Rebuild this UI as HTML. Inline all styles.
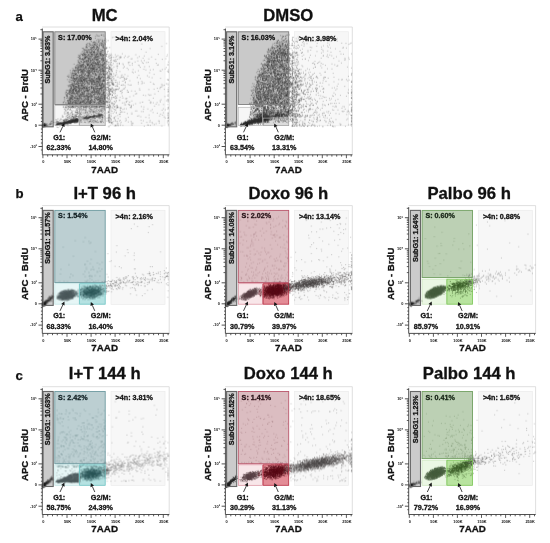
<!DOCTYPE html>
<html lang="en"><head><meta charset="utf-8"><title>Cell cycle analysis</title>
<style>html,body{margin:0;padding:0;background:#fff}svg{display:block;filter:blur(0.5px)}.d{filter:blur(0.45px)}text{font-family:"Liberation Sans",sans-serif;font-weight:700;fill:#111}</style></head>
<body><svg width="550" height="543" viewBox="0 0 550 543">
<rect width="550" height="543" fill="#fff"/>
<g><path d="M42.2 27H169.2V154.8" fill="none" stroke="#d6d6d6" stroke-width="0.8"/><rect x="111" y="31.7" width="54" height="94.1" fill="#f7f7f7" stroke="#ececec" stroke-width="0.7"/><rect x="54.8" y="31.8" width="50.4" height="72.7" fill="#c9c9c9" stroke="none" stroke-width="0"/><rect x="54.8" y="105.5" width="24.3" height="20.1" fill="#f6f6f6" stroke="none" stroke-width="0"/><rect x="79.6" y="105.5" width="25.6" height="20.1" fill="#dcdcdc" stroke="none" stroke-width="0"/><rect x="43.1" y="31.8" width="10.1" height="95" fill="#cbcbcb" stroke="none" stroke-width="0"/><g class="d" fill="none" stroke-linecap="round" stroke-width="5" transform="translate(42.6 31.5) scale(0.2)"><path d="M-1 471h0m0 1h0m1-3h0m0 11h0m1-7h0m1-3h0m0 5h0m2-3h0m0 1h0m0 3h0m1-13h0m1 12h0m1-9h0m0 3h0m0 1h0m0 2h0m0 2h0m1-6h0m0 2h0m0 5h0m1-6h0m0 2h0m1-10h0m2 7h0m1-4h0m0 6h0m1-2h0m1 0h0m1 0h0" stroke="#111" opacity="0.5"/><path d="M0 466h0m0 4h0m0 7h0m1-10h0m1 9h0m1-12h0m0 3h0m0 2h0m0 2h0m1-2h0m0 3h0m0 7h0m2-13h0m1-6h0m0 6h0m0 5h0m1-3h0m0 3h0m0 1h0m0 2h0m1-16h0m0 13h0m2-9h0m0 5h0m0 3h0m0 2h0m0 1h0m1-4h0m0 1h0m5-4h0" stroke="#111" opacity="0.5"/><path d="M3 466h0m3 4h0m0 4h0m1-10h0m0 5h0m0 4h0m2-11h0m0 8h0m0 3h0m0 3h0m1-3h0m0 1h0m1 2h0m2-16h0m0 9h0m2 6h0m2-9h0m2-4h0m0 12h0m1-6h0m0 6h0m2-12h0m1 8h0m4-2h0m7-4h0m1 4h0m1-8h0m2 4h0m3-3h0m1-7h0m0 10h0m2-15h0m1 10h0m2-11h0m8 6h0" stroke="#222" opacity="0.5"/><path d="M76 460h0m2 1h0m1-2h0m2-3h0m3 1h0m1 4h0m2-3h0m2 4h0m1-2h0m2 3h0m2-4h0m2 1h0m1-1h0m2 2h0m4-4h0m2-1h0m0 2h0m1 3h0m0 1h0m1-7h0m1 0h0m0 4h0m1-6h0m2 4h0m3-4h0m1-2h0m0 6h0m2 0h0m1-2h0m0 3h0m1-1h0m6-6h0m1-2h0m0 4h0m1 1h0m1-3h0m1 1h0m0 6h0m1-13h0m0 7h0m3-2h0m4 1h0m0 1h0m1-6h0m4 6h0m1 3h0m3-5h0m2-7h0m1 6h0m2-2h0m1-3h0m1 4h0m1 0h0m1 2h0m3-7h0m1-1h0m3-1h0m0 5h0m1 4h0m0 9h0m1-13h0m0 2h0m1 1h0m0 2h0m0 4h0m2-18h0m0 6h0m1 4h0m1-6h0m0 8h0m2-10h0m0 7h0m1 10h0m1-5h0m4-6h0m1-7h0m1 7h0" stroke="#2e2e2e" opacity="0.5"/><path d="M69 461h0m5 3h0m3 1h0m4-1h0m3-6h0m0 5h0m4-4h0m2-3h0m1 4h0m2-2h0m1 2h0m2 3h0m5-8h0m0 4h0m2 5h0m1 1h0m3-5h0m2-3h0m2 6h0m10-1h0m2-14h0m1 4h0m0 5h0m3-2h0m1-5h0m0 4h0m2-4h0m2 3h0m1-3h0m2 0h0m0 1h0m0 5h0m2 0h0m3-3h0m3-5h0m0 3h0m1-4h0m1 0h0m0 1h0m0 5h0m1-8h0m0 7h0m1 0h0m1 0h0m2 1h0m1-1h0m2-6h0m1-7h0m0 10h0m3-4h0m0 3h0m3-3h0m1-6h0m2 5h0m0 1h0m1 6h0m1-4h0m0 2h0m0 5h0m2-9h0m0 2h0m1-11h0m0 14h0m1 0h0m1-12h0m1-2h0m0 9h0m2-2h0m0 1h0m0 5h0m1-7h0m0 8h0m1-4h0m1-4h0m1-7h0m0 7h0m1 8h0m1-7h0" stroke="#2e2e2e" opacity="0.5"/><path d="M69 464h0m9 1h0m6-3h0m2 1h0m1-4h0m6-1h0m0 4h0m1-1h0m1 0h0m1 1h0m4-1h0m1-2h0m5 3h0m2-8h0m0 2h0m0 3h0m1-4h0m2-7h0m2 2h0m2 4h0m3 0h0m0 1h0m0 1h0m1-11h0m2 12h0m2-6h0m4 9h0m5-10h0m0 2h0m0 6h0m1 0h0m2-9h0m0 2h0m1-5h0m0 2h0m0 2h0m1 4h0m1 1h0m1-6h0m1 3h0m1 1h0m1-3h0m3 4h0m1-6h0m1-1h0m0 8h0m1-6h0m1-6h0m0 9h0m0 2h0m2-14h0m1 10h0m2 0h0m3 6h0m2-1h0m1-7h0m0 1h0m2-2h0m1-4h0m0 2h0m0 7h0m5-14h0m0 4h0m0 1h0m3-7h0m0 5h0m0 3h0m1-3h0m0 4h0m0 1h0m1-5h0m0 3h0m2-4h0m0 6h0m0 5h0m1-7h0m0 3h0m3 5h0m1-11h0" stroke="#2e2e2e" opacity="0.5"/><path d="M67 468h0m1 0h0m3 0h0m1-5h0m2 0h0m0 4h0m2-1h0m2-9h0m0 7h0m3 0h0m2-2h0m7-4h0m1 3h0m1-2h0m6 1h0m1-1h0m1 6h0m1-11h0m1 7h0m2-10h0m3 7h0m2 3h0m3-3h0m1 1h0m2-6h0m0 1h0m0 1h0m1 3h0m0 1h0m1-4h0m1-2h0m0 2h0m1-1h0m1 0h0m1 5h0m8-8h0m1-7h0m2 8h0m3 0h0m1-7h0m0 13h0m1-4h0m6-4h0m2 3h0m4-11h0m0 2h0m0 2h0m0 3h0m1-4h0m0 2h0m0 3h0m2-6h0m0 6h0m0 1h0m3-9h0m3 4h0m1-1h0m0 3h0m0 4h0m1-14h0m0 6h0m0 1h0m0 6h0m1-2h0m0 1h0m0 4h0m1-9h0m4-3h0m0 1h0m2 2h0m3 7h0m1-17h0m0 10h0m1 1h0m3-2h0m1 5h0" stroke="#2e2e2e" opacity="0.5"/><path d="M68 470h0m6-5h0m0 1h0m1-4h0m0 3h0m6-3h0m0 4h0m7-6h0m2-5h0m0 7h0m2-3h0m1 0h0m3 0h0m1-3h0m0 2h0m4 1h0m4 1h0m2-7h0m2 2h0m0 2h0m2-3h0m1 6h0m5 4h0m1-8h0m4 2h0m2-10h0m0 14h0m1-10h0m0 8h0m1 3h0m1-12h0m0 2h0m2 2h0m2-1h0m1-3h0m2-4h0m0 11h0m1-12h0m5-5h0m0 18h0m1-8h0m0 5h0m1-9h0m0 6h0m0 4h0m1-4h0m0 1h0m4-6h0m1-3h0m1-3h0m1-1h0m0 4h0m2-7h0m0 12h0m1-5h0m2-1h0m2 4h0m1-3h0m0 3h0m2 3h0m1-11h0m0 2h0m0 2h0m1 4h0m1-7h0m3 5h0m1-6h0m1 6h0m1 9h0m1-3h0m1-8h0m1 3h0m2-7h0m1 2h0m0 1h0m1 9h0m2-9h0m1 3h0" stroke="#2e2e2e" opacity="0.5"/><path d="M71 462h0m1 0h0m0 4h0m0 2h0m3-7h0m2 6h0m7-7h0m1 0h0m0 5h0m3 1h0m1-5h0m3 2h0m2-2h0m2-1h0m3-1h0m0 2h0m0 3h0m2-8h0m3 7h0m4-15h0m1 4h0m1 5h0m0 2h0m1-4h0m2-3h0m0 10h0m1-4h0m0 2h0m0 1h0m7-6h0m0 1h0m1-4h0m0 2h0m1 1h0m0 3h0m2-2h0m1-4h0m0 2h0m3 1h0m1 0h0m1-3h0m0 2h0m5-4h0m0 2h0m0 5h0m2-6h0m2-8h0m1 3h0m0 15h0m1-18h0m0 2h0m2 8h0m0 5h0m1-9h0m0 3h0m5-2h0m1 0h0m2-1h0m0 4h0m1-5h0m0 5h0m1-4h0m1-4h0m1 3h0m0 2h0m1-8h0m3 3h0m2 3h0m1-2h0m2-5h0m0 2h0m2-5h0m1 1h0m0 5h0m5-4h0m0 6h0m0 4h0m3-3h0m1-6h0" stroke="#2e2e2e" opacity="0.5"/><path d="M66 453h0m0 10h0m5-13h0m1 8h0m1-5h0m6-4h0m7 22h0m21-25h0m10-8h0m9 0h0m1 4h0m6 2h0m5 2h0m1 3h0m24-23h0m3-6h0m4 4h0m9-14h0m7 2h0m1 43h0m12-15h0m13-7h0m0 4h0m3-8h0m1 2h0m4 3h0m3-7h0m6 7h0m2-5h0m2 1h0m2-1h0m4-2h0m10-4h0m1 7h0m1-2h0m1-3h0m4-4h0m0 4h0m0 6h0m3-9h0m5 3h0m5-4h0m1 5h0m1-1h0m1 0h0m5-3h0m1-2h0m2-3h0m1 7h0m4-6h0m3 2h0m1 5h0m2-7h0m1-7h0m3 6h0m2-2h0" stroke="#3a3a3a" opacity="0.5"/><path d="M56 455h0m10-14h0m0 12h0m7 3h0m5-7h0m1 6h0m9 16h0m16-22h0m3-4h0m3 18h0m5-19h0m1-1h0m3-3h0m8 31h0m9-37h0m2 27h0m4-8h0m3-14h0m14-17h0m6 7h0m6-15h0m4 11h0m19 3h0m12 7h0m2 0h0m5-5h0m3-4h0m0 2h0m7 0h0m5-1h0m3 4h0m2 0h0m1-3h0m1 2h0m3-5h0m2 4h0m4-1h0m4-3h0m8 3h0m3 5h0m1-10h0m0 9h0m0 4h0m1-10h0m1-1h0m1-3h0m5-4h0m2 3h0m11-1h0m0 9h0m2-11h0m1 10h0m2-13h0m1 2h0m11 11h0m2-7h0" stroke="#3a3a3a" opacity="0.5"/><path d="M76 437h0m0 22h0m2-2h0m4 4h0m4-16h0m2 15h0m2-1h0m2-5h0m7 11h0m1-7h0m23-2h0m6-9h0m0 15h0m3-46h0m14 22h0m11-8h0m2 20h0m0 2h0m4-19h0m9 10h0m13-39h0m25 26h0m4 1h0m2-3h0m4-3h0m1 7h0m3 3h0m2 1h0m2-8h0m0 6h0m7-7h0m1 0h0m0 3h0m1-5h0m2 1h0m0 2h0m4 10h0m4-7h0m2-3h0m4-3h0m3-3h0m5-2h0m12 8h0m3-1h0m4-8h0m1 5h0m2-5h0m3 8h0m5-9h0m0 4h0m2-7h0m0 10h0m3-10h0m0 3h0m0 2h0m5 12h0" stroke="#3a3a3a" opacity="0.5"/><path d="M70 443h0m3 35h0m2-22h0m1 2h0m2 22h0m12-41h0m18 15h0m7-15h0m1 8h0m2-14h0m3 18h0m1-12h0m22-15h0m7 13h0m1-24h0m0 11h0m3 5h0m2 8h0m8 2h0m3-21h0m9-16h0m2 27h0m1 7h0m3-8h0m16-3h0m5 10h0m3-6h0m1 6h0m3-1h0m7 0h0m1-5h0m2 2h0m3 3h0m3-2h0m3-9h0m0 5h0m1 3h0m4-1h0m5-6h0m0 7h0m1-5h0m2 1h0m6-2h0m1 8h0m7-8h0m2-2h0m0 9h0m2-9h0m12 1h0m4-13h0m2 7h0m2-6h0m0 9h0m3-3h0m0 7h0m9-6h0" stroke="#3a3a3a" opacity="0.5"/><path d="M71 465h0m2-16h0m2 15h0m6 1h0m3-11h0m11 11h0m2-4h0m2-19h0m5 17h0m5-17h0m15 25h0m2-35h0m2 10h0m3-16h0m0 6h0m0 18h0m3-4h0m19-12h0m12-9h0m3 1h0m3-14h0m32 16h0m8 1h0m1 3h0m2 4h0m2-1h0m7-5h0m6 0h0m3 4h0m1-6h0m1 3h0m1-2h0m5-5h0m1 3h0m1-4h0m2 2h0m9 1h0m5-7h0m0 6h0m1 3h0m1-7h0m8 2h0m1 5h0m1-4h0m5 4h0m2-3h0m3-3h0m2-6h0m1 9h0m2-7h0m2 5h0m1-4h0m0 1h0m6-7h0m6 15h0m2-10h0" stroke="#3a3a3a" opacity="0.5"/><path d="M102 363h0m1 12h0m2 68h0m5-4h0m2-61h0m6-74h0m0 20h0m1-22h0m0 17h0m3-1h0m0 91h0m1-99h0m1 10h0m0 26h0m1-18h0m1 45h0m0 34h0m1-73h0m1 24h0m1 15h0m1-29h0m0 35h0m1-162h0m0 126h0m0 22h0m0 89h0m2-158h0m0 6h0m1 61h0m1-33h0m1-36h0m0 47h0m0 52h0m1-5h0m1-193h0m0 246h0m1-52h0m1-161h0m1 54h0m0 81h0m1-89h0m0 46h0m1 22h0m0 97h0m1-159h0m0 54h0m0 17h0m0 87h0m0 4h0m1-214h0m0 105h0m0 4h0m1 23h0m1 21h0m0 34h0m1-153h0m1 29h0m0 74h0m1-91h0m0 34h0m0 30h0m0 14h0m0 11h0m0 13h0m1-151h0m0 218h0m1-196h0m0 29h0m0 15h0m0 36h0m0 46h0m1-152h0m0 66h0m0 22h0m1-21h0m1-29h0m0 121h0m1-3h0m1-6h0m1-28h0m1-111h0m0 1h0m0 6h0m0 26h0m0 168h0m1-181h0m0 30h0m0 45h0m0 3h0m1-45h0m0 8h0m0 58h0m1-156h0m0 26h0m0 206h0m1-247h0m0 148h0m0 110h0m1-205h0m0 119h0m1-59h0m0 4h0m0 63h0m0 7h0m0 37h0m1-169h0m0 108h0m1-49h0m0 4h0m0 47h0m1-130h0m0 17h0m0 42h0m0 2h0m1-107h0m0 155h0m0 35h0m1-81h0m2 70h0m0 20h0m1-72h0m0 96h0m1-78h0m1-132h0m0 156h0m1-32h0m0 52h0m0 48h0m1-30h0m1-106h0m0 31h0m1-44h0m0 27h0m0 56h0m1-105h0m0 114h0m0 60h0m1-190h0m0 80h0m0 25h0m1 99h0m1-68h0m2-112h0m0 50h0m0 10h0m0 22h0m1-157h0m0 92h0m1-41h0m0 19h0m0 204h0m1-223h0m1-30h0m0 45h0m0 22h0m0 152h0m1-272h0m0 93h0m0 20h0m0 29h0m0 86h0m0 12h0m1-130h0m0 12h0m0 97h0m0 20h0m1-236h0m0 22h0m0 44h0m0 65h0m0 47h0m0 71h0m1-215h0m0 14h0m0 147h0m1-121h0m0 17h0m0 74h0m1-90h0m0 51h0m0 30h0m0 30h0m0 127h0m2-299h0m0 10h0m0 26h0m1-54h0m0 148h0m0 90h0m1-124h0m0 102h0m1-116h0m0 32h0m0 35h0m1 89h0m1-218h0m0 3h0m1-34h0m0 11h0m0 127h0m1-134h0m0 31h0m0 20h0m0 183h0m1-216h0m0 93h0m0 73h0m1-184h0m0 91h0m0 41h0m0 5h0m0 94h0m0 66h0m1-205h0m0 24h0m0 79h0m0 9h0m0 6h0m1-244h0m0 12h0m0 117h0m0 23h0m0 19h0m1-129h0m0 96h0m1-139h0m0 20h0m0 16h0m0 19h0m0 32h0m0 44h0m0 64h0m0 15h0m1-203h0m0 290h0m1-48h0m1-177h0m0 30h0m0 164h0m1-208h0m0 157h0m0 31h0m0 48h0m1-250h0m0 24h0m0 56h0m0 144h0m0 54h0m1-285h0m0 6h0m0 200h0m1-87h0m0 49h0m0 65h0m1-277h0m0 146h0m0 87h0m0 32h0m0 56h0m1-248h0m0 107h0m0 39h0m1-248h0m0 49h0m0 38h0m0 70h0m0 3h0m0 14h0m1 171h0m1-258h0m0 215h0m1-285h0m0 35h0m0 75h0m0 9h0m0 46h0m0 29h0m1 7h0m1-162h0m1 27h0m0 172h0m2-187h0m1-50h0m0 95h0m0 56h0m0 22h0m0 62h0m0 108h0m1-253h0m0 17h0m0 57h0m0 25h0m0 12h0m1-197h0m0 54h0m0 17h0m0 182h0m0 1h0m0 24h0m1-250h0m0 10h0m0 221h0m1-264h0m0 104h0m0 84h0m1-146h0m0 157h0m0 1h0m1-217h0m0 82h0m0 40h0m0 7h0m0 32h0m0 1h0m0 7h0m1-46h0m0 13h0m0 17h0m0 15h0m0 138h0m2-271h0m0 43h0m0 92h0m0 66h0m0 20h0m0 27h0m0 11h0m2 19h0m0 10h0m1-284h0m1 17h0m0 187h0m1-135h0m0 169h0m0 36h0m0 7h0m1-291h0m0 144h0m0 104h0m0 1h0m0 61h0m1-300h0m1-17h0m0 95h0m0 47h0m1-101h0m0 52h0m0 155h0m0 57h0m1-322h0m0 64h0m0 18h0m0 11h0m0 2h0m0 48h0m0 32h0m0 19h0m0 94h0m1-230h0m0 52h0m0 44h0m0 10h0m1-124h0m1 129h0m0 15h0m0 93h0m1-195h0m0 88h0m0 2h0m0 170h0m1-261h0m0 92h0m0 14h0m0 160h0m1-132h0m1-208h0m0 82h0m0 71h0m1-101h0m0 16h0m0 34h0m0 1h0m0 265h0m1-353h0m0 6h0m0 2h0m0 86h0m0 39h0m0 87h0m1-266h0m0 10h0m0 93h0m0 143h0m1-219h0m0 13h0m0 135h0m0 21h0m0 13h0m0 53h0m0 47h0m0 50h0m1-249h0m0 78h0m0 59h0m1-127h0m0 24h0m0 57h0m0 93h0m0 51h0m1-275h0m0 83h0m0 168h0m1-313h0m0 94h0m0 290h0m1-293h0m0 55h0m0 7h0m0 20h0m1-213h0m0 118h0m0 144h0m1-169h0m0 47h0m0 88h0m0 5h0m0 16h0m0 30h0m1-184h0m1 31h0m0 141h0m1-219h0m0 11h0m0 104h0m0 1h0m0 13h0m0 17h0m0 210h0m1-231h0m0 41h0m0 28h0m0 17h0m0 86h0m1-62h0m0 99h0m1-291h0m0 12h0m0 226h0m1-228h0m0 28h0m0 34h0m0 80h0m1-192h0m0 50h0m0 38h0m0 24h0m0 78h0m1-153h0m0 74h0m0 47h0m0 109h0m1-175h0m0 25h0m0 15h0m0 164h0m1-211h0m0 1h0m0 4h0m0 145h0m0 57h0m1-280h0m0 140h0m0 39h0m0 98h0m1-193h0m0 101h0m1-158h0m0 63h0m0 134h0m0 11h0m0 16h0m1-259h0m0 117h0m0 88h0m0 133h0m1-196h0m0 10h0m0 23h0m1 52h0m0 47h0m1-173h0m0 49h0m0 15h0m0 70h0m0 44h0m0 19h0m1-256h0m0 64h0m0 1h0m0 24h0m0 225h0m1-306h0m0 65h0m0 67h0m0 106h0m1-278h0m0 182h0m1-153h0m0 58h0m0 46h0m0 24h0m0 101h0m0 25h0m0 46h0m1-316h0m0 87h0m0 47h0m0 8h0m0 40h0m0 107h0m1-292h0m0 70h0m0 62h0m0 73h0m0 63h0m0 60h0m0 23h0m1-275h0m0 105h0m0 53h0m0 2h0m0 19h0m1-40h0m0 39h0m1-251h0m0 37h0m0 217h0m1-338h0m0 102h0m0 225h0m0 1h0m1-224h0m1-9h0m0 30h0m0 11h0m0 26h0m0 51h0m0 62h0m0 82h0m1-285h0m0 35h0m0 46h0m0 88h0m0 4h0m0 96h0m0 14h0m1-280h0m0 4h0m0 29h0m0 59h0m0 74h0m1-198h0m0 91h0m0 173h0m0 61h0m0 8h0m0 54h0m1-353h0m0 32h0m0 7h0m1 63h0m0 83h0m0 26h0m1-160h0m0 45h0m1-43h0m0 23h0m0 10h0m0 21h0m0 61h0m0 83h0m0 2h0m1-272h0m0 110h0m0 85h0m1-132h0m0 181h0m0 4h0m1-301h0m0 50h0m0 78h0m0 121h0m0 1h0m0 94h0m1-208h0m0 81h0m0 6h0m0 41h0m1-194h0m0 7h0m0 149h0m0 52h0m0 34h0m1-292h0m0 115h0m0 201h0m2-301h0m0 83h0m0 58h0m0 181h0m1-191h0m0 27h0m0 21h0m0 99h0m0 16h0m0 4h0m0 35h0m1-290h0m0 179h0m0 41h0m1-287h0m0 102h0m0 185h0m0 3h0m0 22h0m1-227h0m0 93h0m0 159h0m3-172h0m0 149h0m1-226h0m0 27h0m1 182h0m1-87h0m0 189h0m1-165h0m1-39h0m1 5h0m0 97h0m3-286h0m1 302h0m0 100h0m1-192h0m0 31h0m3-63h0m0 131h0m4-175h0m0 74h0m0 16h0m0 103h0m8-41h0m0 91h0m5-103h0m0 38h0m1-105h0m3 10h0m2 32h0m15-99h0m2 77h0m0 16h0m1-27h0m16 133h0m11-37h0m10-72h0m20 79h0" stroke="#383838" opacity="0.5"/><path d="M107 448h0m2-98h0m6 26h0m0 2h0m7-84h0m0 74h0m1-45h0m0 105h0m1-40h0m1-78h0m1 41h0m2 59h0m1-50h0m2-110h0m1 89h0m0 11h0m2-80h0m0 92h0m2-70h0m0 39h0m1-30h0m0 37h0m1-53h0m0 45h0m0 6h0m0 25h0m1-87h0m0 78h0m0 4h0m1-151h0m0 102h0m0 75h0m1-90h0m0 40h0m1-2h0m1 48h0m1-69h0m1-63h0m0 7h0m1 32h0m0 35h0m0 100h0m1-184h0m0 81h0m0 14h0m1-134h0m0 64h0m0 59h0m0 8h0m0 26h0m1-48h0m0 17h0m0 42h0m0 7h0m0 8h0m1-161h0m0 76h0m1-86h0m0 58h0m0 161h0m1-236h0m0 105h0m1-49h0m0 43h0m0 24h0m1-123h0m0 51h0m0 96h0m0 11h0m2-140h0m0 61h0m0 16h0m0 82h0m1-150h0m1-22h0m2 25h0m0 17h0m0 10h0m0 6h0m0 28h0m0 161h0m1-235h0m0 52h0m0 121h0m1-190h0m0 82h0m1 12h0m0 91h0m1-140h0m0 7h0m0 50h0m0 3h0m0 62h0m0 9h0m1-188h0m0 34h0m0 93h0m1-58h0m0 103h0m0 14h0m1-120h0m0 63h0m0 131h0m2-68h0m0 14h0m1-69h0m0 46h0m0 3h0m0 68h0m1-242h0m0 210h0m1-151h0m0 107h0m1-174h0m0 33h0m0 3h0m0 27h0m0 39h0m0 35h0m0 10h0m0 3h0m0 18h0m1-134h0m0 92h0m1-50h0m0 48h0m1-30h0m0 9h0m1 10h0m1-48h0m0 23h0m0 5h0m1 66h0m1-136h0m0 50h0m0 37h0m0 94h0m1-235h0m0 84h0m0 11h0m0 56h0m0 7h0m0 111h0m1-179h0m0 31h0m1 44h0m0 20h0m1-212h0m0 163h0m0 9h0m0 12h0m0 11h0m1-144h0m0 58h0m0 90h0m1-184h0m1-6h0m0 105h0m0 84h0m0 11h0m1-205h0m0 76h0m0 29h0m0 77h0m0 134h0m1-254h0m1-4h0m0 53h0m1 112h0m1-136h0m0 152h0m1-256h0m0 108h0m0 46h0m0 52h0m0 27h0m0 22h0m1-189h0m0 123h0m0 12h0m0 10h0m0 90h0m1-130h0m0 6h0m0 31h0m0 131h0m1-212h0m0 7h0m0 26h0m0 35h0m0 60h0m1-195h0m0 137h0m1-4h0m1-222h0m0 52h0m0 68h0m0 63h0m1-45h0m0 48h0m1-172h0m0 42h0m0 165h0m0 18h0m0 1h0m1-82h0m0 1h0m0 69h0m0 36h0m1-3h0m1-106h0m1-151h0m0 20h0m0 96h0m0 75h0m0 70h0m1-2h0m0 5h0m1-50h0m0 27h0m0 1h0m0 24h0m0 3h0m1-261h0m0 205h0m1-56h0m0 69h0m1-11h0m0 38h0m1-166h0m0 21h0m0 128h0m0 129h0m1-254h0m0 60h0m1-165h0m0 22h0m0 2h0m0 132h0m0 85h0m0 70h0m1-172h0m0 53h0m0 89h0m1-244h0m0 323h0m2-279h0m0 13h0m0 96h0m0 52h0m0 102h0m1-232h0m0 79h0m0 82h0m1-182h0m0 135h0m0 35h0m0 16h0m1-293h0m0 157h0m1 49h0m0 128h0m1-221h0m0 42h0m0 130h0m1-201h0m0 7h0m0 167h0m0 8h0m1-262h0m0 38h0m0 34h0m1 41h0m0 74h0m0 12h0m0 8h0m0 18h0m0 42h0m1-244h0m0 120h0m0 67h0m0 19h0m1-163h0m0 45h0m0 133h0m0 93h0m1-271h0m0 66h0m0 5h0m0 102h0m1-28h0m0 46h0m0 1h0m0 88h0m1-265h0m0 65h0m0 94h0m0 28h0m0 1h0m1-96h0m0 109h0m0 8h0m1-282h0m0 158h0m0 29h0m0 74h0m0 44h0m1-331h0m0 117h0m0 81h0m0 104h0m1-156h0m0 98h0m0 15h0m0 97h0m1-285h0m0 71h0m1-21h0m0 40h0m1 22h0m0 69h0m1-248h0m0 64h0m0 117h0m0 2h0m0 96h0m1-242h0m0 59h0m0 20h0m0 264h0m1-269h0m0 22h0m0 42h0m0 116h0m0 3h0m1-18h0m0 97h0m1-353h0m0 133h0m0 82h0m0 37h0m0 13h0m1-67h0m0 37h0m1-193h0m0 115h0m0 31h0m1-110h0m0 205h0m0 82h0m1-350h0m0 179h0m1-84h0m0 24h0m0 17h0m1 130h0m0 67h0m1-266h0m0 38h0m0 91h0m0 77h0m0 72h0m1-392h0m0 57h0m0 99h0m0 46h0m0 3h0m0 89h0m0 75h0m1-347h0m0 3h0m0 34h0m0 65h0m0 121h0m0 46h0m1-279h0m1 34h0m0 2h0m0 71h0m0 25h0m1-123h0m1 210h0m1-224h0m0 83h0m0 36h0m0 33h0m0 34h0m0 63h0m1-123h0m0 110h0m0 39h0m0 15h0m0 47h0m1-298h0m0 46h0m0 8h0m0 155h0m0 40h0m1-284h0m0 48h0m0 178h0m0 1h0m0 5h0m0 15h0m0 59h0m1-33h0m1-209h0m0 37h0m0 61h0m0 51h0m0 57h0m1-119h0m1-150h0m0 212h0m0 3h0m0 27h0m0 43h0m1-64h0m0 13h0m0 41h0m1-231h0m0 132h0m1-49h0m1-91h0m0 72h0m0 14h0m0 110h0m0 22h0m0 10h0m1-250h0m0 54h0m0 44h0m0 32h0m0 35h0m0 115h0m1-203h0m0 142h0m1-285h0m0 255h0m0 38h0m0 69h0m1-319h0m0 175h0m0 28h0m0 40h0m1-226h0m1 96h0m1-151h0m0 92h0m0 35h0m0 159h0m0 70h0m1-127h0m0 127h0m1-300h0m0 14h0m0 32h0m0 106h0m0 53h0m1-188h0m0 232h0m1-159h0m0 15h0m0 126h0m1-83h0m0 5h0m1-208h0m0 129h0m1-102h0m0 32h0m0 124h0m0 229h0m1-376h0m0 97h0m0 12h0m0 12h0m0 36h0m0 32h0m0 39h0m0 14h0m0 47h0m0 80h0m1-169h0m0 6h0m0 20h0m0 6h0m0 7h0m1-255h0m0 69h0m0 23h0m0 59h0m0 30h0m0 69h0m0 38h0m0 46h0m0 23h0m1-64h0m0 28h0m1-171h0m1-136h0m0 55h0m0 71h0m0 134h0m0 33h0m0 18h0m0 3h0m1-209h0m1-46h0m0 80h0m0 90h0m0 112h0m1-250h0m0 53h0m0 126h0m0 13h0m0 35h0m1-317h0m0 175h0m0 46h0m1-188h0m0 90h0m0 48h0m0 33h0m0 11h0m1-163h0m0 57h0m1-46h0m0 172h0m0 31h0m1-256h0m0 246h0m0 15h0m1-269h0m0 136h0m0 16h0m0 17h0m1-124h0m0 12h0m0 27h0m0 142h0m1-239h0m0 67h0m0 73h0m0 135h0m0 82h0m0 24h0m1-257h0m0 53h0m1 48h0m0 7h0m1-117h0m0 40h0m0 7h0m0 93h0m0 13h0m0 34h0m0 31h0m1-243h0m0 156h0m1-222h0m0 51h0m0 52h0m0 74h0m0 56h0m0 52h0m1-158h0m0 112h0m0 52h0m0 5h0m0 20h0m1-370h0m0 171h0m0 161h0m0 27h0m1-231h0m0 56h0m0 172h0m0 1h0m0 8h0m1-313h0m0 30h0m0 58h0m0 7h0m0 18h0m0 128h0m0 22h0m1-241h0m0 155h0m0 58h0m1-25h0m0 42h0m0 45h0m1-255h0m0 118h0m0 39h0m1-110h0m0 18h0m0 118h0m0 44h0m0 14h0m1-224h0m0 160h0m0 41h0m1-111h0m0 9h0m1-118h0m0 173h0m1-168h0m0 148h0m0 38h0m0 36h0m0 17h0m1-161h0m0 139h0m0 49h0m2-223h0m0 26h0m0 28h0m0 84h0m1-112h0m0 125h0m0 48h0m2-274h0m0 266h0m1-202h0m0 67h0m0 5h0m1 120h0m1-174h0m0 100h0m1 15h0m0 1h0m5-74h0m0 215h0m1-103h0m1-193h0m3-44h0m0 373h0m1-272h0m1 110h0m4 5h0m1-81h0m2 19h0m1 10h0m2 3h0m4 16h0m1-39h0m2 83h0m0 63h0m6 6h0m3-53h0m4-35h0m2-83h0m2 164h0m2 10h0m11 35h0m5-29h0m1-87h0m7-5h0m0 11h0m11-128h0m6 76h0m15 51h0" stroke="#383838" opacity="0.5"/><path d="M104 426h0m8-40h0m8 69h0m1-86h0m1-9h0m0 60h0m1-88h0m1-109h0m0 181h0m2-60h0m2 13h0m3-129h0m2 26h0m1 60h0m1 65h0m1-141h0m0 28h0m1 90h0m0 53h0m1-143h0m0 175h0m1-139h0m0 14h0m0 33h0m1-11h0m0 41h0m1-93h0m0 9h0m1-79h0m0 64h0m0 50h0m0 28h0m1 7h0m0 30h0m1-98h0m0 25h0m1-54h0m0 82h0m0 56h0m1-124h0m1-74h0m0 36h0m1 158h0m1-197h0m1 137h0m1-158h0m0 27h0m0 115h0m0 70h0m1-200h0m0 26h0m1 44h0m0 5h0m0 17h0m0 35h0m1-116h0m1 229h0m1-155h0m1-118h0m0 57h0m0 75h0m0 12h0m1 40h0m1-139h0m0 125h0m0 21h0m1-118h0m0 23h0m1 94h0m0 65h0m1-49h0m1-52h0m0 34h0m1-154h0m0 6h0m0 74h0m0 68h0m1-125h0m0 79h0m0 36h0m0 40h0m0 41h0m1-13h0m1-188h0m0 58h0m0 70h0m0 24h0m0 38h0m0 29h0m1-196h0m0 48h0m0 60h0m1-110h0m0 65h0m0 65h0m1-183h0m0 79h0m0 108h0m1-142h0m0 49h0m0 115h0m1-84h0m1-30h0m0 22h0m0 33h0m0 29h0m1-196h0m0 75h0m1-74h0m1 94h0m0 4h0m0 51h0m1-161h0m0 23h0m0 25h0m0 29h0m0 39h0m0 72h0m0 11h0m0 8h0m0 7h0m1-199h0m0 13h0m0 182h0m1-217h0m0 134h0m1-153h0m0 73h0m0 116h0m1-96h0m0 74h0m1-143h0m0 39h0m0 58h0m1-79h0m0 21h0m0 92h0m0 88h0m1-45h0m0 36h0m1-228h0m0 54h0m0 72h0m0 14h0m0 58h0m0 30h0m1-80h0m0 5h0m0 57h0m1-187h0m0 24h0m0 135h0m0 123h0m2-321h0m1 28h0m0 215h0m1-251h0m0 119h0m0 80h0m0 66h0m1-84h0m0 150h0m1-268h0m0 27h0m0 47h0m0 22h0m1-39h0m0 61h0m0 61h0m0 49h0m1-249h0m0 92h0m0 111h0m1-157h0m1-97h0m0 22h0m0 85h0m0 64h0m0 62h0m1-138h0m1-81h0m0 1h0m0 170h0m0 17h0m1-121h0m0 133h0m1-198h0m0 95h0m0 68h0m0 87h0m1-202h0m1-12h0m0 19h0m0 41h0m0 14h0m0 31h0m0 116h0m0 13h0m1-218h0m0 28h0m1 5h0m0 177h0m1-148h0m0 78h0m1-66h0m0 98h0m1-228h0m0 35h0m0 40h0m1 30h0m0 51h0m0 21h0m0 88h0m1-185h0m1-79h0m0 115h0m0 52h0m0 55h0m0 30h0m1-235h0m0 131h0m0 103h0m1-233h0m1 78h0m0 31h0m0 122h0m1-236h0m0 109h0m1-144h0m0 28h0m0 15h0m0 258h0m0 49h0m1-352h0m0 59h0m0 10h0m0 134h0m1-197h0m0 256h0m0 25h0m1-141h0m1-170h0m0 61h0m0 117h0m0 73h0m0 32h0m1-258h0m0 70h0m0 56h0m0 96h0m1-212h0m0 1h0m0 119h0m0 60h0m0 122h0m1-297h0m1 40h0m0 208h0m0 19h0m1-76h0m0 44h0m0 90h0m0 5h0m1-268h0m0 37h0m0 124h0m0 7h0m1-223h0m0 53h0m0 21h0m0 156h0m1-222h0m0 10h0m0 88h0m0 58h0m0 21h0m0 14h0m0 20h0m1-219h0m0 34h0m0 57h0m0 137h0m1-224h0m0 37h0m0 24h0m0 28h0m0 3h0m0 115h0m0 130h0m1-381h0m0 122h0m0 65h0m1-156h0m0 10h0m0 284h0m1-205h0m0 69h0m0 25h0m0 9h0m0 154h0m1-276h0m0 36h0m0 9h0m0 42h0m0 96h0m1-260h0m0 77h0m0 79h0m0 196h0m1-255h0m1-36h0m1-69h0m0 16h0m0 33h0m0 157h0m0 53h0m1-197h0m0 156h0m0 10h0m1-253h0m0 15h0m0 64h0m0 24h0m0 131h0m0 104h0m1-228h0m0 101h0m0 116h0m0 54h0m1-280h0m0 211h0m1-255h0m0 40h0m0 41h0m0 111h0m1 8h0m0 18h0m1-183h0m0 100h0m0 7h0m0 82h0m1-251h0m0 165h0m0 23h0m1-187h0m0 4h0m0 11h0m0 72h0m0 127h0m0 30h0m1-167h0m0 22h0m0 132h0m1-159h0m0 154h0m1-198h0m0 60h0m0 22h0m0 37h0m1 125h0m1 75h0m0 3h0m1-300h0m0 119h0m0 17h0m0 117h0m0 21h0m1-332h0m0 29h0m0 72h0m0 126h0m0 1h0m0 60h0m0 50h0m1-373h0m0 106h0m0 52h0m0 78h0m0 14h0m0 27h0m1-158h0m1-93h0m0 93h0m0 10h0m0 46h0m0 29h0m1-206h0m0 203h0m0 99h0m1-234h0m0 209h0m0 44h0m1-271h0m0 13h0m0 56h0m0 26h0m1-143h0m0 78h0m0 67h0m0 25h0m0 20h0m0 100h0m0 32h0m0 69h0m1-320h0m0 30h0m0 31h0m0 266h0m1-329h0m0 59h0m0 30h0m0 4h0m0 98h0m1-50h0m0 67h0m0 54h0m1-307h0m1 180h0m0 17h0m1-184h0m0 29h0m0 7h0m0 188h0m0 60h0m1-157h0m0 22h0m0 126h0m1-224h0m0 92h0m0 39h0m0 33h0m0 19h0m0 49h0m0 4h0m1-253h0m0 3h0m0 159h0m0 4h0m1-209h0m0 6h0m0 166h0m0 7h0m0 13h0m0 19h0m1-184h0m0 58h0m0 49h0m0 126h0m0 110h0m1-385h0m0 70h0m0 113h0m0 26h0m1-137h0m0 148h0m0 46h0m0 86h0m1-325h0m0 190h0m0 20h0m0 25h0m0 15h0m0 16h0m0 95h0m1-326h0m0 105h0m0 122h0m0 11h0m1-315h0m0 85h0m0 66h0m0 21h0m0 30h0m0 6h0m0 66h0m0 30h0m1-234h0m0 18h0m0 24h0m0 188h0m0 43h0m1-296h0m0 147h0m0 3h0m0 80h0m1-228h0m0 131h0m0 129h0m1-244h0m0 81h0m0 141h0m1-254h0m0 23h0m0 307h0m1-176h0m0 13h0m0 15h0m0 105h0m0 39h0m1-286h0m0 41h0m0 70h0m0 9h0m1-99h0m0 32h0m0 60h0m0 50h0m1-19h0m0 20h0m0 65h0m1-115h0m1-128h0m0 323h0m1-392h0m0 163h0m0 161h0m1-168h0m0 60h0m0 59h0m1-95h0m0 48h0m0 57h0m1-227h0m0 91h0m0 26h0m0 69h0m0 168h0m1-346h0m0 155h0m0 17h0m0 82h0m1-220h0m0 74h0m0 140h0m1-299h0m0 215h0m0 24h0m0 38h0m0 81h0m0 26h0m1-371h0m0 195h0m0 110h0m1-89h0m0 65h0m0 8h0m0 88h0m1-279h0m0 5h0m0 167h0m1-245h0m0 43h0m0 46h0m0 66h0m0 86h0m1-289h0m0 1h0m0 33h0m0 180h0m1-11h0m0 47h0m0 39h0m0 82h0m1-297h0m0 12h0m0 2h0m0 11h0m0 18h0m0 29h0m0 35h0m0 19h0m0 65h0m0 7h0m1-252h0m0 164h0m0 8h0m1-43h0m0 18h0m0 59h0m1-155h0m0 188h0m0 45h0m0 24h0m1-310h0m0 128h0m1 66h0m1-171h0m0 19h0m0 37h0m0 69h0m0 16h0m0 101h0m0 46h0m1-329h0m0 178h0m0 80h0m0 13h0m0 53h0m0 37h0m1-136h0m0 1h0m0 51h0m0 41h0m0 3h0m1-193h0m1 8h0m0 137h0m0 36h0m0 20h0m1-313h0m0 190h0m0 64h0m1 15h0m1-174h0m1-116h0m0 239h0m1-44h0m0 54h0m1-175h0m0 172h0m2 160h0m1-262h0m0 75h0m0 92h0m1-202h0m0 54h0m0 102h0m0 15h0m0 6h0m1-225h0m0 79h0m0 75h0m0 111h0m3-138h0m0 150h0m1-281h0m2 198h0m1 16h0m1-94h0m2 113h0m1-29h0m1 7h0m0 28h0m0 116h0m2-272h0m1 195h0m2-210h0m1 59h0m2-11h0m4 67h0m1 22h0m1 14h0m2-52h0m1 24h0m6 75h0m3-72h0m8 53h0m8-55h0m18-61h0m6 19h0m7-6h0m27 111h0m65 0h0" stroke="#383838" opacity="0.5"/><path d="M104 355h0m5-26h0m4 27h0m2 55h0m2-97h0m0 42h0m0 68h0m1 20h0m2 6h0m4-126h0m0 93h0m1-40h0m2-81h0m2-69h0m0 159h0m1 30h0m1-106h0m1-7h0m0 53h0m1-57h0m0 67h0m1-75h0m0 86h0m1-131h0m1 114h0m1 13h0m1-48h0m1-9h0m0 114h0m1-135h0m0 71h0m1-31h0m0 31h0m0 4h0m1-137h0m0 77h0m0 18h0m1-45h0m1 5h0m0 33h0m0 56h0m1-150h0m0 6h0m0 79h0m0 21h0m1-90h0m0 77h0m0 20h0m0 22h0m1-59h0m1-34h0m0 22h0m0 48h0m0 36h0m1-66h0m0 102h0m0 12h0m1-127h0m0 20h0m0 24h0m0 28h0m0 2h0m1-25h0m1-115h0m0 9h0m0 30h0m0 34h0m0 52h0m1-59h0m0 72h0m0 69h0m1-159h0m0 21h0m0 65h0m0 13h0m1-134h0m0 64h0m0 143h0m1-184h0m1-70h0m0 37h0m0 43h0m0 81h0m1-46h0m0 65h0m1-96h0m0 32h0m0 141h0m1-203h0m0 19h0m2 45h0m0 21h0m1-122h0m0 52h0m1-81h0m0 99h0m1-107h0m0 88h0m1-54h0m0 24h0m0 120h0m2-113h0m0 20h0m0 36h0m0 37h0m1 18h0m1-173h0m0 61h0m0 85h0m0 9h0m0 39h0m1-35h0m0 20h0m1-165h0m0 11h0m1 47h0m0 91h0m1 106h0m1-193h0m0 94h0m1-204h0m0 43h0m0 18h0m0 59h0m0 36h0m0 34h0m0 103h0m1-257h0m0 9h0m0 9h0m0 134h0m1-64h0m0 42h0m1-111h0m1 29h0m0 33h0m0 35h0m1-142h0m0 92h0m0 46h0m0 66h0m1-80h0m1-44h0m0 182h0m1-258h0m0 63h0m0 2h0m0 79h0m1 58h0m1-228h0m0 91h0m0 109h0m0 46h0m1-211h0m0 194h0m1-185h0m0 79h0m0 98h0m1-4h0m0 4h0m0 2h0m1-184h0m0 15h0m0 12h0m0 97h0m0 1h0m0 35h0m0 83h0m1-234h0m0 8h0m0 30h0m0 142h0m0 4h0m0 6h0m1-203h0m0 33h0m0 32h0m0 108h0m0 26h0m1-29h0m0 24h0m0 13h0m1-128h0m0 11h0m0 27h0m0 98h0m1-191h0m0 238h0m1-167h0m0 6h0m1-97h0m0 19h0m0 31h0m0 131h0m1-186h0m0 12h0m0 38h0m0 17h0m0 16h0m0 103h0m0 17h0m1-202h0m0 91h0m0 87h0m0 6h0m0 82h0m1-294h0m0 93h0m1 90h0m0 22h0m1-234h0m0 148h0m0 43h0m0 70h0m0 58h0m1-265h0m0 78h0m0 51h0m1-52h0m0 29h0m0 25h0m1-189h0m0 79h0m0 5h0m0 62h0m0 118h0m1-237h0m0 3h0m0 90h0m0 150h0m0 50h0m1-242h0m0 54h0m0 8h0m0 31h0m0 32h0m0 45h0m1-253h0m0 149h0m1-116h0m0 83h0m0 12h0m0 7h0m0 17h0m0 44h0m0 1h0m1-21h0m0 32h0m1-222h0m0 279h0m1-229h0m0 161h0m1-114h0m1 54h0m0 108h0m1-219h0m0 48h0m0 105h0m0 10h0m1-167h0m0 172h0m0 30h0m0 70h0m1-316h0m0 177h0m1 109h0m1-57h0m1-208h0m1 16h0m0 102h0m0 54h0m1-147h0m0 9h0m0 46h0m0 21h0m0 166h0m1-203h0m0 108h0m0 24h0m0 39h0m0 70h0m1-305h0m0 66h0m0 96h0m0 30h0m0 58h0m1-292h0m0 113h0m0 49h0m0 8h0m0 15h0m0 57h0m1-131h0m0 28h0m2-79h0m0 15h0m0 30h0m0 33h0m0 9h0m0 14h0m1 2h0m0 23h0m0 17h0m0 33h0m0 61h0m1-192h0m0 6h0m0 34h0m0 131h0m0 27h0m1-260h0m0 92h0m0 25h0m0 5h0m1-78h0m0 176h0m0 47h0m2-192h0m0 58h0m0 93h0m1-132h0m0 91h0m0 27h0m0 43h0m1-182h0m0 1h0m0 273h0m1-247h0m0 86h0m0 58h0m0 8h0m0 7h0m0 27h0m0 13h0m1-275h0m0 92h0m0 142h0m1-211h0m0 197h0m0 6h0m0 8h0m1-133h0m0 212h0m1-337h0m0 53h0m0 68h0m1-144h0m0 46h0m0 97h0m0 11h0m0 23h0m0 4h0m0 51h0m0 60h0m0 8h0m1-293h0m0 59h0m1-59h0m0 28h0m1 86h0m0 39h0m0 66h0m0 39h0m0 21h0m0 3h0m1-222h0m0 31h0m0 101h0m0 18h0m0 8h0m1-172h0m0 122h0m0 87h0m1-262h0m0 63h0m0 11h0m0 57h0m0 156h0m0 60h0m1-200h0m0 22h0m0 50h0m0 7h0m0 87h0m1-220h0m0 104h0m0 77h0m1-199h0m0 95h0m1-67h0m0 52h0m0 3h0m0 216h0m1-348h0m0 30h0m0 22h0m0 23h0m0 168h0m0 21h0m1-227h0m0 104h0m0 110h0m0 19h0m0 35h0m1-121h0m0 31h0m1-268h0m0 40h0m0 59h0m0 32h0m0 64h0m0 49h0m0 18h0m1-30h0m0 76h0m0 65h0m1-349h0m0 187h0m0 24h0m1-184h0m0 96h0m0 64h0m0 31h0m0 47h0m1-236h0m0 128h0m0 76h0m0 43h0m1-245h0m0 149h0m0 55h0m0 138h0m1-360h0m0 70h0m0 18h0m1-120h0m0 32h0m0 272h0m0 45h0m1-373h0m0 177h0m1 92h0m1-249h0m0 147h0m0 173h0m1-122h0m1 5h0m0 116h0m1-259h0m0 4h0m0 292h0m0 12h0m1-305h0m1 27h0m0 93h0m0 14h0m0 79h0m0 10h0m1-198h0m0 51h0m0 146h0m1-241h0m0 79h0m0 108h0m0 10h0m1-231h0m0 14h0m0 165h0m0 32h0m0 42h0m1-42h0m0 38h0m1-72h0m1-153h0m0 48h0m0 242h0m1-253h0m0 74h0m0 99h0m0 8h0m0 34h0m0 114h0m1-411h0m0 104h0m0 9h0m0 95h0m0 5h0m0 51h0m1 24h0m0 62h0m1-168h0m0 61h0m1-263h0m0 139h0m1-94h0m0 180h0m0 67h0m1-135h0m0 33h0m0 59h0m0 89h0m1-228h0m0 17h0m0 87h0m0 29h0m0 3h0m0 27h0m0 12h0m0 3h0m1-72h0m0 21h0m0 106h0m1-151h0m0 200h0m1-248h0m0 44h0m0 1h0m0 24h0m0 17h0m0 93h0m0 23h0m0 82h0m1-341h0m0 137h0m0 22h0m0 183h0m1-252h0m0 75h0m0 94h0m1-95h0m0 72h0m1 54h0m1-264h0m0 78h0m0 34h0m0 22h0m1-173h0m0 199h0m0 26h0m0 71h0m0 62h0m1-388h0m0 99h0m0 103h0m0 49h0m0 70h0m1-370h0m0 122h0m0 29h0m0 21h0m0 135h0m0 43h0m1-326h0m0 115h0m0 32h0m0 79h0m1-217h0m0 230h0m0 93h0m1-178h0m0 158h0m0 5h0m1-286h0m1 3h0m0 38h0m0 96h0m0 73h0m1-206h0m0 28h0m0 16h0m0 43h0m0 6h0m1-88h0m0 38h0m0 24h0m0 37h0m0 62h0m0 24h0m0 187h0m1-208h0m0 118h0m1-282h0m0 13h0m0 31h0m0 18h0m0 53h0m0 120h0m0 46h0m1-280h0m0 34h0m0 100h0m0 131h0m1-84h0m0 62h0m0 67h0m1-277h0m0 220h0m1-182h0m0 65h0m0 117h0m0 29h0m1-166h0m0 14h0m0 35h0m0 84h0m0 25h0m1-158h0m1 142h0m1-295h0m0 19h0m0 151h0m0 20h0m0 54h0m1-104h0m0 76h0m1-124h0m1-53h0m1-33h0m0 125h0m1 174h0m4-168h0m0 24h0m1 126h0m0 19h0m0 28h0m1-169h0m1-98h0m2 16h0m1 118h0m0 185h0m1-236h0m0 95h0m0 88h0m1-118h0m0 141h0m4-269h0m0 152h0m1-97h0m0 40h0m0 39h0m1 48h0m1-44h0m0 19h0m1-77h0m2-47h0m0 22h0m0 124h0m6 143h0m3-197h0m2-16h0m2 88h0m2-118h0m8 43h0m8 17h0m1-111h0m1 212h0m0 78h0m3-223h0m1 208h0m5-173h0m11 6h0m8-40h0m4 59h0m4-53h0" stroke="#383838" opacity="0.5"/><path d="M92 450h0m7-23h0m6-60h0m2 76h0m3-55h0m0 14h0m5-92h0m1 54h0m1 3h0m0 4h0m2-38h0m0 47h0m1-87h0m1 100h0m1-80h0m3 118h0m2-75h0m1-5h0m0 35h0m0 17h0m1-94h0m0 50h0m1-11h0m0 26h0m1-70h0m1 21h0m0 31h0m0 98h0m1-144h0m1 25h0m0 9h0m1-33h0m0 56h0m1-27h0m0 17h0m1-87h0m0 98h0m0 84h0m1-156h0m0 121h0m1-126h0m1 85h0m1-133h0m1-32h0m0 66h0m1-57h0m1 210h0m1-167h0m0 44h0m2-46h0m0 6h0m0 176h0m1-231h0m0 140h0m1-55h0m0 63h0m1-125h0m0 70h0m0 64h0m0 56h0m1-103h0m1-103h0m0 47h0m0 10h0m0 50h0m0 29h0m1-124h0m0 2h0m0 144h0m1-76h0m0 78h0m0 49h0m1-139h0m0 44h0m0 105h0m2-222h0m0 208h0m1-137h0m1-92h0m0 6h0m0 45h0m0 4h0m0 37h0m0 56h0m1-36h0m0 59h0m0 69h0m1-238h0m0 41h0m0 81h0m0 15h0m1-1h0m0 13h0m0 26h0m1-128h0m1-31h0m0 111h0m1-112h0m0 222h0m1-257h0m0 9h0m0 7h0m0 53h0m0 18h0m0 20h0m0 74h0m1-148h0m0 65h0m0 17h0m0 33h0m1-65h0m0 30h0m1 2h0m0 16h0m1-77h0m0 26h0m0 135h0m0 31h0m1-225h0m1-22h0m0 58h0m0 140h0m0 21h0m1-131h0m0 37h0m0 102h0m1-175h0m0 4h0m0 18h0m0 112h0m0 22h0m1-43h0m0 102h0m1-270h0m1-45h0m1 48h0m0 66h0m0 135h0m0 49h0m1-235h0m0 5h0m0 85h0m1-117h0m0 14h0m0 28h0m0 116h0m0 9h0m0 39h0m1-177h0m0 77h0m0 113h0m1-201h0m0 86h0m0 23h0m0 51h0m0 83h0m1-128h0m1-121h0m0 53h0m0 20h0m0 150h0m1-278h0m0 13h0m0 59h0m0 65h0m0 101h0m0 62h0m1-257h0m1-39h0m0 45h0m0 81h0m0 104h0m1-160h0m1 192h0m0 38h0m1-107h0m0 23h0m0 107h0m1-296h0m0 97h0m0 28h0m0 38h0m0 78h0m1-245h0m0 92h0m0 26h0m0 17h0m1-112h0m0 57h0m0 145h0m0 69h0m1-293h0m0 30h0m1-41h0m0 59h0m0 10h0m0 44h0m0 25h0m1-113h0m0 106h0m1-75h0m0 34h0m0 34h0m1-27h0m0 14h0m0 4h0m0 29h0m0 2h0m0 56h0m1-171h0m0 34h0m0 25h0m0 29h0m1-115h0m1-25h0m0 107h0m0 87h0m0 4h0m0 77h0m1-230h0m0 122h0m1-201h0m0 105h0m0 5h0m0 121h0m0 21h0m0 20h0m0 81h0m1-273h0m1 45h0m0 68h0m0 14h0m0 19h0m0 56h0m1-273h0m0 66h0m0 110h0m0 51h0m1 27h0m1 75h0m0 14h0m1-281h0m0 14h0m0 33h0m0 46h0m0 31h0m0 5h0m1-152h0m0 48h0m0 58h0m0 124h0m0 10h0m0 20h0m1-278h0m1-6h0m0 21h0m0 192h0m0 21h0m0 5h0m0 42h0m1-258h0m1 115h0m0 88h0m1-140h0m0 25h0m0 39h0m0 16h0m0 52h0m1-213h0m0 112h0m1-143h0m0 49h0m0 46h0m0 56h0m0 47h0m0 93h0m1-296h0m0 217h0m1-145h0m0 39h0m0 61h0m0 73h0m0 19h0m0 97h0m1-311h0m0 17h0m0 12h0m0 124h0m0 72h0m0 51h0m1-181h0m1 69h0m0 78h0m1-198h0m0 67h0m0 60h0m0 28h0m0 50h0m1-232h0m0 104h0m1-180h0m0 190h0m0 101h0m0 86h0m1-262h0m0 146h0m1-145h0m0 46h0m0 77h0m1-161h0m0 21h0m0 69h0m0 72h0m0 7h0m1-183h0m0 86h0m2-78h0m0 2h0m0 42h0m0 25h0m0 2h0m0 96h0m0 6h0m1-200h0m0 233h0m1-113h0m1 48h0m0 104h0m1-264h0m0 126h0m0 77h0m1-264h0m0 8h0m0 72h0m0 45h0m0 46h0m0 41h0m1-100h0m0 33h0m0 32h0m0 77h0m0 22h0m0 46h0m1-199h0m0 141h0m1-200h0m0 66h0m0 157h0m1-201h0m0 220h0m1-243h0m0 68h0m1-143h0m0 38h0m0 105h0m0 63h0m0 68h0m1-250h0m0 24h0m0 103h0m0 18h0m0 75h0m1-128h0m0 83h0m0 57h0m1-70h0m0 19h0m0 5h0m0 5h0m0 22h0m0 38h0m0 5h0m0 9h0m0 39h0m1-263h0m0 4h0m0 87h0m0 104h0m0 11h0m0 50h0m0 11h0m1-287h0m0 32h0m0 59h0m0 4h0m0 52h0m1-156h0m0 37h0m0 49h0m0 136h0m0 57h0m1-223h0m0 185h0m1-132h0m1 93h0m0 114h0m1-231h0m1-112h0m0 23h0m0 130h0m0 71h0m1-92h0m0 91h0m0 24h0m1-107h0m0 28h0m0 47h0m0 18h0m1-45h0m0 159h0m1-303h0m0 85h0m0 14h0m0 4h0m1 49h0m0 85h0m1-263h0m0 28h0m0 32h0m0 51h0m0 17h0m0 49h0m0 24h0m0 81h0m1-179h0m0 30h0m0 160h0m1-245h0m0 116h0m0 87h0m0 76h0m2-246h0m0 279h0m1-301h0m0 119h0m0 123h0m1-93h0m0 44h0m0 23h0m1-208h0m0 48h0m0 27h0m0 118h0m1-268h0m0 64h0m0 8h0m0 24h0m0 1h0m0 4h0m0 28h0m0 258h0m1-86h0m0 82h0m1-321h0m0 13h0m0 93h0m0 66h0m0 34h0m0 1h0m0 45h0m0 6h0m1-84h0m1-174h0m0 31h0m0 3h0m0 14h0m1-97h0m0 20h0m0 46h0m0 104h0m1-11h0m0 60h0m0 17h0m0 57h0m0 15h0m1-274h0m0 147h0m2-180h0m0 41h0m0 82h0m0 99h0m1-144h0m0 116h0m1-187h0m0 167h0m0 38h0m0 49h0m0 14h0m0 57h0m1-359h0m0 75h0m0 111h0m1-146h0m0 70h0m0 73h0m0 100h0m0 27h0m1-296h0m0 100h0m0 48h0m0 22h0m0 18h0m0 73h0m0 75h0m0 9h0m1-362h0m0 103h0m0 70h0m0 113h0m1-263h0m0 99h0m1-20h0m0 1h0m0 196h0m0 31h0m1-108h0m1-208h0m0 86h0m0 87h0m0 99h0m1-219h0m0 16h0m0 190h0m0 7h0m0 13h0m0 3h0m1-234h0m0 44h0m0 16h0m0 114h0m1-179h0m0 130h0m0 113h0m1-66h0m0 25h0m0 25h0m0 33h0m1-251h0m0 114h0m0 23h0m0 114h0m1-234h0m0 153h0m0 87h0m1-173h0m0 85h0m0 88h0m0 2h0m0 25h0m0 50h0m1-264h0m0 90h0m0 14h0m0 105h0m2-222h0m0 73h0m0 17h0m1 14h0m0 54h0m0 5h0m0 93h0m1-204h0m0 36h0m0 177h0m1-302h0m0 108h0m0 13h0m1-109h0m0 186h0m0 9h0m1-176h0m0 31h0m0 18h0m1 15h0m0 78h0m0 2h0m0 88h0m1-186h0m0 33h0m0 44h0m1 3h0m0 48h0m1-129h0m0 145h0m1-226h0m0 83h0m0 33h0m0 2h0m0 27h0m1-196h0m0 190h0m0 58h0m0 7h0m1-279h0m0 326h0m0 5h0m1-212h0m0 184h0m0 64h0m1-256h0m0 13h0m0 20h0m0 29h0m0 93h0m0 25h0m1-129h0m0 28h0m1-86h0m0 202h0m0 30h0m0 48h0m1-356h0m0 202h0m1-4h0m1-134h0m0 23h0m0 59h0m0 12h0m2-156h0m0 64h0m0 62h0m2-131h0m0 43h0m0 38h0m0 218h0m1-298h0m0 32h0m0 149h0m2-41h0m0 21h0m2-39h0m0 50h0m0 60h0m2-132h0m0 174h0m4 20h0m1-177h0m2 2h0m3 153h0m1 16h0m2-136h0m3-107h0m1 127h0m1-122h0m2 36h0m0 91h0m2 38h0m2 1h0m2-33h0m4-29h0m3 113h0m5 96h0m4-154h0m4 29h0m15-88h0m5 151h0m9-51h0m18-94h0m0 113h0m7-49h0m44 8h0" stroke="#383838" opacity="0.5"/><path d="M91 436h0m8-15h0m4-42h0m1-26h0m5-17h0m0 75h0m1-82h0m1 13h0m2 51h0m3-91h0m0 97h0m4-79h0m0 60h0m2-12h0m2-23h0m1-105h0m1 53h0m1-24h0m1 6h0m3-51h0m0 91h0m1-40h0m0 101h0m0 54h0m1-68h0m0 61h0m2-123h0m2-10h0m0 15h0m0 29h0m0 9h0m0 4h0m0 18h0m1-113h0m0 93h0m1 6h0m2-48h0m0 48h0m1-78h0m1-46h0m0 138h0m1-83h0m0 17h0m0 106h0m0 27h0m1-169h0m1 112h0m2-1h0m1-42h0m0 42h0m1-16h0m1-103h0m0 39h0m0 11h0m0 63h0m0 45h0m1-179h0m0 198h0m1-139h0m0 5h0m0 66h0m1-135h0m0 122h0m1-133h0m0 54h0m0 3h0m0 177h0m1-165h0m0 22h0m0 56h0m1-107h0m0 13h0m0 33h0m1-66h0m0 12h0m1 80h0m0 117h0m1-87h0m1 53h0m1-199h0m0 183h0m1-121h0m1-63h0m0 62h0m0 23h0m0 64h0m1-75h0m0 92h0m1-92h0m0 25h0m0 92h0m1-142h0m0 92h0m1-158h0m0 13h0m0 69h0m0 144h0m1-202h0m0 74h0m0 11h0m1-80h0m0 82h0m0 63h0m1-135h0m0 94h0m0 124h0m1-199h0m0 50h0m1-114h0m0 213h0m1 8h0m1-38h0m0 64h0m1-195h0m0 30h0m0 9h0m0 34h0m0 8h0m0 54h0m1-177h0m0 134h0m1-124h0m0 45h0m0 4h0m1 42h0m1-183h0m0 74h0m0 47h0m0 3h0m0 31h0m0 75h0m0 15h0m0 5h0m0 11h0m1-238h0m0 211h0m0 14h0m1-142h0m0 61h0m1 3h0m0 37h0m1-203h0m0 94h0m0 64h0m0 56h0m1 10h0m1-187h0m0 109h0m0 157h0m1-221h0m0 67h0m0 25h0m0 31h0m1-98h0m0 54h0m0 4h0m0 25h0m0 17h0m0 22h0m0 4h0m1-179h0m0 70h0m0 74h0m0 47h0m1-195h0m0 195h0m0 44h0m1-168h0m0 71h0m0 120h0m1-191h0m1-74h0m0 68h0m0 5h0m1-45h0m0 23h0m0 26h0m0 89h0m1-85h0m0 46h0m0 32h0m0 21h0m1-153h0m0 1h0m1 4h0m0 20h0m0 68h0m1-175h0m0 22h0m0 64h0m1 11h0m0 100h0m0 2h0m1-64h0m1-54h0m0 51h0m0 29h0m0 42h0m0 41h0m0 7h0m1-186h0m0 29h0m0 32h0m0 82h0m0 26h0m0 58h0m1-267h0m0 22h0m1-43h0m0 8h0m0 101h0m1-112h0m0 73h0m0 17h0m0 83h0m1-64h0m0 52h0m1-45h0m0 56h0m0 36h0m1-206h0m0 32h0m0 45h0m0 130h0m1-233h0m0 47h0m0 46h0m0 23h0m1 8h0m0 50h0m0 187h0m1-350h0m0 115h0m0 8h0m0 74h0m0 22h0m0 50h0m1-245h0m0 215h0m1-213h0m0 19h0m0 27h0m0 4h0m0 181h0m1-146h0m0 61h0m0 121h0m1-198h0m0 48h0m0 47h0m0 73h0m0 12h0m1-194h0m1-108h0m0 69h0m0 93h0m0 46h0m0 14h0m0 4h0m0 61h0m0 12h0m0 49h0m0 10h0m1-320h0m0 86h0m0 132h0m0 39h0m0 16h0m0 38h0m1-359h0m0 82h0m0 97h0m0 115h0m0 8h0m0 1h0m1-91h0m0 13h0m1-225h0m0 84h0m0 57h0m0 28h0m0 18h0m0 88h0m1-171h0m0 27h0m0 6h0m0 53h0m0 27h0m0 18h0m0 10h0m0 129h0m1-188h0m0 74h0m0 94h0m1-313h0m0 148h0m0 64h0m0 1h0m0 32h0m0 12h0m0 71h0m1-356h0m0 21h0m0 69h0m0 155h0m1-168h0m0 68h0m0 33h0m0 29h0m0 50h0m0 115h0m1-290h0m1-71h0m0 48h0m0 10h0m0 181h0m0 49h0m0 35h0m1-114h0m0 42h0m1-203h0m0 202h0m1-136h0m0 30h0m0 105h0m0 23h0m1-303h0m0 158h0m0 40h0m0 100h0m0 81h0m1-315h0m0 40h0m0 117h0m0 95h0m1-269h0m0 24h0m0 114h0m0 132h0m1-220h0m0 14h0m0 41h0m0 4h0m0 236h0m1-208h0m0 89h0m0 37h0m0 41h0m1-84h0m0 26h0m1-261h0m0 54h0m0 25h0m0 37h0m0 125h0m1 117h0m1-315h0m0 82h0m0 21h0m0 120h0m1-276h0m0 28h0m0 34h0m0 52h0m0 78h0m1-169h0m0 46h0m0 206h0m1-305h0m0 215h0m0 11h0m0 5h0m1-176h0m0 12h0m0 47h0m0 1h0m0 85h0m0 28h0m0 52h0m0 1h0m0 10h0m1-178h0m0 20h0m0 1h0m0 53h0m0 35h0m0 8h0m0 3h0m1-171h0m0 69h0m1-115h0m0 95h0m0 26h0m0 7h0m0 125h0m0 10h0m0 41h0m1-302h0m0 134h0m1 63h0m0 41h0m0 64h0m1-258h0m0 46h0m0 219h0m1-289h0m1 64h0m1-80h0m0 115h0m0 58h0m0 38h0m1-209h0m0 26h0m0 88h0m0 55h0m0 61h0m0 100h0m1-221h0m0 32h0m0 78h0m0 103h0m1-268h0m0 2h0m0 152h0m0 106h0m1-252h0m0 242h0m0 42h0m0 22h0m1-379h0m0 18h0m0 58h0m0 8h0m0 207h0m0 31h0m1-195h0m1-126h0m0 113h0m0 19h0m0 31h0m0 77h0m0 22h0m1-186h0m0 27h0m1-38h0m0 43h0m0 94h0m0 8h0m0 23h0m1-169h0m0 136h0m0 69h0m1-173h0m1-65h0m0 42h0m1-77h0m0 28h0m0 100h0m0 79h0m0 28h0m0 100h0m1-326h0m0 43h0m0 176h0m1-66h0m1-177h0m0 221h0m0 91h0m0 39h0m1-231h0m0 1h0m0 32h0m0 48h0m0 34h0m0 81h0m1-119h0m0 6h0m1-175h0m0 32h0m0 80h0m0 20h0m0 126h0m0 9h0m0 59h0m1-257h0m0 12h0m0 1h0m0 139h0m0 149h0m1-351h0m0 108h0m0 50h0m0 35h0m1 29h0m1-274h0m0 65h0m0 4h0m0 28h0m0 19h0m0 61h0m0 43h0m0 39h0m1-157h0m1 144h0m0 9h0m0 8h0m0 36h0m1-162h0m0 2h0m0 54h0m0 89h0m1-220h0m0 103h0m1-59h0m0 82h0m0 133h0m1-126h0m0 6h0m0 76h0m1-247h0m0 240h0m0 27h0m0 42h0m1-203h0m0 51h0m0 37h0m0 83h0m1-242h0m0 115h0m0 71h0m0 5h0m0 5h0m0 41h0m0 48h0m1-293h0m0 247h0m0 31h0m2-253h0m0 41h0m0 173h0m0 17h0m0 7h0m0 6h0m0 10h0m1-190h0m0 64h0m1-135h0m0 169h0m0 25h0m0 21h0m1-264h0m0 46h0m0 92h0m0 79h0m1 0h0m0 19h0m1-285h0m0 53h0m0 160h0m0 2h0m0 108h0m1-280h0m0 240h0m1-72h0m0 12h0m1 130h0m0 13h0m1-188h0m0 121h0m1-199h0m0 64h0m0 19h0m0 225h0m1-170h0m0 90h0m0 86h0m1-369h0m0 252h0m1-262h0m0 79h0m0 39h0m0 111h0m1 19h0m0 30h0m2-195h0m0 4h0m0 66h0m0 11h0m0 11h0m0 51h0m0 79h0m1-301h0m0 108h0m0 71h0m0 66h0m1-184h0m0 197h0m0 14h0m1 11h0m1-146h0m0 116h0m0 30h0m0 2h0m0 12h0m1-109h0m0 45h0m0 15h0m1-172h0m0 31h0m0 43h0m0 36h0m0 145h0m1-297h0m0 65h0m0 24h0m0 1h0m0 7h0m0 133h0m0 45h0m0 66h0m1-311h0m0 78h0m1 69h0m0 51h0m1-177h0m2 92h0m0 133h0m1-89h0m0 40h0m1-170h0m1 21h0m2-28h0m1 141h0m1 74h0m0 14h0m1-76h0m0 57h0m1-199h0m4 128h0m1-50h0m0 78h0m0 34h0m0 91h0m2-61h0m1-182h0m0 189h0m1-11h0m1-115h0m0 47h0m6-1h0m1-58h0m0 47h0m1-134h0m2 135h0m0 72h0m0 93h0m4-136h0m1-34h0m3-15h0m5 108h0m13-123h0m12 29h0m7 122h0m52-137h0m2 108h0m29-145h0" stroke="#383838" opacity="0.5"/><path d="M330 196h0m0 29h0m0 17h0m0 22h0m0 183h0m1-293h0m0 270h0m0 15h0m0 16h0m1-222h0m0 85h0m0 93h0m1-230h0m0 203h0m1-81h0m1 101h0m2-192h0m1 224h0m2-46h0m1 20h0m1-235h0m0 17h0m0 204h0m1-284h0m1 28h0m0 56h0m1-77h0m2 262h0m3-117h0m0 198h0m2-77h0m2-225h0m2-132h0m1 301h0m1 100h0m1-281h0m0 118h0m3 26h0m1-19h0m2-134h0m0 6h0m0 143h0m2-45h0m0 107h0m1 56h0m4-235h0m8 209h0m5-38h0m1-142h0m3-71h0m1-4h0m0 8h0m11 136h0m0 120h0m8-3h0m6-20h0m6-32h0m1-297h0m6 415h0m2-292h0m1-37h0m2 243h0m3-98h0m12-101h0m31 94h0m13 183h0m1-298h0m0 229h0m9-242h0m3 255h0m4-266h0m6 198h0m2-217h0m11 51h0m4 263h0m0 14h0m6 38h0m9-15h0m3 6h0m2-55h0m1-49h0m1-23h0m3-45h0m24 158h0m1 3h0m4-164h0m3 67h0m10-162h0m20-10h0m1 166h0m6 111h0m1-133h0m0 18h0m0 66h0m1-110h0m0 172h0" stroke="#444" opacity="0.42"/><path d="M330 175h0m0 10h0m0 5h0m0 41h0m0 55h0m0 32h0m0 61h0m0 24h0m0 72h0m1-244h0m0 8h0m0 31h0m0 52h0m0 13h0m0 65h0m2-222h0m0 161h0m1-106h0m0 120h0m1-241h0m0 187h0m0 48h0m1-56h0m1-173h0m0 228h0m0 27h0m1-240h0m1 249h0m2-191h0m3-2h0m1 167h0m2-92h0m3 192h0m5-7h0m1-17h0m1-72h0m2 41h0m2 38h0m3 29h0m5-62h0m7 62h0m3 2h0m6-125h0m4 99h0m15-278h0m0 16h0m4-52h0m2-104h0m0 330h0m1-88h0m3 9h0m12-148h0m3 300h0m7-103h0m3 53h0m3 2h0m1-5h0m2-79h0m1 110h0m3-248h0m0 43h0m0 265h0m2-7h0m1-431h0m13 368h0m24-218h0m7-117h0m10 126h0m10 4h0m0 237h0m4-274h0m10 160h0m5 4h0m2 126h0m3-192h0m0 106h0m1-42h0m4-190h0m12 137h0m18-96h0m9 289h0m6-223h0m5 44h0m2 115h0m7-7h0m1-21h0m4-97h0m0 21h0m15-173h0m2 123h0m0 22h0m1-95h0m0 124h0m0 116h0m0 13h0m1 12h0" stroke="#444" opacity="0.42"/><path d="M323 231h0m7-66h0m0 120h0m0 119h0m0 1h0m0 25h0m1-293h0m0 186h0m0 41h0m0 8h0m1-152h0m0 11h0m0 28h0m0 33h0m1-18h0m0 153h0m1-217h0m0 101h0m0 106h0m1-215h0m1 110h0m0 123h0m1-55h0m2-144h0m3-23h0m2 245h0m1-2h0m2-255h0m4 164h0m9-54h0m3-161h0m0 148h0m2 96h0m1-19h0m1 95h0m4-295h0m0 157h0m0 138h0m4-9h0m5-174h0m5-160h0m5 252h0m0 82h0m1-163h0m7-187h0m1 211h0m12 44h0m2-244h0m6 264h0m4-92h0m4-29h0m9-96h0m6 280h0m5-313h0m18 225h0m1-245h0m13 80h0m0 57h0m4-128h0m1 46h0m1 115h0m1 7h0m9 107h0m1-139h0m2-106h0m5 291h0m1-46h0m3-143h0m1-112h0m13 309h0m3-233h0m1 246h0m16-71h0m13-206h0m6 183h0m7-10h0m0 98h0m6-53h0m5-294h0m0 185h0m12 114h0m6-339h0m2 65h0m2 279h0m25 33h0m1-111h0m0 49h0m1-85h0m0 108h0m1-260h0m0 39h0m0 13h0m0 76h0m0 98h0m0 52h0m0 34h0" stroke="#444" opacity="0.42"/><path d="M324 244h0m6-123h0m0 48h0m0 27h0m0 28h0m0 1h0m0 2h0m0 11h0m0 39h0m0 58h0m0 19h0m0 24h0m0 65h0m2-270h0m0 42h0m0 171h0m0 30h0m0 59h0m1-297h0m0 115h0m1-106h0m0 117h0m0 86h0m1 65h0m1-255h0m1 269h0m1-183h0m1-141h0m1 13h0m0 274h0m1-223h0m1-66h0m0 42h0m3-57h0m0 91h0m3-21h0m0 30h0m1-198h0m4 227h0m2-128h0m0 103h0m1-55h0m5 125h0m3-84h0m0 117h0m0 20h0m2 94h0m6-71h0m1-196h0m2 92h0m1 103h0m8-217h0m3 265h0m1-12h0m0 56h0m4-341h0m0 325h0m13-227h0m6-11h0m5 120h0m2 107h0m4-259h0m13-30h0m7-16h0m4 210h0m9-26h0m7-169h0m0 146h0m19-79h0m10 207h0m4 32h0m9-299h0m2 218h0m25-87h0m7-98h0m3 162h0m6-123h0m3-190h0m3 220h0m6 204h0m2-153h0m24 110h0m6-224h0m5 65h0m0 8h0m0 201h0m8-66h0m8-219h0m7 74h0m7 59h0m1 28h0m0 77h0m0 7h0m1-189h0m0 202h0m0 2h0" stroke="#444" opacity="0.42"/><path d="M321 407h0m9-254h0m0 90h0m0 11h0m0 13h0m0 31h0m0 24h0m1 79h0m0 30h0m0 13h0m1-60h0m0 31h0m0 15h0m0 17h0m1-118h0m0 33h0m0 63h0m1-119h0m0 86h0m1-227h0m0 200h0m0 31h0m0 38h0m3-213h0m1 93h0m0 1h0m2-124h0m0 18h0m2 88h0m0 143h0m3-248h0m0 5h0m1 133h0m1-26h0m4 105h0m4-263h0m3 243h0m2-58h0m1-109h0m1 248h0m5-321h0m2 234h0m3-3h0m1-241h0m1 33h0m0 248h0m1 40h0m7-298h0m0 90h0m1-94h0m0 289h0m3-118h0m8-19h0m2-93h0m5 48h0m12-9h0m2 179h0m1-98h0m1 14h0m3-117h0m2 176h0m3-188h0m3-32h0m6 178h0m1-122h0m7 123h0m0 97h0m7-9h0m15-145h0m6 85h0m5-250h0m5 274h0m6-65h0m2-121h0m15 83h0m6-142h0m16 211h0m2 81h0m7-262h0m1 246h0m4-101h0m17-137h0m30-18h0m0 150h0m2-67h0m3 62h0m15 86h0m4-102h0m2 107h0m8-308h0m5 241h0m0 16h0m0 53h0m0 11h0m1-104h0m1 43h0" stroke="#444" opacity="0.42"/><path d="M330 158h0m0 15h0m0 11h0m0 34h0m0 38h0m0 16h0m0 28h0m0 21h0m0 118h0m0 3h0m1-26h0m1-206h0m0 25h0m0 215h0m2-264h0m0 47h0m1 195h0m1 15h0m1-323h0m0 32h0m0 268h0m1-74h0m0 104h0m1-158h0m4-47h0m0 197h0m2-103h0m2 38h0m0 22h0m3-213h0m0 72h0m2 102h0m4-217h0m2 290h0m3 39h0m1-228h0m1-128h0m0 193h0m2 81h0m0 35h0m1-297h0m2 199h0m0 6h0m2-209h0m0 91h0m6-95h0m6 16h0m11 265h0m1-180h0m6 181h0m1-241h0m0 308h0m9-66h0m2-165h0m3 209h0m10-100h0m4-193h0m15 302h0m2-43h0m6-223h0m1 177h0m1-161h0m9-4h0m12-71h0m0 292h0m5-255h0m13-79h0m3 160h0m3 7h0m10 217h0m22-336h0m1 90h0m0 116h0m2-168h0m3-90h0m11 305h0m17-251h0m3 20h0m4 196h0m1-71h0m5-118h0m3 200h0m20-96h0m13 121h0m2-255h0m4-76h0m6 106h0m0 32h0m0 44h0m0 175h0m1-217h0m0 66h0m0 24h0m0 9h0m0 16h0m0 37h0" stroke="#444" opacity="0.42"/></g><rect x="54.8" y="31.8" width="50.4" height="72.7" fill="none" stroke="#7e7e7e" stroke-width="0.9"/><rect x="54.8" y="105.5" width="24.3" height="20.1" fill="none" stroke="#b4b4b4" stroke-width="0.7"/><rect x="79.6" y="105.5" width="25.6" height="20.1" fill="none" stroke="#a4a4a4" stroke-width="0.8"/><rect x="43.1" y="31.8" width="10.1" height="95" fill="none" stroke="#666" stroke-width="1.1"/><path d="M42.3 28.5V154.8M42.3 154.8H169.3M42.3 39.1h-3.8M42.3 70.2h-3.8M42.3 104.2h-3.8M42.3 125.2h-3.8M42.3 146.5h-3.8" fill="none" stroke="#333" stroke-width="0.85"/><path d="M42.3 60.8h-1.9M42.3 55.4h-1.9M42.3 51.5h-1.9M42.3 48.5h-1.9M42.3 46h-1.9M42.3 43.9h-1.9M42.3 42.1h-1.9M42.3 40.5h-1.9M42.3 94h-1.9M42.3 88h-1.9M42.3 83.7h-1.9M42.3 80.4h-1.9M42.3 77.7h-1.9M42.3 75.5h-1.9M42.3 73.5h-1.9M42.3 71.8h-1.9M42.3 29.7h-1.9M42.3 107.5h-1.4M42.3 111h-1.4M42.3 114.5h-1.4M42.3 118h-1.4M42.3 121.5h-1.4M42.3 129h-1.4M42.3 132.5h-1.4M42.3 136h-1.4M42.3 139.5h-1.4M42.3 143h-1.4M42.3 150h-1.4M42.9 154.8v3.4M47.7 154.8v1.8M52.5 154.8v1.8M57.3 154.8v1.8M62.2 154.8v1.8M67 154.8v3.4M71.8 154.8v1.8M76.6 154.8v1.8M81.4 154.8v1.8M86.2 154.8v1.8M91.1 154.8v3.4M95.9 154.8v1.8M100.7 154.8v1.8M105.5 154.8v1.8M110.3 154.8v1.8M115.1 154.8v3.4M119.9 154.8v1.8M124.8 154.8v1.8M129.6 154.8v1.8M134.4 154.8v1.8M139.2 154.8v3.4M144 154.8v1.8M148.8 154.8v1.8M153.6 154.8v1.8M158.5 154.8v1.8M163.3 154.8v3.4M168.1 154.8v1.8" fill="none" stroke="#333" stroke-width="0.8"/><g font-size="3.9" fill="#a2a2a2" font-weight="400"><text x="36.9" y="40.4" text-anchor="end">10⁵</text><text x="36.9" y="71.5" text-anchor="end">10⁴</text><text x="36.9" y="105.5" text-anchor="end">10³</text><text x="36.9" y="126.5" text-anchor="end">0</text><text x="36.9" y="147.8" text-anchor="end">-10³</text><text x="43.4" y="163.4" text-anchor="middle">0</text><text x="67.5" y="163.4" text-anchor="middle">50K</text><text x="91.5" y="163.4" text-anchor="middle">100K</text><text x="115.6" y="163.4" text-anchor="middle">150K</text><text x="139.7" y="163.4" text-anchor="middle">200K</text><text x="163.8" y="163.4" text-anchor="middle">250K</text></g><path d="M60 132.3L62.9 126.2" stroke="#151515" stroke-width="0.8" fill="none"/><path d="M64.4 122.9L64.6 127L61.2 125.4Z" fill="#151515"/><path d="M94.8 132.3L92.3 126.7" stroke="#151515" stroke-width="0.8" fill="none"/><path d="M90.8 123.4L94 125.9L90.5 127.5Z" fill="#151515"/><g font-size="7.2" fill="#161616" stroke="#161616" stroke-width="0.3"><text x="58.1" y="39.8" fill="#161616" stroke="#161616">S: 17.00%</text><text x="115.6" y="40.5">&gt;4n: 2.04%</text><text x="59.2" y="139.8" text-anchor="middle">G1:</text><text x="58.6" y="150.3" text-anchor="middle">62.33%</text><text x="100.8" y="139.8" text-anchor="middle">G2/M:</text><text x="100.6" y="150.3" text-anchor="middle">14.80%</text><text transform="translate(50.2 59.5) rotate(-90)" text-anchor="middle">SubG1: 3.83%</text></g><text x="104.7" y="172.7" text-anchor="middle" font-size="9.8" stroke="#111" stroke-width="0.3">7AAD</text><text transform="translate(27.7 95.2) rotate(-90)" text-anchor="middle" font-size="9.6" stroke="#111" stroke-width="0.3">APC - BrdU</text><text x="104.7" y="20.7" text-anchor="middle" font-size="16.7" stroke="#111" stroke-width="0.3">MC</text></g>
<g><path d="M225.3 27H352.3V154.8" fill="none" stroke="#d6d6d6" stroke-width="0.8"/><rect x="294.5" y="31.7" width="54" height="94.1" fill="#f7f7f7" stroke="#ececec" stroke-width="0.7"/><rect x="238.3" y="31.8" width="50.4" height="72.7" fill="#c9c9c9" stroke="none" stroke-width="0"/><rect x="238.3" y="107.3" width="24.3" height="18.3" fill="#f6f6f6" stroke="none" stroke-width="0"/><rect x="263.1" y="118.1" width="25.6" height="7.5" fill="#dcdcdc" stroke="none" stroke-width="0"/><rect x="226.6" y="31.8" width="10.1" height="95" fill="#cbcbcb" stroke="none" stroke-width="0"/><g class="d" fill="none" stroke-linecap="round" stroke-width="5" transform="translate(226.1 31.5) scale(0.2)"><path d="M-1 461h0m0 18h0m0 1h0m1-6h0m0 2h0m1-11h0m0 3h0m0 7h0m0 3h0m1-7h0m0 1h0m1-7h0m0 3h0m0 3h0m0 3h0m1-13h0m0 2h0m0 7h0m0 6h0m1-14h0m0 12h0m0 2h0m2-4h0m0 1h0m1-9h0m0 8h0m1-11h0m0 10h0m0 5h0m1-12h0m1 2h0m0 7h0m1-4h0m2-3h0m1-3h0m0 6h0m3-3h0" stroke="#111" opacity="0.5"/><path d="M-1 464h0m0 6h0m1-3h0m0 8h0m1-3h0m0 4h0m0 1h0m1-3h0m0 3h0m1-11h0m0 5h0m1-6h0m0 1h0m0 3h0m0 5h0m1-9h0m0 1h0m0 4h0m1-3h0m0 3h0m0 1h0m2-1h0m0 3h0m0 2h0m0 4h0m1-11h0m0 1h0m0 1h0m1-3h0m2 4h0m1-9h0m0 8h0m0 2h0m1-6h0m4-1h0m2 5h0" stroke="#111" opacity="0.5"/><path d="M-1 469h0m1 4h0m2-4h0m0 4h0m4-2h0m0 3h0m0 1h0m0 5h0m1-11h0m2 5h0m1-5h0m1 2h0m2-4h0m0 1h0m0 6h0m2-6h0m1 7h0m2-7h0m2-5h0m0 3h0m0 3h0m2-9h0m0 5h0m0 4h0m2-2h0m0 3h0m2-10h0m0 1h0m1-4h0m0 7h0m0 3h0m3-10h0m1 4h0m1 1h0m1-7h0m0 8h0m0 6h0m1-8h0m1 3h0m2-3h0m1 2h0m5-3h0m1-6h0m1 2h0m0 12h0m1-17h0m0 11h0m1-5h0" stroke="#222" opacity="0.5"/><path d="M72 469h0m1 1h0m9-5h0m4-3h0m1 3h0m5-1h0m1-8h0m0 3h0m0 4h0m0 1h0m1-8h0m0 3h0m3-9h0m0 5h0m0 9h0m4-11h0m1 1h0m0 2h0m2 3h0m0 9h0m2-14h0m0 3h0m0 9h0m1-12h0m1 1h0m0 2h0m1-9h0m0 10h0m0 5h0m1-12h0m3 8h0m1-4h0m0 2h0m1-6h0m0 11h0m1-5h0m2-6h0m0 2h0m0 7h0m1-11h0m0 3h0m0 4h0m1-2h0m0 8h0m1-9h0m0 7h0m1-9h0m0 4h0m1-5h0m0 2h0m0 10h0m1-10h0m2 5h0m1 4h0m1-17h0m1 0h0m0 12h0m1-7h0m2 9h0m3-13h0m0 1h0m0 5h0m1-1h0m0 1h0m3-6h0m1 9h0m0 2h0m2-7h0m1-9h0m0 7h0m0 7h0m1-6h0m1 7h0m1 3h0m1-9h0m0 8h0m1-6h0m0 1h0m3-5h0m0 3h0m1-6h0m2 2h0m0 2h0m1-4h0m1-3h0m2 4h0m1-14h0m0 18h0m0 6h0m0 3h0m1-23h0m0 1h0m0 7h0m0 14h0m1-20h0m0 2h0m0 12h0m1-6h0m1-5h0m0 3h0m0 4h0m0 1h0m4-16h0m0 15h0m1-9h0m0 7h0m0 7h0m1-30h0m0 31h0m2-23h0m1 10h0m1-8h0m0 1h0m0 7h0m1-4h0m0 6h0m0 2h0m0 8h0m1-5h0m1-10h0m0 11h0m0 1h0m1-18h0m2 1h0m0 19h0m1-12h0m2-8h0m0 8h0m1-15h0m1 19h0m1-6h0m0 6h0m0 1h0m1-11h0m0 13h0m1-20h0m0 36h0m4-32h0m1 5h0m1-9h0m0 1h0m0 19h0m1-2h0m1-9h0m0 1h0m0 3h0m0 1h0m0 8h0m2-6h0m3-17h0m3 0h0m1 9h0m0 3h0m2-16h0m0 17h0m4-6h0m0 13h0m3-19h0" stroke="#262626" opacity="0.5"/><path d="M70 469h0m6-13h0m1 7h0m2 8h0m2-4h0m6-9h0m0 1h0m0 1h0m1 5h0m3-8h0m3 6h0m0 5h0m0 6h0m4-20h0m1 4h0m1-1h0m2-3h0m2 0h0m0 1h0m0 6h0m2-4h0m0 7h0m1-3h0m1-1h0m2-6h0m1 4h0m1-14h0m0 12h0m1-4h0m2 6h0m4-8h0m0 7h0m1-1h0m0 4h0m1-4h0m1 0h0m2-2h0m1 4h0m1 0h0m1-8h0m1 2h0m1-6h0m0 23h0m2-25h0m3 4h0m0 5h0m3-8h0m0 8h0m1-20h0m0 15h0m0 6h0m0 3h0m1-8h0m3 0h0m0 1h0m1-7h0m1-2h0m0 5h0m0 4h0m0 1h0m3-6h0m0 2h0m2-5h0m0 5h0m1 12h0m1-16h0m2 2h0m0 16h0m1-13h0m0 5h0m0 1h0m1-11h0m2-16h0m0 27h0m2-10h0m0 1h0m1-5h0m0 4h0m6-8h0m2 7h0m0 2h0m0 1h0m1-1h0m1-19h0m0 13h0m1-8h0m0 9h0m0 2h0m0 4h0m0 5h0m0 3h0m2-19h0m0 20h0m1-28h0m0 18h0m3-1h0m1-10h0m0 2h0m0 5h0m0 12h0m0 2h0m1-16h0m0 3h0m1-15h0m0 13h0m1 12h0m2-16h0m1 6h0m1-5h0m1-15h0m0 15h0m0 10h0m0 4h0m1-11h0m1-17h0m1 2h0m0 17h0m0 12h0m1-24h0m0 6h0m1-1h0m1-10h0m0 18h0m1-6h0m0 5h0m2-13h0m0 9h0m0 5h0m1-21h0m1 19h0m1-2h0m1-11h0m0 8h0m1-14h0m0 2h0m0 5h0m1-9h0m0 17h0m0 1h0m1-16h0m0 17h0m0 1h0m1 0h0m1-7h0m2 1h0m0 15h0m0 3h0m1-23h0m1-7h0m0 32h0m1 0h0m1-16h0m0 10h0m1-26h0m5 6h0m1 8h0m0 8h0" stroke="#262626" opacity="0.5"/><path d="M72 464h0m2 6h0m3-5h0m1-1h0m8 1h0m3-4h0m1-5h0m3 1h0m0 5h0m0 4h0m1-6h0m2 1h0m0 1h0m1-9h0m1 5h0m1 4h0m3 1h0m1-1h0m1-6h0m0 7h0m1-3h0m0 7h0m1-12h0m1 5h0m1-8h0m2 9h0m0 2h0m0 1h0m1-11h0m1 6h0m2 0h0m1-4h0m3-8h0m1 9h0m1 1h0m2-5h0m0 2h0m0 1h0m4 0h0m0 1h0m1 4h0m1-13h0m0 1h0m1-1h0m2 5h0m0 2h0m1-3h0m0 4h0m4-12h0m0 10h0m3-14h0m0 1h0m0 4h0m2 4h0m1 10h0m1-22h0m1 2h0m2 13h0m0 4h0m2-14h0m0 1h0m4 8h0m1-13h0m0 7h0m1-1h0m0 2h0m0 3h0m0 1h0m1-1h0m2-11h0m1 5h0m0 9h0m1-2h0m2-17h0m0 20h0m1-19h0m0 8h0m2 6h0m0 5h0m1-15h0m0 17h0m1-1h0m0 3h0m1-20h0m0 11h0m1-19h0m0 16h0m1-9h0m1 9h0m3 3h0m2-19h0m0 8h0m0 3h0m0 2h0m1 5h0m2-5h0m1-6h0m0 14h0m0 1h0m1-16h0m1 1h0m0 4h0m1-7h0m1 2h0m0 8h0m2-25h0m0 23h0m0 8h0m0 1h0m1-14h0m1 7h0m2-13h0m1 13h0m1 4h0m0 4h0m1-18h0m1 8h0m0 2h0m2-15h0m1 2h0m0 1h0m0 5h0m1-10h0m0 20h0m0 1h0m1-13h0m0 5h0m1-3h0m0 3h0m1-2h0m1-5h0m1-4h0m0 5h0m0 13h0m0 10h0m1-25h0m0 18h0m1-18h0m0 9h0m0 3h0m1-22h0m1 15h0m0 5h0m1-2h0m1 14h0m1-26h0m2-4h0m0 4h0m0 6h0m0 8h0m2-2h0m10 5h0" stroke="#262626" opacity="0.5"/><path d="M78 461h0m0 12h0m1-7h0m1-1h0m3 5h0m2-3h0m2-6h0m0 4h0m2-5h0m0 2h0m0 4h0m2-9h0m5-1h0m1-4h0m0 9h0m1 2h0m2-12h0m0 14h0m1-5h0m1-6h0m0 1h0m0 5h0m5-9h0m0 4h0m1-7h0m2 10h0m1-1h0m1-3h0m0 2h0m1 8h0m1-12h0m2-9h0m0 22h0m2-13h0m0 3h0m0 4h0m0 7h0m1-11h0m4-4h0m0 11h0m5-14h0m0 1h0m1-3h0m0 2h0m1 7h0m1 9h0m1-20h0m1 4h0m0 7h0m0 4h0m1-8h0m1-10h0m1 1h0m0 6h0m1 1h0m1 2h0m0 2h0m2-5h0m0 4h0m1-22h0m0 18h0m1-14h0m0 3h0m1-2h0m0 14h0m1-4h0m2 1h0m1-2h0m0 15h0m1-21h0m0 4h0m0 4h0m1-7h0m1 7h0m0 2h0m1-8h0m2 3h0m0 1h0m1-6h0m1 5h0m0 6h0m2-12h0m0 6h0m0 6h0m3-8h0m1 5h0m0 15h0m1-24h0m0 5h0m0 23h0m1-15h0m1-17h0m1-2h0m0 9h0m0 8h0m2 8h0m1-16h0m1-6h0m1 8h0m1-2h0m1-8h0m0 17h0m0 12h0m0 4h0m1-31h0m1 0h0m0 25h0m2-23h0m1 5h0m2 1h0m0 3h0m0 2h0m1-11h0m2-11h0m0 11h0m0 5h0m0 4h0m1 2h0m1-11h0m0 9h0m0 8h0m0 3h0m2-28h0m0 20h0m1-26h0m1 15h0m0 1h0m4 1h0m1 7h0m1-9h0m1-7h0m0 22h0m1-25h0m0 10h0m1 16h0m1-18h0m0 11h0m0 4h0m1-19h0m1 9h0m0 1h0m1-10h0m1 9h0m1-19h0m0 9h0m2 11h0m1-13h0m1-2h0m0 17h0m1-14h0m0 4h0m1 21h0m3-20h0m2-6h0m1 8h0" stroke="#262626" opacity="0.5"/><path d="M72 463h0m1 3h0m0 8h0m4-9h0m1 7h0m2-6h0m1-1h0m0 2h0m2-5h0m3 4h0m3-13h0m2 4h0m3-8h0m1 10h0m1 3h0m1-4h0m0 1h0m0 3h0m1-7h0m0 6h0m1 0h0m1-1h0m3-2h0m0 1h0m1-2h0m2-2h0m2-3h0m1 4h0m2-4h0m0 1h0m0 7h0m0 2h0m1-2h0m1-4h0m1-3h0m0 4h0m2 0h0m1-2h0m0 1h0m0 6h0m1-10h0m1 8h0m2-9h0m1 3h0m1-1h0m4-2h0m0 7h0m0 3h0m1 5h0m4-5h0m1-2h0m1-18h0m4 0h0m0 10h0m2 10h0m3-12h0m1-22h0m1 12h0m0 1h0m1 11h0m1-6h0m2 4h0m1-11h0m0 15h0m1-12h0m1 9h0m1-2h0m1-2h0m0 3h0m1-10h0m1 10h0m1 5h0m1-7h0m0 10h0m1-16h0m0 18h0m1-23h0m0 7h0m0 10h0m1-4h0m1-6h0m0 6h0m1-11h0m0 6h0m1-3h0m0 6h0m1-12h0m0 6h0m0 9h0m0 2h0m1-27h0m0 11h0m1 11h0m0 1h0m2-11h0m0 10h0m2-5h0m0 11h0m1-20h0m0 5h0m0 3h0m0 7h0m1-8h0m1-1h0m0 2h0m1-3h0m1-4h0m1 7h0m0 6h0m1-12h0m0 2h0m1 3h0m2 7h0m1-4h0m2-13h0m0 2h0m0 4h0m1-8h0m0 9h0m0 9h0m1-9h0m0 7h0m1-11h0m1-8h0m2 5h0m3 13h0m1-11h0m0 22h0m1-18h0m0 6h0m0 3h0m1-25h0m0 14h0m0 3h0m0 5h0m0 3h0m1-13h0m1 4h0m0 3h0m1-3h0m1-7h0m0 8h0m0 2h0m4-5h0m0 3h0m1-5h0m1 1h0m0 9h0m1-31h0m2 11h0m2 8h0m1 13h0m3-26h0" stroke="#262626" opacity="0.5"/><path d="M73 469h0m1-5h0m3-3h0m1 0h0m0 1h0m1 5h0m1-2h0m3 1h0m1-9h0m2 5h0m1-2h0m1 7h0m0 6h0m1-14h0m0 7h0m3 6h0m1-11h0m1-4h0m2-5h0m0 7h0m3-2h0m4-1h0m0 2h0m1-5h0m0 12h0m2-6h0m3-12h0m3 13h0m1-9h0m0 11h0m1-13h0m2 1h0m0 1h0m2-4h0m0 7h0m0 4h0m0 1h0m0 4h0m1-14h0m0 2h0m2 3h0m0 5h0m3-9h0m0 2h0m2-10h0m0 8h0m1 5h0m0 2h0m1-6h0m0 12h0m1-24h0m0 15h0m1-13h0m0 6h0m0 10h0m0 2h0m1-9h0m0 1h0m1 13h0m1-15h0m0 4h0m0 4h0m2-22h0m0 19h0m0 1h0m2-9h0m1 14h0m1-14h0m0 5h0m2-11h0m0 8h0m0 7h0m1-12h0m1-2h0m1 8h0m2-3h0m0 3h0m0 1h0m0 5h0m2-16h0m3 10h0m0 1h0m0 4h0m3-15h0m1-13h0m0 15h0m1 7h0m0 3h0m1-11h0m1 10h0m2-12h0m0 20h0m1-18h0m1-1h0m0 3h0m1 9h0m1-6h0m0 2h0m1-1h0m0 4h0m3-2h0m3-9h0m0 7h0m0 3h0m1-3h0m1-3h0m0 3h0m3-15h0m0 8h0m0 5h0m0 5h0m2-8h0m0 12h0m1-6h0m1-11h0m1 18h0m1-27h0m0 10h0m0 6h0m1-13h0m0 6h0m0 11h0m1 0h0m2-13h0m0 2h0m2-3h0m1 3h0m1 0h0m0 7h0m0 3h0m0 1h0m2-12h0m0 4h0m1-24h0m1 17h0m1 2h0m0 1h0m0 6h0m0 2h0m2-13h0m0 2h0m1-2h0m1 12h0m1-9h0m1-17h0m1 19h0m1-2h0m1 5h0m1-9h0m1 11h0m4-1h0m0 7h0m1-12h0m6-6h0" stroke="#262626" opacity="0.5"/><path d="M110 460h0m3-1h0m3-33h0m0 19h0m3 0h0m4-1h0m5-12h0m1 4h0m0 15h0m7-2h0m1-12h0m2 31h0m5-24h0m4 8h0m2-4h0m1-17h0m0 15h0m1-3h0m2-39h0m1 6h0m2 9h0m2 12h0m1-1h0m2-25h0m5 33h0m3-17h0m2 27h0m7-22h0m1-2h0m1 9h0m1-26h0m0 10h0m1 13h0m2 11h0m0 9h0m1-35h0m2-10h0m1-5h0m0 24h0m3 0h0m5-8h0m1-17h0m3 10h0m2-12h0m2-2h0m3 33h0m3-22h0m3 29h0m1-5h0m0 6h0m0 1h0m7-15h0m1 9h0m2-23h0m12 11h0m1 6h0m8 4h0m1-13h0m1 8h0m2 10h0m2-6h0m1-18h0m4 10h0m3 0h0m1 15h0m1-5h0m2-10h0m3 4h0m1-3h0m7-8h0m1 5h0m1-5h0m0 7h0m2-24h0m5 20h0m7 4h0m3-25h0m0 39h0m2-36h0m0 23h0m2-18h0m0 22h0m5 0h0m3 1h0m3-10h0m1-2h0m4-13h0" stroke="#333" opacity="0.5"/><path d="M103 453h0m2-5h0m4-8h0m5 4h0m0 26h0m7-1h0m1-38h0m0 3h0m3 8h0m3 1h0m13-1h0m2 5h0m4-6h0m2 6h0m1 4h0m2-20h0m4-16h0m2-2h0m0 14h0m1 33h0m3-16h0m5-35h0m0 14h0m5 7h0m3-33h0m1 28h0m0 3h0m0 4h0m3-24h0m0 2h0m1 17h0m0 8h0m1-29h0m1 14h0m4-5h0m0 7h0m1-17h0m0 15h0m2 21h0m1-16h0m4-7h0m1-27h0m5 33h0m4-13h0m0 19h0m1-7h0m1 11h0m2 13h0m2-47h0m6-16h0m0 41h0m0 1h0m0 9h0m1-21h0m4 17h0m9 2h0m1-11h0m2-4h0m5 6h0m4 2h0m2-14h0m0 25h0m1-21h0m3 5h0m0 1h0m1 3h0m3-11h0m4 3h0m5 10h0m1-3h0m0 2h0m5-8h0m1 11h0m2-4h0m8-4h0m0 1h0m5-10h0m0 19h0m1-23h0m2 6h0m2-2h0m14 5h0m2 10h0m2-22h0m1 21h0m2-8h0m1-4h0" stroke="#333" opacity="0.5"/><path d="M107 457h0m10-18h0m1 15h0m1-10h0m0 5h0m10-26h0m4 22h0m3-2h0m3 14h0m7-8h0m1-2h0m3-17h0m0 14h0m2-30h0m17 5h0m2-2h0m3 17h0m1-20h0m2-38h0m0 57h0m1-6h0m4-9h0m2 0h0m0 9h0m2-2h0m0 1h0m1-7h0m0 5h0m1-1h0m0 16h0m2-22h0m3-11h0m5 44h0m7-54h0m1 33h0m2-21h0m0 28h0m3-11h0m0 14h0m1-13h0m1 8h0m1-37h0m1-18h0m2 29h0m3 25h0m0 7h0m3-7h0m3 2h0m1-10h0m4 3h0m1 3h0m8-9h0m0 9h0m3-7h0m1-12h0m6 6h0m0 1h0m1-5h0m1 5h0m3 3h0m3 2h0m8 8h0m5-21h0m2-15h0m0 19h0m1 8h0m2-13h0m0 7h0m0 12h0m3-9h0m8-8h0m3 1h0m0 3h0m3-6h0m1 2h0m0 6h0m2 6h0m3-17h0m1 12h0m4-2h0m1 5h0m1-15h0m0 3h0m0 13h0m2-22h0m3 0h0m0 11h0" stroke="#333" opacity="0.5"/><path d="M117 465h0m9-27h0m8-7h0m0 24h0m13-31h0m1 9h0m2-18h0m3 15h0m0 6h0m4-12h0m1 0h0m4-45h0m1 36h0m0 1h0m1 6h0m2-3h0m4-7h0m0 15h0m2 0h0m7-7h0m1-12h0m8 8h0m0 27h0m5 10h0m2-37h0m2-31h0m3 11h0m0 16h0m3 2h0m5 20h0m1-30h0m0 19h0m0 1h0m3-10h0m1 16h0m1-26h0m0 37h0m1-45h0m0 37h0m5 2h0m4-9h0m3-2h0m2-1h0m1-3h0m0 13h0m1-13h0m0 20h0m3-18h0m1 4h0m3-13h0m0 12h0m1-1h0m2 8h0m2-7h0m1-4h0m2 2h0m2 2h0m4-2h0m2-7h0m1 1h0m2-3h0m3 8h0m1-3h0m1-2h0m1 0h0m1 2h0m1-2h0m6 10h0m1-23h0m3 11h0m1-11h0m3 20h0m1-7h0m1 2h0m0 8h0m5 2h0m1-27h0m2 21h0m1 9h0m3-20h0m2 14h0m6-16h0m2 26h0m1-36h0m0 14h0m6 10h0" stroke="#333" opacity="0.5"/><path d="M107 451h0m4-3h0m2-3h0m3 7h0m3-8h0m3 10h0m5-12h0m1-3h0m1 2h0m3 6h0m4-5h0m2 8h0m3 3h0m1-40h0m2 19h0m2-1h0m6-8h0m3 15h0m1 6h0m3-16h0m0 13h0m1-18h0m1 6h0m3 15h0m2-30h0m1 23h0m1-12h0m2-33h0m0 45h0m8-43h0m0 36h0m10-23h0m1 36h0m7-10h0m4 7h0m1-41h0m5 27h0m3-4h0m1-15h0m3 38h0m1-22h0m4 0h0m2-16h0m1 2h0m1 17h0m1 1h0m3-5h0m0 15h0m1-6h0m6 3h0m2-10h0m7-2h0m1 3h0m1-4h0m3 9h0m1-4h0m3 4h0m2-22h0m1 11h0m4-2h0m2 13h0m1-14h0m2 9h0m1-14h0m1 3h0m0 18h0m1-8h0m2 2h0m5-3h0m4-1h0m1-8h0m1-2h0m0 11h0m1-25h0m0 21h0m2-6h0m0 5h0m4 16h0m5-22h0m0 13h0m6-5h0m4 8h0m1-9h0m10 7h0m7-16h0" stroke="#333" opacity="0.5"/><path d="M113 451h0m5 17h0m2-19h0m2 10h0m1-16h0m1-27h0m1-2h0m0 26h0m11 15h0m1-9h0m1-17h0m4 29h0m3-27h0m1 14h0m2-7h0m1 4h0m2-18h0m6 16h0m7-17h0m2 29h0m3-26h0m3 6h0m1 2h0m1 7h0m3-27h0m6-14h0m1-5h0m1 10h0m3 55h0m1-43h0m1-33h0m0 48h0m0 2h0m1-32h0m3-10h0m0 28h0m0 9h0m0 5h0m1-19h0m0 14h0m1-16h0m0 13h0m1-4h0m1 21h0m3-25h0m3-2h0m1 10h0m2 3h0m4 7h0m3-12h0m0 10h0m6-13h0m1 6h0m1 7h0m8 2h0m2-10h0m1-4h0m1 4h0m4-3h0m9-7h0m0 6h0m0 4h0m8-1h0m1 1h0m1-9h0m1 14h0m6-17h0m0 12h0m2-13h0m0 7h0m0 3h0m7-7h0m2 19h0m3-8h0m2 2h0m1-16h0m1 8h0m6 6h0m2-12h0m5 5h0m2 5h0m10-7h0m1-2h0m3-20h0m3 13h0" stroke="#333" opacity="0.5"/><path d="M120 416h0m4-38h0m1-17h0m1 48h0m0 45h0m1-156h0m0 81h0m0 2h0m1-27h0m4-27h0m3 44h0m1-99h0m0 75h0m3 11h0m1-46h0m1 73h0m1-58h0m1-6h0m0 29h0m0 51h0m0 49h0m1-175h0m0 122h0m0 41h0m1-31h0m1-64h0m0 45h0m1-88h0m0 96h0m1-25h0m1-67h0m0 46h0m0 42h0m0 6h0m0 23h0m1-140h0m0 65h0m1-95h0m0 78h0m1-84h0m0 30h0m0 4h0m0 67h0m0 7h0m0 9h0m0 20h0m0 64h0m1-101h0m0 8h0m0 58h0m1-37h0m0 14h0m1-33h0m1-125h0m0 75h0m0 56h0m0 8h0m1 14h0m0 2h0m0 41h0m1-169h0m0 42h0m0 49h0m1-135h0m1 179h0m1-144h0m0 78h0m1 13h0m1-120h0m0 28h0m0 95h0m1-69h0m0 25h0m1-99h0m0 103h0m1-84h0m0 79h0m0 83h0m1-132h0m0 42h0m0 154h0m0 3h0m0 7h0m1-208h0m0 111h0m0 51h0m1-110h0m0 28h0m0 12h0m1-64h0m1 142h0m0 8h0m1-109h0m0 109h0m1-136h0m0 32h0m0 124h0m1-118h0m0 4h0m0 95h0m1-262h0m0 260h0m1-139h0m0 61h0m0 24h0m0 46h0m1-162h0m0 60h0m0 68h0m0 3h0m0 35h0m1-164h0m0 34h0m0 61h0m0 83h0m1-56h0m1-31h0m0 65h0m0 1h0m1-197h0m0 108h0m0 23h0m0 56h0m1-162h0m0 21h0m0 2h0m0 55h0m0 34h0m0 12h0m0 63h0m1-256h0m0 18h0m0 117h0m0 5h0m0 19h0m0 64h0m0 13h0m1-171h0m0 25h0m0 10h0m0 154h0m1-209h0m0 16h0m0 59h0m0 107h0m1-124h0m0 82h0m0 53h0m1-200h0m0 15h0m0 41h0m0 22h0m0 103h0m0 22h0m0 35h0m1-282h0m0 110h0m0 16h0m0 128h0m1-253h0m0 56h0m0 59h0m0 105h0m1-165h0m0 127h0m0 55h0m0 14h0m1-170h0m0 78h0m1-127h0m0 88h0m0 22h0m0 36h0m0 44h0m0 31h0m1-196h0m0 1h0m0 130h0m0 6h0m1-195h0m0 100h0m0 58h0m0 84h0m0 4h0m1-149h0m0 4h0m0 110h0m1-143h0m0 13h0m0 13h0m0 192h0m1-116h0m0 81h0m1-73h0m0 46h0m1-215h0m0 68h0m1-15h0m0 9h0m0 114h0m1-228h0m0 33h0m0 110h0m0 83h0m0 48h0m0 13h0m1-192h0m0 16h0m0 6h0m0 16h0m0 29h0m0 29h0m0 81h0m0 8h0m0 37h0m1-306h0m0 6h0m0 30h0m0 51h0m0 185h0m1-276h0m0 63h0m0 117h0m1-209h0m0 185h0m0 106h0m1-254h0m0 190h0m0 28h0m0 38h0m1-203h0m0 58h0m0 134h0m1-228h0m0 207h0m0 49h0m1-201h0m0 170h0m0 9h0m1-285h0m0 97h0m0 63h0m0 49h0m0 26h0m0 7h0m0 26h0m0 20h0m0 27h0m1-123h0m1-102h0m0 31h0m0 55h0m0 18h0m0 69h0m1-219h0m0 187h0m1-160h0m0 46h0m0 86h0m0 6h0m0 60h0m0 35h0m1-47h0m0 55h0m1-249h0m0 18h0m0 110h0m0 1h0m0 3h0m0 96h0m1-41h0m0 57h0m0 8h0m1-282h0m0 232h0m1-138h0m0 1h0m0 158h0m2-296h0m0 116h0m0 59h0m0 90h0m0 42h0m1-109h0m0 1h0m0 123h0m0 10h0m1-239h0m0 11h0m0 61h0m0 103h0m0 64h0m1-154h0m0 52h0m0 35h0m0 1h0m1-238h0m0 5h0m0 19h0m0 17h0m0 178h0m0 20h0m0 10h0m0 35h0m1-293h0m0 3h0m0 35h0m0 6h0m0 12h0m0 44h0m0 85h0m1-220h0m0 88h0m0 151h0m0 8h0m0 60h0m0 37h0m1-91h0m0 16h0m0 37h0m0 18h0m1-215h0m0 219h0m0 2h0m0 6h0m0 10h0m1-315h0m0 61h0m0 239h0m1-324h0m0 128h0m0 35h0m1-170h0m0 151h0m0 58h0m0 14h0m0 16h0m1-136h0m0 78h0m0 57h0m0 4h0m1-133h0m0 169h0m0 2h0m1-37h0m0 21h0m0 39h0m0 2h0m0 30h0m2-234h0m0 150h0m0 36h0m0 18h0m0 19h0m0 14h0m1-316h0m0 30h0m0 13h0m0 6h0m0 54h0m0 75h0m0 12h0m0 72h0m0 39h0m1-133h0m0 58h0m0 21h0m0 52h0m0 3h0m1-241h0m0 16h0m0 34h0m0 47h0m0 140h0m1-207h0m0 14h0m0 8h0m0 56h0m0 59h0m0 18h0m0 37h0m0 20h0m0 31h0m1-289h0m0 10h0m0 34h0m0 112h0m0 42h0m1-15h0m1-130h0m0 1h0m0 28h0m0 74h0m0 38h0m1-176h0m0 56h0m0 231h0m1-301h0m0 110h0m0 134h0m0 20h0m0 35h0m1-334h0m0 20h0m0 60h0m0 14h0m0 152h0m0 18h0m1-51h0m1-269h0m0 86h0m0 109h0m0 62h0m0 90h0m1-273h0m0 95h0m0 58h0m0 108h0m0 20h0m0 11h0m1-224h0m0 171h0m1-255h0m0 19h0m0 28h0m0 96h0m0 108h0m1-53h0m0 68h0m1-314h0m0 27h0m0 66h0m0 122h0m0 132h0m0 14h0m1-369h0m0 158h0m1-84h0m0 37h0m0 42h0m0 204h0m1-306h0m0 136h0m0 113h0m0 48h0m1-189h0m0 25h0m0 47h0m1-111h0m0 61h0m0 8h0m0 157h0m1-188h0m1-173h0m0 17h0m0 42h0m0 2h0m0 113h0m0 91h0m1-266h0m0 189h0m0 23h0m0 92h0m1-249h0m0 15h0m0 43h0m0 92h0m0 57h0m0 128h0m1-168h0m0 38h0m0 3h0m0 3h0m0 61h0m1-228h0m0 12h0m0 125h0m0 14h0m0 160h0m1-139h0m0 49h0m0 3h0m0 57h0m1-357h0m0 18h0m0 44h0m0 115h0m0 30h0m0 55h0m0 7h0m0 75h0m1-314h0m0 156h0m0 122h0m0 4h0m0 39h0m1-304h0m0 92h0m0 23h0m0 71h0m0 88h0m0 11h0m1-226h0m0 167h0m0 19h0m1-231h0m0 239h0m1-30h0m0 23h0m0 17h0m0 4h0m0 7h0m1-298h0m0 6h0m0 22h0m0 31h0m0 3h0m0 22h0m0 24h0m0 4h0m0 177h0m1-296h0m0 95h0m0 92h0m0 1h0m0 89h0m1-311h0m0 134h0m0 125h0m0 86h0m1-224h0m0 144h0m0 12h0m0 28h0m1-209h0m0 104h0m0 61h0m0 1h0m0 31h0m0 55h0m1-359h0m0 127h0m0 49h0m0 72h0m0 75h0m1-325h0m0 64h0m0 144h0m0 37h0m0 99h0m1-275h0m1 41h0m0 82h0m0 40h0m0 19h0m0 10h0m0 79h0m0 68h0m1-378h0m0 167h0m0 104h0m2-269h0m0 24h0m0 6h0m0 154h0m1-121h0m0 10h0m0 71h0m0 44h0m0 31h0m0 10h0m1-252h0m0 66h0m0 108h0m0 99h0m1-196h0m0 257h0m0 13h0m1-302h0m0 11h0m0 68h0m0 51h0m0 35h0m0 115h0m0 13h0m0 63h0m1-64h0m1-288h0m0 104h0m0 98h0m0 7h0m0 8h0m0 87h0m1-344h0m0 19h0m0 112h0m0 220h0m1-280h0m0 64h0m0 63h0m0 18h0m0 74h0m0 31h0m0 26h0m0 17h0m1-271h0m0 37h0m0 23h0m0 54h0m0 62h0m0 43h0m0 9h0m1-267h0m0 3h0m0 3h0m0 11h0m0 216h0m0 40h0m0 12h0m0 21h0m1-304h0m0 80h0m0 19h0m0 29h0m0 22h0m0 10h0m0 95h0m0 33h0m1-263h0m0 60h0m1 61h0m0 73h0m1-306h0m0 87h0m0 78h0m0 233h0m1-337h0m0 29h0m0 12h0m0 211h0m1-131h0m0 147h0m1-179h0m1 15h0m0 7h0m0 192h0m1-245h0m0 25h0m0 92h0m0 76h0m0 34h0m1-312h0m0 79h0m0 74h0m0 76h0m0 67h0m0 37h0m0 14h0m1-283h0m0 17h0m0 9h0m0 7h0m0 83h0m0 45h0m0 35h0m1-179h0m0 40h0m0 21h0m1 52h0m0 136h0m1-307h0m0 10h0m0 12h0m0 37h0m0 150h0m1-197h0m0 124h0m0 28h0m0 57h0m0 77h0m1-130h0m0 66h0m0 52h0m0 34h0m0 15h0m1-291h0m0 2h0m0 15h0m0 67h0m0 132h0m0 30h0m0 81h0m1-409h0m0 194h0m0 110h0m0 44h0m1-212h0m0 101h0m1 40h0m0 90h0m1-271h0m0 193h0m0 21h0m1-294h0m0 239h0m1-181h0m0 193h0m0 50h0m1-221h0m0 51h0m0 44h0m0 38h0m0 17h0m0 123h0m1-267h0m0 3h0m0 16h0m0 68h0m0 66h0m0 128h0m2-161h0m0 16h0m0 89h0m0 24h0m1-116h0m1 102h0m0 25h0m0 8h0m0 10h0m1-31h0m0 55h0m1-328h0m0 79h0m0 222h0m1-155h0m1 42h0m1 21h0m1 24h0m1-84h0m0 94h0m0 11h0m2-164h0m1 78h0m1-53h0m0 189h0m1-289h0m1 55h0m0 93h0m1-52h0m1 2h0m1 148h0m1-55h0m3 65h0m1-184h0m0 134h0m1-20h0m0 21h0m0 115h0m3-346h0m1 138h0m0 8h0m0 85h0m0 73h0m1-133h0m1-44h0m1-15h0m0 91h0m3 111h0m1-8h0m2-148h0m0 7h0m1-7h0m1-15h0m0 106h0m0 36h0m2-194h0m1 67h0m2 86h0m3-108h0m8 51h0m2 37h0m8-20h0m5 27h0m2-26h0m2-20h0m5-27h0m1 95h0m7-47h0m3 87h0m9-65h0m3 53h0m6-147h0m16 162h0m2-61h0m13-36h0" stroke="#363636" opacity="0.5"/><path d="M118 429h0m6-10h0m2-30h0m5-22h0m2-58h0m1 101h0m1-37h0m2-70h0m1 78h0m0 2h0m1-11h0m1 43h0m1 5h0m0 5h0m1-72h0m2 13h0m0 1h0m0 71h0m1-39h0m0 40h0m1-88h0m0 12h0m0 6h0m0 78h0m2-168h0m0 12h0m2 40h0m1-21h0m0 50h0m1-36h0m1 98h0m0 3h0m0 21h0m2-136h0m0 77h0m1-139h0m0 7h0m0 132h0m1-86h0m0 119h0m2-123h0m0 10h0m0 109h0m1-227h0m0 129h0m0 16h0m1 52h0m0 1h0m1-81h0m0 15h0m1-96h0m0 146h0m1-157h0m0 8h0m0 58h0m0 83h0m0 52h0m0 8h0m1-138h0m0 44h0m0 79h0m1-125h0m0 112h0m0 3h0m1-178h0m0 59h0m0 72h0m0 51h0m0 22h0m1-167h0m0 81h0m0 9h0m0 93h0m1-235h0m0 9h0m0 7h0m0 135h0m0 57h0m1-91h0m0 26h0m1 59h0m0 10h0m1-180h0m0 15h0m0 50h0m0 74h0m0 65h0m1-110h0m0 31h0m1-47h0m1-95h0m0 112h0m0 60h0m1-121h0m0 133h0m0 11h0m0 16h0m1-245h0m0 2h0m0 37h0m1 55h0m0 46h0m0 32h0m0 91h0m1-182h0m0 146h0m0 4h0m1-208h0m0 90h0m0 96h0m0 18h0m1-171h0m0 36h0m0 103h0m0 25h0m0 12h0m1-208h0m0 233h0m1-178h0m0 66h0m1 31h0m0 3h0m0 3h0m0 51h0m1-273h0m0 282h0m0 5h0m1-213h0m0 131h0m0 25h0m1-111h0m0 34h0m0 11h0m0 83h0m1-187h0m0 39h0m0 1h0m0 67h0m1-122h0m0 15h0m0 174h0m0 1h0m0 25h0m1-263h0m0 59h0m0 27h0m0 103h0m0 40h0m1-138h0m1-2h0m0 29h0m0 61h0m0 72h0m0 16h0m1-291h0m0 46h0m0 155h0m0 2h0m0 21h0m0 1h0m1-160h0m0 22h0m0 190h0m0 19h0m1-269h0m0 39h0m0 13h0m0 6h0m0 74h0m0 21h0m1-133h0m0 248h0m1-78h0m0 6h0m1-182h0m0 114h0m0 72h0m0 10h0m1-113h0m0 123h0m0 43h0m0 5h0m1-101h0m0 12h0m1-45h0m0 56h0m1-56h0m0 51h0m0 94h0m1-218h0m0 75h0m0 48h0m0 8h0m0 2h0m0 64h0m1-181h0m0 55h0m0 81h0m0 43h0m2-270h0m0 14h0m0 107h0m0 78h0m0 24h0m0 88h0m1-287h0m0 21h0m0 117h0m0 141h0m1-331h0m0 9h0m0 190h0m0 32h0m0 85h0m0 27h0m1-301h0m0 17h0m0 59h0m0 164h0m1-221h0m0 123h0m0 80h0m0 11h0m0 7h0m0 8h0m0 27h0m0 12h0m1-148h0m0 18h0m0 86h0m1-267h0m0 65h0m0 5h0m0 64h0m0 53h0m0 15h0m1-163h0m0 22h0m0 82h0m0 70h0m0 63h0m1-193h0m0 2h0m0 97h0m0 81h0m0 19h0m1-271h0m0 42h0m0 12h0m0 90h0m0 9h0m0 124h0m1-150h0m0 64h0m0 91h0m1-134h0m1-132h0m0 121h0m1-154h0m0 157h0m1-149h0m0 122h0m0 111h0m0 13h0m1-69h0m1 36h0m1-64h0m0 53h0m1-100h0m0 92h0m0 113h0m1-328h0m0 190h0m0 22h0m0 82h0m1-221h0m0 67h0m0 56h0m0 4h0m0 11h0m0 123h0m0 5h0m1-359h0m0 32h0m0 94h0m0 23h0m0 101h0m0 105h0m1-264h0m0 33h0m0 17h0m0 38h0m0 44h0m0 41h0m0 39h0m0 54h0m1-279h0m0 235h0m0 4h0m0 5h0m1-83h0m1-210h0m0 138h0m0 16h0m1-112h0m0 70h0m0 156h0m1-236h0m0 23h0m0 85h0m0 13h0m0 63h0m1-230h0m0 83h0m1-67h0m1-9h0m0 2h0m0 47h0m0 45h0m0 5h0m0 44h0m0 6h0m0 46h0m0 34h0m0 88h0m1-253h0m0 174h0m1-180h0m0 40h0m0 191h0m1-314h0m0 28h0m0 34h0m0 9h0m0 43h0m0 52h0m0 88h0m1-164h0m1-112h0m0 159h0m0 92h0m0 113h0m1-340h0m0 89h0m0 48h0m0 103h0m0 42h0m0 55h0m1-351h0m0 41h0m0 58h0m0 56h0m1 14h0m0 39h0m0 55h0m0 99h0m1-332h0m0 6h0m0 76h0m0 83h0m1-153h0m0 31h0m0 97h0m0 1h0m0 113h0m0 47h0m1-203h0m0 50h0m0 19h0m0 59h0m1-154h0m0 17h0m0 2h0m0 59h0m0 156h0m1-322h0m0 16h0m0 139h0m0 10h0m0 33h0m0 2h0m0 105h0m1-241h0m0 46h0m0 112h0m0 91h0m1-290h0m0 225h0m1-260h0m0 9h0m0 75h0m0 14h0m0 163h0m0 27h0m0 62h0m1-322h0m0 37h0m1-6h0m0 193h0m1-202h0m0 26h0m0 19h0m0 233h0m1-326h0m0 55h0m0 4h0m0 4h0m0 7h0m0 3h0m0 121h0m0 28h0m0 121h0m1-341h0m0 108h0m0 39h0m0 19h0m0 76h0m1-242h0m0 43h0m0 77h0m0 20h0m0 25h0m0 29h0m0 95h0m1-190h0m1 93h0m0 82h0m0 75h0m1-212h0m0 51h0m0 56h0m1-112h0m0 47h0m0 82h0m0 65h0m1-293h0m0 7h0m0 96h0m0 51h0m0 135h0m0 13h0m0 40h0m1-364h0m0 18h0m0 49h0m0 173h0m1-240h0m0 43h0m0 201h0m1-269h0m0 68h0m0 13h0m0 14h0m0 23h0m0 121h0m0 84h0m0 20h0m0 9h0m0 1h0m1-362h0m0 184h0m0 172h0m1-338h0m0 97h0m0 15h0m0 42h0m0 17h0m0 1h0m0 18h0m0 1h0m0 107h0m1-194h0m0 49h0m0 15h0m0 41h0m0 18h0m0 32h0m1-274h0m0 131h0m0 105h0m0 46h0m0 34h0m0 70h0m1-335h0m0 152h0m1-157h0m0 190h0m0 33h0m0 73h0m0 9h0m1-133h0m0 124h0m1-146h0m0 64h0m0 2h0m0 17h0m1-271h0m0 168h0m0 93h0m0 32h0m0 21h0m0 8h0m0 40h0m0 20h0m1-315h0m0 77h0m0 10h0m0 53h0m0 153h0m1-297h0m0 9h0m0 45h0m0 107h0m0 4h0m0 31h0m0 7h0m1-275h0m0 89h0m0 110h0m0 165h0m1-327h0m0 102h0m0 163h0m0 18h0m1-42h0m1-274h0m0 33h0m0 60h0m0 6h0m0 195h0m1-242h0m0 54h0m0 43h0m0 5h0m0 67h0m0 71h0m0 52h0m1-329h0m0 44h0m0 32h0m0 26h0m0 2h0m0 3h0m0 209h0m1-315h0m0 380h0m1-265h0m0 224h0m1-307h0m0 3h0m0 5h0m0 107h0m0 8h0m0 98h0m0 57h0m0 32h0m1-391h0m0 320h0m1-297h0m0 161h0m0 152h0m1-121h0m0 21h0m0 53h0m0 30h0m0 36h0m1-263h0m0 1h0m0 79h0m0 125h0m0 4h0m0 55h0m0 4h0m0 64h0m1-191h0m0 24h0m0 24h0m0 23h0m0 21h0m1-263h0m0 60h0m0 67h0m0 165h0m1-284h0m0 92h0m0 68h0m0 2h0m0 120h0m0 6h0m0 57h0m1-334h0m0 218h0m1-50h0m1-145h0m0 41h0m0 50h0m0 29h0m0 154h0m0 14h0m1-325h0m0 35h0m0 35h0m0 17h0m0 104h0m1-228h0m0 145h0m0 33h0m0 135h0m1-294h0m0 135h0m0 104h0m0 30h0m1-292h0m0 21h0m0 47h0m0 56h0m0 105h0m0 37h0m0 2h0m1-201h0m0 23h0m0 85h0m0 2h0m0 92h0m0 103h0m1-237h0m0 133h0m0 95h0m0 6h0m1-209h0m0 101h0m0 42h0m0 69h0m1-265h0m0 75h0m0 48h0m0 30h0m0 14h0m0 17h0m1-244h0m0 24h0m0 66h0m0 94h0m0 74h0m0 82h0m1-366h0m0 24h0m0 11h0m0 6h0m0 32h0m0 43h0m0 92h0m0 44h0m0 74h0m1-289h0m0 196h0m0 55h0m0 46h0m0 16h0m1-182h0m0 17h0m0 60h0m0 19h0m0 71h0m0 49h0m1-338h0m0 8h0m0 157h0m0 56h0m0 27h0m1-30h0m1-252h0m0 170h0m1-153h0m0 64h0m0 93h0m0 150h0m1-229h0m0 73h0m0 77h0m0 4h0m0 39h0m0 23h0m0 3h0m0 9h0m1-273h0m0 59h0m0 39h0m0 74h0m0 68h0m1-241h0m0 62h0m0 17h0m0 17h0m0 178h0m1-105h0m1-285h0m0 228h0m0 15h0m1-58h0m0 70h0m0 72h0m1-149h0m0 171h0m1-184h0m0 148h0m0 3h0m0 97h0m1-267h0m0 65h0m0 39h0m2-79h0m0 25h0m0 212h0m1-307h0m0 93h0m0 204h0m1-19h0m1-73h0m0 82h0m1-143h0m0 4h0m0 182h0m2-184h0m0 86h0m0 58h0m1-154h0m0 82h0m0 72h0m2-196h0m0 99h0m0 135h0m1-165h0m0 71h0m1 66h0m1-175h0m1-116h0m0 108h0m2-28h0m1 140h0m1-24h0m1 40h0m3-107h0m0 72h0m0 45h0m0 52h0m1-148h0m2-66h0m0 20h0m0 51h0m1 56h0m0 90h0m1-177h0m1-10h0m0 186h0m1-248h0m1 33h0m1 142h0m0 40h0m1-133h0m2-37h0m0 93h0m1-36h0m3-49h0m0 46h0m3-55h0m0 92h0m3 100h0m1-68h0m2-60h0m0 34h0m0 103h0m2-156h0m1-17h0m10-146h0m1 202h0m0 145h0m2-144h0m0 60h0m1 9h0m2-67h0m6-74h0m2-21h0m1 133h0m1-152h0m4 80h0m3 149h0m3-134h0m9 96h0m6-161h0m6 114h0m7-105h0m17 217h0m15-25h0m13-16h0m18-161h0" stroke="#363636" opacity="0.5"/><path d="M119 360h0m1 55h0m2-11h0m1-68h0m1 105h0m1-67h0m0 32h0m6-28h0m1-86h0m0 108h0m1-92h0m0 98h0m2 47h0m1-71h0m0 4h0m0 50h0m1-118h0m0 21h0m0 79h0m1-86h0m0 91h0m1-97h0m0 28h0m1 3h0m1 45h0m1-3h0m1 3h0m0 37h0m1-84h0m2 15h0m0 23h0m0 43h0m0 4h0m2-153h0m1 14h0m0 52h0m0 35h0m1-106h0m0 98h0m0 1h0m1-63h0m0 3h0m0 71h0m0 6h0m1-29h0m1-97h0m0 15h0m0 20h0m0 12h0m0 29h0m1 24h0m0 70h0m1-148h0m1 37h0m1-47h0m1-85h0m0 225h0m0 10h0m1-42h0m0 32h0m1-163h0m0 74h0m0 8h0m0 75h0m1-113h0m0 16h0m1-73h0m1-5h0m0 33h0m0 22h0m0 156h0m1-186h0m0 71h0m0 58h0m1-114h0m0 33h0m0 8h0m0 88h0m1-161h0m0 48h0m1-99h0m0 66h0m0 111h0m1-6h0m1-55h0m0 4h0m0 5h0m0 61h0m0 32h0m0 6h0m1-212h0m0 15h0m0 38h0m0 84h0m0 98h0m1-143h0m0 2h0m0 48h0m1-117h0m0 4h0m0 19h0m0 95h0m1-171h0m0 71h0m0 70h0m1 110h0m1-149h0m0 59h0m0 1h0m1-187h0m0 217h0m1-108h0m0 14h0m0 71h0m0 86h0m1-247h0m0 4h0m0 23h0m0 69h0m1 71h0m0 23h0m1-86h0m1-64h0m0 11h0m0 10h0m0 114h0m0 49h0m0 21h0m1-267h0m0 42h0m0 100h0m1-85h0m0 56h0m0 88h0m0 3h0m0 39h0m1-182h0m0 1h0m0 23h0m0 69h0m0 86h0m1-178h0m0 70h0m1-97h0m0 161h0m0 68h0m1-139h0m0 14h0m0 83h0m1-171h0m0 95h0m0 24h0m0 7h0m0 42h0m0 31h0m1-249h0m0 24h0m0 107h0m0 78h0m0 27h0m1-198h0m0 120h0m0 80h0m1-233h0m0 238h0m1-111h0m0 27h0m0 32h0m1-104h0m0 19h0m0 89h0m0 12h0m0 5h0m0 1h0m1-80h0m0 101h0m0 41h0m2-319h0m0 71h0m0 64h0m0 52h0m0 9h0m1 55h0m0 31h0m0 5h0m1-103h0m0 15h0m1-49h0m0 51h0m0 49h0m1-249h0m0 110h0m1-3h0m1-116h0m0 37h0m0 13h0m1 93h0m0 28h0m1-48h0m0 24h0m0 159h0m1-148h0m0 46h0m0 2h0m0 36h0m1-197h0m0 9h0m0 128h0m0 13h0m0 21h0m0 44h0m1-200h0m0 144h0m0 120h0m1-86h0m1-210h0m0 10h0m0 209h0m0 13h0m1-290h0m0 22h0m0 24h0m0 13h0m0 89h0m0 69h0m0 42h0m0 7h0m1-194h0m0 133h0m0 18h0m0 73h0m1-291h0m0 88h0m0 48h0m0 91h0m0 9h0m1-189h0m0 136h0m0 55h0m0 2h0m1-164h0m0 152h0m0 33h0m0 84h0m1-311h0m0 24h0m0 2h0m0 101h0m0 37h0m0 143h0m0 18h0m1-248h0m0 19h0m1-75h0m0 5h0m0 1h0m0 197h0m0 16h0m0 7h0m0 23h0m1-305h0m0 31h0m0 81h0m0 53h0m0 43h0m0 95h0m1-167h0m0 85h0m0 101h0m1-95h0m0 8h0m0 40h0m0 2h0m1-244h0m0 60h0m0 26h0m0 129h0m0 46h0m0 10h0m1-290h0m0 140h0m0 31h0m0 19h0m0 118h0m1-124h0m0 16h0m0 18h0m0 21h0m1-253h0m0 201h0m0 35h0m0 83h0m1-302h0m0 37h0m0 54h0m0 39h0m0 153h0m0 15h0m1-283h0m0 122h0m0 166h0m1-286h0m0 27h0m0 185h0m0 31h0m0 38h0m1-216h0m0 15h0m0 26h0m0 59h0m0 32h0m0 54h0m0 1h0m1-291h0m0 8h0m0 186h0m1-172h0m0 20h0m0 41h0m0 11h0m0 82h0m0 76h0m0 65h0m1-300h0m0 42h0m0 130h0m0 85h0m1-91h0m0 128h0m1-162h0m0 40h0m1-215h0m0 109h0m0 134h0m0 17h0m1-243h0m0 99h0m0 175h0m1-109h0m0 8h0m0 7h0m0 10h0m0 7h0m0 127h0m1-273h0m0 123h0m0 42h0m0 89h0m1-134h0m0 32h0m0 101h0m0 27h0m0 15h0m1-334h0m0 70h0m1-42h0m0 22h0m0 91h0m0 97h0m0 80h0m1-299h0m0 7h0m0 29h0m0 192h0m0 57h0m1-279h0m0 16h0m0 128h0m0 57h0m0 23h0m0 46h0m1-240h0m0 58h0m0 46h0m0 107h0m0 2h0m1-118h0m0 22h0m0 53h0m0 72h0m1-15h0m1-279h0m0 169h0m0 25h0m0 62h0m0 34h0m0 34h0m0 4h0m1-259h0m0 6h0m0 41h0m0 24h0m0 82h0m0 99h0m0 8h0m1-352h0m0 193h0m0 103h0m0 54h0m0 3h0m1-341h0m0 104h0m0 179h0m1-203h0m0 22h0m0 191h0m1-248h0m0 59h0m0 135h0m1-84h0m0 18h0m0 71h0m0 44h0m0 12h0m1-209h0m0 46h0m0 54h0m0 75h0m1-303h0m0 81h0m0 2h0m0 144h0m1-149h0m0 15h0m0 10h0m0 122h0m0 42h0m0 36h0m0 53h0m0 13h0m1-305h0m0 103h0m0 116h0m0 62h0m0 17h0m0 40h0m1-371h0m0 119h0m0 33h0m0 3h0m0 109h0m0 4h0m1-166h0m0 19h0m0 94h0m0 50h0m0 10h0m0 54h0m0 1h0m1-123h0m0 155h0m0 5h0m1-372h0m0 67h0m0 75h0m0 61h0m0 175h0m1-355h0m0 145h0m0 5h0m0 41h0m0 59h0m0 6h0m0 4h0m0 97h0m1-75h0m0 2h0m0 12h0m0 12h0m0 3h0m0 1h0m0 11h0m1-220h0m0 39h0m0 105h0m0 66h0m0 9h0m1-226h0m0 23h0m0 27h0m1-20h0m0 14h0m0 62h0m1-214h0m1 2h0m0 39h0m0 4h0m0 22h0m0 25h0m0 23h0m0 64h0m0 17h0m1-212h0m0 165h0m0 73h0m1-184h0m0 13h0m0 26h0m0 171h0m1-250h0m0 84h0m0 34h0m0 234h0m1-360h0m0 162h0m0 82h0m0 6h0m0 50h0m0 31h0m0 5h0m0 33h0m1-422h0m0 134h0m0 9h0m0 90h0m0 87h0m1-229h0m0 118h0m0 15h0m0 2h0m0 48h0m0 38h0m0 1h0m0 33h0m0 40h0m0 6h0m1-145h0m0 87h0m1-218h0m0 7h0m0 28h0m0 110h0m0 26h0m0 81h0m1-280h0m1 29h0m0 240h0m0 41h0m1-245h0m0 109h0m0 3h0m0 50h0m0 54h0m1-285h0m0 80h0m0 56h0m0 69h0m0 90h0m1-271h0m0 15h0m0 12h0m0 25h0m0 74h0m0 2h0m0 40h0m0 61h0m0 30h0m1-214h0m0 55h0m0 38h0m0 138h0m0 8h0m1-353h0m0 5h0m0 186h0m0 64h0m1-232h0m0 26h0m0 8h0m0 182h0m0 57h0m1-296h0m0 102h0m0 102h0m0 100h0m0 74h0m0 12h0m1-368h0m0 53h0m0 85h0m0 97h0m0 105h0m1-277h0m0 45h0m0 40h0m0 77h0m0 110h0m1-254h0m0 12h0m0 26h0m0 106h0m0 69h0m1-152h0m0 149h0m0 10h0m1-164h0m0 120h0m0 25h0m1-169h0m0 40h0m1-126h0m0 88h0m0 11h0m0 43h0m0 49h0m0 73h0m0 53h0m1-138h0m1-108h0m0 33h0m0 158h0m0 5h0m0 13h0m1-348h0m0 106h0m0 105h0m0 122h0m1-301h0m0 70h0m0 77h0m0 54h0m1-249h0m0 39h0m0 25h0m0 24h0m0 29h0m0 137h0m0 77h0m0 5h0m0 17h0m1-266h0m0 4h0m0 99h0m0 30h0m0 65h0m0 77h0m0 61h0m1-244h0m0 34h0m2-154h0m0 176h0m0 5h0m0 3h0m0 53h0m1-203h0m0 55h0m0 230h0m0 51h0m1-299h0m0 164h0m1-59h0m0 145h0m1-220h0m0 105h0m0 28h0m0 8h0m0 22h0m0 24h0m1-281h0m0 55h0m0 10h0m0 72h0m0 14h0m0 44h0m0 89h0m1-148h0m0 200h0m1-309h0m0 21h0m0 16h0m0 109h0m0 75h0m1-271h0m0 36h0m0 26h0m0 60h0m0 12h0m0 9h0m0 111h0m0 18h0m0 16h0m1-286h0m0 198h0m0 14h0m0 29h0m1-115h0m0 4h0m0 61h0m0 5h0m0 81h0m1-299h0m0 64h0m0 77h0m0 63h0m0 26h0m0 84h0m0 21h0m0 19h0m1-325h0m0 68h0m0 52h0m0 46h0m0 38h0m1-150h0m0 53h0m0 133h0m0 6h0m1-274h0m0 14h0m0 167h0m0 124h0m0 44h0m0 39h0m1-308h0m0 17h0m0 6h0m0 58h0m0 59h0m0 109h0m1-199h0m1 104h0m0 78h0m1-251h0m0 48h0m0 103h0m0 14h0m0 71h0m1-236h0m0 87h0m2 62h0m0 43h0m0 45h0m0 94h0m1-307h0m0 166h0m1-107h0m0 1h0m0 137h0m0 79h0m2-339h0m0 320h0m3-132h0m0 38h0m1-11h0m0 26h0m1-31h0m0 107h0m1-177h0m0 181h0m1-281h0m0 81h0m0 27h0m0 169h0m1-87h0m0 87h0m2-16h0m0 3h0m2-1h0m1-83h0m0 17h0m1-150h0m0 74h0m3 9h0m0 64h0m4-58h0m0 10h0m3 33h0m3-71h0m8-24h0m0 27h0m0 192h0m2-41h0m1-83h0m1-38h0m3-45h0m4 58h0m3-3h0m3 37h0m2-31h0m14-22h0m6 175h0m3-45h0m5-120h0m6 26h0m2-53h0m2 33h0m1 130h0m12-141h0m5 200h0m16-197h0m4 175h0m2-50h0m29-93h0" stroke="#363636" opacity="0.5"/><path d="M109 447h0m13-77h0m2 35h0m1-112h0m0 26h0m3 79h0m1-12h0m2-45h0m0 70h0m1 40h0m2-58h0m1 29h0m1-80h0m1-12h0m1 1h0m0 75h0m1-48h0m1 97h0m2-179h0m2 103h0m0 18h0m0 7h0m0 40h0m1-107h0m0 104h0m1-156h0m0 62h0m1 67h0m1-43h0m0 42h0m1-143h0m0 24h0m0 12h0m0 7h0m0 102h0m2-86h0m1-10h0m0 68h0m1-67h0m0 107h0m1-93h0m0 23h0m0 64h0m1-40h0m0 10h0m1-131h0m1 25h0m0 44h0m0 35h0m0 24h0m0 22h0m1-106h0m0 4h0m0 107h0m1-143h0m0 45h0m0 16h0m0 107h0m1-131h0m2-56h0m0 54h0m0 64h0m1-143h0m0 213h0m1-117h0m0 45h0m0 67h0m1-213h0m0 48h0m0 45h0m0 80h0m1-90h0m0 29h0m0 3h0m0 17h0m2 1h0m1-102h0m0 11h0m0 43h0m0 33h0m0 73h0m0 39h0m1-99h0m1-24h0m1-41h0m0 45h0m0 42h0m0 38h0m0 4h0m0 4h0m1-203h0m0 71h0m0 1h0m0 54h0m0 60h0m0 5h0m1-197h0m0 220h0m0 15h0m1-170h0m1-4h0m0 38h0m0 40h0m1-14h0m1-71h0m0 157h0m1-243h0m0 32h0m2 136h0m0 54h0m1-230h0m0 50h0m0 143h0m0 45h0m1-215h0m0 27h0m0 146h0m0 1h0m1-111h0m0 93h0m0 23h0m0 27h0m1-191h0m0 197h0m1-229h0m0 100h0m0 112h0m0 7h0m1-222h0m0 5h0m0 97h0m0 17h0m0 66h0m1-175h0m0 85h0m0 139h0m0 3h0m1-105h0m0 8h0m0 66h0m0 49h0m1-243h0m0 44h0m0 46h0m0 58h0m1-93h0m0 13h0m0 45h0m0 5h0m0 58h0m1-153h0m0 167h0m0 8h0m1-185h0m0 141h0m0 71h0m1-98h0m1-181h0m0 193h0m0 45h0m1-152h0m0 117h0m0 47h0m0 1h0m0 40h0m1-215h0m0 120h0m0 42h0m1-249h0m0 46h0m0 180h0m0 40h0m0 26h0m1-187h0m0 18h0m0 55h0m0 59h0m1-136h0m0 94h0m0 100h0m1-250h0m0 70h0m0 205h0m1-207h0m1-69h0m0 27h0m0 89h0m0 80h0m1-164h0m0 135h0m0 2h0m0 85h0m1-117h0m0 19h0m0 13h0m0 56h0m0 25h0m0 7h0m1-292h0m0 43h0m0 20h0m0 14h0m0 32h0m0 73h0m0 43h0m0 47h0m0 28h0m1-259h0m0 93h0m0 15h0m0 30h0m0 44h0m0 43h0m1-219h0m0 53h0m0 15h0m1-106h0m0 14h0m0 98h0m0 10h0m0 76h0m0 7h0m0 17h0m0 37h0m1-304h0m0 107h0m0 176h0m0 43h0m0 22h0m1-250h0m0 122h0m0 81h0m1-281h0m0 159h0m0 6h0m0 15h0m0 21h0m0 26h0m1-216h0m0 122h0m0 35h0m1-169h0m0 37h0m0 109h0m0 48h0m0 76h0m1-235h0m0 120h0m0 18h0m1-118h0m0 11h0m0 107h0m0 18h0m0 13h0m1-217h0m0 36h0m0 138h0m0 128h0m0 2h0m0 10h0m0 9h0m1-156h0m2-131h0m0 33h0m0 105h0m0 36h0m0 14h0m0 18h0m0 64h0m1-151h0m0 14h0m0 8h0m0 37h0m0 103h0m0 22h0m1-344h0m0 36h0m0 13h0m0 159h0m0 74h0m1-243h0m0 240h0m1-160h0m0 109h0m0 43h0m0 8h0m0 29h0m1-260h0m0 43h0m0 112h0m0 56h0m0 34h0m0 15h0m0 1h0m1-194h0m0 121h0m1-223h0m0 3h0m0 21h0m0 67h0m0 160h0m1-248h0m0 112h0m0 70h0m0 10h0m1-175h0m0 11h0m0 200h0m1-199h0m0 131h0m0 103h0m0 57h0m1-296h0m0 36h0m0 12h0m0 138h0m0 68h0m2-231h0m0 15h0m0 22h0m0 38h0m1-84h0m0 31h0m0 3h0m0 50h0m0 39h0m0 13h0m0 8h0m0 45h0m0 15h0m0 11h0m0 37h0m1-301h0m0 8h0m0 157h0m0 75h0m0 44h0m1-200h0m0 223h0m1-315h0m0 64h0m0 40h0m0 90h0m0 51h0m0 17h0m1-235h0m0 153h0m0 57h0m0 52h0m1-238h0m0 66h0m0 28h0m0 17h0m0 150h0m1-295h0m0 55h0m0 2h0m0 30h0m0 76h0m0 109h0m0 2h0m1-190h0m0 55h0m0 190h0m1-310h0m0 22h0m0 23h0m0 173h0m1-225h0m0 19h0m0 200h0m0 28h0m1-207h0m0 42h0m1-26h0m0 45h0m0 84h0m0 33h0m0 29h0m1-258h0m0 9h0m0 104h0m0 48h0m0 74h0m0 5h0m0 18h0m1-36h0m0 12h0m1-200h0m0 88h0m0 21h0m0 152h0m0 7h0m1-191h0m1-53h0m0 40h0m0 150h0m0 9h0m1-235h0m0 87h0m0 37h0m0 18h0m0 85h0m0 51h0m1-293h0m0 56h0m1 57h0m0 12h0m0 114h0m1-264h0m0 2h0m0 28h0m0 87h0m0 26h0m0 90h0m0 57h0m1-259h0m0 24h0m0 50h0m0 137h0m0 24h0m0 43h0m1-356h0m0 49h0m0 51h0m0 17h0m0 32h0m0 39h0m0 16h0m0 34h0m0 122h0m1-278h0m0 82h0m0 152h0m0 5h0m1-318h0m0 39h0m0 2h0m1 31h0m0 171h0m0 106h0m1-229h0m0 27h0m0 34h0m0 20h0m0 94h0m0 8h0m1-225h0m0 18h0m0 20h0m0 45h0m0 88h0m0 38h0m0 72h0m1-335h0m0 77h0m0 111h0m0 47h0m1-205h0m0 176h0m0 89h0m0 14h0m1-272h0m0 7h0m0 95h0m0 39h0m1-180h0m0 68h0m0 141h0m0 44h0m0 23h0m0 46h0m1-299h0m0 128h0m0 62h0m0 33h0m0 48h0m1-176h0m0 140h0m0 15h0m1-258h0m1 11h0m0 13h0m0 121h0m0 3h0m0 57h0m0 70h0m1-272h0m0 29h0m0 114h0m0 105h0m0 14h0m0 10h0m0 27h0m1-297h0m0 158h0m1-89h0m0 146h0m0 133h0m1-331h0m0 52h0m0 49h0m0 205h0m1-312h0m0 44h0m1-67h0m0 22h0m0 10h0m0 32h0m0 72h0m1-144h0m0 35h0m0 39h0m0 260h0m1-241h0m0 50h0m0 54h0m0 9h0m0 30h0m0 46h0m0 92h0m1-356h0m0 43h0m0 13h0m0 88h0m0 38h0m0 48h0m1-214h0m0 128h0m0 61h0m0 44h0m0 23h0m1-340h0m0 103h0m0 12h0m0 74h0m0 26h0m0 179h0m0 7h0m0 13h0m1-390h0m0 97h0m0 19h0m0 100h0m0 19h0m0 82h0m1-249h0m0 60h0m0 14h0m0 69h0m0 67h0m0 46h0m1-128h0m0 47h0m1-222h0m0 17h0m0 39h0m0 133h0m0 45h0m1-162h0m1 49h0m0 20h0m0 6h0m0 67h0m0 15h0m0 37h0m0 35h0m0 39h0m0 22h0m1-233h0m0 213h0m1-319h0m0 31h0m0 57h0m0 83h0m0 35h0m0 37h0m0 63h0m0 49h0m1-343h0m0 120h0m0 64h0m0 46h0m0 91h0m1-345h0m0 15h0m0 26h0m0 61h0m0 5h0m0 46h0m0 52h0m0 64h0m0 12h0m0 1h0m0 21h0m1-287h0m0 24h0m0 88h0m0 55h0m0 7h0m1-135h0m0 44h0m0 132h0m1-221h0m0 130h0m0 14h0m0 133h0m0 8h0m0 31h0m0 38h0m1-329h0m0 43h0m0 57h0m0 155h0m0 79h0m1-344h0m0 119h0m0 40h0m1-162h0m0 289h0m0 60h0m1-340h0m0 108h0m0 26h0m0 47h0m0 46h0m1-188h0m0 198h0m1-314h0m0 211h0m1-35h0m0 17h0m0 88h0m0 84h0m1-132h0m0 6h0m1-220h0m0 99h0m0 98h0m0 1h0m0 108h0m1-313h0m0 53h0m0 184h0m0 51h0m0 81h0m1-230h0m0 207h0m0 54h0m1-334h0m1 41h0m0 137h0m0 10h0m0 60h0m1-228h0m0 140h0m0 19h0m0 84h0m1-327h0m0 87h0m0 182h0m0 10h0m1-268h0m0 132h0m0 79h0m0 88h0m1-267h0m0 101h0m0 54h0m0 118h0m0 9h0m0 21h0m0 8h0m0 33h0m1-258h0m0 10h0m0 51h0m0 176h0m0 20h0m1-235h0m0 12h0m0 68h0m0 46h0m0 17h0m0 60h0m0 3h0m0 2h0m0 11h0m1-231h0m0 40h0m0 19h0m0 64h0m0 39h0m0 44h0m0 4h0m1-152h0m0 58h0m0 2h0m0 91h0m0 24h0m1-239h0m0 192h0m0 48h0m1-248h0m0 108h0m0 102h0m1-132h0m0 25h0m0 36h0m0 28h0m0 46h0m1-195h0m0 2h0m0 257h0m1-74h0m1-7h0m0 72h0m1-323h0m0 68h0m0 189h0m1 23h0m1-36h0m1-91h0m0 132h0m2-254h0m0 110h0m1-141h0m0 49h0m0 9h0m0 161h0m0 13h0m1 19h0m1 23h0m1-266h0m2 79h0m0 215h0m1-262h0m0 24h0m0 256h0m5-249h0m0 161h0m0 11h0m1-67h0m0 145h0m1-66h0m0 42h0m2-84h0m1 40h0m1-90h0m0 39h0m1-151h0m0 188h0m0 62h0m0 8h0m3-145h0m1-85h0m0 171h0m1-79h0m0 43h0m0 69h0m2-128h0m0 27h0m0 29h0m0 72h0m2-83h0m1-146h0m1 50h0m0 47h0m3-116h0m1 268h0m1-208h0m2 131h0m3-108h0m4 108h0m2 22h0m2 60h0m1-91h0m4 70h0m1-138h0m3 110h0m10 52h0m2-113h0m1-57h0m14 46h0m6-29h0m3 4h0m0 149h0m2-157h0m0 96h0m15-68h0m10-14h0m3 74h0m1-129h0m7 213h0m13-185h0" stroke="#363636" opacity="0.5"/><path d="M116 359h0m5 28h0m0 11h0m5-79h0m0 130h0m4-133h0m0 60h0m1-75h0m1 92h0m1 22h0m2-52h0m1-77h0m0 8h0m0 39h0m0 50h0m1 19h0m2-18h0m1-122h0m0 31h0m0 120h0m1-69h0m1 35h0m2-92h0m0 63h0m1-52h0m0 22h0m1 72h0m1-44h0m0 21h0m0 25h0m1-169h0m0 7h0m0 71h0m0 55h0m0 59h0m1-121h0m0 1h0m0 78h0m0 74h0m1-4h0m1-51h0m2-189h0m0 85h0m0 78h0m1-112h0m0 23h0m0 89h0m0 8h0m0 27h0m1-150h0m0 68h0m0 15h0m1-89h0m1 202h0m1-200h0m0 37h0m0 87h0m1-109h0m0 4h0m0 120h0m1-146h0m0 94h0m0 48h0m0 70h0m1-191h0m0 36h0m0 48h0m0 16h0m0 36h0m1-126h0m2-36h0m0 131h0m0 48h0m0 25h0m1-78h0m2 9h0m0 2h0m0 24h0m0 26h0m1-212h0m0 155h0m1-82h0m0 19h0m0 68h0m1-179h0m0 35h0m0 35h0m0 38h0m0 10h0m0 1h0m0 64h0m0 28h0m1-118h0m0 132h0m1-51h0m0 65h0m1-214h0m0 114h0m0 3h0m2-93h0m0 48h0m0 16h0m0 123h0m1-163h0m0 54h0m1-31h0m0 46h0m0 59h0m0 24h0m1-187h0m0 23h0m0 97h0m2 58h0m0 17h0m2-262h0m0 78h0m0 44h0m0 78h0m1-132h0m0 4h0m0 75h0m0 130h0m1-230h0m0 44h0m0 29h0m0 33h0m0 36h0m1-116h0m0 40h0m0 2h0m0 41h0m0 11h0m0 51h0m0 10h0m0 10h0m1-160h0m0 2h0m0 52h0m0 48h0m1-57h0m0 115h0m0 32h0m1-241h0m0 52h0m0 23h0m2-100h0m0 18h0m0 74h0m0 57h0m0 59h0m0 5h0m0 41h0m1-279h0m0 17h0m0 146h0m0 92h0m0 5h0m0 15h0m1-294h0m0 265h0m1-200h0m1 203h0m0 15h0m0 34h0m0 4h0m1-236h0m0 61h0m1-28h0m0 85h0m0 97h0m1-120h0m0 11h0m0 17h0m1-125h0m0 15h0m0 61h0m0 13h0m1-128h0m0 113h0m0 139h0m1-236h0m0 57h0m0 150h0m0 4h0m1-190h0m0 85h0m0 103h0m0 10h0m0 1h0m0 38h0m0 1h0m1-316h0m0 161h0m0 46h0m0 65h0m1-250h0m0 145h0m0 115h0m1-61h0m0 26h0m0 40h0m1-148h0m0 33h0m0 117h0m1-252h0m0 16h0m0 90h0m0 106h0m0 12h0m0 29h0m1-269h0m0 47h0m0 28h0m0 7h0m0 38h0m0 57h0m0 56h0m0 62h0m1-270h0m0 49h0m1-54h0m1 1h0m0 12h0m0 80h0m0 58h0m0 21h0m0 35h0m0 5h0m1-233h0m0 45h0m0 26h0m0 62h0m0 27h0m0 81h0m1-147h0m0 1h0m1-81h0m0 187h0m1-212h0m0 59h0m0 24h0m0 11h0m0 13h0m0 5h0m0 104h0m0 68h0m0 10h0m1-330h0m0 41h0m0 9h0m0 89h0m1 186h0m1-272h0m0 180h0m1-110h0m0 112h0m1-100h0m0 27h0m0 138h0m1-163h0m0 16h0m0 83h0m0 34h0m1-177h0m0 70h0m1-87h0m0 13h0m0 24h0m0 39h0m1-131h0m0 32h0m0 215h0m1-213h0m0 16h0m0 5h0m0 30h0m0 29h0m0 9h0m0 74h0m0 85h0m1-259h0m0 23h0m0 10h0m0 103h0m1-114h0m0 186h0m0 67h0m1-253h0m0 52h0m0 41h0m0 96h0m0 10h0m0 9h0m0 54h0m1-102h0m0 92h0m1-322h0m0 49h0m0 83h0m0 119h0m1-197h0m0 160h0m1-239h0m0 29h0m0 24h0m0 196h0m0 83h0m1-152h0m0 20h0m0 71h0m0 18h0m1-280h0m0 54h0m0 54h0m0 38h0m0 149h0m1-256h0m0 62h0m0 92h0m0 15h0m0 85h0m0 18h0m0 29h0m1-334h0m0 198h0m1 74h0m0 50h0m0 32h0m0 15h0m1-325h0m0 19h0m0 7h0m0 30h0m0 17h0m0 25h0m0 72h0m0 55h0m0 34h0m1-126h0m0 86h0m0 3h0m0 19h0m1-178h0m0 39h0m0 106h0m0 14h0m0 27h0m0 2h0m1-266h0m0 32h0m0 29h0m0 12h0m0 62h0m0 27h0m0 73h0m0 67h0m1-331h0m0 55h0m0 172h0m1-228h0m0 45h0m0 1h0m0 69h0m0 34h0m0 44h0m0 53h0m1-220h0m0 98h0m0 34h0m0 193h0m1-145h0m0 62h0m0 14h0m1-158h0m0 136h0m0 63h0m1-253h0m0 37h0m0 85h0m0 82h0m1-259h0m0 104h0m0 149h0m0 26h0m1-154h0m0 18h0m0 85h0m1-180h0m0 127h0m0 9h0m0 58h0m0 15h0m0 84h0m1-290h0m0 131h0m0 42h0m0 24h0m1-228h0m0 106h0m0 70h0m0 60h0m0 69h0m1-200h0m0 45h0m0 172h0m1-223h0m0 38h0m0 44h0m0 60h0m0 30h0m1-336h0m0 2h0m0 1h0m0 47h0m0 309h0m1-74h0m0 55h0m0 5h0m0 15h0m1-304h0m0 177h0m0 82h0m0 38h0m1-357h0m0 91h0m0 92h0m0 22h0m0 39h0m0 1h0m0 126h0m1-183h0m0 18h0m0 41h0m0 21h0m0 1h0m1-171h0m0 43h0m0 21h0m0 169h0m1-102h0m0 79h0m1-142h0m0 35h0m0 152h0m0 1h0m0 29h0m0 8h0m1-292h0m0 3h0m0 48h0m0 153h0m0 12h0m0 26h0m0 3h0m1-161h0m0 26h0m0 12h0m0 54h0m1-271h0m0 178h0m0 6h0m0 16h0m0 2h0m1-145h0m0 31h0m1 231h0m0 47h0m1-339h0m0 20h0m0 43h0m0 28h0m0 127h0m0 27h0m0 2h0m0 4h0m1-190h0m0 33h0m0 145h0m0 101h0m0 29h0m1-286h0m0 19h0m0 21h0m0 7h0m0 36h0m1-175h0m0 106h0m0 73h0m0 14h0m0 20h0m1-193h0m0 208h0m0 66h0m0 13h0m1-163h0m0 54h0m0 64h0m0 59h0m1-24h0m0 48h0m0 4h0m1-362h0m0 94h0m0 13h0m0 53h0m0 188h0m1-239h0m0 55h0m0 80h0m0 57h0m0 47h0m1-291h0m0 33h0m0 108h0m0 11h0m0 11h0m0 10h0m0 29h0m1-213h0m0 108h0m0 112h0m0 31h0m0 39h0m1-197h0m0 45h0m0 30h0m1-202h0m0 291h0m1-277h0m0 70h0m0 13h0m0 192h0m0 36h0m0 25h0m1-304h0m0 68h0m0 45h0m0 21h0m0 86h0m1-49h0m1-182h0m0 10h0m0 234h0m0 19h0m0 9h0m1-246h0m0 73h0m0 42h0m0 83h0m0 84h0m0 10h0m1-380h0m0 137h0m0 90h0m0 76h0m0 43h0m2-264h0m0 163h0m1-266h0m0 261h0m0 81h0m0 32h0m1-306h0m0 2h0m0 63h0m0 196h0m0 34h0m0 26h0m1-143h0m0 11h0m0 119h0m1-109h0m0 20h0m1-199h0m0 78h0m0 161h0m1-203h0m0 13h0m0 26h0m0 229h0m1-337h0m0 145h0m0 119h0m0 32h0m1-308h0m0 43h0m0 5h0m0 11h0m0 88h0m0 177h0m1-325h0m0 101h0m0 55h0m0 15h0m0 15h0m0 1h0m0 23h0m0 26h0m0 64h0m0 10h0m0 7h0m0 17h0m1-327h0m0 245h0m1-163h0m0 99h0m0 33h0m0 17h0m0 14h0m0 5h0m1-92h0m0 77h0m0 82h0m0 24h0m1-345h0m0 8h0m0 88h0m0 126h0m0 30h0m0 36h0m1-281h0m0 37h0m0 138h0m0 36h0m0 90h0m1-178h0m0 52h0m0 30h0m0 37h0m0 4h0m0 75h0m1-296h0m0 8h0m0 1h0m0 33h0m0 180h0m1-304h0m0 57h0m0 4h0m0 36h0m0 62h0m0 117h0m0 104h0m1-383h0m0 49h0m0 78h0m0 83h0m0 21h0m0 13h0m0 51h0m0 92h0m1-214h0m0 77h0m0 11h0m0 89h0m0 71h0m1-374h0m0 197h0m0 3h0m0 54h0m1-163h0m0 146h0m0 54h0m1-275h0m0 10h0m0 211h0m0 55h0m0 30h0m1-202h0m0 123h0m0 8h0m1-225h0m0 26h0m0 2h0m1-41h0m0 29h0m0 22h0m0 24h0m0 126h0m0 110h0m1-221h0m0 56h0m0 81h0m1 53h0m0 25h0m1-246h0m0 73h0m0 21h0m0 12h0m0 164h0m0 15h0m1-351h0m0 45h0m0 119h0m0 14h0m0 18h0m0 50h0m0 24h0m0 52h0m0 23h0m1-313h0m0 164h0m0 116h0m1-270h0m0 145h0m2-29h0m0 149h0m1-152h0m2-9h0m0 10h0m0 142h0m1-282h0m0 180h0m0 9h0m0 119h0m1-169h0m1 46h0m0 95h0m1-137h0m0 133h0m1-29h0m1-174h0m0 262h0m1-274h0m1 41h0m1 111h0m1-68h0m1 109h0m2 70h0m1-127h0m0 63h0m0 4h0m2-152h0m0 95h0m1-40h0m0 103h0m0 26h0m2 29h0m1-128h0m1 136h0m2-197h0m0 31h0m1-50h0m0 239h0m1-164h0m0 24h0m1-108h0m0 37h0m0 165h0m0 30h0m2-193h0m0 81h0m0 9h0m1-4h0m0 25h0m1-105h0m1-134h0m2 150h0m0 59h0m1 108h0m3-103h0m0 34h0m0 26h0m2-35h0m1 10h0m2-163h0m0 127h0m0 23h0m0 88h0m1-11h0m1-146h0m0 143h0m3-134h0m0 54h0m1-122h0m0 206h0m1-175h0m2-15h0m2 153h0m1-35h0m0 24h0m2-124h0m4 174h0m4-81h0m0 53h0m3-99h0m0 95h0m9 37h0m7-4h0m3-118h0m11 116h0m1-104h0m1-83h0m29-8h0m3 161h0m0 18h0m26-20h0m10-54h0" stroke="#363636" opacity="0.5"/><path d="M117 426h0m3 23h0m1-37h0m1-6h0m1 37h0m1-85h0m2 28h0m2 48h0m1-157h0m4-17h0m2 121h0m0 22h0m1-23h0m1-45h0m0 20h0m0 50h0m0 13h0m2-74h0m3-8h0m0 21h0m0 23h0m1 16h0m1-57h0m1-111h0m0 11h0m2 116h0m1-113h0m0 178h0m1-108h0m0 34h0m0 14h0m0 33h0m2-32h0m1-97h0m0 2h0m1 127h0m2-56h0m0 19h0m0 17h0m0 7h0m1-146h0m0 20h0m0 101h0m0 62h0m0 10h0m1-154h0m0 15h0m0 39h0m0 33h0m0 26h0m0 2h0m1-159h0m0 7h0m0 15h0m0 62h0m0 16h0m0 63h0m0 24h0m0 6h0m1-198h0m0 65h0m1-58h0m0 90h0m0 16h0m0 22h0m0 15h0m0 1h0m1-116h0m0 159h0m1-148h0m0 15h0m0 28h0m0 29h0m0 25h0m0 24h0m0 39h0m1-168h0m0 68h0m0 8h0m0 40h0m0 24h0m1 2h0m1-67h0m0 44h0m1-158h0m0 205h0m1-72h0m0 37h0m1-94h0m0 17h0m1-26h0m0 50h0m0 17h0m1-30h0m1-32h0m0 31h0m0 13h0m1-107h0m0 132h0m0 53h0m1-189h0m0 110h0m1 29h0m0 73h0m1-226h0m0 6h0m0 117h0m0 31h0m0 68h0m1-232h0m0 76h0m0 79h0m0 56h0m1-204h0m0 14h0m0 139h0m0 10h0m1-117h0m0 41h0m0 76h0m0 7h0m0 48h0m1-90h0m1-154h0m0 145h0m1-88h0m0 180h0m0 15h0m1-232h0m0 4h0m0 27h0m0 64h0m0 76h0m0 32h0m0 16h0m0 1h0m1-211h0m0 162h0m1-50h0m1-20h0m1 12h0m0 65h0m1-185h0m0 60h0m0 32h0m0 29h0m0 21h0m1-5h0m0 44h0m1-196h0m0 136h0m0 40h0m1-141h0m1 47h0m0 48h0m0 16h0m0 16h0m1-224h0m0 305h0m1-191h0m0 41h0m0 55h0m0 63h0m1-144h0m0 28h0m0 39h0m0 29h0m0 28h0m0 29h0m0 15h0m1-174h0m0 28h0m0 22h0m0 35h0m0 86h0m1-219h0m0 210h0m1-224h0m0 55h0m0 60h0m0 45h0m0 13h0m0 23h0m1-58h0m0 21h0m0 75h0m1-251h0m0 17h0m0 49h0m0 7h0m0 104h0m0 42h0m0 10h0m1-190h0m0 16h0m0 39h0m0 145h0m1-12h0m1-103h0m0 31h0m0 1h0m1-94h0m0 71h0m0 90h0m1-183h0m0 97h0m1-128h0m0 36h0m0 111h0m1-58h0m0 50h0m0 3h0m0 38h0m0 18h0m1-131h0m1-69h0m0 1h0m0 56h0m0 53h0m0 92h0m0 7h0m1-246h0m0 18h0m0 64h0m0 82h0m1-69h0m0 32h0m0 128h0m1-257h0m0 6h0m0 29h0m0 168h0m0 26h0m1-274h0m0 107h0m1-109h0m0 98h0m0 111h0m0 43h0m0 85h0m1-298h0m0 149h0m1-88h0m0 82h0m0 89h0m1-238h0m0 25h0m0 77h0m0 51h0m1-54h0m0 201h0m1-273h0m0 101h0m1-51h0m0 66h0m0 179h0m1-240h0m0 101h0m0 35h0m0 76h0m1-327h0m0 57h0m0 38h0m0 28h0m0 181h0m0 9h0m0 10h0m1-102h0m0 93h0m1-219h0m0 252h0m1-224h0m0 192h0m1-209h0m0 202h0m1-267h0m0 7h0m0 108h0m1-78h0m0 204h0m0 21h0m1-284h0m0 59h0m0 176h0m0 2h0m0 74h0m1-246h0m0 102h0m0 1h0m0 47h0m0 60h0m0 15h0m0 15h0m1-251h0m0 23h0m0 22h0m0 34h0m0 98h0m0 20h0m0 37h0m0 3h0m1-314h0m1 60h0m0 210h0m0 15h0m0 44h0m1-189h0m0 18h0m0 34h0m0 17h0m0 87h0m1-257h0m0 173h0m0 12h0m0 86h0m0 18h0m1-173h0m0 37h0m0 9h0m0 30h0m0 90h0m1-300h0m0 31h0m0 13h0m0 3h0m0 143h0m0 7h0m0 16h0m0 46h0m1-209h0m0 20h0m0 122h0m0 86h0m0 10h0m1-273h0m0 91h0m0 75h0m1-180h0m0 4h0m0 25h0m1 132h0m0 128h0m0 12h0m1-138h0m0 79h0m1-211h0m0 22h0m0 51h0m0 198h0m0 28h0m1-215h0m0 14h0m0 56h0m0 39h0m0 27h0m0 38h0m0 42h0m1-340h0m0 85h0m0 103h0m0 38h0m0 14h0m1-192h0m0 14h0m0 30h0m0 25h0m0 44h0m1-86h0m0 8h0m0 49h0m0 40h0m0 72h0m0 14h0m0 66h0m0 33h0m1-355h0m0 36h0m0 79h0m0 8h0m0 94h0m0 7h0m0 46h0m1-263h0m0 300h0m0 12h0m1-315h0m0 26h0m0 68h0m0 134h0m1-123h0m0 209h0m1-299h0m0 123h0m0 69h0m0 4h0m0 71h0m0 20h0m0 15h0m1-101h0m0 100h0m1-293h0m0 39h0m0 155h0m0 103h0m1-303h0m0 41h0m0 188h0m1-135h0m0 69h0m0 44h0m0 13h0m0 78h0m1-128h0m0 45h0m0 60h0m0 13h0m0 4h0m1-314h0m0 16h0m0 92h0m0 26h0m0 21h0m0 20h0m0 144h0m1-328h0m0 51h0m0 10h0m1-69h0m0 1h0m0 103h0m0 88h0m1-177h0m0 62h0m0 243h0m0 30h0m1-317h0m0 127h0m0 43h0m0 137h0m1-135h0m0 83h0m0 42h0m1-303h0m0 74h0m0 66h0m0 1h0m0 14h0m0 20h0m0 6h0m0 52h0m1-157h0m0 81h0m0 29h0m0 24h0m0 23h0m0 8h0m0 68h0m0 4h0m0 11h0m1-189h0m0 63h0m0 147h0m1-294h0m0 81h0m0 63h0m0 72h0m1-287h0m0 35h0m0 77h0m0 158h0m1-253h0m0 96h0m0 15h0m0 69h0m0 30h0m0 85h0m0 20h0m1-227h0m0 25h0m0 101h0m0 20h0m0 69h0m1-333h0m0 24h0m0 12h0m0 40h0m0 203h0m1-177h0m0 43h0m0 17h0m0 3h0m1-162h0m0 1h0m0 6h0m0 204h0m0 28h0m0 53h0m1-300h0m0 62h0m0 46h0m0 143h0m1-209h0m0 70h0m0 38h0m0 15h0m0 28h0m0 40h0m1-179h0m0 149h0m0 130h0m1-309h0m0 80h0m0 53h0m0 109h0m0 41h0m0 16h0m1-272h0m0 93h0m0 77h0m0 115h0m1-297h0m0 8h0m0 9h0m0 6h0m0 31h0m0 7h0m0 41h0m0 12h0m0 79h0m0 63h0m0 48h0m1-116h0m0 16h0m0 113h0m1-169h0m0 92h0m0 47h0m1-365h0m0 82h0m0 130h0m0 34h0m0 32h0m1-136h0m0 99h0m1-169h0m0 3h0m0 91h0m0 111h0m1-279h0m0 36h0m0 56h0m0 49h0m0 143h0m1-215h0m0 296h0m1-216h0m0 11h0m0 223h0m1-353h0m0 45h0m0 5h0m0 154h0m0 31h0m0 20h0m1 76h0m1-221h0m0 5h0m0 19h0m0 103h0m0 79h0m1-273h0m0 186h0m1-143h0m0 177h0m0 44h0m1-320h0m0 75h0m0 23h0m0 18h0m0 38h0m0 152h0m0 35h0m1-267h0m0 7h0m0 162h0m0 65h0m0 66h0m0 2h0m1-320h0m0 30h0m0 41h0m0 90h0m0 57h0m0 42h0m1-294h0m0 184h0m0 147h0m0 10h0m1-95h0m1-275h0m0 63h0m0 31h0m0 86h0m0 14h0m0 94h0m0 69h0m1-251h0m0 35h0m0 122h0m0 89h0m1-355h0m0 15h0m1 139h0m0 99h0m0 59h0m0 22h0m0 41h0m1-263h0m0 24h0m0 26h0m0 108h0m0 78h0m0 21h0m0 34h0m1-357h0m0 105h0m0 20h0m0 27h0m0 40h0m0 16h0m0 71h0m0 20h0m1-245h0m0 98h0m0 86h0m0 24h0m0 8h0m0 3h0m0 68h0m1-333h0m0 240h0m0 46h0m0 14h0m1-264h0m1-25h0m0 57h0m0 50h0m0 90h0m0 12h0m1-68h0m0 46h0m0 19h0m1-163h0m0 23h0m0 39h0m0 203h0m1-275h0m0 81h0m0 47h0m0 38h0m0 9h0m0 90h0m0 9h0m1-279h0m0 214h0m0 60h0m0 33h0m1-345h0m0 18h0m0 12h0m0 213h0m0 69h0m1-347h0m0 30h0m0 8h0m0 34h0m0 177h0m0 10h0m0 29h0m1-197h0m0 110h0m0 143h0m1-246h0m0 96h0m0 147h0m1-308h0m0 113h0m1-118h0m0 64h0m0 104h0m0 78h0m0 58h0m0 11h0m1-137h0m1-2h0m1 112h0m1-116h0m0 103h0m1-237h0m0 132h0m0 3h0m0 153h0m0 29h0m1-223h0m0 23h0m0 141h0m1-131h0m0 147h0m0 5h0m3-165h0m1 162h0m0 8h0m1 17h0m0 12h0m1-236h0m0 78h0m0 27h0m0 20h0m1-66h0m0 5h0m0 72h0m0 64h0m1-361h0m0 225h0m0 32h0m0 52h0m1-18h0m2-26h0m0 92h0m2 18h0m2-277h0m0 214h0m0 6h0m1-51h0m0 11h0m2-104h0m0 244h0m2-94h0m1 37h0m0 33h0m1-228h0m0 17h0m0 85h0m1-43h0m1 151h0m2-160h0m1 178h0m3-175h0m2 19h0m0 30h0m1-119h0m0 83h0m1 154h0m2-197h0m0 21h0m3 153h0m3-110h0m2-77h0m0 75h0m0 77h0m0 17h0m2-70h0m5-121h0m1 17h0m1 39h0m0 25h0m0 21h0m2 46h0m1-103h0m1 186h0m6-159h0m2-34h0m12 106h0m1 40h0m4-86h0m9 51h0m0 50h0m3-19h0m1 73h0m4-58h0m7-27h0m4-95h0m0 105h0m17-52h0m1-18h0m0 140h0m3-152h0m3 64h0m32-114h0m7-7h0m0 191h0" stroke="#363636" opacity="0.5"/><path d="M330 68h0m0 61h0m0 29h0m0 10h0m1 171h0m0 31h0m0 32h0m1-373h0m0 350h0m0 32h0m0 37h0m1-65h0m0 2h0m0 66h0m1-87h0m0 98h0m1-332h0m0 119h0m0 146h0m1-251h0m1 170h0m0 129h0m1-179h0m0 51h0m1 48h0m2-67h0m0 177h0m2-331h0m0 175h0m2 105h0m2-199h0m0 160h0m1-226h0m1-107h0m0 60h0m0 177h0m0 179h0m1-361h0m0 150h0m0 216h0m0 1h0m1-387h0m0 65h0m0 290h0m2-228h0m2-74h0m0 5h0m1-90h0m0 63h0m2 12h0m0 236h0m1 91h0m6-89h0m1 85h0m3-105h0m0 128h0m1-202h0m0 195h0m5-126h0m0 83h0m1 50h0m2-406h0m1 162h0m3-176h0m5-7h0m3 18h0m4 172h0m1-100h0m1 178h0m1-43h0m9 200h0m1-433h0m2 324h0m3-327h0m7 391h0m3-94h0m2-31h0m2-77h0m2 221h0m2-203h0m2-84h0m9 178h0m1 66h0m1 71h0m2-425h0m0 129h0m1-1h0m3 220h0m3-97h0m2-8h0m1-233h0m3 175h0m5 85h0m5-168h0m1 57h0m10 66h0m4-17h0m1-164h0m10 110h0m1 217h0m1-251h0m12-72h0m2-69h0m3 371h0m8 66h0m3-362h0m1 330h0m5-151h0m2 109h0m2-17h0m1 81h0m2-3h0m1-318h0m8 181h0m2 57h0m10-202h0m1 169h0m23-99h0m34 126h0m9-309h0m1 221h0m0 102h0m0 87h0m1-178h0m0 72h0m0 66h0m0 27h0m1-152h0m0 33h0m0 58h0m0 40h0" stroke="#444" opacity="0.42"/><path d="M330 155h0m0 22h0m0 14h0m0 278h0m1-365h0m0 27h0m0 30h0m0 1h0m0 52h0m0 101h0m0 108h0m1-167h0m1-86h0m0 47h0m0 101h0m0 44h0m0 13h0m1-305h0m0 267h0m1-49h0m0 184h0m1-243h0m1-200h0m2 100h0m0 208h0m1-258h0m0 314h0m2-52h0m1 15h0m4-5h0m0 113h0m2-117h0m2-209h0m1 316h0m1-270h0m0 140h0m1 129h0m1 21h0m1-357h0m1-36h0m1 84h0m1 32h0m1 1h0m2-130h0m0 83h0m3 213h0m0 104h0m1-124h0m0 119h0m3-121h0m7-1h0m2-91h0m1 88h0m2-199h0m3 130h0m0 188h0m2-154h0m1-254h0m1 250h0m1 174h0m3-15h0m12-398h0m3 201h0m2-26h0m2 159h0m1-249h0m4 71h0m1-26h0m1 268h0m2-380h0m2 272h0m4-116h0m0 186h0m2-340h0m1 389h0m3-252h0m0 127h0m3 106h0m1-267h0m0 186h0m1 39h0m4 59h0m1-259h0m0 43h0m2-102h0m10 301h0m1-183h0m2-108h0m0 125h0m3 134h0m11 25h0m15-323h0m0 181h0m1-70h0m0 176h0m7 24h0m1-229h0m6 142h0m3-220h0m3 62h0m3-57h0m6 319h0m1-382h0m1-32h0m10 87h0m1 41h0m0 25h0m2 134h0m5 2h0m5-42h0m3 194h0m10-189h0m1-238h0m0 225h0m4 119h0m24-310h0m4-2h0m6 194h0m2-134h0m10 262h0m6-178h0m1 84h0m8-248h0m0 407h0m4-105h0m2-55h0m0 59h0m0 37h0m1-150h0m0 97h0m0 69h0" stroke="#444" opacity="0.42"/><path d="M330 60h0m0 161h0m0 140h0m0 8h0m0 22h0m0 43h0m1 7h0m1-399h0m0 86h0m0 264h0m1-322h0m0 89h0m0 265h0m0 16h0m0 15h0m1-296h0m0 172h0m0 107h0m0 27h0m1-193h0m0 51h0m0 7h0m0 68h0m1-73h0m0 96h0m1 25h0m1-291h0m2 138h0m2-3h0m3-207h0m0 37h0m0 335h0m1-200h0m1 181h0m1-139h0m1 32h0m1-280h0m3 413h0m1-166h0m1-140h0m1 297h0m1-92h0m1-133h0m1 154h0m1-356h0m0 15h0m0 273h0m4-2h0m1 73h0m0 39h0m10-160h0m4 63h0m1-204h0m7 216h0m1 131h0m4-171h0m0 26h0m2 138h0m2-89h0m4-24h0m8-55h0m1-194h0m1 231h0m3-42h0m2 43h0m1-203h0m1 194h0m15 139h0m1-74h0m2-176h0m1-56h0m0 210h0m11-323h0m0 348h0m3-103h0m7 143h0m4-49h0m7-48h0m5-164h0m0 150h0m1-104h0m3-110h0m6 181h0m0 187h0m2-374h0m0 21h0m2 182h0m2-18h0m14 115h0m2 31h0m3 37h0m2-391h0m0 328h0m3 51h0m1-191h0m2 152h0m3-369h0m3 420h0m7-110h0m2 90h0m6 26h0m2-247h0m0 79h0m13-181h0m8 136h0m5 150h0m4-313h0m2 368h0m1-148h0m4-162h0m4 241h0m4 3h0m15-342h0m2 264h0m2 92h0m7-18h0m2-106h0m0 175h0m3-55h0m10-13h0m1-216h0m0 114h0m0 35h0m0 58h0m0 57h0m0 1h0m1-141h0m0 13h0m0 13h0m0 51h0m1-5h0" stroke="#444" opacity="0.42"/><path d="M330 58h0m0 9h0m0 26h0m0 28h0m0 318h0m1-244h0m0 16h0m0 25h0m0 22h0m0 149h0m0 6h0m1-269h0m0 104h0m0 207h0m1-334h0m1 120h0m0 57h0m0 43h0m0 19h0m0 95h0m1-257h0m0 114h0m0 87h0m1-276h0m1-18h0m0 64h0m1-58h0m0 351h0m1-225h0m0 141h0m0 35h0m2-113h0m0 74h0m0 96h0m1-413h0m0 13h0m2 85h0m4 104h0m2-224h0m0 39h0m0 382h0m1-124h0m0 126h0m2-340h0m1-11h0m0 331h0m1 5h0m3-246h0m0 74h0m0 127h0m1-330h0m2 203h0m1 7h0m1-117h0m3 225h0m1-139h0m0 104h0m6 78h0m0 16h0m5-140h0m4 160h0m3-433h0m4 25h0m3 347h0m0 70h0m1-36h0m3-301h0m1-106h0m0 342h0m3-330h0m1 261h0m6 114h0m1-87h0m1-5h0m2 128h0m9-83h0m1-106h0m4 65h0m0 143h0m3-5h0m10-51h0m4-255h0m7-116h0m3 222h0m4-40h0m5-73h0m4 291h0m2 25h0m5-174h0m3-138h0m2-82h0m6 341h0m1-255h0m0 312h0m7-108h0m2 77h0m3-74h0m3 80h0m0 1h0m19-334h0m1 225h0m3 66h0m2 47h0m9 19h0m9-115h0m1-193h0m5 126h0m17 66h0m4 103h0m8-220h0m1-183h0m16 75h0m7-51h0m2 359h0m4-264h0m2 128h0m1 92h0m5-155h0m0 160h0m6 15h0m4 46h0m1-250h0m0 59h0m1 148h0m0 12h0m0 7h0m0 33h0m1-225h0m0 216h0" stroke="#444" opacity="0.42"/><path d="M330 111h0m0 71h0m0 85h0m0 79h0m0 45h0m0 11h0m0 13h0m0 58h0m1-358h0m0 61h0m0 99h0m0 7h0m0 28h0m0 58h0m0 102h0m1-320h0m0 32h0m0 113h0m0 17h0m0 108h0m1-285h0m0 219h0m0 84h0m1-389h0m0 51h0m0 169h0m0 167h0m2-57h0m1-297h0m0 279h0m1-99h0m4-160h0m2 3h0m0 86h0m1-67h0m3 337h0m1-198h0m1 103h0m0 1h0m0 80h0m2-38h0m1-111h0m0 10h0m1 109h0m1-7h0m0 58h0m1-191h0m1 38h0m0 10h0m0 120h0m4-412h0m1 388h0m1-138h0m2-33h0m1 217h0m3-118h0m2-255h0m0 133h0m4 179h0m2-299h0m1 1h0m1 296h0m2-317h0m0 325h0m2-379h0m0 428h0m3-252h0m2-92h0m0 248h0m6 80h0m1-405h0m0 397h0m0 31h0m4-257h0m7-25h0m3-91h0m5 373h0m2-26h0m4-239h0m3-110h0m1-44h0m1 249h0m0 63h0m1-94h0m5 150h0m1-161h0m6 174h0m4-13h0m1-252h0m2 306h0m5-191h0m4 71h0m3 123h0m10-59h0m5-24h0m6-303h0m0 93h0m6 143h0m1-79h0m0 104h0m7 58h0m14-336h0m2-14h0m2 176h0m2 131h0m9 85h0m1-367h0m9 390h0m8-221h0m8-165h0m0 259h0m2 65h0m1-51h0m2 17h0m11-136h0m11-128h0m5 271h0m10 15h0m4-256h0m9 98h0m6 6h0m6-182h0m1 75h0m11 192h0m0 22h0m0 41h0m1-283h0m0 194h0m0 94h0m0 20h0" stroke="#444" opacity="0.42"/><path d="M330 43h0m0 191h0m0 33h0m0 34h0m0 9h0m0 161h0m0 3h0m1-326h0m0 75h0m0 85h0m0 21h0m0 4h0m0 48h0m0 39h0m0 51h0m1-209h0m0 21h0m1-83h0m0 149h0m0 94h0m1-198h0m1 12h0m1-13h0m1-194h0m0 368h0m1 11h0m0 17h0m0 27h0m1-213h0m1 13h0m0 26h0m0 124h0m4-30h0m2-81h0m0 72h0m2-27h0m0 53h0m1-70h0m1-169h0m2-65h0m0 331h0m3-388h0m3 256h0m0 42h0m1-138h0m1-125h0m3 33h0m0 90h0m0 186h0m2-204h0m0 21h0m0 132h0m1-266h0m0 275h0m7-123h0m0 152h0m2-3h0m4-207h0m2 298h0m2-293h0m2 297h0m1-270h0m3-129h0m3 148h0m2 239h0m1-32h0m2-8h0m1-200h0m3 176h0m5 78h0m3-2h0m2-266h0m7 37h0m4-125h0m10 168h0m4 181h0m4-30h0m6-316h0m4 170h0m1 71h0m2-289h0m0 337h0m1-310h0m3 336h0m1-401h0m9 240h0m5 170h0m3-410h0m0 98h0m4 201h0m4 29h0m0 7h0m3-299h0m0 356h0m5-199h0m8 101h0m7-213h0m5 249h0m5-31h0m0 106h0m6-80h0m4-24h0m9-127h0m3 184h0m6-16h0m5 63h0m5-267h0m1-137h0m9 111h0m10 318h0m10-90h0m2-262h0m6 263h0m3 12h0m1 86h0m12-38h0m5-305h0m13 88h0m0 92h0m0 53h0m0 67h0m1-180h0m0 81h0m0 58h0m0 56h0m0 4h0m1-241h0m0 44h0m0 166h0" stroke="#444" opacity="0.42"/></g><rect x="238.3" y="31.8" width="50.4" height="72.7" fill="none" stroke="#7e7e7e" stroke-width="0.9"/><rect x="238.3" y="107.3" width="24.3" height="18.3" fill="none" stroke="#b4b4b4" stroke-width="0.7"/><rect x="263.1" y="118.1" width="25.6" height="7.5" fill="none" stroke="#a4a4a4" stroke-width="0.8"/><rect x="226.6" y="31.8" width="10.1" height="95" fill="none" stroke="#666" stroke-width="1.1"/><path d="M225.4 28.5V154.8M225.4 154.8H352.4M225.4 39.1h-3.8M225.4 70.2h-3.8M225.4 104.2h-3.8M225.4 125.2h-3.8M225.4 146.5h-3.8" fill="none" stroke="#333" stroke-width="0.85"/><path d="M225.4 60.8h-1.9M225.4 55.4h-1.9M225.4 51.5h-1.9M225.4 48.5h-1.9M225.4 46h-1.9M225.4 43.9h-1.9M225.4 42.1h-1.9M225.4 40.5h-1.9M225.4 94h-1.9M225.4 88h-1.9M225.4 83.7h-1.9M225.4 80.4h-1.9M225.4 77.7h-1.9M225.4 75.5h-1.9M225.4 73.5h-1.9M225.4 71.8h-1.9M225.4 29.7h-1.9M225.4 107.5h-1.4M225.4 111h-1.4M225.4 114.5h-1.4M225.4 118h-1.4M225.4 121.5h-1.4M225.4 129h-1.4M225.4 132.5h-1.4M225.4 136h-1.4M225.4 139.5h-1.4M225.4 143h-1.4M225.4 150h-1.4M226 154.8v3.4M230.8 154.8v1.8M235.6 154.8v1.8M240.4 154.8v1.8M245.3 154.8v1.8M250.1 154.8v3.4M254.9 154.8v1.8M259.7 154.8v1.8M264.5 154.8v1.8M269.3 154.8v1.8M274.2 154.8v3.4M279 154.8v1.8M283.8 154.8v1.8M288.6 154.8v1.8M293.4 154.8v1.8M298.2 154.8v3.4M303 154.8v1.8M307.9 154.8v1.8M312.7 154.8v1.8M317.5 154.8v1.8M322.3 154.8v3.4M327.1 154.8v1.8M331.9 154.8v1.8M336.7 154.8v1.8M341.6 154.8v1.8M346.4 154.8v3.4M351.2 154.8v1.8" fill="none" stroke="#333" stroke-width="0.8"/><g font-size="3.9" fill="#a2a2a2" font-weight="400"><text x="220" y="40.4" text-anchor="end">10⁵</text><text x="220" y="71.5" text-anchor="end">10⁴</text><text x="220" y="105.5" text-anchor="end">10³</text><text x="220" y="126.5" text-anchor="end">0</text><text x="220" y="147.8" text-anchor="end">-10³</text><text x="226.5" y="163.4" text-anchor="middle">0</text><text x="250.6" y="163.4" text-anchor="middle">50K</text><text x="274.6" y="163.4" text-anchor="middle">100K</text><text x="298.7" y="163.4" text-anchor="middle">150K</text><text x="322.8" y="163.4" text-anchor="middle">200K</text><text x="346.9" y="163.4" text-anchor="middle">250K</text></g><path d="M243.5 132.3L246.4 126.2" stroke="#151515" stroke-width="0.8" fill="none"/><path d="M247.9 122.9L248.1 127L244.7 125.4Z" fill="#151515"/><path d="M278.3 132.3L275.8 126.7" stroke="#151515" stroke-width="0.8" fill="none"/><path d="M274.3 123.4L277.5 125.9L274 127.5Z" fill="#151515"/><g font-size="7.2" fill="#161616" stroke="#161616" stroke-width="0.3"><text x="241.6" y="39.8" fill="#161616" stroke="#161616">S: 16.03%</text><text x="299.1" y="40.5">&gt;4n: 3.98%</text><text x="242.7" y="139.8" text-anchor="middle">G1:</text><text x="242.1" y="150.3" text-anchor="middle">63.54%</text><text x="284.3" y="139.8" text-anchor="middle">G2/M:</text><text x="284.1" y="150.3" text-anchor="middle">13.31%</text><text transform="translate(233.7 59.5) rotate(-90)" text-anchor="middle">SubG1: 3.14%</text></g><text x="288.4" y="172.7" text-anchor="middle" font-size="9.8" stroke="#111" stroke-width="0.3">7AAD</text><text transform="translate(210.8 95.2) rotate(-90)" text-anchor="middle" font-size="9.6" stroke="#111" stroke-width="0.3">APC - BrdU</text><text x="288.3" y="20.7" text-anchor="middle" font-size="16.7" stroke="#111" stroke-width="0.3">DMSO</text></g>
<g><path d="M42.2 205.6H169.2V333.4" fill="none" stroke="#d6d6d6" stroke-width="0.8"/><rect x="111" y="210.3" width="54" height="94.1" fill="#f7f7f7" stroke="#ececec" stroke-width="0.7"/><rect x="54.8" y="210.4" width="50.4" height="72.2" fill="#bccfd2" stroke="none" stroke-width="0"/><rect x="54.8" y="283.7" width="24.3" height="20.5" fill="#e6f6f6" stroke="none" stroke-width="0"/><rect x="79.6" y="283.7" width="25.6" height="20.5" fill="#b5e2e2" stroke="none" stroke-width="0"/><rect x="43.1" y="210.4" width="10.1" height="95" fill="#cbcbcb" stroke="none" stroke-width="0"/><g class="d" fill="none" stroke-linecap="round" stroke-width="5" transform="translate(42.6 210.1) scale(0.2)"><path d="M0 472h0m0 1h0m1-7h0m0 4h0m1-4h0m0 2h0m1-8h0m1 6h0m0 6h0m0 6h0m1-17h0m0 5h0m0 1h0m0 7h0m1-4h0m0 7h0m0 1h0m1-7h0m0 4h0m1-12h0m0 4h0m0 3h0m0 2h0m0 1h0m1-3h0m0 2h0m1-10h0m0 1h0m0 5h0m0 5h0m1-8h0m1 1h0m0 3h0m0 4h0m0 2h0m0 1h0m1-12h0m3 8h0m1-5h0m3-1h0" stroke="#111" opacity="0.5"/><path d="M-1 467h0m1-6h0m0 9h0m0 5h0m1-7h0m0 12h0m1-6h0m1-7h0m0 3h0m0 1h0m0 8h0m1-8h0m1-2h0m0 1h0m0 1h0m0 5h0m1-13h0m0 1h0m0 3h0m1-4h0m0 2h0m0 2h0m0 5h0m0 6h0m1-14h0m0 3h0m1 2h0m0 9h0m1-13h0m1-4h0m0 4h0m0 2h0m0 4h0m1-2h0m0 2h0m0 2h0m0 5h0m1-10h0m0 1h0m0 5h0m5-2h0" stroke="#111" opacity="0.5"/><path d="M-1 463h0m0 6h0m1 3h0m0 2h0m0 3h0m0 2h0m1-17h0m0 2h0m0 4h0m0 6h0m0 3h0m1 5h0m1-17h0m0 3h0m0 6h0m0 1h0m1-9h0m0 4h0m1-1h0m0 3h0m0 3h0m1 0h0m1-11h0m0 2h0m0 4h0m0 8h0m1-12h0m1-2h0m0 4h0m0 2h0m1-5h0m0 3h0m0 4h0m0 5h0m1-12h0m2 5h0m1-5h0m1 5h0m1 4h0m1-9h0m0 4h0" stroke="#111" opacity="0.5"/><path d="M1 474h0m1-10h0m0 9h0m0 2h0m1-5h0m0 4h0m1-7h0m0 2h0m0 6h0m0 2h0m1-12h0m1 1h0m0 5h0m0 4h0m1-9h0m1 6h0m2 0h0m1-6h0m3-6h0m1-8h0m0 5h0m1 7h0m1-3h0m1-11h0m0 10h0m2-8h0m0 13h0m2-8h0m2-5h0m0 5h0m1-10h0m0 5h0m0 6h0m3-10h0m0 7h0m1-16h0m1 4h0m1-4h0m0 13h0m4-9h0m0 1h0m1-8h0m1 16h0m1-3h0m1-9h0m2-2h0m0 10h0m2 2h0m4-12h0m6-21h0m1 12h0" stroke="#222" opacity="0.5"/><path d="M-1 475h0m0 3h0m1-8h0m0 3h0m1 1h0m1-2h0m1-3h0m1 0h0m0 5h0m1-7h0m0 3h0m0 5h0m2-9h0m0 2h0m1 0h0m1-3h0m1 1h0m2-1h0m2 2h0m0 1h0m1-3h0m1 3h0m2-9h0m2-1h0m1-4h0m2-1h0m0 9h0m1-6h0m4-16h0m0 17h0m4-7h0m0 6h0m2-6h0m1-19h0m0 19h0m2-16h0m0 5h0m2 6h0m3-9h0m0 9h0m1-14h0m2 9h0m3-5h0m1-6h0m1 7h0m1 4h0m3-4h0" stroke="#222" opacity="0.5"/><path d="M-1 477h0m2-1h0m2-9h0m0 7h0m1-1h0m1 0h0m1-10h0m0 3h0m1 6h0m1-2h0m1-6h0m1-3h0m0 3h0m1-5h0m0 4h0m1-9h0m0 1h0m2 9h0m2-5h0m0 3h0m1 1h0m2-8h0m3-6h0m2 18h0m1-8h0m1-6h0m1 0h0m1-1h0m1-4h0m1 7h0m3-20h0m4 9h0m0 12h0m2-16h0m1-1h0m0 8h0m1-4h0m1 2h0m1-8h0m2-11h0m1 29h0m2-27h0m0 12h0m2-12h0m2 3h0m1 3h0m0 2h0m1-5h0" stroke="#222" opacity="0.5"/><path d="M0 469h0m1 3h0m0 2h0m2 0h0m1-9h0m0 8h0m2-5h0m0 1h0m0 1h0m0 3h0m0 1h0m1-12h0m0 8h0m1-3h0m3-2h0m0 3h0m3-13h0m0 7h0m1 4h0m1-10h0m0 3h0m1 1h0m0 1h0m1-2h0m0 2h0m1-1h0m1-8h0m0 3h0m5 9h0m1-16h0m3 4h0m1-4h0m2-5h0m0 8h0m1 3h0m1-23h0m1 17h0m5 8h0m1-15h0m2-3h0m3-3h0m0 1h0m2 6h0m0 2h0m1-14h0m2 0h0m0 13h0m1-6h0" stroke="#222" opacity="0.5"/><path d="M75 440h0m0 3h0m5-10h0m0 3h0m2-6h0m1 11h0m0 8h0m2-24h0m0 12h0m1-23h0m0 35h0m1-32h0m0 22h0m1 4h0m1-34h0m3 4h0m0 19h0m0 7h0m2-18h0m0 5h0m0 2h0m0 15h0m1-30h0m0 4h0m0 11h0m0 16h0m1-27h0m0 27h0m0 5h0m1-44h0m0 25h0m0 8h0m0 2h0m1-14h0m0 12h0m1-33h0m0 9h0m0 20h0m0 4h0m0 2h0m1-24h0m0 20h0m1-22h0m0 7h0m0 19h0m1-26h0m0 17h0m0 8h0m0 5h0m1-39h0m0 16h0m0 6h0m1-24h0m0 27h0m0 3h0m0 1h0m1-29h0m1 19h0m0 3h0m0 4h0m1-28h0m0 6h0m0 13h0m0 7h0m0 9h0m0 9h0m1-9h0m1-29h0m0 9h0m0 8h0m0 2h0m1-22h0m0 15h0m0 20h0m1-19h0m0 11h0m0 5h0m0 3h0m1-40h0m0 19h0m0 2h0m0 4h0m0 1h0m1-19h0m0 7h0m0 4h0m0 9h0m0 1h0m1-2h0m1 7h0m0 5h0m1-35h0m0 17h0m0 2h0m0 24h0m2-44h0m0 13h0m0 14h0m0 15h0m0 1h0m1-36h0m0 15h0m0 1h0m1-19h0m0 21h0m0 1h0m1-16h0m0 3h0m0 3h0m0 1h0m0 15h0m0 9h0m1-35h0m0 1h0m0 3h0m0 2h0m0 2h0m0 5h0m0 5h0m0 2h0m1-14h0m0 1h0m0 21h0m0 1h0m1-15h0m0 12h0m0 7h0m1-24h0m0 9h0m0 5h0m1-28h0m0 12h0m0 5h0m0 2h0m0 13h0m1-7h0m0 1h0m1-16h0m0 3h0m0 3h0m1-9h0m0 8h0m0 3h0m0 11h0m0 1h0m1-32h0m0 14h0m0 3h0m0 8h0m0 1h0m0 4h0m0 1h0m0 9h0m1-29h0m0 13h0m0 5h0m1-29h0m0 4h0m0 4h0m0 4h0m0 9h0m0 8h0m0 1h0m1-13h0m0 4h0m0 12h0m2-11h0m0 1h0m0 1h0m0 5h0m0 9h0m1-33h0m0 6h0m0 1h0m0 1h0m1-6h0m0 15h0m1-21h0m0 3h0m0 16h0m0 4h0m0 1h0m0 14h0m1-34h0m0 1h0m0 4h0m0 11h0m0 7h0m1-24h0m0 9h0m0 10h0m0 20h0m1-46h0m0 7h0m0 18h0m0 11h0m1-23h0m0 12h0m1-16h0m0 10h0m0 7h0m0 3h0m0 6h0m2-19h0m0 1h0m0 6h0m1 8h0m1-28h0m0 11h0m0 7h0m0 4h0m0 9h0m1-4h0m2-21h0m0 23h0m1-27h0m0 30h0m0 1h0m1-23h0m0 12h0m0 3h0m0 7h0m1-30h0m0 13h0m0 11h0m1-16h0m0 22h0m1-25h0m0 5h0m0 11h0m1-3h0m0 5h0m3 2h0m0 1h0m1-12h0m0 11h0m1-7h0m5-8h0m6 6h0" stroke="#4d5c5e" opacity="0.5"/><path d="M77 434h0m0 1h0m0 2h0m3-13h0m0 14h0m3-21h0m0 7h0m0 1h0m1 4h0m1-2h0m1-10h0m0 6h0m0 11h0m2-15h0m0 11h0m0 17h0m1-21h0m0 4h0m1-6h0m0 3h0m0 9h0m1-21h0m1 4h0m0 12h0m0 7h0m1-11h0m0 9h0m1 1h0m1-16h0m0 12h0m0 8h0m1-18h0m0 2h0m0 11h0m0 7h0m1-25h0m0 28h0m2-35h0m0 3h0m0 15h0m0 10h0m1 7h0m1-13h0m0 1h0m1-9h0m0 23h0m1-36h0m0 15h0m0 7h0m0 16h0m1-33h0m0 3h0m0 4h0m1-10h0m0 22h0m1-15h0m0 5h0m0 4h0m0 4h0m0 13h0m1-31h0m0 9h0m0 13h0m1-28h0m0 5h0m0 4h0m0 13h0m1-27h0m0 6h0m0 20h0m0 9h0m1-25h0m0 9h0m0 5h0m1-9h0m0 17h0m1-27h0m0 14h0m0 5h0m0 8h0m1-13h0m0 7h0m0 20h0m1-35h0m0 1h0m0 1h0m0 3h0m0 4h0m0 6h0m0 1h0m0 8h0m0 1h0m1-13h0m0 2h0m0 2h0m0 3h0m1-17h0m0 1h0m0 13h0m2-12h0m0 11h0m0 1h0m0 1h0m0 12h0m1-32h0m0 7h0m0 7h0m0 5h0m0 19h0m1-40h0m0 21h0m0 2h0m0 1h0m0 1h0m1-23h0m0 5h0m0 2h0m0 17h0m1-35h0m0 13h0m0 1h0m0 4h0m0 9h0m0 8h0m0 3h0m1-27h0m0 3h0m0 2h0m0 4h0m0 4h0m1-8h0m0 3h0m0 1h0m0 1h0m0 29h0m1-41h0m0 24h0m1-27h0m0 4h0m0 5h0m0 12h0m0 4h0m0 1h0m1-24h0m0 11h0m0 9h0m0 13h0m1-23h0m0 10h0m1-4h0m0 4h0m0 2h0m1-28h0m0 11h0m0 7h0m1-17h0m0 3h0m0 6h0m0 17h0m0 8h0m1-42h0m0 11h0m0 13h0m0 9h0m0 10h0m0 2h0m0 4h0m1-34h0m0 14h0m0 8h0m1-23h0m0 14h0m0 3h0m0 11h0m1-31h0m0 25h0m0 11h0m2-33h0m0 13h0m0 10h0m0 6h0m1-25h0m0 9h0m0 7h0m1 9h0m1-28h0m0 6h0m1-12h0m0 4h0m0 8h0m0 8h0m1-14h0m0 21h0m1-33h0m0 15h0m0 16h0m1-15h0m0 16h0m0 8h0m1-34h0m0 9h0m0 4h0m1-15h0m0 8h0m0 5h0m0 12h0m1-27h0m0 9h0m0 13h0m0 4h0m0 1h0m0 5h0m2-23h0m0 7h0m0 3h0m0 6h0m0 3h0m1-30h0m0 1h0m0 24h0m0 1h0m1 3h0m1 13h0m1-21h0m0 1h0m0 1h0m0 18h0m1-13h0m1-3h0m0 1h0m1-10h0m0 5h0m0 4h0m0 1h0m1 2h0m1-21h0m5 7h0m3-4h0m0 7h0m1-1h0m1-10h0m0 3h0m0 14h0m5-3h0" stroke="#4d5c5e" opacity="0.5"/><path d="M77 419h0m2 27h0m2-14h0m0 6h0m0 4h0m2-9h0m2-3h0m2-2h0m1-13h0m0 2h0m0 23h0m1-31h0m0 6h0m1 15h0m0 2h0m0 6h0m1-11h0m0 1h0m0 11h0m1-17h0m1-6h0m0 4h0m0 15h0m1-3h0m0 10h0m1-32h0m1 31h0m1-26h0m0 2h0m0 5h0m2-7h0m0 8h0m0 9h0m1-9h0m0 10h0m0 12h0m0 1h0m1-41h0m0 9h0m0 20h0m0 2h0m0 9h0m1-1h0m1-35h0m0 3h0m0 16h0m0 10h0m0 4h0m1-33h0m0 33h0m0 3h0m1-29h0m0 1h0m0 3h0m0 1h0m0 15h0m0 5h0m0 1h0m1-9h0m0 1h0m1-28h0m0 11h0m0 6h0m0 13h0m0 12h0m1-24h0m0 20h0m1-25h0m0 11h0m0 1h0m1-30h0m0 43h0m0 2h0m1-29h0m1-3h0m0 1h0m0 12h0m0 18h0m1-37h0m0 8h0m0 11h0m1-9h0m0 8h0m0 10h0m0 2h0m0 7h0m1-37h0m0 11h0m0 1h0m0 6h0m0 1h0m0 8h0m0 2h0m1-18h0m0 7h0m0 10h0m0 5h0m1-20h0m1-13h0m0 4h0m0 7h0m0 5h0m0 2h0m0 5h0m0 1h0m0 4h0m1-24h0m0 2h0m0 9h0m0 2h0m0 7h0m1-20h0m0 4h0m0 11h0m0 5h0m0 10h0m1-36h0m0 4h0m0 14h0m0 1h0m1-7h0m0 2h0m0 8h0m0 5h0m0 6h0m0 3h0m0 10h0m1-29h0m0 2h0m0 11h0m1-32h0m0 2h0m0 4h0m0 3h0m0 8h0m0 12h0m1 4h0m1-30h0m0 6h0m0 6h0m0 4h0m0 1h0m0 25h0m0 1h0m1-23h0m1-10h0m0 20h0m1-23h0m0 4h0m0 7h0m0 8h0m0 6h0m0 3h0m1-17h0m0 24h0m1-37h0m0 6h0m0 3h0m0 15h0m1-35h0m0 6h0m0 17h0m0 10h0m0 5h0m1-20h0m0 30h0m1-31h0m0 6h0m1 6h0m0 7h0m1-28h0m0 25h0m1-28h0m0 5h0m0 22h0m0 10h0m1-38h0m0 1h0m0 6h0m0 2h0m0 3h0m0 6h0m1-23h0m1 10h0m0 8h0m0 12h0m0 10h0m1-43h0m0 24h0m0 3h0m0 12h0m1-33h0m0 11h0m0 7h0m0 22h0m1-17h0m1-11h0m0 3h0m0 4h0m0 11h0m0 1h0m0 1h0m0 7h0m1-30h0m0 22h0m0 6h0m0 2h0m1-30h0m1 8h0m0 2h0m0 16h0m1-33h0m0 10h0m0 16h0m1-11h0m1-8h0m0 4h0m0 12h0m2-28h0m0 15h0m0 17h0m0 4h0m1-29h0m1 15h0m0 10h0m1-32h0m0 2h0m0 1h0m0 13h0m0 11h0m1-15h0m3-9h0m3 18h0m1-11h0m1 5h0m6 2h0" stroke="#4d5c5e" opacity="0.5"/><path d="M72 440h0m2 1h0m1-9h0m1-3h0m1 9h0m0 2h0m1 4h0m1-8h0m1-21h0m0 20h0m3 0h0m1 1h0m0 8h0m2-7h0m2-11h0m0 7h0m0 7h0m1-25h0m1-3h0m0 23h0m0 1h0m1-11h0m0 8h0m1-9h0m0 12h0m1-29h0m0 26h0m0 4h0m1-11h0m0 13h0m0 2h0m0 10h0m1-18h0m1-18h0m0 3h0m0 10h0m0 16h0m2-32h0m0 20h0m0 8h0m2-20h0m0 8h0m0 6h0m0 1h0m1-16h0m1 2h0m0 2h0m0 9h0m1-10h0m0 2h0m1 7h0m0 2h0m0 7h0m0 2h0m1-19h0m0 9h0m0 4h0m0 6h0m1-39h0m0 24h0m1 3h0m0 18h0m1-35h0m0 2h0m0 7h0m0 4h0m0 5h0m1-12h0m0 22h0m1-38h0m0 9h0m0 2h0m0 4h0m0 13h0m1-19h0m0 4h0m0 4h0m0 15h0m1-17h0m0 5h0m0 7h0m0 7h0m0 10h0m1-38h0m0 6h0m1-4h0m1-8h0m0 10h0m0 1h0m0 15h0m1-24h0m0 10h0m0 9h0m0 3h0m0 10h0m0 1h0m0 1h0m1-31h0m0 12h0m0 15h0m0 5h0m1-28h0m0 7h0m0 1h0m0 9h0m0 1h0m0 1h0m0 3h0m0 1h0m0 3h0m0 1h0m0 6h0m1-19h0m0 1h0m0 9h0m0 10h0m1-37h0m0 4h0m0 7h0m0 1h0m0 9h0m0 13h0m1-40h0m0 9h0m2 12h0m0 5h0m0 13h0m1-36h0m0 9h0m0 1h0m0 8h0m0 3h0m0 3h0m0 14h0m1-44h0m0 4h0m0 7h0m0 11h0m0 2h0m0 8h0m1-4h0m0 4h0m0 10h0m0 1h0m1-35h0m1-7h0m0 9h0m0 9h0m1 22h0m1-22h0m0 12h0m1-6h0m0 11h0m1-28h0m0 7h0m0 13h0m1-24h0m0 9h0m0 4h0m0 11h0m1-22h0m0 2h0m0 6h0m0 2h0m0 4h0m0 1h0m0 9h0m1-18h0m0 1h0m0 4h0m0 6h0m0 8h0m0 8h0m1-27h0m0 2h0m0 2h0m0 1h0m0 3h0m0 14h0m1-28h0m0 4h0m0 8h0m0 6h0m0 5h0m0 6h0m1 5h0m1-35h0m0 25h0m0 1h0m1-1h0m0 3h0m0 2h0m0 10h0m1-43h0m0 5h0m0 18h0m0 6h0m0 1h0m2-31h0m0 1h0m0 7h0m0 10h0m0 15h0m1-12h0m0 11h0m1-16h0m0 15h0m0 4h0m1-23h0m0 11h0m1-27h0m0 42h0m1-33h0m0 10h0m0 9h0m1 3h0m0 7h0m1-21h0m0 13h0m1 8h0m1-34h0m0 7h0m0 16h0m0 3h0m0 4h0m1 5h0m1-13h0m2-9h0m1 15h0m1-14h0m0 9h0m0 5h0m1-24h0m1-4h0m1 6h0m0 10h0m0 4h0m0 5h0m2-11h0m0 5h0m0 3h0m0 8h0m2-24h0m1 24h0m2-22h0m0 9h0m1 5h0" stroke="#4d5c5e" opacity="0.5"/><path d="M71 434h0m2 8h0m1-14h0m1 14h0m3-7h0m1-10h0m1 7h0m1-14h0m0 15h0m2-2h0m1-15h0m1 17h0m0 3h0m1 3h0m1-22h0m0 14h0m2 3h0m0 6h0m1-24h0m0 22h0m1-20h0m0 11h0m0 10h0m1-30h0m0 24h0m2-20h0m0 31h0m0 1h0m0 4h0m0 1h0m1-29h0m0 8h0m0 2h0m0 4h0m2-8h0m0 1h0m0 3h0m0 1h0m0 1h0m0 11h0m1-24h0m2-1h0m0 14h0m0 1h0m1-22h0m0 15h0m0 3h0m0 1h0m0 1h0m0 10h0m2-28h0m0 20h0m0 4h0m0 3h0m0 5h0m1-25h0m0 3h0m1 7h0m0 11h0m1-32h0m0 21h0m1-14h0m0 3h0m0 14h0m1-11h0m0 11h0m1-12h0m0 13h0m0 6h0m0 4h0m1-21h0m0 7h0m0 1h0m0 1h0m0 1h0m1-8h0m0 2h0m0 4h0m0 7h0m0 6h0m0 8h0m1-43h0m0 9h0m0 7h0m0 13h0m1-28h0m0 10h0m0 1h0m0 7h0m1-14h0m0 8h0m0 7h0m0 1h0m0 6h0m1-33h0m0 6h0m0 1h0m0 19h0m0 5h0m0 7h0m0 5h0m1-25h0m0 1h0m0 12h0m0 6h0m0 6h0m1-43h0m0 10h0m0 3h0m0 15h0m0 1h0m0 7h0m1-37h0m0 16h0m0 11h0m0 6h0m0 5h0m1-30h0m0 9h0m0 1h0m0 2h0m0 2h0m0 1h0m1 1h0m0 4h0m0 3h0m0 3h0m1-19h0m0 9h0m0 15h0m0 10h0m1-28h0m0 3h0m0 2h0m0 4h0m0 5h0m0 5h0m1-29h0m0 8h0m0 3h0m0 12h0m1-18h0m0 7h0m0 7h0m1-21h0m0 14h0m0 5h0m1-20h0m0 1h0m0 29h0m0 8h0m1-23h0m0 2h0m0 6h0m0 1h0m0 1h0m0 3h0m1-21h0m0 11h0m1-18h0m0 11h0m0 9h0m0 5h0m1-11h0m0 4h0m1-15h0m0 5h0m0 11h0m0 5h0m1-22h0m0 3h0m0 4h0m0 2h0m0 20h0m1-31h0m0 23h0m1-26h0m0 2h0m0 17h0m0 6h0m1-17h0m0 11h0m0 13h0m1-33h0m1 14h0m0 4h0m0 8h0m1-18h0m0 4h0m0 4h0m0 3h0m0 6h0m1-21h0m0 8h0m1-12h0m0 6h0m0 8h0m0 7h0m1-21h0m0 12h0m0 2h0m0 1h0m0 8h0m1-22h0m0 6h0m0 16h0m1-4h0m1-21h0m0 31h0m0 1h0m1-25h0m0 24h0m0 5h0m1-31h0m0 4h0m0 9h0m1 8h0m1-33h0m0 11h0m0 2h0m0 5h0m0 2h0m1-15h0m0 24h0m1 12h0m0 2h0m1-22h0m0 7h0m1 8h0m1-32h0m0 10h0m0 14h0m2-15h0m0 8h0m0 10h0m0 2h0m2-20h0m1 5h0m0 15h0m1 5h0m1-32h0" stroke="#4d5c5e" opacity="0.5"/><path d="M73 427h0m0 8h0m2-5h0m1 4h0m0 4h0m4-2h0m2-6h0m1 12h0m1-5h0m0 3h0m1-24h0m0 19h0m1-16h0m1 11h0m0 13h0m1-20h0m0 8h0m2-20h0m0 30h0m1-27h0m0 5h0m0 12h0m1 3h0m2-20h0m1 15h0m0 1h0m0 5h0m1-27h0m0 3h0m0 1h0m0 5h0m0 21h0m1-23h0m2-11h0m0 11h0m0 3h0m0 1h0m0 8h0m0 2h0m1-3h0m0 6h0m0 16h0m0 3h0m1-28h0m0 3h0m0 6h0m1-19h0m1-3h0m0 13h0m0 13h0m1-28h0m0 28h0m0 2h0m1-31h0m0 15h0m1-2h0m0 7h0m0 16h0m1-33h0m0 15h0m0 2h0m0 7h0m0 2h0m0 7h0m1-30h0m0 25h0m1-36h0m0 5h0m0 18h0m2-8h0m0 2h0m0 1h0m0 2h0m0 15h0m1-23h0m0 9h0m0 5h0m0 14h0m1-30h0m0 7h0m0 10h0m0 1h0m0 3h0m1-26h0m0 7h0m0 6h0m0 5h0m0 18h0m1-33h0m0 2h0m0 10h0m0 2h0m1-3h0m0 4h0m0 5h0m0 11h0m1-42h0m0 23h0m0 2h0m0 5h0m0 2h0m0 13h0m1-32h0m0 5h0m0 1h0m0 6h0m0 13h0m0 2h0m0 1h0m0 5h0m1-23h0m0 4h0m0 5h0m0 5h0m1-20h0m0 8h0m0 6h0m0 2h0m1-17h0m0 7h0m0 6h0m1-21h0m0 9h0m0 10h0m0 8h0m0 3h0m0 5h0m1-29h0m0 19h0m1-29h0m0 13h0m0 7h0m0 2h0m0 3h0m1-31h0m0 11h0m0 4h0m0 5h0m0 15h0m1-35h0m0 22h0m1-6h0m0 11h0m0 1h0m0 13h0m0 1h0m1-4h0m0 1h0m1-25h0m0 3h0m0 2h0m0 9h0m0 6h0m0 9h0m0 4h0m1-22h0m0 6h0m0 6h0m0 1h0m0 5h0m1-43h0m0 7h0m0 8h0m0 11h0m1-10h0m0 13h0m0 5h0m0 4h0m1-16h0m0 1h0m0 1h0m0 7h0m0 3h0m0 1h0m0 1h0m0 3h0m0 13h0m1-32h0m0 2h0m0 7h0m0 12h0m1-20h0m0 4h0m0 5h0m0 2h0m1-12h0m0 7h0m0 13h0m1-11h0m0 12h0m1-36h0m0 14h0m0 7h0m0 5h0m1-25h0m0 14h0m1-11h0m0 23h0m1-15h0m1 7h0m1 3h0m1 6h0m1-23h0m0 24h0m1-18h0m0 4h0m0 7h0m1-10h0m0 3h0m0 21h0m1-14h0m0 11h0m1-11h0m0 8h0m0 3h0m0 8h0m2-11h0m0 3h0m1-36h0m1 8h0m1 16h0m0 1h0m0 8h0m1-16h0m1 4h0m0 9h0m1-17h0m1-5h0m1 4h0m0 15h0m0 4h0m1-5h0m2-4h0m0 4h0m4-3h0m1-12h0m4 2h0m2 6h0" stroke="#4d5c5e" opacity="0.5"/><path d="M172 415h0m2-10h0m3 9h0m0 21h0m5-6h0m4-13h0m0 6h0m3-27h0m1 5h0m5-2h0m1 40h0m2-48h0m0 3h0m6 32h0m1-1h0m1-17h0m1 13h0m2 0h0m3-20h0m0 12h0m0 23h0m0 12h0m2-30h0m0 2h0m0 5h0m1-11h0m1 10h0m0 6h0m2-10h0m1-21h0m1 5h0m0 5h0m0 18h0m1-11h0m0 2h0m0 6h0m0 16h0m1-11h0m1-3h0m1-1h0m1-11h0m2-29h0m1 50h0m1-19h0m0 16h0m0 5h0m1-29h0m0 17h0m1-11h0m0 2h0m1-16h0m0 13h0m1 3h0m1 3h0m1-31h0m0 16h0m0 8h0m1-7h0m0 10h0m1-30h0m1 13h0m0 3h0m0 8h0m0 22h0m0 11h0m1-11h0m1-46h0m0 13h0m0 19h0m1 3h0m0 4h0m1-15h0m0 2h0m0 4h0m1 8h0m1-11h0m0 2h0m0 5h0m1-18h0m0 6h0m0 1h0m0 16h0m1-20h0m0 1h0m0 4h0m0 14h0m0 11h0m1-33h0m0 6h0m0 7h0m1-20h0m0 8h0m0 3h0m2-12h0m1 6h0m0 37h0m0 2h0m1-57h0m0 27h0m1 31h0m1-42h0m0 1h0m0 8h0m0 19h0m1-18h0m0 11h0m0 16h0m1-35h0m0 4h0m0 4h0m0 26h0m3-14h0m0 5h0m0 6h0m0 4h0m1-3h0m2-55h0m0 59h0m1-27h0m1-19h0m0 11h0m0 12h0m0 3h0m1-15h0m1 13h0m1-22h0m0 21h0m0 4h0m0 10h0m0 7h0m2-19h0m0 2h0m2-35h0m0 48h0m1-17h0m1-16h0m0 24h0m0 8h0m2-11h0m2-18h0m2-4h0m0 5h0m0 9h0m0 2h0m2-29h0m0 14h0m0 15h0m1-5h0m5-31h0m0 44h0m3 9h0m1-32h0m0 17h0m0 6h0m2 0h0m4-22h0m0 17h0m7-9h0m0 17h0m5-12h0m1-20h0m3 4h0m3-5h0m0 19h0" stroke="#2c5558" opacity="0.5"/><path d="M170 408h0m2 16h0m2-8h0m2-18h0m1 32h0m3-22h0m4 7h0m7 22h0m2-29h0m1-25h0m4 8h0m2 28h0m1-15h0m1 18h0m1-23h0m0 8h0m0 9h0m1-37h0m2 29h0m1 1h0m0 17h0m1-15h0m1-4h0m2-28h0m1 24h0m1-7h0m0 23h0m1-17h0m0 7h0m1-6h0m0 5h0m2-23h0m0 27h0m1 5h0m0 1h0m0 10h0m1-41h0m0 15h0m0 3h0m1 3h0m0 15h0m1-32h0m0 15h0m0 17h0m2-9h0m0 2h0m0 5h0m1-26h0m2 18h0m4-18h0m0 18h0m1-13h0m0 8h0m2-18h0m0 2h0m0 25h0m1-19h0m0 42h0m1-29h0m0 14h0m1-13h0m1-32h0m0 29h0m1-10h0m1 7h0m0 17h0m1-14h0m1 21h0m2-51h0m0 21h0m0 16h0m0 16h0m1-32h0m0 10h0m0 4h0m0 8h0m1-27h0m0 6h0m0 12h0m1-22h0m0 4h0m0 2h0m0 38h0m1-37h0m0 33h0m1-34h0m1 13h0m1-16h0m0 28h0m0 8h0m1-25h0m0 2h0m0 8h0m0 28h0m1-37h0m0 16h0m2-22h0m0 42h0m1-37h0m0 1h0m1-10h0m0 9h0m0 18h0m1 14h0m1-41h0m0 8h0m1 7h0m0 5h0m1-6h0m1 21h0m1-16h0m1-12h0m0 18h0m1-4h0m1-24h0m0 7h0m1-7h0m0 25h0m0 13h0m0 4h0m1-8h0m1-25h0m0 12h0m0 3h0m1-10h0m1-3h0m3 9h0m0 5h0m0 3h0m1-35h0m0 15h0m0 8h0m1-10h0m0 10h0m0 4h0m1-6h0m1-12h0m0 17h0m1 1h0m2-6h0m0 2h0m1 18h0m0 9h0m1-51h0m0 3h0m0 33h0m1-15h0m1-4h0m1 3h0m1-13h0m0 7h0m2-19h0m1 10h0m0 16h0m0 5h0m1-17h0m0 22h0m3-34h0m0 34h0m4 3h0m2-3h0m2-19h0m2 5h0m10 8h0" stroke="#2c5558" opacity="0.5"/><path d="M173 426h0m10-5h0m2-3h0m3-19h0m0 19h0m2-8h0m0 11h0m1-15h0m1 17h0m1-27h0m0 6h0m3 30h0m1-25h0m5 20h0m2-22h0m2 20h0m1-15h0m1-4h0m0 28h0m1 0h0m1-47h0m0 34h0m1-4h0m1 4h0m1-8h0m0 8h0m2-27h0m1 19h0m0 5h0m0 18h0m0 7h0m1-41h0m0 14h0m2-22h0m0 7h0m1 17h0m2-17h0m0 4h0m1-11h0m0 26h0m1-15h0m0 6h0m1-17h0m0 30h0m2-38h0m0 29h0m0 1h0m0 17h0m1-32h0m0 9h0m0 4h0m2-28h0m0 19h0m1-19h0m0 47h0m0 2h0m1-38h0m0 27h0m1-25h0m1 4h0m0 14h0m0 10h0m0 6h0m3-50h0m0 48h0m1-27h0m0 10h0m1-8h0m0 5h0m1 2h0m0 6h0m0 5h0m0 8h0m0 10h0m3-17h0m1-41h0m0 24h0m0 2h0m0 3h0m1 2h0m0 1h0m0 5h0m1-33h0m0 37h0m1-28h0m0 24h0m0 16h0m0 5h0m1-37h0m0 22h0m1-15h0m2-24h0m0 20h0m1 18h0m1-8h0m0 3h0m2-28h0m0 16h0m0 1h0m0 9h0m2-23h0m0 23h0m1-22h0m0 22h0m0 7h0m1-24h0m0 24h0m1-34h0m0 24h0m0 4h0m1 14h0m1-48h0m0 6h0m0 7h0m0 2h0m1-14h0m0 25h0m1-31h0m0 18h0m2-6h0m0 5h0m1 3h0m1-21h0m0 28h0m0 5h0m1-9h0m1-18h0m0 15h0m0 28h0m1-20h0m0 19h0m0 3h0m1-33h0m1-18h0m0 18h0m1-9h0m0 13h0m1 5h0m0 19h0m1-21h0m2-18h0m0 10h0m0 26h0m1-29h0m1-1h0m0 17h0m1-14h0m0 11h0m1-16h0m0 23h0m3-12h0m2 21h0m1-46h0m1 23h0m0 28h0m2-6h0m1-25h0m3-12h0m6 8h0m3 27h0m11-23h0m2 10h0m3-16h0" stroke="#2c5558" opacity="0.5"/><path d="M168 418h0m0 3h0m0 9h0m12 0h0m8-12h0m4-6h0m0 10h0m5-7h0m2-9h0m0 15h0m1-28h0m0 34h0m2-2h0m0 16h0m2-47h0m1-13h0m0 16h0m1 9h0m0 4h0m1-9h0m0 24h0m1-10h0m0 7h0m1-15h0m0 12h0m3-9h0m0 1h0m0 5h0m1-17h0m2-16h0m0 51h0m1-40h0m1 7h0m1 22h0m0 9h0m1-28h0m0 12h0m1-2h0m1-3h0m1 1h0m0 5h0m0 1h0m0 21h0m1-57h0m0 9h0m0 7h0m0 22h0m0 15h0m1-44h0m1 3h0m0 31h0m0 5h0m1-18h0m1 3h0m2-13h0m0 3h0m0 9h0m0 9h0m1 1h0m2-20h0m1-5h0m0 11h0m0 1h0m0 16h0m2-31h0m0 7h0m1-3h0m0 39h0m1-54h0m0 5h0m0 8h0m1 8h0m1-6h0m1-15h0m0 22h0m0 22h0m0 3h0m1-29h0m0 3h0m0 4h0m0 7h0m3-11h0m0 10h0m1 7h0m3-34h0m0 31h0m0 3h0m1-42h0m0 15h0m0 5h0m0 4h0m0 8h0m1-6h0m1 15h0m1-46h0m0 15h0m0 13h0m0 10h0m0 14h0m0 15h0m2-55h0m0 22h0m0 6h0m2-1h0m1 14h0m1-45h0m0 11h0m0 18h0m1 28h0m1-44h0m0 9h0m0 1h0m0 10h0m0 5h0m0 13h0m1-53h0m1 18h0m0 24h0m1-21h0m0 20h0m1-8h0m0 1h0m1-10h0m0 10h0m1-16h0m0 19h0m1-13h0m1-3h0m1 11h0m1-36h0m2 21h0m0 17h0m2-13h0m1-20h0m0 1h0m1 28h0m2-23h0m0 33h0m2-27h0m0 7h0m0 15h0m1-27h0m0 33h0m1-32h0m0 10h0m0 8h0m0 7h0m3-34h0m1 28h0m0 27h0m2-16h0m2-30h0m0 34h0m1-42h0m3 15h0m1 5h0m0 6h0m1 14h0m6 6h0m7-23h0m5-9h0m2 10h0m1 4h0" stroke="#2c5558" opacity="0.5"/><path d="M175 429h0m4-12h0m3-19h0m0 35h0m5-18h0m0 12h0m5-15h0m0 14h0m2-16h0m0 9h0m0 12h0m1-22h0m5 14h0m1-17h0m0 4h0m1 36h0m1-33h0m0 9h0m1 6h0m2-1h0m0 1h0m0 9h0m1-49h0m0 23h0m1 21h0m1-4h0m1-25h0m1 12h0m3-8h0m0 29h0m2-9h0m1-5h0m0 17h0m1-19h0m1-3h0m1 2h0m1-9h0m0 11h0m1 13h0m1-44h0m0 24h0m0 2h0m0 9h0m1-35h0m0 9h0m0 15h0m0 1h0m1-28h0m0 5h0m0 13h0m1-16h0m0 14h0m0 44h0m1-40h0m0 3h0m1-2h0m0 4h0m0 7h0m0 12h0m1-17h0m0 1h0m1-7h0m3-8h0m1 21h0m0 26h0m1-46h0m1 37h0m1-57h0m0 29h0m0 11h0m0 13h0m1-43h0m0 20h0m0 12h0m0 2h0m0 7h0m1-31h0m2 18h0m1-35h0m0 9h0m0 9h0m0 14h0m0 14h0m1-37h0m0 15h0m0 4h0m1 0h0m1-14h0m0 6h0m0 7h0m1-19h0m0 36h0m0 4h0m1-19h0m0 4h0m0 8h0m3-43h0m0 39h0m1-22h0m0 15h0m1 4h0m2-8h0m0 7h0m0 6h0m0 3h0m1-38h0m0 17h0m1-5h0m0 23h0m1-20h0m1-9h0m0 22h0m0 2h0m0 4h0m0 12h0m1-21h0m0 13h0m1-4h0m2-14h0m0 3h0m0 28h0m0 4h0m1-42h0m1 8h0m1-6h0m1-26h0m0 42h0m3 14h0m2-27h0m0 12h0m0 2h0m1-21h0m1 32h0m1-28h0m0 4h0m1-13h0m0 9h0m0 12h0m2 9h0m2-2h0m1-12h0m1-5h0m1 7h0m0 7h0m2-32h0m0 12h0m1 15h0m3-26h0m0 3h0m1 28h0m1-26h0m0 14h0m1-10h0m0 2h0m0 21h0m1-10h0m3 8h0m6-8h0m2-2h0m1-14h0m2 9h0" stroke="#2c5558" opacity="0.5"/><path d="M178 422h0m3-16h0m5-7h0m0 10h0m2 1h0m1 12h0m1-23h0m0 25h0m3-28h0m0 31h0m1-8h0m4-23h0m0 36h0m6-18h0m1-13h0m0 29h0m1-30h0m0 11h0m0 20h0m1 10h0m1-47h0m0 9h0m0 13h0m1 0h0m1-29h0m0 26h0m0 14h0m1-40h0m0 7h0m1 4h0m1 12h0m1-2h0m0 10h0m1-2h0m1-3h0m0 14h0m1-18h0m0 9h0m1-29h0m1 0h0m0 27h0m3-26h0m0 1h0m1-3h0m1 7h0m0 12h0m1-21h0m0 26h0m1-35h0m0 58h0m0 1h0m1-33h0m0 19h0m1-28h0m0 23h0m0 7h0m0 4h0m1-32h0m1 3h0m1 19h0m1-23h0m1 29h0m1-12h0m0 2h0m0 10h0m1-23h0m0 14h0m0 3h0m0 10h0m1-49h0m0 9h0m0 33h0m0 12h0m1-52h0m0 19h0m1 39h0m1-56h0m0 23h0m0 4h0m0 4h0m0 15h0m1-5h0m1-31h0m0 1h0m0 26h0m0 9h0m1-36h0m1 18h0m0 32h0m1-17h0m1-1h0m1-35h0m1 19h0m1-25h0m0 11h0m0 39h0m1-43h0m0 49h0m1-38h0m0 8h0m1-26h0m0 29h0m0 8h0m1-6h0m1-17h0m0 3h0m0 31h0m1-45h0m0 23h0m0 22h0m1-31h0m0 18h0m1-38h0m1 15h0m1-3h0m0 19h0m1-16h0m0 5h0m0 2h0m0 3h0m1-34h0m0 44h0m2-26h0m0 22h0m1-14h0m0 15h0m0 5h0m2-24h0m0 21h0m1-16h0m1-15h0m2 1h0m0 20h0m1 15h0m3-12h0m0 19h0m1-17h0m0 14h0m1-40h0m0 55h0m1-37h0m0 29h0m1-29h0m1-1h0m3 3h0m0 3h0m0 16h0m1-2h0m1 2h0m3-22h0m0 3h0m0 19h0m1-15h0m0 8h0m1-6h0m4-25h0m2 32h0m0 1h0m1-15h0m2-7h0m4-5h0m4 7h0m5 4h0m6-15h0m0 32h0" stroke="#2c5558" opacity="0.5"/><path d="M84 356h0m5-37h0m19 37h0m16 2h0m30-128h0m9-77h0m41 167h0m7-48h0m1 35h0m1-170h0m0 134h0m0 61h0m6-45h0m0 9h0m0 64h0m5-105h0m1 96h0m6-195h0m0 156h0m4 19h0m1 11h0m6-180h0m4 186h0m3-53h0m17 60h0m8-91h0m0 42h0m14-1h0m8 54h0m1-64h0" stroke="#4f6f73" opacity="0.42"/><path d="M92 296h0m11-111h0m28 88h0m6 63h0m4-16h0m10 7h0m53-169h0m10 197h0m7 2h0m13-28h0m1-163h0m0 191h0m3-90h0m0 60h0m3-29h0m2-52h0m2 83h0m2 3h0m5-48h0m3 76h0m2-63h0m0 61h0m6-31h0m1-120h0m10 104h0m4 42h0m3-62h0m4-20h0m2 59h0m11-69h0" stroke="#4f6f73" opacity="0.42"/><path d="M298 376h0m12-12h0m8 11h0m2 27h0m4-18h0m4-7h0m1-24h0m2 27h0m5-2h0m0 11h0m2-21h0m7 12h0m1 2h0m6-14h0m10 14h0m1-19h0m2-4h0m3 34h0m1-30h0m2 3h0m7 6h0m2-26h0m1 24h0m4-29h0m0 9h0m3 3h0m3 13h0m12-27h0m7 1h0m0 24h0m11-29h0m9 26h0m18-26h0m8 3h0m8-22h0m11 53h0m3 9h0m1-6h0m9-30h0m3 7h0m4 11h0m15-13h0m0 1h0m1 32h0m2-28h0m1-11h0m11 21h0m1-44h0m7-8h0m9 36h0m7-63h0m5 41h0m14-7h0m13 47h0m30-25h0m7 30h0m3-38h0m1-3h0" stroke="#3c3c3c" opacity="0.42"/><path d="M296 375h0m13-10h0m1 15h0m7 3h0m10-48h0m14 37h0m2 6h0m2 31h0m1-55h0m1 26h0m2-12h0m3 29h0m4-26h0m8 4h0m2-1h0m7 3h0m4-27h0m2 36h0m7-22h0m1 4h0m3-20h0m14-3h0m1 16h0m3-12h0m5-8h0m2 35h0m6-18h0m8-30h0m4 25h0m7 66h0m6-57h0m3-1h0m3-29h0m0 27h0m1-18h0m0 4h0m0 27h0m9-24h0m2 47h0m4-22h0m11-13h0m13 1h0m4-17h0m1 15h0m3-38h0m10 45h0m2 14h0m13-8h0m12-56h0m10 38h0m1 42h0m12-44h0m18-41h0m11 35h0m20 3h0m7-17h0m7-14h0m2 12h0" stroke="#3c3c3c" opacity="0.42"/><path d="M309 356h0m0 48h0m1-33h0m2 19h0m5-32h0m1 20h0m0 14h0m7-24h0m2 1h0m0 38h0m8-27h0m4-2h0m1-6h0m4 22h0m4-4h0m11-37h0m2 24h0m0 2h0m8-26h0m1 5h0m1 21h0m9 11h0m2-5h0m1-8h0m2 16h0m16-6h0m3-24h0m20-12h0m7 5h0m5-5h0m5 12h0m7 25h0m7-32h0m10 5h0m0 41h0m4-71h0m5 28h0m1-22h0m17 40h0m2-39h0m0 22h0m11-35h0m25 21h0m3-28h0m1 1h0m3 8h0m17-15h0m3 41h0m4-12h0m3 2h0m8 18h0m5-43h0m12 15h0m4 29h0m19-24h0m4-23h0m2-25h0m4 42h0" stroke="#3c3c3c" opacity="0.42"/><path d="M300 359h0m1 20h0m2 36h0m1-24h0m2-11h0m6-2h0m2-21h0m6 22h0m0 31h0m4-51h0m5 21h0m6-24h0m3 2h0m5 0h0m1 0h0m6-8h0m5 18h0m4-8h0m8 1h0m4-24h0m1 59h0m13-44h0m4 8h0m0 24h0m4-21h0m3-8h0m4 40h0m3-37h0m10 7h0m3-32h0m3 7h0m1 23h0m0 16h0m38 11h0m3-15h0m12-35h0m13 22h0m17-22h0m11-3h0m8 8h0m10 15h0m0 4h0m1-5h0m3-9h0m4-24h0m8 15h0m0 7h0m2-8h0m6-18h0m22 29h0m11-42h0m11 25h0m9-31h0m0 15h0m7-7h0m3 21h0m7 31h0m1-51h0" stroke="#3c3c3c" opacity="0.42"/><path d="M321 321h0m5-103h0m0 188h0m6-1h0m4-148h0m8-3h0m18 27h0m7-71h0m2-32h0m13 105h0m9 6h0m19-60h0m13-31h0m2 15h0m13 177h0m4-297h0m6 269h0m7-135h0m1 22h0m1-179h0m0 145h0m2 78h0m0 2h0m9 73h0m0 57h0m5-343h0m23 346h0m13-10h0m14-17h0m4-289h0m3-29h0m6 200h0m12-210h0m38 248h0m2-112h0m36 115h0m0 49h0m0 63h0m1-124h0m0 3h0m0 26h0m0 36h0m0 27h0m1-71h0m0 16h0" stroke="#555" opacity="0.42"/></g><rect x="54.8" y="210.4" width="50.4" height="72.2" fill="none" stroke="#6e9aa0" stroke-width="0.9"/><rect x="54.8" y="283.7" width="24.3" height="20.5" fill="none" stroke="#bfe4e4" stroke-width="0.7"/><rect x="79.6" y="283.7" width="25.6" height="20.5" fill="none" stroke="#6cc2c2" stroke-width="0.8"/><rect x="43.1" y="210.4" width="10.1" height="95" fill="none" stroke="#666" stroke-width="1.1"/><path d="M42.3 207.1V333.4M42.3 333.4H169.3M42.3 217.7h-3.8M42.3 248.8h-3.8M42.3 282.8h-3.8M42.3 303.8h-3.8M42.3 325.1h-3.8" fill="none" stroke="#333" stroke-width="0.85"/><path d="M42.3 239.4h-1.9M42.3 234h-1.9M42.3 230.1h-1.9M42.3 227.1h-1.9M42.3 224.6h-1.9M42.3 222.5h-1.9M42.3 220.7h-1.9M42.3 219.1h-1.9M42.3 272.6h-1.9M42.3 266.6h-1.9M42.3 262.3h-1.9M42.3 259h-1.9M42.3 256.3h-1.9M42.3 254.1h-1.9M42.3 252.1h-1.9M42.3 250.4h-1.9M42.3 208.3h-1.9M42.3 286.1h-1.4M42.3 289.6h-1.4M42.3 293.1h-1.4M42.3 296.6h-1.4M42.3 300.1h-1.4M42.3 307.6h-1.4M42.3 311.1h-1.4M42.3 314.6h-1.4M42.3 318.1h-1.4M42.3 321.6h-1.4M42.3 328.6h-1.4M42.9 333.4v3.4M47.7 333.4v1.8M52.5 333.4v1.8M57.3 333.4v1.8M62.2 333.4v1.8M67 333.4v3.4M71.8 333.4v1.8M76.6 333.4v1.8M81.4 333.4v1.8M86.2 333.4v1.8M91.1 333.4v3.4M95.9 333.4v1.8M100.7 333.4v1.8M105.5 333.4v1.8M110.3 333.4v1.8M115.1 333.4v3.4M119.9 333.4v1.8M124.8 333.4v1.8M129.6 333.4v1.8M134.4 333.4v1.8M139.2 333.4v3.4M144 333.4v1.8M148.8 333.4v1.8M153.6 333.4v1.8M158.5 333.4v1.8M163.3 333.4v3.4M168.1 333.4v1.8" fill="none" stroke="#333" stroke-width="0.8"/><g font-size="3.9" fill="#a2a2a2" font-weight="400"><text x="36.9" y="219" text-anchor="end">10⁵</text><text x="36.9" y="250.1" text-anchor="end">10⁴</text><text x="36.9" y="284.1" text-anchor="end">10³</text><text x="36.9" y="305.1" text-anchor="end">0</text><text x="36.9" y="326.4" text-anchor="end">-10³</text><text x="43.4" y="342" text-anchor="middle">0</text><text x="67.5" y="342" text-anchor="middle">50K</text><text x="91.5" y="342" text-anchor="middle">100K</text><text x="115.6" y="342" text-anchor="middle">150K</text><text x="139.7" y="342" text-anchor="middle">200K</text><text x="163.8" y="342" text-anchor="middle">250K</text></g><path d="M60 310.9L62.9 304.8" stroke="#151515" stroke-width="0.8" fill="none"/><path d="M64.4 301.5L64.6 305.6L61.2 304Z" fill="#151515"/><path d="M94.8 310.9L92.3 305.3" stroke="#151515" stroke-width="0.8" fill="none"/><path d="M90.8 302L94 304.5L90.5 306.1Z" fill="#151515"/><g font-size="7.2" fill="#161616" stroke="#161616" stroke-width="0.3"><text x="58.1" y="218.4" fill="#183238" stroke="#183238">S: 1.54%</text><text x="115.6" y="219.1">&gt;4n: 2.16%</text><text x="59.2" y="318.4" text-anchor="middle">G1:</text><text x="58.6" y="328.9" text-anchor="middle">68.33%</text><text x="100.8" y="318.4" text-anchor="middle">G2/M:</text><text x="100.6" y="328.9" text-anchor="middle">16.40%</text><text transform="translate(50.2 238.1) rotate(-90)" text-anchor="middle">SubG1: 11.57%</text></g><text x="104.7" y="351.3" text-anchor="middle" font-size="9.8" stroke="#111" stroke-width="0.3">7AAD</text><text transform="translate(27.7 273.8) rotate(-90)" text-anchor="middle" font-size="9.6" stroke="#111" stroke-width="0.3">APC - BrdU</text><text x="104.7" y="198.7" text-anchor="middle" font-size="16.7" stroke="#111" stroke-width="0.3">I+T 96 h</text></g>
<g><path d="M225.3 205.6H352.3V333.4" fill="none" stroke="#d6d6d6" stroke-width="0.8"/><rect x="294.5" y="210.3" width="54" height="94.1" fill="#f7f7f7" stroke="#ececec" stroke-width="0.7"/><rect x="238.3" y="210.4" width="50.4" height="72.2" fill="#dbbdc1" stroke="none" stroke-width="0"/><rect x="238.3" y="283.7" width="24.3" height="20.5" fill="#f8e6e9" stroke="none" stroke-width="0"/><rect x="263.1" y="283.7" width="25.6" height="20.5" fill="#e38c96" stroke="none" stroke-width="0"/><rect x="226.6" y="210.4" width="10.1" height="95" fill="#cbcbcb" stroke="none" stroke-width="0"/><g class="d" fill="none" stroke-linecap="round" stroke-width="5" transform="translate(226.1 210.1) scale(0.2)"><path d="M-1 473h0m1-6h0m0 6h0m0 3h0m1-5h0m0 10h0m1-12h0m0 6h0m1-13h0m0 13h0m1 0h0m0 2h0m0 4h0m1-16h0m0 2h0m0 1h0m0 2h0m0 2h0m0 4h0m1-13h0m0 6h0m0 1h0m0 2h0m0 1h0m1-6h0m0 1h0m0 6h0m0 3h0m1-10h0m0 3h0m0 2h0m1-5h0m0 6h0m1-6h0m0 3h0m0 1h0m0 2h0m1-9h0m0 2h0m0 11h0m0 1h0m1-16h0m1 3h0m1-3h0m0 8h0m3 4h0" stroke="#111" opacity="0.5"/><path d="M-1 466h0m0 2h0m0 1h0m0 3h0m0 3h0m0 3h0m0 1h0m1-5h0m0 4h0m1-12h0m0 7h0m0 2h0m1-11h0m0 5h0m0 3h0m0 1h0m0 3h0m0 3h0m1-8h0m0 3h0m1-2h0m1-9h0m0 4h0m0 3h0m0 2h0m1-3h0m0 6h0m0 2h0m0 3h0m1-17h0m0 5h0m0 3h0m0 2h0m0 9h0m1-8h0m0 1h0m1-6h0m0 1h0m0 4h0m1-9h0m0 9h0m1 0h0m1-6h0m0 8h0m1-17h0m0 13h0m2-8h0m0 4h0m2 0h0m3-3h0" stroke="#111" opacity="0.5"/><path d="M-1 469h0m0 2h0m0 1h0m0 3h0m1-14h0m0 6h0m0 1h0m0 5h0m0 2h0m1-8h0m1-1h0m0 10h0m1-14h0m0 8h0m0 3h0m0 1h0m1-15h0m0 8h0m0 1h0m0 8h0m1-11h0m0 5h0m1 0h0m0 1h0m0 2h0m0 2h0m1-7h0m0 1h0m0 2h0m0 1h0m1-9h0m0 2h0m0 2h0m0 1h0m0 3h0m2-4h0m0 8h0m1-9h0m0 7h0m1-2h0m0 7h0m1-13h0m0 3h0m2 0h0m0 1h0m3-2h0m1-6h0" stroke="#111" opacity="0.5"/><path d="M1 469h0m1-5h0m0 2h0m0 5h0m2-3h0m0 8h0m1-8h0m1-1h0m0 1h0m0 4h0m1 1h0m0 3h0m1-7h0m0 3h0m4-5h0m1 2h0m1-11h0m0 10h0m1-7h0m0 4h0m2-2h0m2-10h0m1 5h0m2-3h0m0 1h0m0 5h0m1-5h0m1-5h0m0 11h0m1-7h0m0 5h0m1-7h0m1-7h0m0 3h0m0 8h0m1-7h0m2-4h0m0 5h0m3-12h0m0 11h0m1-9h0m1 11h0m1-9h0m1 3h0m0 1h0m1-1h0m0 1h0m1 2h0m3-8h0m0 1h0m0 3h0m2-4h0m1-12h0m3 3h0m3 6h0" stroke="#222" opacity="0.5"/><path d="M-1 475h0m2-5h0m0 3h0m0 2h0m1-3h0m0 1h0m0 1h0m1-1h0m0 1h0m1-8h0m0 2h0m1 2h0m0 1h0m0 1h0m0 1h0m0 7h0m1-13h0m0 4h0m0 1h0m1-7h0m0 11h0m1-14h0m4 2h0m1 6h0m2-6h0m0 1h0m1-3h0m0 2h0m1-5h0m1 1h0m2 8h0m2-9h0m5-2h0m1-2h0m1-3h0m1 11h0m3-25h0m0 5h0m1 15h0m2-18h0m0 14h0m1-17h0m0 8h0m1-7h0m0 5h0m2-5h0m1 2h0m1 2h0m2-12h0m0 1h0m0 17h0m2-13h0m3 3h0m1-5h0m0 1h0m3 5h0" stroke="#222" opacity="0.5"/><path d="M0 472h0m0 4h0m1-7h0m0 2h0m1-1h0m0 2h0m0 3h0m1-8h0m0 4h0m0 5h0m0 2h0m1-6h0m1-3h0m1-2h0m0 6h0m0 2h0m1-8h0m0 1h0m0 7h0m1-8h0m0 3h0m2-1h0m1 3h0m1-6h0m1-8h0m2 2h0m0 1h0m1 4h0m1-6h0m0 9h0m1 1h0m1-14h0m1 5h0m0 5h0m1-11h0m1-2h0m2 12h0m0 1h0m1 0h0m1-20h0m1 4h0m0 3h0m2 2h0m4-3h0m1-7h0m1-1h0m0 14h0m4-10h0m2-4h0m2-6h0m1 21h0m2-17h0m1 0h0m7 3h0" stroke="#222" opacity="0.5"/><path d="M0 473h0m1-7h0m0 3h0m1 8h0m1-4h0m0 1h0m0 2h0m1 2h0m1-5h0m1-4h0m0 4h0m1-6h0m0 3h0m1-4h0m1 7h0m0 1h0m1-11h0m0 4h0m1 0h0m2-9h0m1-1h0m0 11h0m1-12h0m0 7h0m0 1h0m1-5h0m0 3h0m1 0h0m0 1h0m1 9h0m1-5h0m2-6h0m0 2h0m1 1h0m1-11h0m1 8h0m0 1h0m1 3h0m1-10h0m1-13h0m0 12h0m2-1h0m1-8h0m4-1h0m0 3h0m0 4h0m1-1h0m1-7h0m5 4h0m2 1h0m0 4h0m3 2h0m2-15h0m0 1h0m1 4h0m1-16h0m0 18h0" stroke="#222" opacity="0.5"/><path d="M65 446h0m2-8h0m9 0h0m1-4h0m2-7h0m1 19h0m1-17h0m2 2h0m0 5h0m2 13h0m1-3h0m1-24h0m1 19h0m0 3h0m1-27h0m0 14h0m1-11h0m1 8h0m0 16h0m1-16h0m0 1h0m1-14h0m0 23h0m1-7h0m1-1h0m0 10h0m0 9h0m2-13h0m0 6h0m1-24h0m1 0h0m0 3h0m1-2h0m1 2h0m0 9h0m2-12h0m0 3h0m0 9h0m0 2h0m0 12h0m2-20h0m1 13h0m1-26h0m0 4h0m0 5h0m0 4h0m0 13h0m1-13h0m0 5h0m0 18h0m1-39h0m1 8h0m0 10h0m1-23h0m0 6h0m0 5h0m0 13h0m1-3h0m0 2h0m0 5h0m0 7h0m1-18h0m0 19h0m1-33h0m0 24h0m1-18h0m0 13h0m0 4h0m1-9h0m0 13h0m1 7h0m1-28h0m0 6h0m0 15h0m1-36h0m0 19h0m0 6h0m0 7h0m1-20h0m0 1h0m0 3h0m0 2h0m0 4h0m0 12h0m1-29h0m0 3h0m0 4h0m0 21h0m1-22h0m0 6h0m0 17h0m0 2h0m0 4h0m1-31h0m0 6h0m0 5h0m0 22h0m1-29h0m0 1h0m0 1h0m0 2h0m0 1h0m0 8h0m0 1h0m1-8h0m1-8h0m1-7h0m0 2h0m0 4h0m1-3h0m0 18h0m0 13h0m1-29h0m0 7h0m0 2h0m0 6h0m1-9h0m0 16h0m1-19h0m0 7h0m0 14h0m2-33h0m0 16h0m0 9h0m1-4h0m1-10h0m1 12h0m1-17h0m0 6h0m0 4h0m0 4h0m0 3h0m1-13h0m0 5h0m1-8h0m0 7h0m0 12h0m4-2h0m1-20h0m0 6h0m1 6h0m1-13h0m0 5h0m0 12h0m1-17h0m1 8h0m0 11h0m1-5h0m5-13h0m2 1h0m1 14h0m2 0h0m6-13h0" stroke="#5a4146" opacity="0.5"/><path d="M68 440h0m7-4h0m4 1h0m1-1h0m2 2h0m1-14h0m0 11h0m2 3h0m1-12h0m0 3h0m0 2h0m0 6h0m1 6h0m1-27h0m0 30h0m2-26h0m0 11h0m1-6h0m0 4h0m0 7h0m0 5h0m1-10h0m1-3h0m1-7h0m0 17h0m3-14h0m1-3h0m0 28h0m1-26h0m1-6h0m0 6h0m0 8h0m1-5h0m0 3h0m0 1h0m1-16h0m0 7h0m0 13h0m1-25h0m0 35h0m1-23h0m1-5h0m0 5h0m1-13h0m1 15h0m0 13h0m0 5h0m2-23h0m1-6h0m0 12h0m1-12h0m0 6h0m0 7h0m1-12h0m0 13h0m1-14h0m0 10h0m1-14h0m0 23h0m1-24h0m0 3h0m0 13h0m0 3h0m0 9h0m1-15h0m0 2h0m0 8h0m0 4h0m0 1h0m1-36h0m0 22h0m1-3h0m1-8h0m0 10h0m1 6h0m0 1h0m1-6h0m0 1h0m0 5h0m1-32h0m0 27h0m0 7h0m1-30h0m1 5h0m0 12h0m0 4h0m0 6h0m1-10h0m0 14h0m1-25h0m0 6h0m0 4h0m0 6h0m0 10h0m1-21h0m0 3h0m0 5h0m0 17h0m1-28h0m0 5h0m0 5h0m1-1h0m0 10h0m0 2h0m1-33h0m0 16h0m1 11h0m1-12h0m0 9h0m1 5h0m1-10h0m0 1h0m0 3h0m1-15h0m0 15h0m1-7h0m0 13h0m0 4h0m1-21h0m0 6h0m1-2h0m0 3h0m1-10h0m0 19h0m1-22h0m0 11h0m0 5h0m1-12h0m1-13h0m0 8h0m0 9h0m0 11h0m2-15h0m0 6h0m1-7h0m0 6h0m0 6h0m0 1h0m0 7h0m1-18h0m1 9h0m1-8h0m2-2h0m0 1h0m0 5h0m6 8h0m2-26h0m1 8h0m1 11h0m1-18h0m0 2h0m6 1h0m1 8h0" stroke="#5a4146" opacity="0.5"/><path d="M77 428h0m0 4h0m1 15h0m1-21h0m4-3h0m3 9h0m3 3h0m1-9h0m1-2h0m0 14h0m1 13h0m2-37h0m0 2h0m0 11h0m0 3h0m1-3h0m0 20h0m1-18h0m0 6h0m1 10h0m1-7h0m1-21h0m0 16h0m0 7h0m3-19h0m1-3h0m1-6h0m0 6h0m0 11h0m1-4h0m0 4h0m1-11h0m0 5h0m0 6h0m0 1h0m0 2h0m0 5h0m1-19h0m0 18h0m1-31h0m0 2h0m0 29h0m1-26h0m0 9h0m0 3h0m1-2h0m1 6h0m0 2h0m0 1h0m0 5h0m1-20h0m0 9h0m1-17h0m0 11h0m0 8h0m1-12h0m0 10h0m0 2h0m1-12h0m0 1h0m0 8h0m0 1h0m0 3h0m0 1h0m0 8h0m1-28h0m0 1h0m0 5h0m0 3h0m0 6h0m0 2h0m0 3h0m1 3h0m0 6h0m1-12h0m0 4h0m1-19h0m0 4h0m0 4h0m0 2h0m0 5h0m1-4h0m0 2h0m0 8h0m0 4h0m1-22h0m0 20h0m1-18h0m0 4h0m0 2h0m0 1h0m0 4h0m0 1h0m0 9h0m1-23h0m0 1h0m0 5h0m1-19h0m0 22h0m0 2h0m1-6h0m1-2h0m0 2h0m1-6h0m0 5h0m1-8h0m0 3h0m0 20h0m0 4h0m1-19h0m0 2h0m0 2h0m0 1h0m0 7h0m1-16h0m1-13h0m0 4h0m0 21h0m0 1h0m1-16h0m1 0h0m0 6h0m0 5h0m1-14h0m0 9h0m1-20h0m0 8h0m0 12h0m1-1h0m1-3h0m1-17h0m0 21h0m0 4h0m0 7h0m1-4h0m1-7h0m1-4h0m0 4h0m0 15h0m1-25h0m0 10h0m1-11h0m1-6h0m1 17h0m0 1h0m1-23h0m3 3h0m0 16h0m1-16h0m0 10h0m4 5h0m1-19h0m0 18h0m13-4h0m3-10h0" stroke="#5a4146" opacity="0.5"/><path d="M70 441h0m1-12h0m4 15h0m5-8h0m1-11h0m0 16h0m1-11h0m8 3h0m3-12h0m0 5h0m0 6h0m1-8h0m0 9h0m0 1h0m1-6h0m0 8h0m0 9h0m0 1h0m1-20h0m0 24h0m1-22h0m0 8h0m1-17h0m0 2h0m2 12h0m0 5h0m1-22h0m0 1h0m2 26h0m1-6h0m1-14h0m0 1h0m0 10h0m1-5h0m1-17h0m0 9h0m1 8h0m1-9h0m0 1h0m0 2h0m0 9h0m1-24h0m0 12h0m0 2h0m0 6h0m0 9h0m1-25h0m0 17h0m0 16h0m1-39h0m0 5h0m0 18h0m1-11h0m0 13h0m1-16h0m0 11h0m0 2h0m0 2h0m1 0h0m1-3h0m0 2h0m0 2h0m1-22h0m0 4h0m0 6h0m0 11h0m1-22h0m0 14h0m0 15h0m1-24h0m0 22h0m1-25h0m0 4h0m1 0h0m0 6h0m1-2h0m0 4h0m1-20h0m0 11h0m0 1h0m0 6h0m0 4h0m1 3h0m1-12h0m0 1h0m0 9h0m1-20h0m0 6h0m0 3h0m0 4h0m1-4h0m1-12h0m0 9h0m0 8h0m0 1h0m1-9h0m0 3h0m0 1h0m0 2h0m0 3h0m0 3h0m2-10h0m0 4h0m2-5h0m1-13h0m0 13h0m0 15h0m0 8h0m1-31h0m1-2h0m0 18h0m0 2h0m1-14h0m0 23h0m1-21h0m0 7h0m0 2h0m1-19h0m0 1h0m0 13h0m1 1h0m1-8h0m0 8h0m0 13h0m1-33h0m0 5h0m0 14h0m1-23h0m0 16h0m0 3h0m2 3h0m1-7h0m0 7h0m1-16h0m0 3h0m0 19h0m0 3h0m1-31h0m0 23h0m2-25h0m0 12h0m0 1h0m0 3h0m0 2h0m0 5h0m0 9h0m0 1h0m1-22h0m1 6h0m0 8h0m1-26h0m0 8h0m0 14h0m5 8h0m2-10h0" stroke="#5a4146" opacity="0.5"/><path d="M77 436h0m0 1h0m1-1h0m2 6h0m0 6h0m3-19h0m1-9h0m0 14h0m2-11h0m1 6h0m1-2h0m0 20h0m2-25h0m0 8h0m1 3h0m1-8h0m0 5h0m0 14h0m2-20h0m0 8h0m0 12h0m1-18h0m0 1h0m2-7h0m0 6h0m0 7h0m0 6h0m1-10h0m0 20h0m1-32h0m0 6h0m0 2h0m1-4h0m0 7h0m1-12h0m0 13h0m0 12h0m0 8h0m2-33h0m0 1h0m0 4h0m0 7h0m1-16h0m0 12h0m0 2h0m0 13h0m1-17h0m0 12h0m1-12h0m0 19h0m2-27h0m0 13h0m0 5h0m2-16h0m1-13h0m0 7h0m0 18h0m0 7h0m1-31h0m0 22h0m1-6h0m0 12h0m1-9h0m0 1h0m0 3h0m0 18h0m1-40h0m0 4h0m0 4h0m0 15h0m0 1h0m1-7h0m1-22h0m0 6h0m0 10h0m0 8h0m0 1h0m1-10h0m0 12h0m1-9h0m0 13h0m1-5h0m1-14h0m0 4h0m0 1h0m0 9h0m1-18h0m0 12h0m0 9h0m1-22h0m0 1h0m0 3h0m0 5h0m0 13h0m1 0h0m2-26h0m0 6h0m0 7h0m0 2h0m0 2h0m0 3h0m0 9h0m1-17h0m0 15h0m1-14h0m1-6h0m0 6h0m0 7h0m0 1h0m1-3h0m1-6h0m1 4h0m0 6h0m1-18h0m0 10h0m0 2h0m0 4h0m2-26h0m0 12h0m1-12h0m0 21h0m0 3h0m0 2h0m1-15h0m1-2h0m0 2h0m0 2h0m0 5h0m0 12h0m0 1h0m1-19h0m0 3h0m0 5h0m0 6h0m1-18h0m0 14h0m1 8h0m4-14h0m1-16h0m1-6h0m0 5h0m1 14h0m0 9h0m1-18h0m2 14h0m0 5h0m1-15h0m0 4h0m1-13h0m0 11h0m1 15h0m1-28h0m2 8h0m0 10h0m7-18h0m7 6h0" stroke="#5a4146" opacity="0.5"/><path d="M65 444h0m4-14h0m5 14h0m3-1h0m2-11h0m6-10h0m0 19h0m4-12h0m0 3h0m0 1h0m1-2h0m0 4h0m2-9h0m0 11h0m2-16h0m0 15h0m1-14h0m0 4h0m2 2h0m2-11h0m0 6h0m0 3h0m0 6h0m1-11h0m1-4h0m0 6h0m0 8h0m0 4h0m0 1h0m0 11h0m1-23h0m0 3h0m0 2h0m1 7h0m1-19h0m0 2h0m0 2h0m0 4h0m0 1h0m1-2h0m0 5h0m0 1h0m1-8h0m2-3h0m0 7h0m1-19h0m0 7h0m0 8h0m0 5h0m0 5h0m1-24h0m0 2h0m0 12h0m0 6h0m1-7h0m0 2h0m0 5h0m1-21h0m0 7h0m0 6h0m0 12h0m0 4h0m1-16h0m0 7h0m1-8h0m0 6h0m0 14h0m1-27h0m0 13h0m0 3h0m1-16h0m0 7h0m0 2h0m0 6h0m0 3h0m1-15h0m0 2h0m1-9h0m0 10h0m1-9h0m0 9h0m0 4h0m0 10h0m1-13h0m1-12h0m0 3h0m0 4h0m0 18h0m0 4h0m2-26h0m0 17h0m0 7h0m1-6h0m1-3h0m1-7h0m0 8h0m0 4h0m1-21h0m0 2h0m0 7h0m0 3h0m1-5h0m0 1h0m2-11h0m0 9h0m0 3h0m0 7h0m1-17h0m0 16h0m0 2h0m1-26h0m1 7h0m0 5h0m0 8h0m0 11h0m1-22h0m0 14h0m0 9h0m1-31h0m0 22h0m1-22h0m0 10h0m0 1h0m0 1h0m0 9h0m3-22h0m1 3h0m1 12h0m0 1h0m0 10h0m1-36h0m0 8h0m1-4h0m1 12h0m0 3h0m1-12h0m0 15h0m0 8h0m1-21h0m0 10h0m2 10h0m1-18h0m1-9h0m0 24h0m1 5h0m1-17h0m6 3h0m4 1h0m4 2h0m1-20h0m0 12h0" stroke="#5a4146" opacity="0.5"/><path d="M168 422h0m1-19h0m1 0h0m1 13h0m7-20h0m1 11h0m1 10h0m1-13h0m4 8h0m5-22h0m0 14h0m1-18h0m0 25h0m0 2h0m0 17h0m1-9h0m0 2h0m1-47h0m0 44h0m1 3h0m2-20h0m1-12h0m0 30h0m1-35h0m0 10h0m0 12h0m0 12h0m1-25h0m1-10h0m0 24h0m0 20h0m1-45h0m0 25h0m1-2h0m0 4h0m0 25h0m0 4h0m1-49h0m0 15h0m0 9h0m1-22h0m0 5h0m0 23h0m1-17h0m0 18h0m1-17h0m0 6h0m1-14h0m0 3h0m1 10h0m1-22h0m1-20h0m0 47h0m0 26h0m2-49h0m0 3h0m0 3h0m0 12h0m0 14h0m1-31h0m0 6h0m1-21h0m0 4h0m1 19h0m0 2h0m0 17h0m0 1h0m0 5h0m1-32h0m0 11h0m1-12h0m0 10h0m2-21h0m0 21h0m0 23h0m1-49h0m0 19h0m0 21h0m0 19h0m1-29h0m1-25h0m0 14h0m0 13h0m1-23h0m0 2h0m0 10h0m0 1h0m1-16h0m0 28h0m1-33h0m0 39h0m1-15h0m0 8h0m0 1h0m0 6h0m1-28h0m0 3h0m0 10h0m0 10h0m0 1h0m0 24h0m1-51h0m0 3h0m0 4h0m0 5h0m1 4h0m0 8h0m0 1h0m1-28h0m0 5h0m0 4h0m0 4h0m0 3h0m0 2h0m0 10h0m1-25h0m0 10h0m1 11h0m1-25h0m0 9h0m0 13h0m0 8h0m0 7h0m0 7h0m1-42h0m0 4h0m0 2h0m0 14h0m0 8h0m1-38h0m0 17h0m0 13h0m0 12h0m0 7h0m1-48h0m0 15h0m0 5h0m0 7h0m0 9h0m0 11h0m0 1h0m0 2h0m0 16h0m1-51h0m0 7h0m0 6h0m0 3h0m1-17h0m0 11h0m0 3h0m0 26h0m1-22h0m0 9h0m1-35h0m0 20h0m0 42h0m1-27h0m0 21h0m1-77h0m0 40h0m0 22h0m1-31h0m0 2h0m0 10h0m0 14h0m1-19h0m0 9h0m1-39h0m0 29h0m0 3h0m0 23h0m1-45h0m0 22h0m0 10h0m1-2h0m0 2h0m0 3h0m0 10h0m1-47h0m0 12h0m0 24h0m1-10h0m0 2h0m0 2h0m0 2h0m0 3h0m0 2h0m1-35h0m0 4h0m0 9h0m0 2h0m0 2h0m0 1h0m0 4h0m0 11h0m0 1h0m0 13h0m2-33h0m0 9h0m0 12h0m1-35h0m0 35h0m1-50h0m0 16h0m0 20h0m1-22h0m0 8h0m0 7h0m0 13h0m0 12h0m1-40h0m0 5h0m1-6h0m0 7h0m0 23h0m0 7h0m0 1h0m1-34h0m0 9h0m0 2h0m1-4h0m0 10h0m1-24h0m0 12h0m0 14h0m0 2h0m0 9h0m0 4h0m1-33h0m0 2h0m0 8h0m0 12h0m0 13h0m1-45h0m0 6h0m0 19h0m0 8h0m0 3h0m1-13h0m0 2h0m0 6h0m0 6h0m0 11h0m1-30h0m0 5h0m0 4h0m0 10h0m0 2h0m0 14h0m1-29h0m0 3h0m0 2h0m1-7h0m0 17h0m1-12h0m0 17h0m0 4h0m1-42h0m0 17h0m0 22h0m0 17h0m1-52h0m0 7h0m0 16h0m0 30h0m1-74h0m0 20h0m0 10h0m0 18h0m1-27h0m0 9h0m1-9h0m0 31h0m1-20h0m0 6h0m0 19h0m0 1h0m1-42h0m0 39h0m1-34h0m0 23h0m0 2h0m0 19h0m1-38h0m0 13h0m0 19h0m1-36h0m1 20h0m0 11h0m1-21h0m0 6h0m0 8h0m1-5h0m0 1h0m0 4h0m1-24h0m0 10h0m0 8h0m0 12h0m1-19h0m0 9h0m0 24h0m2-29h0m0 3h0m1-10h0m1-13h0m0 2h0m0 28h0m1-28h0m0 11h0m0 7h0m1-36h0m0 8h0m1 30h0m1-7h0m0 15h0m1-30h0m0 37h0m1-25h0m1 5h0m0 3h0m1-19h0m2-7h0m1 14h0m0 9h0m2 4h0m0 26h0m2-27h0m0 19h0m1-36h0m0 9h0m0 16h0m1-21h0m0 11h0m1-7h0m0 3h0m3 12h0m1-18h0m4 13h0m1 4h0m2-26h0m2 4h0m3-4h0m8 7h0m3 0h0m1 0h0" stroke="#5a0d17" opacity="0.5"/><path d="M166 419h0m2-15h0m0 1h0m1 20h0m3-30h0m1 29h0m1-22h0m0 11h0m3 9h0m3-8h0m3 7h0m1-22h0m2-6h0m0 20h0m3-31h0m0 25h0m0 7h0m1-13h0m0 20h0m2-10h0m1-30h0m0 22h0m2-1h0m0 11h0m2-13h0m0 2h0m0 12h0m0 5h0m1 12h0m1-25h0m1-18h0m0 39h0m0 3h0m1-7h0m1-31h0m1 21h0m1-30h0m0 8h0m1 8h0m1-7h0m0 17h0m1-21h0m0 30h0m0 16h0m1-19h0m0 12h0m1-30h0m0 3h0m0 8h0m0 6h0m1-6h0m0 1h0m0 1h0m0 4h0m1-27h0m0 17h0m0 6h0m1-19h0m0 9h0m0 7h0m0 10h0m0 4h0m1-35h0m0 6h0m0 39h0m1-48h0m0 7h0m0 16h0m0 8h0m1 7h0m0 24h0m1-55h0m0 3h0m0 1h0m0 30h0m1-25h0m0 12h0m1-17h0m0 9h0m0 6h0m0 4h0m1-17h0m0 9h0m0 31h0m1-51h0m0 8h0m0 2h0m0 1h0m1-8h0m0 17h0m0 9h0m1-40h0m0 34h0m1 0h0m1-10h0m0 19h0m1-6h0m0 1h0m0 2h0m0 1h0m1-1h0m0 2h0m1-31h0m0 22h0m0 8h0m0 12h0m1-35h0m0 4h0m0 5h0m0 5h0m0 6h0m1-34h0m0 12h0m0 6h0m0 6h0m0 9h0m1-17h0m0 21h0m1 1h0m0 7h0m1-22h0m1 0h0m0 2h0m0 3h0m0 1h0m0 12h0m0 3h0m1-32h0m1-12h0m0 18h0m0 9h0m0 2h0m0 1h0m1-42h0m0 35h0m0 4h0m0 1h0m0 3h0m1-27h0m0 10h0m0 8h0m0 5h0m0 8h0m1-39h0m0 30h0m0 3h0m1-5h0m0 3h0m0 6h0m2-9h0m0 2h0m0 9h0m0 3h0m0 5h0m1-25h0m0 7h0m0 13h0m1-32h0m0 1h0m0 6h0m0 6h0m0 11h0m0 5h0m0 17h0m0 5h0m1-52h0m0 1h0m0 7h0m0 2h0m0 5h0m0 1h0m0 2h0m0 3h0m0 10h0m0 6h0m1-14h0m0 5h0m0 3h0m1-41h0m0 8h0m0 8h0m0 29h0m1-29h0m0 9h0m0 9h0m0 9h0m0 1h0m1-34h0m0 27h0m0 4h0m1-19h0m0 10h0m0 11h0m1-22h0m0 7h0m0 7h0m0 2h0m0 8h0m1-29h0m0 2h0m0 8h0m0 3h0m0 10h0m1-19h0m0 26h0m1-20h0m0 20h0m0 2h0m1-33h0m0 19h0m0 8h0m0 2h0m0 1h0m0 8h0m1-32h0m0 10h0m1-30h0m0 20h0m0 6h0m0 27h0m1-56h0m0 7h0m0 24h0m0 13h0m0 1h0m0 10h0m1-23h0m0 2h0m1-34h0m0 2h0m0 3h0m0 9h0m0 23h0m0 2h0m1-42h0m0 16h0m0 21h0m1-15h0m0 7h0m0 18h0m1-40h0m0 22h0m0 7h0m0 1h0m0 3h0m0 10h0m0 3h0m1-27h0m0 10h0m0 18h0m1-23h0m0 1h0m0 12h0m1-52h0m0 10h0m0 16h0m0 15h0m0 20h0m1-31h0m0 15h0m0 9h0m1-16h0m0 3h0m1-23h0m0 5h0m1-6h0m0 3h0m0 8h0m0 3h0m0 5h0m0 36h0m1-59h0m0 18h0m0 6h0m0 1h0m0 14h0m1-20h0m0 16h0m0 6h0m1-55h0m0 30h0m0 5h0m0 6h0m1-21h0m0 33h0m1 6h0m1-24h0m1-5h0m1 39h0m1-35h0m0 19h0m0 15h0m1-39h0m0 2h0m0 3h0m0 1h0m0 19h0m1-35h0m2-7h0m0 39h0m1-23h0m0 6h0m0 1h0m1 15h0m1-10h0m1-22h0m0 12h0m1-11h0m0 2h0m0 7h0m1 3h0m0 23h0m1-21h0m1 26h0m1-27h0m0 4h0m0 11h0m0 4h0m1-17h0m3 12h0m0 5h0m2-21h0m1 23h0m1-47h0m0 52h0m1-29h0m0 2h0m0 3h0m0 3h0m0 5h0m1-9h0m1-14h0m3 34h0m5-22h0m1-15h0m1-6h0m0 7h0m1 15h0m4 23h0m2-13h0m4-15h0" stroke="#5a0d17" opacity="0.5"/><path d="M169 404h0m1 28h0m8-38h0m4 29h0m4-6h0m2-13h0m0 17h0m1-23h0m0 3h0m0 21h0m1-13h0m0 14h0m0 9h0m2-32h0m2 9h0m0 15h0m2-18h0m1-10h0m0 43h0m3-49h0m1 14h0m0 1h0m0 20h0m1-15h0m1-22h0m0 51h0m2-56h0m0 4h0m0 4h0m0 11h0m0 9h0m1-28h0m0 20h0m0 15h0m2 4h0m1-40h0m0 3h0m0 12h0m0 14h0m0 3h0m0 12h0m1-27h0m1 14h0m1-24h0m0 27h0m0 23h0m1-47h0m0 2h0m0 10h0m0 1h0m0 9h0m0 3h0m1-35h0m0 10h0m0 14h0m0 8h0m1-9h0m0 4h0m0 3h0m0 18h0m1-25h0m0 4h0m0 3h0m0 9h0m1-43h0m0 2h0m0 1h0m0 20h0m0 5h0m0 4h0m0 14h0m0 4h0m1-43h0m0 13h0m0 2h0m0 21h0m1-28h0m0 11h0m0 1h0m0 8h0m0 20h0m1-63h0m0 30h0m0 12h0m0 5h0m1-22h0m1-3h0m0 14h0m0 2h0m0 9h0m1-38h0m0 47h0m0 5h0m2-51h0m0 20h0m0 10h0m0 6h0m0 10h0m1-36h0m0 19h0m1 11h0m1-22h0m0 11h0m1-24h0m0 21h0m0 18h0m1-10h0m1-35h0m0 5h0m0 7h0m0 7h0m0 13h0m0 9h0m0 1h0m1-38h0m0 27h0m0 13h0m0 15h0m1-62h0m0 15h0m1 2h0m0 20h0m1-14h0m0 2h0m0 14h0m0 4h0m1-30h0m0 8h0m0 8h0m1-22h0m0 12h0m0 1h0m0 40h0m1-62h0m0 3h0m0 39h0m0 5h0m1-30h0m0 11h0m0 2h0m0 3h0m0 7h0m1-41h0m0 11h0m0 32h0m0 5h0m1-43h0m0 15h0m0 19h0m1-15h0m0 1h0m0 2h0m1 11h0m0 3h0m1-18h0m1-17h0m0 22h0m0 16h0m0 3h0m1-37h0m0 6h0m1 3h0m0 24h0m1-26h0m0 3h0m0 12h0m1-26h0m0 10h0m0 32h0m1-38h0m0 7h0m0 15h0m0 17h0m1-15h0m0 6h0m1-44h0m0 5h0m0 23h0m0 5h0m1 0h0m0 21h0m1-45h0m0 6h0m0 33h0m0 5h0m0 2h0m0 9h0m1-58h0m0 5h0m0 5h0m0 4h0m0 7h0m0 5h0m0 10h0m0 17h0m1-65h0m0 28h0m0 30h0m0 3h0m1 1h0m0 15h0m1-49h0m0 1h0m0 17h0m1-36h0m0 2h0m0 16h0m0 14h0m0 5h0m0 2h0m0 2h0m0 1h0m1-26h0m0 21h0m1-34h0m0 13h0m1-14h0m0 4h0m0 1h0m0 6h0m1-17h0m0 15h0m0 6h0m0 27h0m1 0h0m1-33h0m0 6h0m1-13h0m0 6h0m0 26h0m0 2h0m1-25h0m0 7h0m0 7h0m0 7h0m0 13h0m1-24h0m1-19h0m0 19h0m0 2h0m0 8h0m0 2h0m1-6h0m0 3h0m0 2h0m1-31h0m0 9h0m0 17h0m0 5h0m0 3h0m1-32h0m1-4h0m0 16h0m0 28h0m1-45h0m0 13h0m0 7h0m0 4h0m0 21h0m1-40h0m0 7h0m0 2h0m0 4h0m0 9h0m0 14h0m0 10h0m0 10h0m1-58h0m0 6h0m0 7h0m0 30h0m0 5h0m1-46h0m0 17h0m1-22h0m0 24h0m1 10h0m0 4h0m2-15h0m1 7h0m0 4h0m0 3h0m0 7h0m0 2h0m0 1h0m1-46h0m0 8h0m0 18h0m0 13h0m2-29h0m0 22h0m0 8h0m1-45h0m0 20h0m1 6h0m1-17h0m0 8h0m0 6h0m0 7h0m1-25h0m0 44h0m1-31h0m0 27h0m1-38h0m0 4h0m0 9h0m0 10h0m0 6h0m1-5h0m0 7h0m1-28h0m0 1h0m0 8h0m2 22h0m0 5h0m1-23h0m0 11h0m3-15h0m0 35h0m1-41h0m0 9h0m0 3h0m0 18h0m1-18h0m2-6h0m0 32h0m1-29h0m3-1h0m0 2h0m0 4h0m0 2h0m3-2h0m0 14h0m3-30h0m0 7h0m0 2h0m2 19h0m3-7h0m1-6h0m2-22h0m1 13h0" stroke="#5a0d17" opacity="0.5"/><path d="M163 419h0m1-2h0m1-6h0m0 2h0m7-2h0m0 3h0m0 12h0m2 2h0m2-22h0m5 1h0m0 12h0m0 15h0m1-13h0m1-34h0m0 15h0m1 19h0m1-23h0m1-3h0m0 21h0m3-36h0m0 28h0m1-7h0m1 34h0m1-48h0m1 2h0m1 35h0m2 0h0m0 9h0m1-16h0m1-26h0m0 26h0m1-24h0m1 0h0m1 6h0m0 19h0m1-17h0m0 16h0m1-39h0m2 21h0m0 23h0m1-18h0m1-20h0m0 11h0m0 4h0m0 5h0m0 6h0m1 2h0m1-8h0m1-20h0m0 1h0m0 17h0m0 3h0m1-17h0m0 9h0m0 6h0m0 5h0m0 5h0m0 12h0m1-53h0m0 27h0m0 38h0m1-70h0m0 25h0m0 19h0m0 2h0m1-36h0m0 30h0m0 7h0m0 6h0m0 13h0m1-40h0m0 4h0m0 10h0m0 6h0m0 9h0m0 3h0m1-38h0m0 15h0m0 3h0m0 4h0m0 1h0m1-21h0m1-1h0m1-2h0m0 13h0m0 2h0m0 4h0m1-33h0m0 5h0m0 7h0m0 5h0m0 21h0m1-28h0m0 18h0m0 8h0m0 4h0m0 2h0m1-42h0m0 40h0m0 2h0m1-18h0m0 27h0m1-19h0m0 19h0m0 3h0m1-43h0m0 7h0m0 10h0m0 6h0m0 3h0m0 16h0m1-40h0m0 7h0m0 7h0m0 24h0m1-36h0m0 11h0m0 21h0m0 18h0m1-73h0m0 10h0m0 33h0m0 4h0m0 1h0m0 5h0m1-31h0m0 38h0m0 14h0m1-44h0m0 2h0m0 17h0m0 21h0m1-36h0m0 24h0m1-31h0m0 5h0m0 13h0m0 3h0m0 2h0m1-29h0m0 32h0m0 3h0m0 6h0m0 4h0m1-39h0m0 14h0m1-29h0m0 10h0m0 25h0m0 21h0m1-56h0m0 2h0m0 18h0m0 4h0m0 17h0m0 5h0m0 1h0m1-26h0m0 19h0m1-29h0m0 12h0m0 3h0m0 10h0m0 18h0m0 4h0m1-48h0m0 3h0m0 6h0m0 2h0m0 3h0m1-1h0m0 4h0m0 1h0m0 18h0m0 1h0m1-28h0m0 17h0m0 6h0m1-35h0m0 9h0m0 14h0m0 3h0m1-10h0m0 4h0m0 2h0m0 14h0m1-46h0m0 25h0m0 5h0m0 1h0m1-23h0m0 36h0m0 1h0m0 2h0m1-37h0m0 4h0m0 13h0m0 8h0m0 9h0m1-38h0m0 10h0m0 9h0m0 5h0m0 3h0m0 13h0m1-27h0m0 6h0m1-13h0m0 31h0m0 1h0m0 7h0m1-42h0m0 21h0m1-12h0m0 23h0m0 3h0m1-29h0m0 12h0m0 3h0m0 8h0m0 17h0m1-48h0m1 24h0m0 7h0m0 11h0m0 3h0m1 11h0m1-43h0m0 13h0m0 2h0m0 7h0m1-45h0m0 34h0m0 7h0m1-11h0m0 9h0m0 2h0m0 2h0m0 7h0m1-56h0m0 23h0m0 11h0m1-5h0m0 1h0m0 11h0m0 11h0m1-20h0m1-16h0m0 9h0m0 20h0m0 1h0m0 5h0m0 9h0m0 2h0m1-43h0m0 13h0m0 1h0m0 41h0m1-59h0m0 7h0m0 9h0m0 3h0m0 8h0m0 6h0m1-23h0m0 1h0m1-19h0m0 37h0m1-24h0m1 17h0m0 3h0m1-38h0m0 20h0m0 6h0m1-27h0m0 16h0m0 6h0m0 7h0m0 6h0m1-10h0m0 16h0m0 23h0m1-59h0m0 34h0m1-25h0m0 10h0m0 10h0m0 1h0m0 13h0m1-14h0m0 23h0m1-30h0m1-6h0m0 14h0m0 9h0m1-28h0m0 10h0m0 5h0m0 9h0m1-29h0m0 40h0m1-47h0m0 10h0m0 15h0m0 4h0m2 23h0m0 4h0m2-60h0m0 37h0m1 2h0m0 28h0m1-46h0m1-1h0m0 26h0m1 11h0m1-48h0m1 2h0m1 24h0m2-33h0m1 9h0m0 14h0m1-8h0m1-7h0m0 6h0m1-20h0m2 1h0m0 24h0m0 1h0m1-11h0m2 35h0m1-18h0m0 1h0m0 16h0m1-30h0m2 39h0m2-35h0m2 16h0m2-22h0m0 14h0m2 9h0m2-17h0m0 15h0" stroke="#5a0d17" opacity="0.5"/><path d="M163 419h0m7 1h0m1 5h0m1 3h0m7-41h0m0 35h0m1-9h0m1-14h0m2 11h0m0 18h0m4-34h0m1 35h0m1-28h0m0 31h0m1-17h0m0 18h0m0 3h0m1-25h0m2-31h0m0 14h0m0 30h0m1-26h0m0 19h0m1-3h0m0 15h0m1-25h0m1 20h0m1-24h0m0 4h0m0 13h0m0 6h0m1-19h0m0 3h0m0 17h0m1-20h0m0 8h0m2-4h0m1 8h0m2-11h0m0 6h0m1 12h0m0 6h0m0 1h0m1-26h0m0 6h0m1-3h0m0 13h0m0 4h0m1-25h0m0 17h0m1-25h0m0 7h0m0 2h0m1 2h0m0 10h0m0 3h0m2-20h0m1 12h0m0 1h0m2 9h0m1-52h0m0 29h0m0 8h0m0 1h0m0 1h0m0 4h0m1 22h0m2-36h0m0 3h0m0 9h0m1-29h0m0 18h0m0 29h0m1-46h0m0 28h0m0 22h0m1-38h0m0 1h0m0 3h0m0 31h0m1-32h0m0 17h0m1-9h0m0 9h0m0 7h0m1-26h0m0 17h0m0 4h0m0 7h0m0 1h0m1-41h0m0 9h0m0 3h0m0 3h0m0 13h0m1-24h0m0 11h0m0 3h0m0 15h0m1-22h0m0 12h0m0 13h0m1-20h0m0 10h0m1-21h0m0 3h0m0 16h0m0 4h0m0 1h0m0 2h0m0 15h0m0 2h0m0 14h0m1-61h0m0 11h0m0 4h0m0 1h0m0 16h0m1-22h0m0 12h0m1-14h0m0 1h0m0 7h0m0 3h0m0 18h0m0 4h0m0 4h0m0 11h0m1-46h0m1 5h0m0 6h0m0 3h0m0 21h0m1-48h0m0 20h0m0 1h0m0 10h0m0 7h0m1-47h0m0 8h0m0 17h0m0 24h0m1-31h0m0 12h0m0 6h0m1-16h0m0 4h0m0 17h0m0 4h0m1-44h0m0 22h0m0 7h0m0 17h0m0 4h0m0 1h0m1-8h0m0 4h0m1-43h0m0 25h0m0 5h0m1-4h0m0 9h0m0 3h0m1-31h0m0 23h0m0 11h0m0 2h0m1-26h0m0 1h0m0 9h0m0 2h0m1 4h0m0 2h0m0 3h0m1-37h0m1 7h0m0 14h0m0 4h0m0 1h0m0 5h0m0 1h0m0 6h0m0 7h0m1-48h0m0 25h0m0 2h0m0 2h0m0 6h0m0 9h0m1-15h0m0 13h0m1-51h0m1 18h0m0 12h0m0 12h0m0 14h0m0 8h0m1-59h0m0 13h0m0 8h0m0 18h0m0 11h0m1-24h0m0 24h0m1-48h0m0 7h0m0 8h0m0 8h0m0 2h0m0 14h0m0 7h0m0 12h0m1-36h0m0 17h0m0 3h0m0 6h0m0 8h0m1-39h0m0 7h0m0 7h0m0 16h0m0 13h0m1-27h0m0 4h0m0 11h0m1-43h0m0 20h0m0 3h0m0 4h0m1-29h0m0 6h0m0 4h0m0 1h0m0 24h0m0 1h0m0 8h0m1-52h0m0 27h0m0 4h0m0 28h0m1-47h0m0 4h0m0 19h0m0 4h0m0 5h0m1-13h0m0 4h0m0 2h0m0 7h0m1-17h0m0 6h0m0 11h0m0 6h0m0 9h0m1-32h0m0 19h0m0 13h0m1-50h0m0 29h0m1-44h0m0 20h0m0 19h0m0 3h0m1-31h0m0 6h0m0 15h0m0 3h0m0 27h0m1-14h0m1 5h0m0 7h0m0 10h0m1-27h0m1 2h0m0 3h0m0 1h0m0 6h0m0 9h0m1-34h0m0 5h0m0 13h0m1-12h0m0 1h0m1-9h0m0 14h0m0 1h0m0 3h0m0 22h0m1-31h0m0 5h0m0 6h0m2-3h0m0 3h0m0 1h0m0 11h0m1-16h0m0 4h0m0 12h0m1-35h0m0 3h0m0 10h0m2-2h0m0 14h0m1-21h0m1-5h0m2-12h0m0 21h0m1 5h0m0 15h0m0 14h0m1-41h0m0 30h0m0 9h0m1-54h0m0 33h0m1-37h0m0 1h0m0 26h0m0 3h0m2 3h0m0 11h0m0 10h0m4-43h0m0 30h0m1-14h0m1-1h0m2 10h0m1 16h0m3-42h0m0 11h0m2 10h0m1-11h0m0 7h0m1-27h0m0 40h0m4-16h0m2 1h0m4-21h0m0 10h0m0 6h0m1 7h0m0 11h0m7 2h0m4-5h0" stroke="#5a0d17" opacity="0.5"/><path d="M163 402h0m14 9h0m0 2h0m2-12h0m4 11h0m1 10h0m3-15h0m0 4h0m0 27h0m2-8h0m1-37h0m4-8h0m0 26h0m1-17h0m0 2h0m0 11h0m0 12h0m0 6h0m0 3h0m4-12h0m0 5h0m1-21h0m0 7h0m0 6h0m1 14h0m0 7h0m1-44h0m1-5h0m0 20h0m0 13h0m1-6h0m1-26h0m0 6h0m0 6h0m0 9h0m0 2h0m1-8h0m1-6h0m0 2h0m0 18h0m1 2h0m0 22h0m1-31h0m1-19h0m1 16h0m0 13h0m1-8h0m1-20h0m1-16h0m1 26h0m0 6h0m1-6h0m0 6h0m0 2h0m0 7h0m0 3h0m1-33h0m0 10h0m0 4h0m1-8h0m0 5h0m0 2h0m0 1h0m0 7h0m0 34h0m0 1h0m1-64h0m0 21h0m0 8h0m0 24h0m0 3h0m1-19h0m0 6h0m0 5h0m1-34h0m0 16h0m0 7h0m0 2h0m0 3h0m0 14h0m0 7h0m1-52h0m0 9h0m0 27h0m1-38h0m0 11h0m0 2h0m0 13h0m0 1h0m1-30h0m0 24h0m0 15h0m0 8h0m0 2h0m2-41h0m0 11h0m0 21h0m1-33h0m0 1h0m0 1h0m0 1h0m0 6h0m0 17h0m1-28h0m0 14h0m0 7h0m0 1h0m0 6h0m0 9h0m1-28h0m0 3h0m0 3h0m0 3h0m0 7h0m1 8h0m1-27h0m0 6h0m0 22h0m0 4h0m1-14h0m1-16h0m0 5h0m0 15h0m0 7h0m0 9h0m1-52h0m0 11h0m0 12h0m1-15h0m0 16h0m0 7h0m0 6h0m0 19h0m1-51h0m0 23h0m0 24h0m1-70h0m0 9h0m0 11h0m0 4h0m0 5h0m0 13h0m0 2h0m0 5h0m0 9h0m0 13h0m1-33h0m0 5h0m0 6h0m1-29h0m0 2h0m0 7h0m0 4h0m0 4h0m0 4h0m0 17h0m1-17h0m1-16h0m0 10h0m0 8h0m0 1h0m1-8h0m0 6h0m0 13h0m1-19h0m0 6h0m0 13h0m1-28h0m0 12h0m0 6h0m0 1h0m0 1h0m0 1h0m0 9h0m1-27h0m0 10h0m0 25h0m0 3h0m1-67h0m0 21h0m0 32h0m1-37h0m0 8h0m0 5h0m0 11h0m0 8h0m0 6h0m0 6h0m1-40h0m0 15h0m0 2h0m0 3h0m0 1h0m0 10h0m1-38h0m0 5h0m0 40h0m1-9h0m0 10h0m1-41h0m0 9h0m0 5h0m0 19h0m0 4h0m1-21h0m0 2h0m0 12h0m0 5h0m1-21h0m0 12h0m0 9h0m1-45h0m0 5h0m0 19h0m0 4h0m0 10h0m0 18h0m1-49h0m0 17h0m1-18h0m0 5h0m0 11h0m0 7h0m0 26h0m1-48h0m0 28h0m0 8h0m1-31h0m0 18h0m1-17h0m0 9h0m0 12h0m1-18h0m0 12h0m0 21h0m1-56h0m0 28h0m0 3h0m0 15h0m1-28h0m0 1h0m0 7h0m0 7h0m0 20h0m0 2h0m0 2h0m0 1h0m0 3h0m1-37h0m1-5h0m0 6h0m0 14h0m0 5h0m0 3h0m0 17h0m1-35h0m0 6h0m0 11h0m0 3h0m1-53h0m0 6h0m1 9h0m0 2h0m0 4h0m0 4h0m0 2h0m0 2h0m0 23h0m0 5h0m0 6h0m1-32h0m0 24h0m1-11h0m0 8h0m0 1h0m1-35h0m0 35h0m1-33h0m0 10h0m0 6h0m0 9h0m0 8h0m0 4h0m0 3h0m1-37h0m0 27h0m1-6h0m0 20h0m1-50h0m0 1h0m0 45h0m1-24h0m1-20h0m0 34h0m0 2h0m1-21h0m0 13h0m1-42h0m0 48h0m1-34h0m0 22h0m3-9h0m0 2h0m0 19h0m2-12h0m0 13h0m1-36h0m1 8h0m1-7h0m0 33h0m0 15h0m1-35h0m1 1h0m0 4h0m1-12h0m0 23h0m0 24h0m1-24h0m1-6h0m0 17h0m1-47h0m0 13h0m1 16h0m0 6h0m1-36h0m0 36h0m1-33h0m1 15h0m0 4h0m0 3h0m2 9h0m8-20h0m0 3h0m2 5h0m4-12h0m0 6h0m0 23h0m4-6h0m2-15h0m0 11h0m0 2h0m2 9h0m3-31h0" stroke="#5a0d17" opacity="0.5"/><path d="M71 108h0m6 25h0m7 40h0m2-23h0m3 210h0m10-36h0m1-198h0m2 103h0m11 103h0m1-244h0m4 190h0m1-42h0m1-31h0m6-37h0m0 98h0m5 23h0m2 67h0m4-235h0m2 13h0m1-89h0m4 294h0m2-192h0m3 176h0m4-194h0m15 136h0m0 45h0m3-206h0m13 148h0m9 46h0m2-51h0m0 113h0m1-2h0m1-43h0m4-253h0m1 158h0m0 122h0m14-26h0m7-245h0m3-31h0m3 154h0m2 83h0m7-233h0m1 40h0m0 251h0m15-294h0m17 180h0m3 117h0m11-151h0m4-62h0m3 141h0m5 92h0m1-276h0m7 139h0m1 16h0" stroke="#8a5d63" opacity="0.42"/><path d="M70 165h0m5 184h0m5-40h0m10-198h0m8 173h0m6-58h0m1-38h0m0 159h0m2-117h0m2-177h0m19 101h0m2 188h0m5-175h0m1 94h0m0 97h0m4-162h0m3-76h0m6-10h0m1 186h0m3-10h0m2 41h0m20-117h0m2 133h0m1-215h0m0 207h0m4-17h0m16-108h0m4 133h0m1 12h0m6-26h0m2 31h0m3-148h0m5-167h0m3 43h0m2-44h0m2 64h0m1 210h0m8-265h0m6 293h0m3-225h0m0 235h0m1-101h0m3-101h0m0 191h0m15-312h0m4 199h0m5-47h0m3 70h0m8-169h0m8 214h0m5-222h0m10 15h0" stroke="#8a5d63" opacity="0.42"/><path d="M70 49h0m4 159h0m4 132h0m6-131h0m8-87h0m15 180h0m2-246h0m1 187h0m1-208h0m5 307h0m5-160h0m1 66h0m1-72h0m2-49h0m21-11h0m1 104h0m2 81h0m0 56h0m11-42h0m1-69h0m9-1h0m8 100h0m20-12h0m3-228h0m3-38h0m1 197h0m1 57h0m1-40h0m15-207h0m0 228h0m13-177h0m3 0h0m6 152h0m11 39h0m3 28h0m1-93h0m1 93h0m2-47h0m1 30h0m4-191h0m17-84h0m3 227h0m2-131h0m2 134h0m5-204h0m0 200h0m4-222h0m0 157h0m1 109h0m2-165h0m4 84h0m0 108h0m2-22h0" stroke="#8a5d63" opacity="0.42"/><path d="M75 336h0m2 5h0m22-18h0m9 29h0m11-264h0m2 131h0m7 90h0m6 21h0m2-245h0m1 226h0m1 12h0m1-200h0m2 99h0m12-168h0m2 152h0m1 152h0m7-209h0m8 75h0m10 33h0m1 79h0m3 5h0m7-194h0m2 55h0m1 86h0m18 58h0m2-287h0m6 115h0m13 104h0m6 15h0m1-48h0m0 70h0m4-181h0m4-55h0m4 27h0m0 134h0m0 49h0m4-116h0m7-101h0m2 227h0m6-163h0m0 117h0m3 5h0m1 38h0m0 36h0m3-7h0m12-153h0m3 178h0m1-160h0m5 75h0m5-133h0m1 29h0m2 150h0m2-56h0" stroke="#8a5d63" opacity="0.42"/><path d="M71 134h0m20 94h0m10-150h0m1 77h0m0 111h0m1 52h0m8-130h0m0 107h0m7 44h0m7-51h0m2 67h0m2-208h0m1 12h0m5 18h0m9-106h0m6 2h0m3-41h0m4 237h0m7-53h0m16-28h0m3-96h0m4 212h0m2-190h0m3 77h0m1 104h0m5 63h0m9-48h0m2-98h0m4 125h0m0 11h0m4-112h0m6-145h0m1 139h0m1-109h0m6 19h0m3 219h0m9-233h0m0 204h0m1 29h0m5-106h0m0 67h0m6-194h0m11 12h0m0 156h0m2-227h0m8 278h0m8-6h0m12-135h0m2 134h0m1-104h0m4-173h0m5 180h0m1-46h0" stroke="#8a5d63" opacity="0.42"/><path d="M295 393h0m2-6h0m4-11h0m9 6h0m2-11h0m0 14h0m1-13h0m2 38h0m1-41h0m2 12h0m0 18h0m1-27h0m1-1h0m1 4h0m1 18h0m0 5h0m4-16h0m2 0h0m0 5h0m6-29h0m0 25h0m0 23h0m2-31h0m4-6h0m0 26h0m1-18h0m1 5h0m2-29h0m1 35h0m2-11h0m0 6h0m1-12h0m1 21h0m4-2h0m1-14h0m3 5h0m0 13h0m1-29h0m0 9h0m1 27h0m1-28h0m2-1h0m0 11h0m1-3h0m0 1h0m1-18h0m2 15h0m3-10h0m2 24h0m2-20h0m0 7h0m0 5h0m2-14h0m0 13h0m1-4h0m0 8h0m2-4h0m1-38h0m0 16h0m1 16h0m1-15h0m0 11h0m1-4h0m0 29h0m1-26h0m0 24h0m1-43h0m1 4h0m0 2h0m0 2h0m1-12h0m1 25h0m0 15h0m1-26h0m0 30h0m3-36h0m0 2h0m0 25h0m2-9h0m1-9h0m3-19h0m0 29h0m1-12h0m0 10h0m2-39h0m0 12h0m0 16h0m0 11h0m0 12h0m1-24h0m0 11h0m0 1h0m1-10h0m0 2h0m1-14h0m0 12h0m0 11h0m0 3h0m2-17h0m0 21h0m2 3h0m1-25h0m1 14h0m1-11h0m0 23h0m1-38h0m1 40h0m1-51h0m1 14h0m1 19h0m0 13h0m1-10h0m2-30h0m2 14h0m0 13h0m1-4h0m1 20h0m2-20h0m0 4h0m1-7h0m0 10h0m1-7h0m1 0h0m1-13h0m0 8h0m2-8h0m0 8h0m1 11h0m2-10h0m1-2h0m1-14h0m0 11h0m1-10h0m0 2h0m0 5h0m2 6h0m0 9h0m0 3h0m1-4h0m0 9h0m1-14h0m0 8h0m1-8h0m1-10h0m0 19h0m1-6h0m3-17h0m1 11h0m0 3h0m1-3h0m0 17h0m1-19h0m0 2h0m1-6h0m0 1h0m0 34h0m1-35h0m0 1h0m0 18h0m1 1h0m1 0h0m2-26h0m1 2h0m2 10h0m1 18h0m1-19h0m1 0h0m1-26h0m3 33h0m1 6h0m1-27h0m1 12h0m1 12h0m4-32h0m0 24h0m3 5h0m2-3h0m0 6h0m1-19h0m0 7h0m0 2h0m0 3h0m2-20h0m1 1h0m1 17h0m1 3h0m1-11h0m2-3h0m1 4h0m1 22h0m1-18h0m1-13h0m2-13h0m1 27h0m1-23h0m0 30h0m0 1h0m2-22h0m2 19h0m6 7h0m1-31h0m2 25h0m0 1h0m3 1h0m1-24h0m2 5h0m0 2h0m2-10h0m2 21h0m1-14h0m6-15h0m2 20h0m0 36h0m5-30h0m1-12h0m0 40h0m2-42h0m1 14h0m0 1h0m16-38h0m2 37h0m1-4h0m1-16h0m17 8h0m3 24h0m3-18h0m1-15h0m9 22h0m1-9h0m1-34h0m0 40h0m2-23h0m1 14h0m1-54h0m0 41h0m3-14h0m5 20h0m0 10h0m7-5h0m3-17h0m8 29h0m1 0h0m0 5h0m3-7h0" stroke="#4a4545" opacity="0.5"/><path d="M285 396h0m3-12h0m5 4h0m7-19h0m0 6h0m4-5h0m0 30h0m4-29h0m1 15h0m0 11h0m0 14h0m1-30h0m7 6h0m1-8h0m0 21h0m2-18h0m1-9h0m0 12h0m3 5h0m0 3h0m2 2h0m1-27h0m1 6h0m0 16h0m1-2h0m1-5h0m0 10h0m2-12h0m1 15h0m2-25h0m5 14h0m4-18h0m1 1h0m0 15h0m1-6h0m4-4h0m0 9h0m0 8h0m0 2h0m1-19h0m1-9h0m0 3h0m0 11h0m1-4h0m1-3h0m0 9h0m1-15h0m3 21h0m2-23h0m1 35h0m1-41h0m0 10h0m0 9h0m1-5h0m0 10h0m1-15h0m0 6h0m0 6h0m0 24h0m1-48h0m0 8h0m0 8h0m1-6h0m0 1h0m1-8h0m2 31h0m7 7h0m2-45h0m1 1h0m1 10h0m1 12h0m1 1h0m1-4h0m0 16h0m1-4h0m0 19h0m1-38h0m1-3h0m0 10h0m0 1h0m0 4h0m1 2h0m0 1h0m2-31h0m0 15h0m0 7h0m1-1h0m1 13h0m0 4h0m1-31h0m0 5h0m1-11h0m0 12h0m0 25h0m1-37h0m0 11h0m0 34h0m1-23h0m0 15h0m1-19h0m1-14h0m1 22h0m1-9h0m0 9h0m0 5h0m2-18h0m1 7h0m0 6h0m1 10h0m3-2h0m1-7h0m1-24h0m2 11h0m0 8h0m1-11h0m1-21h0m0 16h0m1 13h0m0 6h0m1-14h0m1 3h0m0 5h0m0 3h0m1-15h0m1 11h0m0 12h0m0 4h0m1-29h0m0 15h0m1 4h0m1-17h0m0 13h0m0 1h0m1 7h0m1-27h0m0 26h0m0 3h0m1-32h0m0 16h0m0 19h0m1-17h0m0 2h0m3-23h0m0 22h0m1 0h0m3 13h0m1-18h0m1 2h0m0 20h0m1-34h0m1 3h0m0 19h0m3-6h0m1 1h0m0 17h0m4-34h0m1 14h0m1-8h0m0 12h0m1 1h0m0 19h0m1-17h0m2 13h0m1-43h0m0 4h0m0 14h0m1 2h0m1-4h0m0 9h0m1 11h0m1-23h0m1 1h0m3 3h0m0 9h0m0 5h0m1-25h0m2 4h0m0 23h0m1-14h0m0 10h0m1-19h0m2 11h0m1-27h0m0 36h0m2-34h0m0 21h0m0 12h0m1-28h0m0 13h0m1-16h0m5 21h0m1-5h0m0 4h0m1-8h0m0 10h0m1 6h0m2-18h0m1 12h0m1-5h0m1-7h0m0 12h0m0 5h0m0 1h0m3 1h0m3-24h0m2 34h0m1-14h0m2-15h0m3 2h0m3 9h0m1 12h0m1 40h0m7-46h0m3-23h0m1-4h0m1 26h0m0 5h0m5-26h0m1-37h0m3 26h0m2 16h0m1 3h0m2 2h0m8-38h0m2 48h0m3-25h0m15 17h0m7-13h0m2 3h0m0 11h0m1-27h0m2 1h0m2 9h0m4 23h0m5-33h0m12 22h0m4 13h0m1-20h0m1 33h0m3-41h0m12-8h0m11 1h0m4 26h0" stroke="#4a4545" opacity="0.5"/><path d="M292 402h0m7-6h0m4-18h0m5 6h0m1 0h0m2-12h0m1 24h0m2-29h0m0 19h0m1-17h0m1-16h0m2 31h0m1-12h0m1-3h0m3 24h0m0 5h0m1-4h0m2-6h0m1-31h0m2 1h0m1 1h0m1 8h0m1 14h0m3 0h0m1 2h0m0 2h0m3-11h0m0 3h0m1-2h0m6-8h0m0 30h0m2-15h0m0 11h0m1-26h0m0 4h0m1 1h0m1 15h0m2-27h0m0 15h0m0 15h0m1 1h0m1-18h0m1 10h0m1-3h0m1-11h0m1-3h0m0 26h0m1-17h0m0 13h0m0 4h0m1-12h0m1-4h0m0 13h0m0 1h0m0 5h0m2-27h0m1-1h0m0 19h0m2-21h0m1 1h0m1 13h0m2-10h0m0 9h0m3 18h0m1-19h0m0 28h0m4-42h0m0 12h0m0 4h0m1-4h0m0 17h0m2-34h0m0 2h0m1 23h0m2 2h0m1-31h0m1 5h0m0 24h0m1-35h0m1 53h0m1-53h0m0 29h0m1-22h0m0 12h0m0 2h0m1-20h0m0 17h0m0 1h0m1-21h0m0 9h0m0 45h0m2-34h0m0 23h0m2-28h0m1-5h0m1 3h0m1-2h0m1 7h0m0 9h0m1 7h0m1-3h0m1 1h0m1 1h0m1-6h0m1 0h0m0 1h0m1-14h0m1-13h0m0 23h0m0 8h0m1 4h0m1-16h0m1-7h0m0 10h0m1-1h0m1 19h0m1-33h0m0 27h0m2-17h0m0 8h0m2-3h0m0 5h0m1-8h0m1 5h0m0 4h0m1-19h0m0 4h0m0 2h0m1-1h0m0 8h0m1-12h0m0 15h0m3-13h0m1-9h0m0 27h0m1-33h0m0 9h0m1 12h0m1 4h0m0 12h0m1-11h0m0 2h0m1-12h0m0 1h0m0 2h0m1-3h0m1 1h0m1 18h0m0 1h0m0 1h0m1-18h0m1-27h0m0 15h0m1-6h0m0 15h0m0 17h0m1-11h0m1-22h0m0 30h0m1-29h0m1 19h0m2-3h0m0 1h0m1-18h0m0 8h0m1 0h0m0 16h0m1-20h0m4 0h0m0 15h0m1 3h0m1-19h0m2 13h0m1 10h0m1-4h0m2-14h0m2 6h0m1-18h0m0 15h0m3-10h0m0 1h0m0 29h0m1-26h0m0 16h0m2-11h0m1-5h0m3 14h0m4-16h0m0 3h0m0 11h0m1-21h0m1 29h0m0 3h0m0 15h0m1-20h0m2 5h0m1 0h0m1-16h0m6-11h0m0 14h0m2-21h0m0 41h0m1-19h0m4 4h0m1-9h0m2-24h0m0 11h0m1 9h0m0 12h0m1-22h0m2 21h0m4-13h0m0 7h0m0 1h0m3 3h0m0 5h0m3-8h0m1-5h0m2 31h0m4-72h0m1 46h0m2-7h0m9 23h0m3-49h0m2 44h0m3-32h0m8-7h0m4 5h0m6 4h0m6 13h0m7 7h0m1-19h0m3 24h0m5-13h0m8 3h0m2-55h0m0 45h0m2 36h0m3-51h0m7-5h0m4 23h0m5-24h0m4 31h0m6-12h0m5-22h0" stroke="#4a4545" opacity="0.5"/><path d="M292 389h0m1 2h0m5-10h0m1-14h0m2 30h0m6-15h0m1 24h0m1-21h0m1-11h0m0 17h0m1-15h0m3-9h0m2 9h0m2-7h0m0 19h0m3-19h0m11 11h0m0 5h0m1-6h0m5 11h0m2-33h0m0 14h0m1-6h0m0 17h0m2 23h0m3-29h0m1 6h0m1-12h0m1 14h0m1-5h0m3-1h0m0 3h0m1-18h0m1 6h0m3-2h0m0 7h0m2 20h0m2-21h0m1 7h0m1 4h0m2-22h0m0 17h0m1-21h0m0 2h0m1 16h0m1-11h0m1 14h0m0 11h0m2-21h0m0 7h0m1-23h0m0 21h0m0 21h0m2-17h0m0 5h0m0 16h0m1-12h0m2-26h0m0 9h0m0 5h0m0 4h0m0 6h0m3-36h0m0 21h0m2 3h0m1-14h0m1 20h0m0 17h0m1-19h0m0 1h0m0 3h0m1-17h0m0 10h0m0 9h0m1-17h0m0 12h0m1-6h0m0 1h0m2-2h0m1-11h0m2 7h0m1 17h0m1-28h0m1 7h0m1 5h0m1 11h0m1-24h0m0 2h0m0 16h0m2-4h0m0 12h0m0 1h0m1-10h0m0 6h0m1-21h0m1 14h0m0 14h0m1-14h0m1 9h0m2-21h0m0 8h0m1 10h0m1-7h0m0 3h0m2-15h0m0 17h0m1-8h0m2-10h0m1 3h0m0 8h0m0 4h0m1-21h0m0 20h0m0 1h0m4-33h0m0 29h0m0 3h0m0 3h0m2-7h0m0 7h0m1-9h0m0 3h0m1-15h0m0 19h0m1-23h0m1 21h0m0 6h0m1 4h0m1-12h0m1 3h0m1-25h0m0 7h0m0 7h0m0 4h0m1-13h0m0 12h0m0 14h0m1-19h0m1 3h0m0 6h0m1-4h0m1-11h0m1 3h0m0 29h0m1-10h0m1-8h0m1-17h0m0 7h0m1 1h0m3 10h0m1-13h0m0 11h0m1-2h0m0 5h0m2-34h0m0 23h0m2 4h0m2-4h0m0 25h0m1-52h0m0 9h0m3 31h0m0 2h0m1-14h0m2-18h0m1 4h0m0 23h0m1-5h0m0 24h0m1-29h0m1 6h0m1-21h0m0 6h0m1 25h0m1-3h0m2-21h0m0 11h0m1 15h0m1-27h0m1 20h0m2-28h0m4-11h0m0 24h0m0 12h0m1-9h0m0 1h0m0 18h0m1-19h0m1-5h0m2 0h0m1 29h0m1-2h0m1-35h0m0 3h0m0 42h0m1-41h0m0 11h0m0 3h0m1-2h0m1-37h0m0 38h0m1-6h0m4-5h0m1 3h0m0 6h0m2-11h0m2 0h0m6 2h0m1 14h0m7-34h0m3 15h0m3 0h0m3 13h0m2-17h0m2 3h0m1 27h0m1-52h0m6 64h0m2-47h0m1 22h0m3 1h0m2-21h0m4 15h0m2-12h0m1 25h0m5-4h0m10-1h0m1-12h0m1 15h0m2-13h0m3-37h0m3 29h0m1 28h0m3-45h0m2 18h0m4-9h0m4-47h0m2 46h0m1 22h0m5 1h0m2-24h0m15 26h0m3-38h0m2 34h0" stroke="#4a4545" opacity="0.5"/><path d="M287 373h0m9 10h0m1 21h0m7-12h0m1-7h0m2 12h0m1-31h0m0 31h0m5-9h0m0 12h0m6-15h0m2 9h0m3-22h0m2 7h0m6 4h0m3 23h0m1-7h0m3-21h0m4-24h0m1 43h0m1-23h0m3 22h0m3-18h0m0 10h0m2-20h0m0 15h0m0 2h0m1-15h0m4-3h0m1 17h0m2 1h0m2-3h0m0 33h0m3-53h0m1 12h0m0 4h0m0 14h0m1-29h0m0 10h0m0 14h0m2-13h0m1 7h0m1-28h0m1 26h0m2-6h0m0 3h0m0 7h0m0 21h0m2-49h0m0 10h0m1 11h0m2-5h0m0 7h0m0 3h0m1-7h0m1-5h0m3 0h0m1-14h0m0 2h0m0 2h0m0 17h0m1-9h0m1 2h0m0 8h0m1-10h0m0 4h0m0 3h0m0 6h0m5-15h0m1 0h0m1-2h0m0 3h0m0 4h0m0 3h0m1 9h0m2-8h0m1-5h0m3 6h0m0 19h0m2-41h0m1 2h0m0 7h0m1-33h0m1 10h0m0 16h0m0 6h0m0 20h0m1-6h0m1-9h0m0 8h0m0 32h0m1-36h0m1-10h0m0 7h0m1-12h0m0 7h0m0 15h0m2-15h0m1 20h0m2-27h0m0 6h0m1-9h0m0 4h0m1 12h0m1 10h0m0 15h0m1-30h0m1-6h0m0 25h0m1-25h0m1-6h0m0 6h0m1-3h0m1-14h0m0 16h0m0 3h0m0 7h0m0 1h0m0 10h0m2-24h0m0 17h0m1-38h0m0 31h0m1-4h0m0 28h0m1-24h0m0 12h0m1-15h0m0 3h0m0 15h0m2-21h0m1-11h0m0 10h0m1 21h0m0 6h0m0 3h0m2-21h0m0 10h0m1-39h0m0 33h0m1 3h0m2-9h0m1-12h0m0 4h0m0 17h0m1-21h0m0 1h0m0 28h0m2-25h0m2 8h0m0 2h0m0 4h0m0 2h0m0 3h0m2-23h0m0 3h0m1-8h0m1 23h0m0 14h0m1 6h0m1-50h0m2 19h0m1 6h0m0 9h0m1-43h0m0 17h0m0 18h0m3-5h0m0 21h0m1-22h0m1 14h0m3-20h0m1-16h0m3 10h0m1-3h0m0 4h0m2 5h0m1 2h0m2-14h0m1 18h0m0 14h0m1-32h0m2 18h0m3 5h0m3-15h0m0 19h0m1 14h0m2-4h0m1-43h0m2 20h0m2-4h0m2 5h0m1 6h0m2 1h0m3 7h0m2 5h0m1-32h0m0 18h0m1 7h0m1-16h0m3 10h0m0 7h0m1-32h0m2 4h0m2 23h0m1-10h0m2-21h0m1 30h0m6-33h0m0 10h0m1 8h0m2-7h0m0 12h0m5 7h0m1 11h0m3-12h0m3-15h0m2 6h0m6-30h0m1 28h0m1 3h0m5-11h0m4-29h0m0 10h0m1-1h0m5 38h0m1-10h0m3-37h0m8 44h0m2-63h0m1 30h0m0 18h0m1-11h0m3-4h0m4-11h0m2 49h0m1-48h0m8 33h0m1-33h0m4-5h0m6 33h0m3-22h0m5 8h0m2 8h0m2-7h0" stroke="#4a4545" opacity="0.5"/><path d="M304 362h0m4 20h0m3-10h0m4 23h0m1-23h0m1 7h0m2-4h0m1 14h0m6-28h0m1 25h0m1 2h0m1-16h0m0 19h0m1-4h0m1-20h0m0 11h0m3 4h0m2 11h0m1-6h0m1-14h0m0 4h0m0 7h0m2-9h0m0 7h0m3 10h0m1-34h0m3 18h0m1-12h0m0 10h0m1 7h0m1-8h0m0 11h0m1-11h0m0 3h0m0 3h0m0 6h0m0 4h0m1-16h0m0 10h0m6-19h0m0 9h0m2-12h0m0 35h0m1-31h0m1 29h0m0 3h0m2-12h0m0 9h0m0 6h0m1-48h0m2 20h0m0 8h0m2-9h0m0 11h0m2-13h0m1 13h0m1 0h0m0 5h0m1-28h0m0 22h0m2-30h0m1 13h0m2-11h0m0 14h0m3-30h0m1 24h0m0 22h0m2-7h0m0 2h0m1-9h0m0 9h0m0 12h0m3-53h0m0 19h0m0 12h0m0 5h0m1 0h0m0 14h0m2-19h0m0 18h0m1-28h0m0 25h0m2-31h0m2-8h0m0 31h0m2-25h0m0 2h0m0 13h0m1-13h0m0 18h0m0 3h0m0 3h0m2-14h0m1 8h0m2-14h0m0 7h0m1-7h0m3-2h0m0 17h0m1-29h0m0 31h0m0 6h0m1-40h0m1 6h0m3 14h0m0 14h0m1-20h0m0 1h0m0 21h0m2-25h0m0 3h0m1 18h0m1-30h0m0 19h0m1 4h0m1-18h0m0 26h0m2-25h0m0 14h0m0 9h0m0 4h0m1 3h0m0 4h0m1-32h0m1 14h0m0 17h0m1-10h0m2 8h0m2 0h0m1-23h0m0 30h0m1-32h0m0 12h0m1-24h0m0 13h0m0 8h0m1-3h0m0 6h0m1-8h0m0 28h0m1-21h0m0 4h0m0 8h0m1 0h0m1-8h0m2-17h0m1 0h0m0 6h0m0 11h0m0 16h0m1-39h0m1 21h0m0 2h0m0 6h0m2-40h0m0 34h0m2-3h0m1-10h0m0 42h0m1-25h0m0 4h0m1 5h0m2-25h0m0 8h0m0 3h0m3-3h0m1 1h0m0 4h0m2 2h0m1 1h0m1-23h0m1 11h0m1-16h0m0 5h0m1 4h0m1-9h0m0 2h0m2 10h0m0 21h0m1-18h0m1 5h0m1-25h0m2 10h0m1 6h0m0 1h0m0 3h0m2-12h0m1-14h0m0 21h0m1-2h0m0 17h0m1-22h0m0 4h0m2 11h0m0 22h0m2-23h0m6-4h0m1 2h0m1-22h0m3-24h0m0 22h0m0 20h0m2 3h0m2 2h0m1-2h0m2-2h0m1-30h0m2 27h0m2-22h0m3 8h0m1 11h0m6 0h0m0 6h0m1 15h0m4-34h0m1 25h0m0 20h0m4 1h0m1-40h0m2 12h0m3 34h0m1-50h0m1-12h0m3 46h0m1-36h0m1 32h0m7-20h0m12 15h0m6-22h0m0 41h0m1-68h0m2 45h0m5-33h0m2 5h0m4 28h0m3-4h0m1-21h0m7-2h0m2 31h0m5-42h0m1 53h0m9-39h0m3-14h0m6-8h0m4 60h0m4-36h0m3-24h0m1 9h0" stroke="#4a4545" opacity="0.5"/><path d="M333 312h0m3 109h0m6 29h0m7-13h0m2-137h0m2-46h0m15 185h0m5 7h0m5-143h0m5 54h0m10-28h0m14 106h0m1-34h0m4-275h0m1 324h0m13-135h0m1-142h0m1 82h0m13 52h0m9 120h0m2-235h0m4 169h0m5 70h0m5-294h0m0 258h0m0 46h0m1-191h0m16-95h0m1-60h0m6 241h0m6 103h0m6-349h0m11 360h0m1-279h0m5 123h0m3 36h0m6-107h0m5 214h0m11 4h0m3 0h0m4-30h0m5-338h0m8 161h0m6-167h0m2 196h0m6-57h0m6-12h0m0 136h0m14-235h0m3-55h0m14 376h0m8-280h0" stroke="#555" opacity="0.42"/><path d="M322 416h0m1-67h0m8-17h0m1 94h0m43-40h0m4 58h0m5-113h0m9 95h0m2-166h0m12 99h0m3 28h0m9 14h0m1-43h0m1-174h0m5-104h0m0 137h0m1-108h0m26 0h0m12 222h0m2-10h0m4 103h0m5-228h0m15 209h0m13-78h0m2-91h0m1 110h0m13-47h0m8 21h0m11-214h0m3 45h0m18 25h0m1-53h0m0 313h0m5-346h0m7-19h0m1 41h0m12 261h0m1-275h0m5 314h0m1 27h0m1 11h0m1-9h0m2-371h0m0 203h0m10-83h0m0 258h0m7-165h0m1 117h0m3 18h0m3-206h0m0 101h0" stroke="#555" opacity="0.42"/><path d="M325 236h0m9 84h0m10-31h0m3-78h0m1 199h0m17 27h0m4-70h0m1 64h0m5-69h0m1 40h0m1-154h0m2 81h0m11 82h0m1 15h0m2-55h0m8-319h0m4 335h0m10-247h0m1 200h0m22-176h0m6 243h0m19-159h0m7-153h0m2 333h0m4-368h0m1 145h0m9 49h0m3 147h0m2 33h0m13-150h0m11 152h0m6-384h0m2 35h0m2 287h0m1-62h0m2-32h0m1 76h0m2-5h0m3 74h0m13-124h0m3 78h0m4 65h0m5-27h0m10-270h0m8 128h0m10-158h0m14 307h0m7 12h0m6-1h0m1-162h0m5 10h0" stroke="#555" opacity="0.42"/><path d="M626 240h0m0 17h0m0 1h0m0 14h0m0 14h0m0 20h0m0 2h0m0 2h0m0 60h0m0 12h0m0 4h0m0 9h0m1-172h0m0 17h0m0 7h0m0 18h0m0 13h0m0 33h0m0 5h0m0 4h0m0 6h0m0 20h0m0 6h0m0 44h0m0 2h0m1-170h0m0 49h0m0 8h0m0 82h0m0 18h0m0 4h0m0 1h0m0 1h0" stroke="#444" opacity="0.42"/></g><rect x="238.3" y="210.4" width="50.4" height="72.2" fill="none" stroke="#b9566a" stroke-width="0.9"/><rect x="238.3" y="283.7" width="24.3" height="20.5" fill="none" stroke="#d98a9a" stroke-width="0.7"/><rect x="263.1" y="283.7" width="25.6" height="20.5" fill="none" stroke="#b82c40" stroke-width="0.8"/><rect x="226.6" y="210.4" width="10.1" height="95" fill="none" stroke="#666" stroke-width="1.1"/><path d="M225.4 207.1V333.4M225.4 333.4H352.4M225.4 217.7h-3.8M225.4 248.8h-3.8M225.4 282.8h-3.8M225.4 303.8h-3.8M225.4 325.1h-3.8" fill="none" stroke="#333" stroke-width="0.85"/><path d="M225.4 239.4h-1.9M225.4 234h-1.9M225.4 230.1h-1.9M225.4 227.1h-1.9M225.4 224.6h-1.9M225.4 222.5h-1.9M225.4 220.7h-1.9M225.4 219.1h-1.9M225.4 272.6h-1.9M225.4 266.6h-1.9M225.4 262.3h-1.9M225.4 259h-1.9M225.4 256.3h-1.9M225.4 254.1h-1.9M225.4 252.1h-1.9M225.4 250.4h-1.9M225.4 208.3h-1.9M225.4 286.1h-1.4M225.4 289.6h-1.4M225.4 293.1h-1.4M225.4 296.6h-1.4M225.4 300.1h-1.4M225.4 307.6h-1.4M225.4 311.1h-1.4M225.4 314.6h-1.4M225.4 318.1h-1.4M225.4 321.6h-1.4M225.4 328.6h-1.4M226 333.4v3.4M230.8 333.4v1.8M235.6 333.4v1.8M240.4 333.4v1.8M245.3 333.4v1.8M250.1 333.4v3.4M254.9 333.4v1.8M259.7 333.4v1.8M264.5 333.4v1.8M269.3 333.4v1.8M274.2 333.4v3.4M279 333.4v1.8M283.8 333.4v1.8M288.6 333.4v1.8M293.4 333.4v1.8M298.2 333.4v3.4M303 333.4v1.8M307.9 333.4v1.8M312.7 333.4v1.8M317.5 333.4v1.8M322.3 333.4v3.4M327.1 333.4v1.8M331.9 333.4v1.8M336.7 333.4v1.8M341.6 333.4v1.8M346.4 333.4v3.4M351.2 333.4v1.8" fill="none" stroke="#333" stroke-width="0.8"/><g font-size="3.9" fill="#a2a2a2" font-weight="400"><text x="220" y="219" text-anchor="end">10⁵</text><text x="220" y="250.1" text-anchor="end">10⁴</text><text x="220" y="284.1" text-anchor="end">10³</text><text x="220" y="305.1" text-anchor="end">0</text><text x="220" y="326.4" text-anchor="end">-10³</text><text x="226.5" y="342" text-anchor="middle">0</text><text x="250.6" y="342" text-anchor="middle">50K</text><text x="274.6" y="342" text-anchor="middle">100K</text><text x="298.7" y="342" text-anchor="middle">150K</text><text x="322.8" y="342" text-anchor="middle">200K</text><text x="346.9" y="342" text-anchor="middle">250K</text></g><path d="M243.5 310.9L246.4 304.8" stroke="#151515" stroke-width="0.8" fill="none"/><path d="M247.9 301.5L248.1 305.6L244.7 304Z" fill="#151515"/><path d="M278.3 310.9L275.8 305.3" stroke="#151515" stroke-width="0.8" fill="none"/><path d="M274.3 302L277.5 304.5L274 306.1Z" fill="#151515"/><g font-size="7.2" fill="#161616" stroke="#161616" stroke-width="0.3"><text x="241.6" y="218.4" fill="#3f1720" stroke="#3f1720">S: 2.02%</text><text x="299.1" y="219.1">&gt;4n: 13.14%</text><text x="242.7" y="318.4" text-anchor="middle">G1:</text><text x="242.1" y="328.9" text-anchor="middle">30.79%</text><text x="284.3" y="318.4" text-anchor="middle">G2/M:</text><text x="284.1" y="328.9" text-anchor="middle">39.97%</text><text transform="translate(233.7 238.1) rotate(-90)" text-anchor="middle">SubG1: 14.08%</text></g><text x="288.4" y="351.3" text-anchor="middle" font-size="9.8" stroke="#111" stroke-width="0.3">7AAD</text><text transform="translate(210.8 273.8) rotate(-90)" text-anchor="middle" font-size="9.6" stroke="#111" stroke-width="0.3">APC - BrdU</text><text x="288.3" y="198.7" text-anchor="middle" font-size="16.7" stroke="#111" stroke-width="0.3">Doxo 96 h</text></g>
<g><path d="M408.6 205.6H535.6V333.4" fill="none" stroke="#d6d6d6" stroke-width="0.8"/><rect x="478.3" y="210.3" width="54" height="94.1" fill="#f7f7f7" stroke="#ececec" stroke-width="0.7"/><rect x="422.1" y="210.4" width="50.4" height="67.1" fill="#bcd0b4" stroke="none" stroke-width="0"/><rect x="422.1" y="279.1" width="24.3" height="25.1" fill="#ebf7e4" stroke="none" stroke-width="0"/><rect x="446.9" y="279.1" width="25.6" height="25.1" fill="#b8e39f" stroke="none" stroke-width="0"/><rect x="410.4" y="210.4" width="10.1" height="95" fill="#cbcbcb" stroke="none" stroke-width="0"/><g class="d" fill="none" stroke-linecap="round" stroke-width="5" transform="translate(409.9 210.1) scale(0.2)"><path d="M-1 468h0m0 1h0m0 2h0m0 5h0m1-13h0m0 1h0m0 4h0m0 4h0m0 2h0m1 0h0m0 6h0m2-12h0m0 1h0m1-3h0m1-1h0m0 9h0m0 4h0m1-14h0m0 3h0m0 7h0m0 8h0m1-14h0m0 5h0m0 5h0m2 0h0m1-6h0m1-9h0m0 2h0m0 7h0m1-8h0m0 4h0m2 1h0m1-4h0m0 5h0" stroke="#111" opacity="0.5"/><path d="M-1 467h0m2-4h0m0 6h0m0 2h0m1 1h0m0 2h0m0 3h0m1-10h0m0 5h0m1-11h0m0 9h0m1-1h0m0 4h0m0 2h0m1-9h0m0 1h0m1-8h0m0 14h0m0 6h0m1-8h0m0 3h0m1-11h0m0 12h0m1-9h0m1-3h0m2 7h0m1-11h0m0 9h0m1 5h0m1-6h0m1 1h0m3-3h0m0 3h0" stroke="#111" opacity="0.5"/><path d="M-1 473h0m5-3h0m1 2h0m1-7h0m0 5h0m0 1h0m1-1h0m1-6h0m2 6h0m0 5h0m1-5h0m1 1h0m0 3h0m1-7h0m1 2h0m2-6h0m0 2h0m1 4h0m3-9h0m8 8h0m1-15h0m1 2h0m2 0h0m1 10h0m0 2h0m3-10h0m2-7h0m0 1h0m2 1h0m1 1h0m1-6h0m1 11h0m2-9h0m1 4h0m1-5h0m14 7h0" stroke="#222" opacity="0.5"/><path d="M2 470h0m0 5h0m1-3h0m0 2h0m1-10h0m0 7h0m1 0h0m2 1h0m2 1h0m2-7h0m1 1h0m6-3h0m3 4h0m0 2h0m4-2h0m3-7h0m0 4h0m2-10h0m0 6h0m1-3h0m3-4h0m0 5h0m1-7h0m1 8h0m1-6h0m2-1h0m3 8h0m2-12h0m1-11h0m0 13h0m0 2h0m1 11h0m1-13h0m4-6h0m7 8h0" stroke="#222" opacity="0.5"/><path d="M76 433h0m3 4h0m1-6h0m1-2h0m1-13h0m1-5h0m0 17h0m2 4h0m1-14h0m0 9h0m0 14h0m1-25h0m0 22h0m1-30h0m1 32h0m2-32h0m1 33h0m1-18h0m0 6h0m1-10h0m0 7h0m1-16h0m0 2h0m2-3h0m0 1h0m0 13h0m0 9h0m0 4h0m1-15h0m0 7h0m1-20h0m0 14h0m0 18h0m1-27h0m0 1h0m0 8h0m0 1h0m0 1h0m1-26h0m0 1h0m0 13h0m0 1h0m1 1h0m0 4h0m0 4h0m1-21h0m0 15h0m0 9h0m1-21h0m0 14h0m0 13h0m0 2h0m1-26h0m0 3h0m0 11h0m0 14h0m1-18h0m0 14h0m1-11h0m0 7h0m0 3h0m0 3h0m1-34h0m0 4h0m0 7h0m0 4h0m1-15h0m0 9h0m0 10h0m0 7h0m0 7h0m1-32h0m0 2h0m0 9h0m0 2h0m0 3h0m0 10h0m1-21h0m0 7h0m0 12h0m0 5h0m1-33h0m0 18h0m0 3h0m0 6h0m0 1h0m0 12h0m1-33h0m0 3h0m0 5h0m0 6h0m1-20h0m0 6h0m0 2h0m0 1h0m0 2h0m0 7h0m0 6h0m0 11h0m1-30h0m0 2h0m0 8h0m0 1h0m0 1h0m0 1h0m0 5h0m0 5h0m1-26h0m0 3h0m0 2h0m0 5h0m0 12h0m0 8h0m0 3h0m1-37h0m0 3h0m0 27h0m0 1h0m0 2h0m0 5h0m2-24h0m0 18h0m1-28h0m0 3h0m0 9h0m0 3h0m0 7h0m1-22h0m0 8h0m0 7h0m0 1h0m0 5h0m0 1h0m0 17h0m1-30h0m0 3h0m0 2h0m0 12h0m0 13h0m1-49h0m0 1h0m0 21h0m0 14h0m1-31h0m0 2h0m0 8h0m0 1h0m0 7h0m0 4h0m0 10h0m1-23h0m0 7h0m0 1h0m0 1h0m0 1h0m0 1h0m0 2h0m1-15h0m0 3h0m0 11h0m0 12h0m1-42h0m0 16h0m0 2h0m0 2h0m0 7h0m0 21h0m1-43h0m0 1h0m0 12h0m0 17h0m0 7h0m1-39h0m0 9h0m0 1h0m0 2h0m0 1h0m0 2h0m0 1h0m0 22h0m1-28h0m0 3h0m0 8h0m0 5h0m0 1h0m0 3h0m0 5h0m1-36h0m0 8h0m0 2h0m0 5h0m0 8h0m0 1h0m0 17h0m1-33h0m0 8h0m0 1h0m0 6h0m0 6h0m0 15h0m1-22h0m0 5h0m0 1h0m1-27h0m0 7h0m0 12h0m0 1h0m0 4h0m0 2h0m0 2h0m0 7h0m1-28h0m0 1h0m0 4h0m0 10h0m0 13h0m1-41h0m0 7h0m0 11h0m0 2h0m0 11h0m0 6h0m1-23h0m0 6h0m0 21h0m1-27h0m0 21h0m1-36h0m0 9h0m0 13h0m0 8h0m0 2h0m0 1h0m0 2h0m0 6h0m1-35h0m0 4h0m0 13h0m0 3h0m0 2h0m0 12h0m1-21h0m0 7h0m0 4h0m1 2h0m0 1h0m0 6h0m2-19h0m0 1h0m0 3h0m0 8h0m0 7h0m1-21h0m0 1h0m1-6h0m0 11h0m0 3h0m0 9h0m1-30h0m0 14h0m0 7h0m1 1h0m0 16h0m1-48h0m0 10h0m0 30h0m0 6h0m1-31h0m0 13h0m0 5h0m0 2h0m0 1h0m1-15h0m0 13h0m1-15h0m0 9h0m0 18h0m1-33h0m0 14h0m0 4h0m1-25h0m0 19h0m1-15h0m0 10h0m0 9h0m1-16h0m0 3h0m0 1h0m0 10h0m0 5h0m1-20h0m0 7h0m0 9h0m1-22h0m0 7h0m1-13h0m0 16h0m1-7h0m0 1h0m0 14h0m1-1h0m1-11h0m0 4h0m0 20h0m1-25h0m1 17h0m1-26h0m0 3h0m1 14h0m0 5h0m1-19h0m0 18h0m3-13h0m0 2h0m0 4h0m1-9h0m0 9h0m0 3h0m6 2h0m3-9h0m0 6h0" stroke="#47603f" opacity="0.5"/><path d="M80 426h0m0 11h0m1-23h0m0 15h0m2-15h0m0 12h0m0 5h0m1-12h0m0 16h0m1-3h0m0 1h0m0 3h0m2-20h0m1 18h0m1-5h0m1-19h0m0 10h0m1 9h0m0 12h0m2-2h0m1-18h0m0 9h0m1-6h0m0 8h0m1-22h0m0 2h0m0 12h0m0 8h0m1-23h0m0 4h0m0 22h0m1-33h0m0 2h0m0 17h0m1 3h0m0 15h0m1-37h0m1 1h0m0 8h0m0 1h0m0 24h0m1-37h0m0 12h0m0 3h0m1 4h0m0 1h0m0 4h0m1-10h0m0 7h0m0 4h0m0 2h0m0 8h0m1-30h0m0 2h0m0 4h0m0 7h0m0 4h0m0 9h0m1-20h0m0 21h0m0 2h0m1-31h0m0 3h0m0 21h0m0 1h0m1-20h0m0 3h0m0 15h0m0 4h0m0 10h0m1-38h0m0 14h0m0 17h0m1-42h0m0 6h0m0 7h0m0 9h0m0 16h0m1-32h0m0 15h0m0 6h0m0 2h0m0 3h0m0 3h0m1-22h0m0 8h0m0 1h0m0 8h0m1-20h0m0 16h0m0 3h0m0 15h0m0 2h0m1-36h0m0 15h0m0 1h0m0 14h0m1-25h0m0 4h0m0 1h0m0 13h0m0 4h0m0 1h0m0 7h0m1-33h0m0 3h0m0 2h0m0 4h0m0 20h0m1-27h0m0 3h0m0 6h0m1-3h0m0 7h0m0 5h0m0 17h0m1-49h0m0 7h0m0 7h0m0 4h0m0 1h0m0 3h0m1-4h0m0 12h0m0 16h0m1-51h0m0 25h0m0 18h0m1-35h0m0 15h0m0 4h0m0 13h0m1-25h0m0 1h0m0 6h0m0 9h0m0 10h0m1-34h0m0 11h0m0 10h0m0 3h0m0 11h0m0 10h0m1-46h0m0 5h0m0 4h0m0 5h0m0 3h0m0 4h0m0 7h0m1-30h0m0 6h0m0 9h0m0 28h0m1-32h0m0 5h0m0 8h0m0 2h0m0 11h0m0 3h0m1-17h0m0 1h0m0 4h0m0 10h0m1-44h0m0 11h0m0 17h0m0 17h0m1-38h0m0 10h0m0 4h0m0 5h0m0 2h0m0 17h0m1-25h0m0 14h0m0 2h0m0 4h0m0 10h0m1-13h0m1-12h0m0 5h0m0 7h0m1-32h0m0 11h0m0 34h0m1-43h0m0 4h0m0 9h0m0 10h0m1-9h0m0 4h0m0 1h0m1-3h0m0 4h0m0 4h0m1-8h0m0 1h0m0 9h0m0 2h0m0 2h0m1-31h0m0 7h0m0 4h0m0 11h0m0 6h0m0 12h0m1-37h0m0 8h0m0 3h0m1-2h0m0 2h0m0 4h0m0 1h0m0 5h0m1-29h0m0 3h0m0 3h0m0 7h0m0 11h0m0 12h0m1-22h0m0 8h0m0 7h0m0 6h0m0 2h0m1-21h0m0 3h0m0 10h0m1-19h0m0 18h0m1-5h0m0 6h0m0 6h0m1-23h0m0 6h0m0 11h0m1-20h0m0 4h0m0 2h0m0 7h0m0 15h0m1-32h0m0 3h0m0 2h0m0 1h0m0 5h0m0 4h0m0 6h0m1-18h0m0 10h0m0 4h0m0 7h0m0 12h0m1-42h0m0 8h0m0 2h0m0 16h0m1-20h0m0 9h0m0 20h0m1-29h0m0 6h0m0 9h0m0 1h0m0 4h0m0 2h0m0 7h0m1-33h0m0 2h0m0 1h0m0 4h0m0 8h0m0 6h0m0 6h0m0 9h0m0 2h0m1-35h0m0 11h0m0 9h0m1-18h0m0 23h0m0 7h0m1-29h0m0 8h0m0 7h0m0 7h0m1-21h0m0 2h0m0 4h0m0 4h0m0 2h0m0 4h0m0 5h0m1-30h0m0 8h0m0 1h0m0 22h0m0 3h0m1-21h0m0 23h0m2-29h0m0 13h0m1-12h0m1-13h0m1 30h0m2-12h0m1-3h0m0 5h0m0 2h0m0 11h0m1 0h0m1-20h0m0 3h0m0 5h0m0 9h0m1-4h0m2-19h0m0 3h0m2 11h0m4-13h0m0 6h0" stroke="#47603f" opacity="0.5"/><path d="M76 425h0m2 11h0m1-11h0m1-5h0m3 9h0m2-7h0m2 2h0m1-10h0m0 19h0m1-3h0m0 1h0m1-10h0m1-11h0m0 18h0m2-21h0m0 3h0m0 3h0m1 0h0m0 19h0m0 6h0m1-31h0m0 6h0m0 5h0m0 2h0m1 17h0m1-31h0m0 27h0m1-10h0m0 1h0m1-17h0m0 16h0m1-7h0m1-7h0m0 7h0m0 3h0m1-10h0m0 4h0m0 4h0m0 1h0m1-13h0m0 23h0m0 2h0m0 12h0m1-37h0m0 17h0m0 12h0m1-39h0m0 6h0m0 2h0m0 3h0m0 13h0m0 3h0m0 19h0m0 1h0m1-32h0m0 3h0m0 3h0m0 5h0m0 2h0m0 4h0m0 1h0m0 3h0m1-24h0m0 8h0m0 4h0m0 4h0m0 8h0m0 5h0m1-39h0m0 7h0m0 5h0m0 1h0m1-13h0m0 2h0m0 15h0m0 8h0m1-7h0m0 8h0m0 1h0m0 16h0m1-36h0m0 7h0m0 3h0m0 4h0m0 16h0m1-31h0m0 3h0m0 10h0m1-22h0m0 6h0m0 13h0m0 1h0m1-19h0m0 3h0m0 13h0m0 17h0m1-22h0m0 2h0m0 3h0m0 10h0m0 2h0m0 5h0m1-29h0m0 28h0m0 7h0m0 1h0m1-40h0m0 5h0m0 22h0m1-32h0m0 19h0m0 3h0m0 7h0m0 3h0m0 6h0m1-39h0m0 13h0m0 8h0m0 8h0m0 11h0m1-33h0m0 12h0m0 1h0m0 1h0m0 13h0m1-18h0m0 14h0m1-25h0m0 5h0m0 11h0m0 12h0m0 11h0m1-36h0m0 1h0m0 2h0m0 9h0m0 1h0m0 2h0m0 6h0m1-34h0m0 17h0m0 3h0m0 1h0m0 4h0m0 3h0m0 7h0m0 6h0m1-19h0m0 1h0m0 1h0m0 1h0m0 14h0m0 8h0m1-20h0m0 15h0m1-25h0m0 23h0m0 5h0m1-34h0m0 1h0m0 14h0m0 1h0m0 9h0m1-27h0m0 1h0m0 8h0m0 3h0m0 15h0m1-8h0m0 10h0m0 4h0m0 4h0m1-16h0m0 18h0m1-42h0m0 5h0m0 1h0m0 6h0m0 4h0m0 5h0m0 1h0m0 4h0m0 3h0m0 2h0m0 5h0m1-36h0m0 8h0m0 4h0m0 1h0m0 15h0m0 5h0m1-42h0m0 11h0m0 10h0m0 11h0m0 6h0m1-22h0m0 1h0m0 9h0m1-14h0m0 5h0m0 5h0m0 5h0m0 1h0m0 7h0m1-22h0m0 6h0m0 1h0m0 9h0m0 8h0m0 12h0m1-50h0m0 11h0m0 19h0m0 18h0m1-26h0m0 6h0m0 3h0m1-26h0m0 14h0m0 6h0m0 1h0m0 1h0m0 14h0m1-24h0m0 13h0m0 6h0m0 3h0m1-34h0m0 21h0m0 4h0m0 19h0m1-37h0m0 2h0m0 5h0m0 1h0m0 2h0m0 2h0m0 7h0m0 8h0m1-26h0m0 3h0m0 9h0m0 1h0m0 3h0m0 2h0m0 11h0m1-25h0m0 11h0m0 3h0m1-25h0m0 3h0m0 6h0m0 12h0m0 1h0m0 14h0m1-29h0m0 19h0m1-19h0m0 4h0m0 6h0m0 4h0m1-17h0m0 14h0m1-20h0m0 7h0m0 5h0m0 11h0m0 6h0m1-31h0m0 2h0m0 8h0m0 16h0m1-21h0m0 7h0m0 4h0m0 4h0m1 6h0m0 3h0m0 6h0m0 1h0m1-26h0m0 1h0m0 3h0m1-5h0m0 13h0m1-25h0m0 15h0m0 7h0m0 5h0m1-17h0m1 7h0m1-4h0m1 6h0m0 20h0m1-24h0m1 5h0m1-4h0m0 19h0m1-25h0m0 11h0m1-20h0m1 26h0m0 2h0m1-13h0m1-16h0m0 14h0m2 5h0m0 4h0m2-20h0m1 1h0m1 2h0m1-1h0m0 5h0m0 9h0m1-16h0m0 11h0m1-1h0m1 4h0m2-9h0" stroke="#47603f" opacity="0.5"/><path d="M75 424h0m1 10h0m3 1h0m3-23h0m0 2h0m0 14h0m0 9h0m2-17h0m1 8h0m1-7h0m0 15h0m0 4h0m1-5h0m1-6h0m2 1h0m1-15h0m1 7h0m1-11h0m0 10h0m0 6h0m1-5h0m0 4h0m0 10h0m1-24h0m0 1h0m1-9h0m0 33h0m0 5h0m1-35h0m1-2h0m0 10h0m0 17h0m1-14h0m0 9h0m1-20h0m0 5h0m0 8h0m0 13h0m1-11h0m1-18h0m0 14h0m1-2h0m0 4h0m0 1h0m1-21h0m0 7h0m0 1h0m0 22h0m1-13h0m1-16h0m0 1h0m0 6h0m0 4h0m0 7h0m1-12h0m0 2h0m0 8h0m1-7h0m0 1h0m0 15h0m1-16h0m0 2h0m0 1h0m0 9h0m0 10h0m0 7h0m1-33h0m0 2h0m0 4h0m0 1h0m0 5h0m0 9h0m1-14h0m0 6h0m0 2h0m0 3h0m0 16h0m1-42h0m0 6h0m0 10h0m0 5h0m0 9h0m1-28h0m0 8h0m0 2h0m0 2h0m0 12h0m1-30h0m0 17h0m0 5h0m1-21h0m1 7h0m0 6h0m0 7h0m0 23h0m1-46h0m0 24h0m0 9h0m0 13h0m1-47h0m0 17h0m0 29h0m1-28h0m0 15h0m1-11h0m0 2h0m0 4h0m1 3h0m0 1h0m1-1h0m0 10h0m0 1h0m1-37h0m0 10h0m0 8h0m0 2h0m0 4h0m1-14h0m0 1h0m0 4h0m0 2h0m0 4h0m1-19h0m0 10h0m0 2h0m0 11h0m0 5h0m0 7h0m1-30h0m0 4h0m0 3h0m0 1h0m0 8h0m0 2h0m0 2h0m0 13h0m1-50h0m0 4h0m0 7h0m0 1h0m0 12h0m0 1h0m0 3h0m0 1h0m1-16h0m0 5h0m0 2h0m0 12h0m0 1h0m0 1h0m0 12h0m1-29h0m0 3h0m0 3h0m0 9h0m1-20h0m0 9h0m0 2h0m0 1h0m0 1h0m0 3h0m0 9h0m1-19h0m0 1h0m0 1h0m0 2h0m0 1h0m0 6h0m0 1h0m0 1h0m0 7h0m0 10h0m2-35h0m0 1h0m0 9h0m0 3h0m0 5h0m0 5h0m1-20h0m0 2h0m0 1h0m0 4h0m0 4h0m0 6h0m1-29h0m0 17h0m0 1h0m0 1h0m0 10h0m1-24h0m0 10h0m0 13h0m1-30h0m0 12h0m0 1h0m0 2h0m0 1h0m0 2h0m0 1h0m0 1h0m0 5h0m0 2h0m0 9h0m1-24h0m0 5h0m0 4h0m0 10h0m1-26h0m0 5h0m0 2h0m0 2h0m1-8h0m0 7h0m0 9h0m0 11h0m1-26h0m0 22h0m0 10h0m1-21h0m0 10h0m0 9h0m1-39h0m0 11h0m1 4h0m0 3h0m0 4h0m0 6h0m0 1h0m0 8h0m1-39h0m0 16h0m0 2h0m0 6h0m0 6h0m1-16h0m0 16h0m1-9h0m0 1h0m0 1h0m0 2h0m0 7h0m0 4h0m1-18h0m0 15h0m0 2h0m1-36h0m0 5h0m0 11h0m0 1h0m0 2h0m0 6h0m0 3h0m1-13h0m0 12h0m1-30h0m0 5h0m0 6h0m0 6h0m0 20h0m1-16h0m0 14h0m1-26h0m0 6h0m0 13h0m1-28h0m0 21h0m0 1h0m0 12h0m1-32h0m0 30h0m1-12h0m0 13h0m0 3h0m0 2h0m1-30h0m0 9h0m0 6h0m0 3h0m0 2h0m0 2h0m1-14h0m0 8h0m0 1h0m0 8h0m1-26h0m0 4h0m0 12h0m1-15h0m0 2h0m0 11h0m0 10h0m1-21h0m0 1h0m0 4h0m0 10h0m0 8h0m1-20h0m0 3h0m0 6h0m1-20h0m0 22h0m0 1h0m2-23h0m0 4h0m0 13h0m1-2h0m0 5h0m2-6h0m0 5h0m0 4h0m0 5h0m1-11h0m1-20h0m1 17h0m0 12h0m0 1h0m1 0h0m2-14h0m1-5h0m3-5h0m1 4h0" stroke="#47603f" opacity="0.5"/><path d="M76 435h0m3-4h0m0 5h0m2-16h0m0 6h0m1-4h0m1 9h0m1-14h0m0 7h0m0 2h0m1 3h0m2-10h0m1-14h0m0 3h0m1 5h0m1 11h0m1-12h0m0 6h0m0 4h0m1 3h0m0 8h0m2-19h0m1-4h0m0 2h0m0 2h0m0 7h0m0 15h0m1-25h0m0 21h0m0 6h0m1-6h0m1-32h0m0 7h0m1 7h0m0 3h0m0 5h0m1-13h0m0 13h0m1-22h0m0 2h0m0 26h0m0 6h0m1-24h0m0 3h0m0 1h0m0 1h0m0 9h0m0 8h0m1-27h0m0 12h0m0 8h0m0 16h0m1-29h0m0 5h0m0 1h0m0 2h0m1-7h0m0 19h0m1-35h0m0 6h0m0 8h0m0 6h0m0 14h0m1-23h0m1-9h0m0 12h0m0 5h0m0 1h0m1-15h0m0 9h0m0 6h0m0 10h0m1-29h0m0 7h0m0 1h0m0 8h0m0 4h0m0 16h0m1-7h0m1-31h0m0 5h0m0 15h0m0 1h0m0 11h0m1-27h0m0 13h0m1 7h0m0 7h0m1-31h0m0 5h0m0 2h0m0 11h0m0 11h0m0 1h0m0 4h0m1-41h0m0 3h0m0 9h0m0 4h0m0 15h0m0 1h0m0 6h0m0 1h0m1-33h0m0 4h0m0 3h0m0 1h0m0 4h0m0 13h0m0 14h0m1-39h0m0 3h0m0 3h0m0 10h0m0 8h0m0 9h0m1-42h0m0 8h0m0 8h0m0 5h0m0 16h0m1-27h0m0 5h0m0 4h0m0 4h0m0 1h0m0 5h0m0 13h0m1-33h0m0 5h0m0 4h0m0 14h0m0 7h0m0 1h0m1-30h0m0 13h0m0 2h0m0 5h0m0 6h0m1-15h0m0 10h0m1-25h0m0 3h0m0 1h0m0 21h0m0 15h0m1-31h0m0 14h0m1-30h0m0 2h0m0 13h0m0 1h0m0 21h0m1-23h0m0 4h0m0 4h0m0 21h0m1-35h0m0 14h0m0 9h0m1-13h0m0 5h0m0 4h0m0 5h0m0 7h0m1-34h0m0 7h0m0 1h0m0 13h0m0 1h0m0 9h0m1-32h0m0 4h0m0 14h0m1-7h0m0 10h0m0 10h0m0 10h0m1-31h0m0 2h0m0 4h0m0 4h0m0 3h0m0 12h0m1-31h0m0 3h0m0 17h0m1-12h0m0 1h0m0 9h0m0 3h0m0 4h0m0 11h0m1-39h0m0 8h0m0 3h0m0 14h0m1-17h0m0 19h0m1-26h0m0 5h0m0 2h0m0 7h0m0 5h0m0 12h0m1-28h0m0 4h0m0 3h0m0 4h0m0 13h0m1-39h0m0 4h0m0 16h0m0 4h0m0 4h0m0 2h0m0 4h0m0 10h0m1-27h0m0 10h0m1-14h0m0 1h0m0 8h0m0 7h0m0 2h0m0 2h0m1-17h0m0 7h0m0 11h0m1-11h0m0 1h0m0 3h0m1-17h0m0 11h0m0 4h0m0 9h0m0 7h0m1-39h0m0 8h0m0 7h0m0 2h0m0 1h0m0 13h0m0 4h0m1-19h0m0 8h0m0 5h0m0 1h0m0 3h0m1-21h0m0 10h0m0 19h0m0 3h0m1-34h0m0 3h0m1 8h0m1-6h0m0 8h0m0 13h0m1-29h0m0 10h0m1-12h0m0 2h0m0 3h0m0 4h0m0 9h0m0 2h0m0 3h0m0 1h0m0 9h0m1-30h0m0 11h0m1-19h0m0 29h0m0 2h0m1-36h0m0 7h0m0 1h0m0 4h0m0 14h0m0 12h0m0 3h0m1-18h0m0 2h0m0 2h0m0 1h0m0 1h0m1-7h0m1-16h0m1 22h0m0 2h0m0 6h0m1-30h0m0 8h0m0 2h0m0 5h0m0 14h0m1-22h0m1 12h0m0 10h0m3-22h0m0 2h0m1-6h0m0 2h0m0 3h0m0 2h0m1 6h0m1-12h0m0 1h0m1 15h0m2-24h0m0 6h0m1 16h0m2-9h0" stroke="#47603f" opacity="0.5"/><path d="M76 427h0m0 1h0m1-5h0m1-3h0m1 10h0m2-15h0m0 17h0m3 2h0m1-18h0m0 20h0m3-11h0m0 3h0m0 3h0m1-22h0m0 2h0m1-6h0m0 1h0m0 24h0m1-12h0m1-14h0m0 12h0m0 6h0m0 15h0m1-3h0m1-3h0m2-10h0m1 7h0m1-10h0m0 5h0m1-13h0m0 9h0m0 7h0m0 14h0m1-32h0m0 13h0m0 1h0m0 1h0m0 2h0m0 16h0m1-33h0m0 3h0m0 30h0m1-23h0m0 4h0m1-14h0m0 1h0m0 9h0m0 20h0m2-38h0m0 26h0m0 3h0m0 1h0m1-18h0m0 2h0m0 9h0m0 4h0m1-25h0m0 9h0m0 22h0m0 3h0m1-21h0m0 1h0m0 3h0m0 1h0m1-10h0m0 9h0m0 13h0m0 9h0m1-37h0m0 2h0m0 4h0m0 1h0m0 5h0m0 3h0m0 4h0m0 6h0m0 1h0m0 6h0m1-27h0m0 16h0m1-17h0m0 1h0m0 12h0m0 9h0m1-6h0m0 11h0m1-39h0m0 10h0m0 8h0m0 1h0m0 10h0m0 12h0m1-33h0m0 13h0m0 6h0m0 1h0m1-17h0m0 1h0m0 3h0m0 5h0m0 7h0m0 1h0m0 6h0m1-12h0m0 9h0m0 2h0m1-42h0m0 1h0m0 13h0m0 10h0m0 9h0m0 1h0m0 7h0m1-16h0m0 4h0m0 8h0m0 3h0m1-20h0m0 12h0m0 4h0m0 12h0m1-37h0m0 1h0m0 2h0m0 26h0m1-21h0m0 3h0m0 1h0m0 22h0m1-32h0m0 10h0m0 5h0m0 9h0m1-35h0m0 13h0m0 2h0m0 2h0m0 2h0m0 1h0m0 3h0m0 11h0m0 4h0m0 5h0m1-44h0m0 9h0m0 6h0m0 1h0m0 3h0m0 8h0m0 8h0m0 1h0m0 3h0m1-19h0m0 5h0m0 3h0m0 7h0m1-33h0m0 14h0m0 12h0m0 3h0m0 2h0m1-22h0m0 3h0m0 5h0m0 3h0m0 14h0m1-33h0m0 1h0m0 4h0m0 1h0m0 8h0m0 4h0m0 1h0m1-9h0m0 7h0m1-3h0m0 2h0m0 2h0m0 4h0m1-12h0m1-14h0m0 16h0m0 5h0m0 1h0m0 2h0m0 2h0m0 2h0m0 3h0m0 10h0m1-35h0m0 4h0m0 9h0m0 6h0m1-4h0m0 1h0m0 7h0m1-27h0m0 15h0m0 4h0m0 3h0m0 1h0m1-30h0m0 6h0m0 19h0m0 10h0m0 2h0m0 3h0m0 3h0m1-22h0m0 10h0m0 11h0m0 6h0m1-44h0m0 13h0m0 2h0m0 1h0m0 13h0m0 5h0m0 6h0m1-23h0m0 9h0m0 3h0m1-30h0m0 13h0m0 20h0m1-35h0m0 7h0m0 5h0m0 2h0m0 4h0m0 1h0m0 1h0m0 7h0m0 1h0m0 2h0m1-24h0m0 4h0m1 0h0m0 14h0m0 3h0m0 3h0m0 1h0m0 1h0m1-21h0m0 12h0m0 5h0m0 6h0m1-21h0m0 3h0m1 0h0m0 9h0m1 3h0m1-16h0m0 2h0m0 13h0m1-22h0m0 24h0m1-34h0m0 37h0m0 3h0m1-29h0m0 2h0m0 3h0m0 2h0m0 1h0m0 21h0m1-14h0m1-24h0m0 8h0m0 5h0m0 4h0m0 5h0m0 1h0m0 3h0m1-15h0m0 6h0m0 12h0m1-31h0m0 18h0m1 1h0m0 2h0m0 12h0m0 9h0m0 1h0m1-36h0m0 7h0m0 13h0m1-20h0m0 13h0m0 3h0m0 12h0m1-16h0m0 4h0m1-8h0m0 4h0m1-11h0m0 16h0m2-7h0m0 16h0m2-22h0m0 6h0m1-10h0m0 6h0m0 11h0m1-24h0m0 10h0m0 20h0m1-20h0m0 3h0m2 3h0m2-10h0m0 22h0m2-10h0m0 1h0m5-7h0" stroke="#47603f" opacity="0.5"/><path d="M180 392h0m4-7h0m1 17h0m2-16h0m8 13h0m1 8h0m1-13h0m5-3h0m0 36h0m4-38h0m3-5h0m6-14h0m2 10h0m1-5h0m0 19h0m0 7h0m2-8h0m3-7h0m0 11h0m1-23h0m0 4h0m1-1h0m1-12h0m0 9h0m2 19h0m2 1h0m1-16h0m2-9h0m2 15h0m0 11h0m0 2h0m1-32h0m0 3h0m0 17h0m0 11h0m1-21h0m0 3h0m2 12h0m0 10h0m1-37h0m0 35h0m0 15h0m1-26h0m0 15h0m2-30h0m1-15h0m0 7h0m1 9h0m0 9h0m1-19h0m1 4h0m0 2h0m0 4h0m0 3h0m1 4h0m1-14h0m0 10h0m0 13h0m1-20h0m0 44h0m1-25h0m1 4h0m2-18h0m0 3h0m1 12h0m1-5h0m3-17h0m0 9h0m0 36h0m1-25h0m1-17h0m1 0h0m0 6h0m0 1h0m1 5h0m4-24h0m2 29h0m1-4h0m1 11h0m1-24h0m2 12h0m2-7h0m0 4h0m1 27h0m1-30h0m0 33h0m2-42h0m3-10h0m0 11h0m1 38h0m1-38h0m0 36h0m4 12h0m1-24h0m1-38h0m0 3h0m1 1h0m1 10h0m3-6h0m2 24h0m1-20h0m1 38h0m5-44h0m2-15h0m0 30h0m0 13h0m7-30h0m2 0h0m10-8h0m5 0h0" stroke="#3a5c28" opacity="0.5"/><path d="M172 389h0m8-4h0m3-1h0m1 4h0m4-7h0m4-2h0m0 12h0m3 9h0m2-5h0m1 5h0m2-20h0m1-22h0m3 24h0m1-16h0m2 23h0m2 3h0m1-21h0m0 17h0m2-19h0m1 3h0m0 10h0m1-12h0m3 13h0m1-7h0m1-7h0m0 9h0m0 11h0m2-23h0m0 15h0m0 5h0m1-3h0m1-13h0m0 20h0m4 25h0m1 14h0m3-67h0m4-13h0m1 26h0m1 10h0m2-3h0m1 9h0m1-32h0m0 14h0m1 2h0m3-5h0m0 4h0m0 15h0m2-1h0m1-18h0m0 10h0m1 30h0m2-56h0m0 39h0m1-24h0m0 2h0m0 9h0m0 1h0m0 23h0m0 9h0m1-47h0m0 10h0m1-3h0m1 4h0m1 5h0m3-23h0m0 1h0m1-10h0m0 12h0m1 8h0m0 7h0m1 11h0m2-29h0m3 3h0m0 36h0m1-35h0m0 13h0m1-5h0m0 6h0m2-12h0m3-6h0m2 5h0m0 27h0m1-5h0m0 23h0m0 4h0m2-46h0m1 57h0m1-59h0m0 5h0m1-16h0m2 3h0m0 12h0m0 3h0m1 8h0m2 8h0m0 8h0m3-15h0m1-8h0m2-5h0m1-3h0m1 6h0m0 31h0m1-46h0m2-10h0m1 25h0m0 32h0m5-27h0m25-14h0m15-11h0" stroke="#3a5c28" opacity="0.5"/><path d="M185 389h0m2 10h0m1 4h0m4-15h0m2 6h0m3-18h0m0 19h0m1-16h0m0 13h0m3-14h0m6 21h0m2-30h0m1 15h0m0 5h0m2 24h0m1-18h0m1-26h0m0 57h0m3-40h0m0 14h0m1-33h0m0 30h0m1-15h0m0 1h0m0 16h0m1-11h0m1-12h0m1-3h0m0 21h0m1-25h0m0 13h0m0 3h0m2 0h0m1-6h0m1 8h0m1 0h0m0 14h0m3-33h0m1 44h0m2-54h0m1 14h0m1 17h0m1-20h0m0 9h0m1-10h0m1 9h0m1-3h0m1 1h0m1 2h0m0 38h0m1-37h0m0 3h0m0 13h0m0 6h0m1-31h0m0 12h0m0 10h0m0 14h0m1-31h0m0 3h0m1-7h0m0 4h0m2 22h0m2-21h0m1-1h0m1-15h0m0 6h0m1-2h0m0 8h0m0 16h0m0 9h0m2-29h0m0 27h0m1-9h0m1-17h0m0 26h0m0 5h0m1-15h0m1-5h0m2-11h0m0 15h0m2 8h0m3-3h0m2-18h0m5-3h0m0 9h0m2-24h0m1 3h0m2 22h0m3-6h0m0 20h0m3-28h0m3 8h0m2 9h0m1-31h0m0 12h0m2 10h0m1 7h0m1 19h0m3-40h0m2-3h0m2 67h0m6-15h0m4-40h0m5-2h0m1 0h0m3-12h0m2-1h0m15 10h0" stroke="#3a5c28" opacity="0.5"/><path d="M180 378h0m11 19h0m0 1h0m4-23h0m7-19h0m1 29h0m5 9h0m1-2h0m1 41h0m3-49h0m0 1h0m2 0h0m1-18h0m3 23h0m1-11h0m0 12h0m2-17h0m2-8h0m0 1h0m2 53h0m1-18h0m1 7h0m1-34h0m0 16h0m1-22h0m2 6h0m0 13h0m0 6h0m2-33h0m1 23h0m0 9h0m1-17h0m2 27h0m0 6h0m1-41h0m0 16h0m0 12h0m1-21h0m0 21h0m1-7h0m1-7h0m1-5h0m0 18h0m1-16h0m0 4h0m1-13h0m0 15h0m1 0h0m1 0h0m2-24h0m0 15h0m2-11h0m0 18h0m1 0h0m2 8h0m1 26h0m1-10h0m1-41h0m0 1h0m0 10h0m4 4h0m1-11h0m1-3h0m0 7h0m1 37h0m1 5h0m2-58h0m0 13h0m1 0h0m0 6h0m1 3h0m0 2h0m0 20h0m1-25h0m0 14h0m1-29h0m0 17h0m1-16h0m0 32h0m1-30h0m2 31h0m1-14h0m1-13h0m1-11h0m0 8h0m1-9h0m0 26h0m1 20h0m1-49h0m0 11h0m0 7h0m2-14h0m1 24h0m1-12h0m2-2h0m3 0h0m0 11h0m1-1h0m1 2h0m2-17h0m5 28h0m4-34h0m2 9h0m5 0h0m5-6h0m7 24h0m10 28h0m3-56h0" stroke="#3a5c28" opacity="0.5"/><path d="M176 383h0m0 2h0m5 2h0m0 30h0m16-38h0m11 14h0m1-9h0m3-14h0m0 13h0m1 24h0m1-27h0m0 2h0m1 10h0m1-29h0m0 37h0m1-18h0m1-10h0m1 9h0m0 13h0m2-15h0m0 21h0m1-25h0m0 24h0m0 2h0m2-20h0m0 20h0m1-3h0m3-23h0m1 4h0m0 10h0m0 10h0m0 19h0m1-67h0m1 60h0m3-46h0m1 2h0m1-8h0m0 27h0m0 5h0m1-8h0m1-28h0m0 26h0m0 11h0m0 18h0m1-33h0m0 32h0m0 1h0m2-32h0m1-3h0m1 2h0m1 17h0m1-12h0m1-1h0m1-11h0m2-12h0m0 4h0m0 13h0m1-11h0m0 55h0m1-37h0m0 23h0m1-37h0m0 5h0m1-21h0m1 31h0m1-3h0m0 9h0m0 29h0m4-47h0m1-1h0m0 4h0m0 32h0m1-27h0m0 2h0m0 1h0m1-5h0m1-2h0m3-12h0m0 16h0m1-18h0m0 7h0m6-15h0m2 9h0m0 60h0m1-61h0m0 12h0m0 33h0m2-62h0m0 41h0m3-14h0m2-6h0m0 18h0m1-5h0m3 34h0m1-26h0m0 42h0m2-62h0m4 19h0m5-21h0m2 12h0m4 0h0m0 19h0m3-50h0m4 61h0m9-9h0m3-28h0m7-24h0m0 1h0m0 37h0" stroke="#3a5c28" opacity="0.5"/><path d="M170 421h0m3-28h0m3 9h0m1-11h0m1 12h0m6-2h0m3-15h0m4 5h0m4-7h0m2-7h0m4 16h0m2-13h0m3 21h0m3-18h0m1 13h0m2 5h0m0 3h0m0 11h0m2-42h0m1 16h0m3 13h0m1-35h0m0 18h0m3 1h0m1-10h0m2 7h0m1 11h0m1-23h0m0 4h0m0 22h0m1-14h0m2-6h0m1 3h0m1-13h0m0 10h0m3-4h0m1 11h0m3-14h0m0 9h0m1-17h0m0 10h0m0 10h0m0 3h0m0 1h0m0 36h0m1-60h0m0 38h0m1-37h0m1 16h0m1 3h0m0 3h0m0 24h0m1-40h0m1 3h0m5 17h0m1 51h0m2-67h0m0 35h0m1-22h0m1 10h0m1-14h0m3-28h0m0 25h0m0 54h0m1-48h0m1-20h0m0 14h0m1 55h0m1-54h0m0 48h0m1-68h0m0 6h0m0 12h0m0 5h0m1-3h0m0 17h0m0 9h0m0 26h0m1-53h0m0 9h0m0 15h0m1-37h0m2 61h0m3-64h0m0 15h0m0 9h0m1 7h0m1-16h0m0 1h0m1-5h0m0 1h0m1 23h0m1 4h0m1-38h0m0 22h0m1-35h0m1 19h0m1-23h0m0 22h0m1 59h0m1-67h0m1 8h0m1-6h0m2-9h0m0 11h0m2-4h0m5 8h0m16-1h0m5-4h0m7-2h0" stroke="#3a5c28" opacity="0.5"/><path d="M77 143h0m11 113h0m4 10h0m6 16h0m18 14h0m6-163h0m0 186h0m3-234h0m2 155h0m1 38h0m8-98h0m7 37h0m7 0h0m2 51h0m0 53h0m4-154h0m1 11h0m4-67h0m9 139h0m12-31h0m8 110h0m15-22h0m9-132h0m7-19h0m1-14h0m22 53h0m3 94h0m6 2h0m4-36h0m8-88h0m1 158h0m3-130h0m6 133h0m9-7h0m0 6h0m10 3h0m1-211h0m4 60h0m5 82h0" stroke="#5d7a52" opacity="0.42"/><path d="M293 337h0m3 49h0m1-58h0m1 28h0m0 3h0m1-35h0m2 30h0m1 8h0m2-9h0m0 3h0m5 17h0m4-7h0m5-1h0m4 30h0m8-33h0m4-33h0m0 22h0m4-22h0m8-11h0m2 73h0m1-36h0m13-21h0m18 4h0m13-5h0m1 6h0m3-13h0m3 20h0m3-19h0m2 6h0m6 23h0m3-2h0m4-25h0m4 15h0m9-7h0m1-30h0m9 13h0m0 27h0m1-33h0m8 11h0m1 3h0m10 1h0m1 9h0m1 6h0m15-19h0m17-25h0m39-19h0m0 18h0m0 25h0m6-30h0m9 9h0m26-29h0m5 3h0m0 15h0m17 7h0m13-7h0m6-4h0" stroke="#3c3c3c" opacity="0.42"/><path d="M285 350h0m6 26h0m1-45h0m0 24h0m3 21h0m1-53h0m1 36h0m1-6h0m6 3h0m0 5h0m1 1h0m1 28h0m1-32h0m1-6h0m1-33h0m1 46h0m1-13h0m0 4h0m0 10h0m2-28h0m3 6h0m1-10h0m0 44h0m4-35h0m1-13h0m4 28h0m1-5h0m3 1h0m6-4h0m2 5h0m1-10h0m1 24h0m1-37h0m1-6h0m4 25h0m1-22h0m0 14h0m6 16h0m4-21h0m6-34h0m19 45h0m4-3h0m29-8h0m11 29h0m2-50h0m10 4h0m8 33h0m6-45h0m6 13h0m27 29h0m11-13h0m28-23h0m20-5h0m57-31h0m8 8h0m16-13h0" stroke="#3c3c3c" opacity="0.42"/><path d="M285 371h0m4-12h0m3 13h0m4-33h0m1 17h0m1 20h0m2-26h0m2 14h0m1 7h0m4-36h0m2 31h0m3-17h0m2 33h0m1-11h0m1-21h0m0 3h0m0 7h0m2-15h0m3 26h0m3-38h0m0 5h0m1 5h0m0 18h0m6 2h0m2 11h0m1-35h0m2 23h0m3-23h0m3 6h0m4 32h0m5-18h0m3-17h0m8 12h0m6-24h0m1-4h0m7 35h0m5-29h0m2 37h0m6-37h0m3 13h0m2 10h0m4-57h0m3 21h0m4 4h0m11 11h0m10 4h0m21-21h0m30-3h0m21 45h0m36-66h0m23 16h0m34-8h0m4-2h0m6 5h0m11 12h0" stroke="#3c3c3c" opacity="0.42"/><path d="M321 297h0m8 52h0m1-6h0m2-268h0m4 101h0m41 129h0m10-246h0m1 136h0m3 122h0m8-239h0m1 326h0m34 27h0m23-192h0m18-187h0m24 112h0m7 266h0m38-247h0m46-63h0m14 281h0" stroke="#555" opacity="0.42"/></g><rect x="422.1" y="210.4" width="50.4" height="67.1" fill="none" stroke="#72a062" stroke-width="0.9"/><rect x="422.1" y="279.1" width="24.3" height="25.1" fill="none" stroke="#cbe6bc" stroke-width="0.7"/><rect x="446.9" y="279.1" width="25.6" height="25.1" fill="none" stroke="#78c452" stroke-width="0.8"/><rect x="410.4" y="210.4" width="10.1" height="95" fill="none" stroke="#666" stroke-width="1.1"/><path d="M408.7 207.1V333.4M408.7 333.4H535.7M408.7 217.7h-3.8M408.7 248.8h-3.8M408.7 282.8h-3.8M408.7 303.8h-3.8M408.7 325.1h-3.8" fill="none" stroke="#333" stroke-width="0.85"/><path d="M408.7 239.4h-1.9M408.7 234h-1.9M408.7 230.1h-1.9M408.7 227.1h-1.9M408.7 224.6h-1.9M408.7 222.5h-1.9M408.7 220.7h-1.9M408.7 219.1h-1.9M408.7 272.6h-1.9M408.7 266.6h-1.9M408.7 262.3h-1.9M408.7 259h-1.9M408.7 256.3h-1.9M408.7 254.1h-1.9M408.7 252.1h-1.9M408.7 250.4h-1.9M408.7 208.3h-1.9M408.7 286.1h-1.4M408.7 289.6h-1.4M408.7 293.1h-1.4M408.7 296.6h-1.4M408.7 300.1h-1.4M408.7 307.6h-1.4M408.7 311.1h-1.4M408.7 314.6h-1.4M408.7 318.1h-1.4M408.7 321.6h-1.4M408.7 328.6h-1.4M409.3 333.4v3.4M414.1 333.4v1.8M418.9 333.4v1.8M423.7 333.4v1.8M428.6 333.4v1.8M433.4 333.4v3.4M438.2 333.4v1.8M443 333.4v1.8M447.8 333.4v1.8M452.6 333.4v1.8M457.4 333.4v3.4M462.3 333.4v1.8M467.1 333.4v1.8M471.9 333.4v1.8M476.7 333.4v1.8M481.5 333.4v3.4M486.3 333.4v1.8M491.2 333.4v1.8M496 333.4v1.8M500.8 333.4v1.8M505.6 333.4v3.4M510.4 333.4v1.8M515.2 333.4v1.8M520 333.4v1.8M524.9 333.4v1.8M529.7 333.4v3.4M534.5 333.4v1.8" fill="none" stroke="#333" stroke-width="0.8"/><g font-size="3.9" fill="#a2a2a2" font-weight="400"><text x="403.3" y="219" text-anchor="end">10⁵</text><text x="403.3" y="250.1" text-anchor="end">10⁴</text><text x="403.3" y="284.1" text-anchor="end">10³</text><text x="403.3" y="305.1" text-anchor="end">0</text><text x="403.3" y="326.4" text-anchor="end">-10³</text><text x="409.8" y="342" text-anchor="middle">0</text><text x="433.9" y="342" text-anchor="middle">50K</text><text x="457.9" y="342" text-anchor="middle">100K</text><text x="482" y="342" text-anchor="middle">150K</text><text x="506.1" y="342" text-anchor="middle">200K</text><text x="530.1" y="342" text-anchor="middle">250K</text></g><path d="M427.3 310.9L430.2 304.8" stroke="#151515" stroke-width="0.8" fill="none"/><path d="M431.7 301.5L431.9 305.6L428.5 304Z" fill="#151515"/><path d="M462.1 310.9L459.6 305.3" stroke="#151515" stroke-width="0.8" fill="none"/><path d="M458.1 302L461.3 304.5L457.8 306.1Z" fill="#151515"/><g font-size="7.2" fill="#161616" stroke="#161616" stroke-width="0.3"><text x="425.4" y="218.4" fill="#213a1f" stroke="#213a1f">S: 0.60%</text><text x="482.9" y="219.1">&gt;4n: 0.88%</text><text x="426.5" y="318.4" text-anchor="middle">G1:</text><text x="425.9" y="328.9" text-anchor="middle">85.97%</text><text x="468.1" y="318.4" text-anchor="middle">G2/M:</text><text x="467.9" y="328.9" text-anchor="middle">10.91%</text><text transform="translate(417.5 238.1) rotate(-90)" text-anchor="middle">SubG1: 1.64%</text></g><text x="472.6" y="351.3" text-anchor="middle" font-size="9.8" stroke="#111" stroke-width="0.3">7AAD</text><text transform="translate(394.1 273.8) rotate(-90)" text-anchor="middle" font-size="9.6" stroke="#111" stroke-width="0.3">APC - BrdU</text><text x="469.2" y="198.7" text-anchor="middle" font-size="16.7" stroke="#111" stroke-width="0.3">Palbo 96 h</text></g>
<g><path d="M42.2 386.7H169.2V514.5" fill="none" stroke="#d6d6d6" stroke-width="0.8"/><rect x="111" y="391.4" width="54" height="94.1" fill="#f7f7f7" stroke="#ececec" stroke-width="0.7"/><rect x="54.8" y="391.5" width="50.4" height="72.2" fill="#bccfd2" stroke="none" stroke-width="0"/><rect x="54.8" y="464.8" width="24.3" height="20.5" fill="#e6f6f6" stroke="none" stroke-width="0"/><rect x="79.6" y="464.8" width="25.6" height="20.5" fill="#b5e2e2" stroke="none" stroke-width="0"/><rect x="43.1" y="391.5" width="10.1" height="95" fill="#cbcbcb" stroke="none" stroke-width="0"/><g class="d" fill="none" stroke-linecap="round" stroke-width="5" transform="translate(42.6 391.2) scale(0.2)"><path d="M-1 466h0m0 10h0m0 3h0m1-6h0m1-11h0m0 18h0m1-16h0m0 7h0m1-6h0m0 2h0m0 2h0m0 8h0m1-9h0m0 4h0m1-8h0m0 4h0m0 5h0m1-15h0m0 8h0m1 3h0m0 1h0m0 2h0m0 2h0m0 1h0m0 1h0m0 1h0m1-16h0m0 3h0m0 5h0m0 8h0m1-7h0m0 2h0m1-5h0m0 2h0m0 2h0m1-8h0m0 11h0m1 0h0m1 0h0m2-6h0m0 4h0m3-10h0m0 4h0" stroke="#111" opacity="0.5"/><path d="M-1 475h0m1-10h0m0 11h0m0 6h0m1-14h0m0 4h0m0 7h0m1-9h0m0 1h0m1 0h0m0 2h0m0 7h0m1-15h0m0 3h0m0 2h0m0 3h0m0 2h0m1-8h0m0 1h0m0 3h0m0 8h0m1-19h0m0 6h0m0 6h0m1-7h0m0 5h0m1-10h0m0 5h0m0 1h0m0 6h0m0 2h0m0 2h0m1-13h0m0 5h0m0 3h0m0 8h0m1-20h0m0 8h0m1-5h0m0 4h0m0 12h0m3-5h0m6-10h0" stroke="#111" opacity="0.5"/><path d="M-1 477h0m0 1h0m2-14h0m0 9h0m1-6h0m0 4h0m0 1h0m1 1h0m0 2h0m0 4h0m1-5h0m0 5h0m1-16h0m0 2h0m0 2h0m0 5h0m1-8h0m0 3h0m0 2h0m0 3h0m0 9h0m1-18h0m1 3h0m1-1h0m0 5h0m1 0h0m1-4h0m0 2h0m0 1h0m0 1h0m1-3h0m1-7h0m0 4h0m0 7h0m1-4h0m0 6h0m1-13h0m1-1h0" stroke="#111" opacity="0.5"/><path d="M-1 477h0m2-5h0m2-3h0m0 2h0m0 2h0m0 1h0m1-8h0m1 3h0m0 2h0m0 5h0m1-10h0m0 5h0m2-9h0m0 6h0m1-5h0m0 1h0m0 3h0m1-9h0m0 1h0m0 2h0m0 1h0m2-3h0m0 16h0m1-12h0m0 2h0m1-5h0m0 5h0m2 0h0m2-11h0m1 4h0m0 8h0m1-12h0m0 6h0m1 0h0m3-9h0m0 4h0m0 4h0m2 4h0m1-19h0m3 9h0m2 3h0m6-6h0m2-7h0m0 10h0m1-5h0m1-9h0m2 4h0m3-13h0m3 8h0" stroke="#222" opacity="0.5"/><path d="M0 473h0m0 2h0m1-5h0m1 3h0m1-4h0m0 3h0m1 7h0m1-7h0m0 1h0m2-11h0m0 1h0m1-3h0m0 1h0m0 3h0m2 1h0m0 4h0m1-9h0m1 11h0m2-9h0m2-3h0m1-2h0m0 10h0m1-15h0m1 5h0m1-3h0m0 4h0m3-11h0m0 7h0m2 8h0m2-19h0m1 13h0m1-10h0m0 14h0m1-8h0m1 4h0m2-6h0m2-5h0m0 6h0m3-2h0m0 2h0m2 5h0m3-20h0m1-7h0m1 11h0m5 4h0m2 0h0" stroke="#222" opacity="0.5"/><path d="M1 478h0m1-5h0m1-5h0m0 2h0m0 5h0m0 1h0m1-8h0m0 5h0m1-9h0m0 8h0m1-7h0m0 1h0m2 5h0m3-3h0m3-11h0m0 4h0m1 3h0m3-4h0m0 4h0m1-2h0m0 1h0m1-7h0m1-3h0m1 8h0m1-11h0m0 13h0m3-12h0m1-6h0m1 11h0m1-6h0m0 2h0m0 1h0m4 4h0m0 3h0m3-19h0m1 5h0m2-11h0m2-3h0m1 7h0m3-4h0m1 3h0m0 1h0m1-14h0m1 8h0m1 9h0m2-7h0" stroke="#222" opacity="0.5"/><path d="M0 475h0m1-5h0m0 2h0m1-1h0m1 2h0m0 2h0m1-5h0m0 3h0m0 1h0m1-10h0m0 8h0m1-5h0m0 7h0m2-2h0m0 2h0m1-14h0m0 12h0m1-6h0m1-6h0m0 3h0m1 2h0m2 3h0m3-11h0m2-1h0m1-1h0m2 0h0m0 1h0m3 2h0m0 6h0m1-9h0m2-9h0m0 6h0m0 1h0m4-3h0m2-8h0m0 7h0m0 5h0m2-11h0m0 2h0m2-7h0m3 2h0m3 3h0m1-1h0m1-9h0m1 12h0m3-10h0m3 1h0m2 7h0" stroke="#222" opacity="0.5"/><path d="M67 453h0m0 1h0m5-7h0m3-7h0m1 15h0m1-6h0m0 1h0m0 9h0m1-9h0m0 6h0m2-7h0m0 1h0m1-2h0m0 1h0m2 7h0m2 0h0m1-6h0m1-2h0m2-2h0m2-4h0m0 3h0m1 0h0m0 2h0m1 2h0m0 2h0m1-1h0m2-4h0m1 7h0m1-4h0m0 3h0m1-12h0m0 14h0m1-6h0m1-9h0m0 14h0m1-11h0m0 5h0m0 3h0m1-15h0m0 14h0m1-2h0m1-1h0m0 4h0m2-9h0m0 5h0m0 6h0m1-14h0m0 1h0m0 5h0m0 4h0m1-20h0m0 7h0m0 4h0m0 3h0m0 3h0m1-4h0m1-11h0m0 6h0m1-3h0m0 10h0m0 2h0m1-1h0m1-8h0m0 7h0m0 9h0m1-1h0m1-14h0m1 0h0m1 12h0m1-2h0m3-14h0m0 13h0m1-9h0m0 8h0m0 6h0m1-17h0m1-8h0m0 10h0m0 4h0m1-11h0m0 11h0m0 8h0m0 1h0m1-5h0m0 6h0m2-11h0m0 11h0m1-18h0m0 9h0m0 2h0m0 9h0m1-22h0m0 6h0m0 5h0m0 3h0m2-17h0m0 12h0m0 12h0m1-26h0m0 11h0m2-1h0m2-14h0m1 15h0m0 5h0m1-19h0m0 4h0m0 4h0m0 16h0m0 4h0m0 3h0m1-22h0m0 4h0m0 11h0m0 7h0m1-35h0m0 28h0m0 7h0m1-24h0m0 5h0m1-12h0m0 21h0m1-19h0m0 4h0m0 9h0m1-3h0m0 9h0m0 10h0m1-22h0m0 17h0m1-4h0m1-35h0m0 15h0m0 2h0m0 7h0m0 9h0m1-1h0m0 3h0m0 8h0m1-23h0m1-9h0m1 23h0m1-7h0m0 3h0m1-4h0m0 6h0m0 4h0m0 1h0m0 3h0m0 2h0m2-6h0m0 3h0m0 1h0m0 4h0m1-30h0m0 1h0m0 14h0m0 13h0m0 1h0m1-31h0m0 14h0m1 9h0m0 1h0m0 5h0m1-18h0m1-2h0m0 10h0m1-10h0m0 13h0m0 8h0m1-43h0m0 44h0m1-8h0m0 10h0m1-29h0m0 20h0m0 3h0m1-32h0m0 21h0m2 11h0m1-31h0m0 23h0m0 11h0m1-5h0m1-32h0m0 29h0m2-28h0m0 8h0m0 28h0m1-10h0m0 4h0m1-26h0m0 34h0m1-39h0m0 12h0m0 19h0m0 3h0m0 4h0m1-35h0m0 16h0m1 20h0m1-22h0m1-8h0m0 1h0m0 1h0m0 19h0m1-32h0m0 15h0m0 13h0m1-1h0m0 3h0m1-30h0m2 27h0m1-7h0m0 20h0m6-26h0" stroke="#4d5c5e" opacity="0.5"/><path d="M69 450h0m2-42h0m0 41h0m1-28h0m0 31h0m1-5h0m0 5h0m0 1h0m2 0h0m1-5h0m2 2h0m0 6h0m3-5h0m3-7h0m3 7h0m1-17h0m0 13h0m2 10h0m1-3h0m2-1h0m1-15h0m2 14h0m1 0h0m0 5h0m1-7h0m1-3h0m0 1h0m1-6h0m0 4h0m2 2h0m1-7h0m0 5h0m0 8h0m2-1h0m1-6h0m1-3h0m0 7h0m1-5h0m0 4h0m1-2h0m1-3h0m0 2h0m0 6h0m1-19h0m0 1h0m0 7h0m0 9h0m0 6h0m1-23h0m0 12h0m0 4h0m1-12h0m0 12h0m1-14h0m0 1h0m0 8h0m0 5h0m1-68h0m0 64h0m0 10h0m1-56h0m0 34h0m0 1h0m0 6h0m0 3h0m1-8h0m0 1h0m0 14h0m1-17h0m0 15h0m0 4h0m1-9h0m0 3h0m0 4h0m1-3h0m1-11h0m1-9h0m0 6h0m1-2h0m0 7h0m0 6h0m0 1h0m0 3h0m1-20h0m1 8h0m0 1h0m0 8h0m1-6h0m1-4h0m0 4h0m1-14h0m0 11h0m0 6h0m0 5h0m1-26h0m1 12h0m1-1h0m1-2h0m0 12h0m0 10h0m2-17h0m0 5h0m0 2h0m0 4h0m1-24h0m0 20h0m0 9h0m0 4h0m1-38h0m0 23h0m0 9h0m1-6h0m2 1h0m1-23h0m1-5h0m2 0h0m0 31h0m1-16h0m0 4h0m0 18h0m1-32h0m0 6h0m0 21h0m1-27h0m0 12h0m0 6h0m0 4h0m0 2h0m1-5h0m1-7h0m0 4h0m0 12h0m1 1h0m0 1h0m1-39h0m0 5h0m0 32h0m1-24h0m0 22h0m0 2h0m1-1h0m2-23h0m0 20h0m1-31h0m0 7h0m0 10h0m1-17h0m0 24h0m0 3h0m0 3h0m0 6h0m0 6h0m1-9h0m0 3h0m1-37h0m0 1h0m0 16h0m1-14h0m0 14h0m0 9h0m0 14h0m1-34h0m0 15h0m0 21h0m1-39h0m0 28h0m1-20h0m0 4h0m0 9h0m0 2h0m0 8h0m0 5h0m1-8h0m0 12h0m2-43h0m0 21h0m0 18h0m1-5h0m1-14h0m1-23h0m0 11h0m1-8h0m0 9h0m0 12h0m1-17h0m0 22h0m1-3h0m0 3h0m0 6h0m1-24h0m0 22h0m0 3h0m1-36h0m0 7h0m0 14h0m0 9h0m1-22h0m0 9h0m0 9h0m1-11h0m0 24h0m1-21h0m1 0h0m0 23h0m1-10h0m1-18h0m0 18h0m1-17h0m0 12h0m0 1h0m0 11h0m1-12h0m1-16h0m0 8h0m1-12h0m0 29h0m1 4h0m1-74h0m2 69h0" stroke="#4d5c5e" opacity="0.5"/><path d="M74 452h0m2-58h0m2 4h0m0 37h0m1 13h0m2 7h0m1-6h0m0 1h0m0 6h0m1 0h0m1-10h0m1 2h0m2-7h0m0 11h0m1 2h0m1-2h0m1-13h0m1 6h0m1-1h0m1 1h0m1 6h0m1 0h0m1-3h0m1 4h0m1 0h0m1-14h0m1 4h0m2 13h0m3-3h0m2-10h0m0 4h0m0 1h0m1-8h0m1 10h0m1-9h0m1-2h0m1-4h0m0 3h0m0 7h0m0 14h0m1-12h0m1 2h0m1-12h0m0 2h0m0 5h0m0 4h0m0 6h0m1-14h0m0 10h0m1-9h0m0 6h0m1 5h0m1-6h0m0 7h0m1-17h0m0 9h0m0 5h0m0 3h0m1-25h0m0 15h0m1 9h0m1-7h0m1-18h0m0 18h0m0 1h0m0 1h0m2-9h0m0 8h0m0 3h0m0 1h0m1-20h0m0 2h0m0 5h0m0 5h0m0 3h0m0 6h0m1-16h0m0 3h0m1-15h0m0 10h0m0 11h0m0 8h0m1-6h0m0 1h0m0 6h0m1-6h0m0 2h0m1-29h0m0 5h0m0 2h0m0 14h0m2 7h0m0 3h0m1-10h0m0 5h0m0 3h0m0 5h0m1-34h0m0 5h0m0 1h0m0 6h0m1-11h0m0 3h0m0 2h0m0 17h0m0 7h0m0 4h0m1-15h0m1-9h0m0 11h0m1-9h0m0 9h0m0 2h0m0 13h0m1-39h0m0 37h0m1-16h0m0 2h0m0 2h0m1-12h0m1-10h0m0 9h0m1 4h0m0 2h0m1-5h0m0 5h0m0 18h0m1-9h0m0 15h0m1-12h0m0 3h0m1-34h0m0 37h0m1-23h0m1 7h0m0 14h0m1-16h0m1-15h0m0 21h0m1 10h0m1-7h0m0 4h0m2 1h0m1-22h0m0 15h0m0 11h0m1-31h0m0 11h0m1-17h0m0 6h0m0 18h0m0 1h0m0 1h0m1-11h0m0 6h0m1-7h0m0 4h0m0 4h0m0 10h0m1-11h0m0 10h0m0 1h0m1-29h0m0 7h0m0 4h0m0 10h0m1-28h0m0 9h0m0 26h0m1-5h0m1-21h0m0 1h0m0 14h0m1 5h0m1-20h0m0 25h0m0 6h0m1-32h0m0 13h0m0 17h0m1-21h0m0 1h0m0 2h0m1 10h0m0 9h0m1-20h0m0 15h0m0 9h0m1-18h0m1-1h0m0 10h0m0 1h0m1 3h0m1-22h0m0 24h0m1-12h0m0 10h0m0 6h0m1-13h0m0 1h0m0 6h0m1-32h0m0 36h0m1-15h0m0 19h0m1-28h0m0 16h0m2 5h0m1-1h0m1-30h0m0 1h0m1 17h0m0 6h0m0 5h0m2-15h0" stroke="#4d5c5e" opacity="0.5"/><path d="M68 454h0m3-7h0m1-1h0m3 8h0m1 1h0m3-3h0m0 2h0m0 1h0m1-3h0m1-3h0m2 1h0m0 3h0m1-7h0m0 1h0m0 2h0m1-8h0m0 12h0m1-8h0m1 0h0m1 2h0m2 2h0m3 0h0m0 2h0m1-10h0m0 2h0m0 8h0m1-9h0m1 1h0m1 3h0m1 3h0m1 4h0m1-8h0m1-11h0m0 10h0m1 2h0m0 1h0m0 6h0m1-75h0m0 71h0m1-4h0m1 2h0m0 3h0m1-1h0m0 6h0m1-19h0m1 3h0m2-7h0m1 7h0m0 6h0m0 3h0m0 4h0m0 1h0m1-10h0m2-45h0m2 37h0m0 8h0m1 4h0m1-7h0m1-6h0m1 5h0m0 4h0m1-11h0m0 12h0m0 2h0m1-9h0m0 7h0m1-7h0m1-4h0m1-2h0m0 13h0m1-1h0m1-30h0m0 32h0m0 2h0m1-15h0m0 11h0m0 7h0m1-25h0m0 2h0m0 12h0m0 15h0m1-3h0m1-26h0m0 18h0m0 8h0m1-22h0m0 4h0m0 7h0m1-17h0m0 5h0m0 19h0m1-27h0m0 14h0m0 7h0m0 13h0m2-21h0m0 13h0m1-9h0m0 2h0m0 5h0m1-13h0m0 6h0m0 3h0m1 9h0m0 3h0m1-27h0m0 2h0m0 6h0m0 3h0m1-4h0m0 1h0m0 23h0m1-40h0m0 3h0m0 9h0m0 4h0m0 9h0m0 7h0m1 2h0m1-30h0m0 27h0m2-25h0m0 4h0m0 3h0m0 5h0m0 12h0m0 2h0m0 3h0m0 5h0m1-68h0m0 43h0m0 3h0m0 3h0m0 6h0m0 5h0m1-35h0m0 21h0m2-18h0m1 27h0m1-21h0m2-6h0m0 8h0m0 20h0m1-31h0m0 5h0m0 34h0m1-36h0m0 3h0m1 3h0m0 2h0m0 18h0m0 7h0m0 5h0m2-40h0m1-1h0m0 2h0m1-5h0m0 21h0m0 4h0m1-22h0m0 36h0m1-37h0m1 4h0m0 17h0m0 3h0m0 3h0m0 8h0m0 3h0m1-38h0m0 35h0m0 2h0m2-31h0m0 27h0m1-26h0m0 21h0m0 11h0m1-28h0m0 2h0m0 22h0m0 10h0m1-46h0m0 4h0m0 20h0m1-15h0m1 1h0m0 9h0m0 9h0m1-22h0m0 17h0m1-7h0m0 17h0m0 1h0m0 9h0m1-38h0m0 2h0m0 4h0m0 30h0m1-35h0m0 7h0m0 4h0m1-12h0m1 28h0m0 5h0m1-34h0m0 21h0m0 17h0m1-32h0m0 11h0m1-12h0m1 8h0m0 6h0m1-55h0m0 50h0m1-3h0m0 4h0m0 1h0m1-2h0m1-9h0m0 7h0m0 11h0" stroke="#4d5c5e" opacity="0.5"/><path d="M68 454h0m7-6h0m2-4h0m0 2h0m0 6h0m2-6h0m0 8h0m1-11h0m1 5h0m5 4h0m0 1h0m0 5h0m1-9h0m0 2h0m1-1h0m1-3h0m0 7h0m1-12h0m0 4h0m2 3h0m2-20h0m0 15h0m0 5h0m1 2h0m0 1h0m1-10h0m0 9h0m1-6h0m4-8h0m0 10h0m0 2h0m1-10h0m0 7h0m1-4h0m0 11h0m1-21h0m0 12h0m0 1h0m1-5h0m0 1h0m1 5h0m2-11h0m0 13h0m2-14h0m0 3h0m1 5h0m0 11h0m1-16h0m0 16h0m2-21h0m0 13h0m1 3h0m1-7h0m1-8h0m0 5h0m1-5h0m1 0h0m0 12h0m1-15h0m0 14h0m0 10h0m1-15h0m0 11h0m2-23h0m0 8h0m1 11h0m1-16h0m1 14h0m1-7h0m0 8h0m0 11h0m2-29h0m0 9h0m0 2h0m0 9h0m0 1h0m0 1h0m0 1h0m1-7h0m0 10h0m1-32h0m0 30h0m1-29h0m0 9h0m0 7h0m0 10h0m1-23h0m1 1h0m1 3h0m0 5h0m1 5h0m0 7h0m0 1h0m0 2h0m1-21h0m0 6h0m0 10h0m1 5h0m0 2h0m1-22h0m0 18h0m0 4h0m0 2h0m1-30h0m0 2h0m0 26h0m0 5h0m1-37h0m0 5h0m0 20h0m1-45h0m0 41h0m2 12h0m1-34h0m1 27h0m1-16h0m0 5h0m0 10h0m1 2h0m0 7h0m1-20h0m0 15h0m0 4h0m1-19h0m0 4h0m0 14h0m0 8h0m1-57h0m0 43h0m1-16h0m0 11h0m2-21h0m0 6h0m0 19h0m1-31h0m0 13h0m0 1h0m0 2h0m0 20h0m0 3h0m1-17h0m0 1h0m1-7h0m0 9h0m0 4h0m0 5h0m1-30h0m2-20h0m0 26h0m0 18h0m0 4h0m0 4h0m0 1h0m2-27h0m0 6h0m0 24h0m1-12h0m0 5h0m0 5h0m1-33h0m0 21h0m0 6h0m1-26h0m0 12h0m0 18h0m1-16h0m0 5h0m0 6h0m0 6h0m1-23h0m1-14h0m0 13h0m0 19h0m1-10h0m0 2h0m0 9h0m2-15h0m0 22h0m0 1h0m1-39h0m0 12h0m1 5h0m0 3h0m1 1h0m0 10h0m0 4h0m1-20h0m0 3h0m0 21h0m1-15h0m0 2h0m0 7h0m1-14h0m0 2h0m0 2h0m0 9h0m1-26h0m0 12h0m0 3h0m0 18h0m2-29h0m0 3h0m1-2h0m0 22h0m1-5h0m0 3h0m0 8h0m1-22h0m0 13h0m1 4h0m1-27h0m1 8h0m0 3h0m0 9h0m1 2h0m1-7h0m0 18h0" stroke="#4d5c5e" opacity="0.5"/><path d="M68 449h0m2 3h0m2-3h0m2 0h0m1 5h0m2 2h0m0 1h0m1-11h0m0 6h0m4-2h0m2-32h0m0 30h0m3-1h0m0 7h0m2-4h0m1-64h0m0 55h0m0 9h0m0 2h0m1-25h0m0 21h0m1-1h0m1 5h0m1-1h0m1-10h0m0 13h0m1-10h0m1-4h0m0 3h0m0 6h0m1-6h0m0 2h0m0 5h0m1-36h0m0 30h0m1 11h0m1-3h0m1-10h0m0 4h0m1-2h0m0 2h0m0 5h0m0 2h0m1-21h0m3-1h0m0 4h0m0 15h0m1-16h0m0 8h0m1-9h0m0 15h0m2 5h0m1-10h0m0 10h0m1-5h0m0 4h0m1-22h0m0 9h0m0 2h0m1-12h0m0 12h0m0 8h0m1-2h0m1 0h0m1 0h0m1-17h0m0 10h0m0 7h0m1-65h0m0 58h0m1 0h0m0 12h0m2-23h0m0 10h0m0 12h0m3-24h0m0 21h0m1-66h0m1 72h0m1-20h0m0 15h0m1-23h0m0 17h0m1-23h0m1 10h0m0 22h0m1-22h0m0 11h0m0 9h0m1-26h0m1-4h0m0 10h0m0 12h0m0 1h0m0 3h0m1-15h0m0 15h0m1-50h0m0 59h0m1-35h0m1 7h0m0 25h0m1-29h0m0 10h0m0 17h0m0 1h0m1-5h0m1 5h0m1-32h0m1 5h0m0 3h0m0 7h0m0 4h0m1 13h0m1-22h0m0 3h0m0 19h0m0 1h0m1-11h0m0 7h0m1-25h0m0 2h0m0 21h0m0 3h0m1-14h0m0 10h0m0 4h0m0 1h0m0 2h0m1-14h0m2-24h0m0 32h0m0 1h0m1-26h0m0 3h0m1-13h0m0 21h0m0 19h0m1-9h0m0 2h0m1-21h0m0 6h0m1-5h0m0 10h0m0 6h0m0 7h0m1-1h0m1-14h0m1-56h0m0 43h0m0 1h0m0 17h0m1-3h0m0 16h0m1-9h0m1-13h0m0 11h0m0 3h0m1-23h0m0 12h0m0 9h0m1-13h0m0 20h0m1-20h0m0 21h0m0 2h0m0 3h0m1-34h0m0 10h0m0 9h0m0 15h0m1-31h0m0 12h0m0 17h0m0 2h0m1-25h0m0 20h0m1-16h0m0 12h0m0 5h0m0 1h0m1-32h0m0 5h0m2-8h0m0 2h0m0 15h0m1 13h0m1-24h0m0 1h0m0 1h0m1-8h0m0 6h0m0 25h0m0 8h0m1-11h0m1-13h0m0 9h0m0 9h0m0 2h0m0 7h0m1-32h0m1 13h0m0 3h0m0 1h0m1-22h0m0 30h0m1-21h0m0 4h0m0 9h0m1-18h0m0 17h0m1-10h0" stroke="#4d5c5e" opacity="0.5"/><path d="M167 420h0m20 12h0m6-19h0m0 14h0m3-15h0m1-1h0m0 2h0m2 12h0m1-24h0m1 13h0m0 5h0m3 2h0m1 7h0m1-30h0m2 5h0m0 27h0m3 1h0m0 4h0m0 2h0m0 3h0m1-47h0m0 25h0m1-11h0m0 23h0m1-41h0m0 35h0m1-12h0m1-13h0m1 19h0m0 20h0m1-34h0m0 38h0m1-22h0m1-14h0m0 3h0m0 8h0m0 7h0m0 1h0m1-20h0m2-1h0m0 13h0m0 23h0m1-39h0m0 3h0m0 8h0m1-10h0m0 16h0m1-15h0m1 18h0m1-16h0m0 5h0m0 12h0m1-28h0m0 11h0m0 23h0m0 16h0m1-20h0m0 5h0m0 9h0m1-25h0m1 1h0m0 5h0m1-10h0m1 5h0m0 7h0m1 12h0m2-7h0m1-29h0m0 5h0m1 5h0m0 7h0m0 24h0m0 6h0m1-45h0m0 3h0m1-19h0m0 14h0m0 51h0m1-57h0m0 17h0m2 1h0m0 3h0m0 6h0m1-6h0m1 19h0m1-40h0m0 9h0m0 27h0m0 4h0m1-50h0m0 30h0m0 16h0m1-42h0m0 29h0m1-5h0m0 14h0m2-37h0m0 31h0m1-13h0m0 1h0m1-10h0m0 39h0m1-21h0m0 18h0m1-23h0m0 5h0m0 2h0m0 2h0m0 4h0m0 8h0m1-15h0m0 3h0m0 5h0m1-35h0m0 31h0m0 11h0m1-18h0m0 1h0m0 16h0m1-31h0m1 2h0m0 12h0m1-14h0m0 18h0m1-5h0m1 15h0m0 10h0m0 2h0m1-28h0m0 22h0m1-7h0m1 9h0m1-39h0m0 20h0m1-5h0m0 17h0m0 4h0m1-52h0m1 23h0m1-4h0m0 25h0m1-6h0m2 7h0m0 8h0m3-25h0m1-14h0m0 25h0m2-22h0m1-15h0m1 34h0m0 9h0m2-22h0m0 9h0m0 15h0m1-14h0m1 1h0m3-31h0m0 24h0m2 6h0m0 11h0m2-10h0m2 9h0m1-14h0m4-2h0m9 9h0m1 7h0m1-18h0m1 15h0m0 8h0" stroke="#2c5558" opacity="0.5"/><path d="M179 412h0m3 5h0m0 2h0m1-17h0m2 36h0m1-5h0m4-21h0m1 0h0m2 17h0m3-15h0m0 12h0m3-25h0m0 20h0m1 9h0m1-12h0m0 2h0m1-6h0m0 2h0m1-8h0m1-7h0m0 6h0m3 13h0m3 21h0m1-20h0m1-2h0m1-12h0m0 18h0m1 4h0m0 2h0m3-25h0m1 14h0m0 13h0m3-42h0m1 41h0m1-19h0m1 8h0m1-1h0m0 8h0m1-29h0m0 46h0m1-57h0m0 21h0m0 3h0m0 7h0m0 12h0m0 4h0m1-14h0m1-23h0m1 20h0m0 10h0m1-26h0m0 9h0m0 10h0m2 4h0m0 5h0m1-36h0m0 5h0m0 5h0m0 2h0m2 18h0m1-16h0m0 11h0m1-3h0m1-14h0m0 1h0m0 17h0m0 12h0m1-31h0m1 12h0m0 11h0m0 1h0m1-36h0m0 3h0m0 1h0m0 2h0m0 47h0m1-51h0m0 20h0m1-6h0m0 3h0m0 9h0m1-6h0m0 5h0m0 5h0m0 23h0m1-16h0m0 17h0m1-29h0m0 11h0m1-11h0m0 3h0m0 9h0m0 18h0m1-41h0m0 1h0m0 3h0m0 8h0m0 3h0m2-12h0m0 3h0m0 5h0m0 7h0m0 7h0m0 4h0m1-31h0m0 11h0m0 10h0m1-10h0m0 4h0m1 1h0m0 7h0m1-20h0m0 16h0m0 7h0m0 9h0m1-3h0m3-35h0m0 18h0m1-30h0m0 6h0m0 7h0m0 1h0m0 3h0m0 8h0m0 13h0m1-27h0m0 11h0m0 8h0m1-16h0m0 9h0m0 2h0m2-1h0m1 4h0m0 6h0m0 2h0m1-1h0m0 3h0m0 14h0m1-31h0m2 11h0m1 7h0m1-26h0m0 19h0m1-27h0m1 21h0m0 27h0m2-38h0m1-5h0m0 28h0m1-13h0m1-27h0m0 24h0m5-2h0m0 3h0m1-9h0m0 18h0m2-20h0m1 4h0m2-3h0m2-7h0m0 21h0m1 20h0m4-52h0m1 40h0m1-2h0m2-40h0m4 13h0m2 12h0m2 8h0m0 10h0m4-34h0m7 11h0" stroke="#2c5558" opacity="0.5"/><path d="M179 405h0m0 4h0m10-1h0m0 10h0m4-4h0m2 11h0m1 10h0m1-41h0m0 9h0m0 20h0m3-20h0m2 3h0m1-17h0m0 40h0m1 0h0m2-35h0m2 17h0m0 5h0m0 13h0m1-13h0m2 0h0m1 6h0m0 14h0m1-25h0m0 13h0m0 7h0m0 6h0m2-36h0m0 27h0m1-13h0m1-3h0m0 10h0m0 7h0m2-6h0m2-23h0m0 7h0m0 23h0m0 16h0m3-43h0m0 8h0m0 26h0m1-19h0m1-16h0m0 10h0m0 12h0m1-2h0m2-9h0m0 10h0m3-10h0m1 23h0m1-23h0m1-15h0m0 6h0m0 7h0m0 5h0m1-12h0m0 17h0m1-19h0m1 6h0m0 4h0m0 12h0m0 24h0m2-31h0m0 2h0m0 2h0m1-20h0m0 5h0m0 28h0m0 3h0m1-29h0m0 3h0m0 28h0m1-44h0m0 43h0m1-34h0m0 2h0m0 4h0m0 4h0m1-8h0m0 24h0m1-20h0m0 29h0m1-32h0m1-4h0m0 1h0m0 5h0m0 7h0m1-24h0m1 0h0m0 2h0m0 15h0m0 12h0m1-11h0m0 26h0m1-25h0m0 1h0m1-13h0m1 3h0m0 5h0m0 15h0m0 1h0m1-14h0m0 2h0m0 29h0m1-33h0m0 4h0m1-19h0m0 21h0m1-36h0m0 16h0m0 35h0m0 7h0m1-38h0m0 14h0m1-4h0m0 1h0m1-17h0m0 4h0m0 8h0m0 14h0m0 3h0m1-15h0m1 5h0m0 17h0m2 7h0m1-32h0m0 8h0m1-4h0m0 26h0m2-38h0m0 3h0m0 12h0m0 15h0m1 0h0m0 5h0m0 6h0m2-11h0m1-31h0m1 11h0m0 4h0m1-8h0m0 13h0m3-3h0m1-26h0m0 25h0m0 15h0m2-21h0m1 10h0m0 23h0m1-38h0m1 2h0m0 3h0m0 10h0m1-4h0m2-6h0m2 18h0m0 17h0m1-32h0m1-3h0m1-20h0m0 7h0m1 1h0m1 10h0m3-6h0m3 42h0m2-9h0m6-43h0m1 41h0m1 5h0m2-31h0m7-1h0m11 10h0" stroke="#2c5558" opacity="0.5"/><path d="M186 429h0m4-6h0m2 11h0m2-7h0m3-14h0m3-7h0m0 14h0m1 1h0m1 24h0m1-21h0m1-8h0m0 13h0m0 11h0m1-35h0m2 17h0m1-1h0m2-19h0m0 40h0m1-41h0m0 25h0m0 4h0m1-4h0m1-10h0m1 4h0m1-10h0m1-12h0m0 22h0m1-30h0m1 3h0m0 14h0m0 12h0m1-2h0m1 2h0m0 9h0m1-30h0m1 5h0m0 6h0m0 36h0m1-55h0m0 14h0m0 9h0m1-27h0m1 28h0m0 8h0m1-1h0m0 3h0m1 9h0m1-44h0m0 47h0m1-29h0m1-12h0m0 2h0m0 9h0m0 22h0m1-34h0m0 10h0m0 11h0m0 2h0m0 1h0m0 7h0m1-36h0m0 39h0m0 6h0m0 9h0m1-35h0m1 4h0m1 19h0m1-33h0m0 3h0m0 8h0m0 3h0m0 11h0m0 2h0m1-23h0m0 18h0m0 26h0m1-35h0m1 0h0m1-1h0m0 1h0m1-16h0m1 0h0m2 9h0m0 12h0m1-5h0m0 4h0m0 14h0m1-47h0m0 32h0m1 9h0m1-25h0m0 14h0m0 3h0m0 21h0m1-42h0m0 20h0m0 8h0m1-21h0m0 21h0m0 7h0m1-9h0m0 9h0m1-29h0m0 17h0m1-3h0m0 1h0m1-10h0m0 16h0m0 21h0m1-42h0m0 11h0m1-4h0m0 9h0m0 8h0m1-10h0m1-14h0m2-6h0m0 9h0m0 9h0m1-9h0m0 2h0m0 26h0m1-17h0m3-15h0m0 26h0m1-9h0m0 10h0m2-31h0m0 15h0m1-20h0m1 9h0m1-7h0m0 2h0m0 19h0m0 8h0m0 1h0m2-3h0m1-13h0m3 22h0m1-15h0m1-21h0m0 19h0m2 4h0m1-15h0m0 27h0m1-9h0m1-19h0m1-9h0m0 18h0m0 8h0m1 10h0m1-14h0m1-1h0m1-5h0m0 14h0m1-10h0m1 6h0m1-10h0m1-5h0m0 14h0m1 8h0m2-18h0m0 16h0m4-25h0m3-1h0m0 27h0m3-15h0m4 15h0m2-10h0m3-10h0m1 7h0m2-17h0m11 19h0" stroke="#2c5558" opacity="0.5"/><path d="M177 412h0m5 10h0m3-8h0m2-18h0m1 13h0m0 18h0m6-26h0m3 11h0m0 8h0m2 13h0m2-10h0m1 5h0m4-10h0m0 2h0m2-31h0m0 45h0m1-42h0m0 2h0m2 32h0m1-29h0m0 9h0m0 9h0m1 16h0m2-8h0m2-17h0m0 32h0m1-22h0m0 1h0m0 2h0m1-29h0m0 14h0m0 16h0m0 17h0m3-30h0m1-5h0m0 9h0m0 7h0m0 5h0m0 3h0m1-14h0m1-3h0m1-6h0m0 1h0m0 4h0m0 14h0m0 13h0m1 0h0m1-54h0m0 39h0m0 20h0m1-35h0m0 2h0m0 5h0m0 16h0m0 1h0m1-11h0m1-14h0m0 1h0m0 14h0m0 3h0m0 12h0m1-5h0m1-5h0m1 9h0m0 1h0m1-27h0m0 18h0m0 8h0m2-25h0m0 21h0m1-15h0m1-19h0m0 38h0m1-29h0m1 12h0m0 18h0m2-12h0m1 5h0m1-3h0m0 3h0m0 17h0m1-21h0m0 6h0m1-15h0m1-28h0m0 15h0m0 7h0m0 8h0m0 1h0m0 8h0m0 1h0m1-9h0m1 4h0m0 12h0m2-35h0m1 14h0m0 16h0m1-9h0m1 4h0m1-14h0m1-13h0m0 2h0m0 11h0m0 18h0m1-36h0m0 17h0m1 0h0m0 2h0m0 7h0m0 1h0m1-11h0m0 20h0m0 17h0m1-37h0m0 22h0m2-14h0m1-29h0m0 21h0m2-5h0m0 10h0m0 8h0m1-10h0m0 8h0m0 1h0m1-37h0m0 29h0m0 3h0m1 2h0m1 5h0m1-23h0m0 13h0m1-10h0m0 22h0m0 2h0m1-37h0m1 26h0m1-1h0m0 2h0m0 8h0m1-14h0m0 8h0m0 5h0m1-13h0m0 7h0m1 23h0m1-4h0m2-48h0m1-3h0m0 4h0m0 22h0m1 10h0m0 23h0m1-40h0m1-8h0m0 16h0m1-14h0m3 17h0m1-16h0m2-18h0m0 23h0m2 9h0m6-28h0m2 21h0m1 14h0m2-14h0m1-4h0m9 14h0m4-22h0m10 10h0" stroke="#2c5558" opacity="0.5"/><path d="M176 415h0m7-1h0m9-22h0m3 23h0m0 21h0m1-29h0m3 10h0m1-7h0m9-3h0m0 17h0m1-6h0m2-30h0m0 15h0m0 6h0m0 1h0m0 18h0m1-10h0m2-18h0m1 27h0m0 10h0m1-16h0m0 4h0m1 15h0m1-38h0m0 45h0m1-22h0m0 2h0m1-5h0m1-33h0m0 26h0m0 11h0m1-38h0m0 44h0m0 2h0m2-27h0m0 23h0m2-27h0m0 23h0m1-22h0m0 26h0m0 4h0m1-37h0m0 29h0m1-34h0m0 5h0m0 3h0m0 22h0m0 16h0m1-40h0m0 21h0m1 4h0m0 3h0m1-38h0m0 23h0m0 2h0m0 1h0m0 8h0m1-22h0m1 11h0m0 4h0m1 13h0m0 13h0m1-29h0m0 9h0m0 12h0m1-21h0m1 0h0m0 17h0m1-36h0m0 19h0m0 4h0m1-21h0m1 9h0m0 14h0m1-30h0m0 18h0m0 3h0m1 8h0m1-26h0m0 37h0m2-16h0m1-8h0m0 9h0m0 1h0m0 4h0m0 3h0m0 3h0m0 3h0m1-22h0m0 8h0m0 5h0m1-38h0m0 56h0m1-50h0m0 15h0m0 2h0m0 7h0m0 2h0m0 6h0m1-32h0m0 5h0m0 5h0m0 31h0m0 4h0m2-33h0m1 13h0m0 14h0m1-5h0m0 3h0m1-32h0m0 5h0m1 16h0m2 2h0m0 12h0m1-21h0m1 0h0m1 12h0m1-2h0m0 3h0m2-19h0m0 16h0m0 10h0m1-24h0m0 13h0m1-18h0m0 18h0m0 2h0m1-1h0m0 22h0m2-17h0m0 4h0m2-25h0m0 8h0m1 1h0m1 12h0m0 14h0m1-29h0m0 8h0m0 3h0m0 1h0m2-3h0m0 18h0m1-42h0m0 9h0m0 38h0m2-13h0m0 5h0m1-34h0m0 1h0m0 13h0m0 8h0m1-5h0m3-4h0m0 8h0m1-32h0m1 20h0m0 18h0m0 3h0m1-14h0m1-27h0m4 7h0m0 28h0m3-29h0m4 40h0m2-25h0m2-17h0m2 23h0m0 2h0m3-10h0m1-4h0m15 17h0m2-3h0" stroke="#2c5558" opacity="0.5"/><path d="M72 285h0m2-23h0m3 118h0m3-223h0m0 106h0m0 72h0m1-10h0m7-164h0m2-24h0m2 176h0m1-200h0m3 94h0m0 109h0m5 54h0m1-34h0m2-199h0m6 217h0m1 12h0m1-111h0m0 122h0m5-283h0m1 232h0m3 52h0m4-92h0m6 71h0m3-7h0m1-84h0m1 56h0m1-91h0m6 84h0m7-10h0m3 74h0m1-245h0m3 242h0m3-101h0m4-53h0m3 158h0m2-155h0m2 150h0m14-104h0m0 109h0m8-35h0m10 26h0m3-57h0m9-69h0m6 135h0m1-13h0m2 13h0m2-214h0m0 189h0m2 21h0m1-55h0m5-133h0m1 175h0m4-18h0m1 34h0m2-54h0m3-133h0m0 187h0m6-51h0m4-101h0m4 87h0m2-34h0m2 94h0m9-14h0m1 19h0m3-202h0m0 146h0m1-232h0m2 89h0m4 199h0m8-70h0m1-34h0m7-6h0m4-45h0m1 135h0m2-18h0" stroke="#4f6f73" opacity="0.42"/><path d="M70 332h0m18 31h0m1-231h0m2 243h0m3-100h0m4 43h0m6-74h0m1 30h0m8-42h0m14 136h0m3 11h0m4-107h0m1-164h0m4 109h0m1-20h0m0 54h0m7 104h0m2-110h0m1-154h0m2 6h0m0 224h0m0 42h0m4 13h0m2-61h0m0 65h0m9-21h0m2 8h0m4-145h0m13-98h0m1 120h0m0 135h0m4 0h0m4-4h0m12-30h0m1-142h0m8 156h0m6-172h0m0 100h0m0 20h0m3-63h0m0 45h0m0 6h0m6-133h0m1 211h0m3-207h0m2 88h0m1 56h0m3 40h0m1-101h0m2 81h0m1 47h0m7-39h0m1-204h0m9 225h0m1-22h0m3-182h0m3 221h0m3-148h0m4 125h0m2-62h0m4 85h0m1-177h0m4 178h0m4-200h0m4-11h0m2 25h0m6 10h0m2-58h0m0 231h0m1-26h0m1-171h0m0 90h0m1-81h0m4 192h0m1-228h0m1 228h0m1-9h0" stroke="#4f6f73" opacity="0.42"/><path d="M72 96h0m0 45h0m0 205h0m3 33h0m1-130h0m2-7h0m9 130h0m4 0h0m2-101h0m9-132h0m9 153h0m0 88h0m2-1h0m8-133h0m1-32h0m8-71h0m1 229h0m10-10h0m10-73h0m2-31h0m1 103h0m1 9h0m5-3h0m0 11h0m8-235h0m0 236h0m3-76h0m4-84h0m0 147h0m1-107h0m1 114h0m9-61h0m1 64h0m2-66h0m1-32h0m0 69h0m1-154h0m1-14h0m2 194h0m5-136h0m5 3h0m1 0h0m1-66h0m2 187h0m10-157h0m5 21h0m1 135h0m3-84h0m5 17h0m3-28h0m4 107h0m6 4h0m4-92h0m3-102h0m2 33h0m1 163h0m1-26h0m0 20h0m3-30h0m1-25h0m0 46h0m4 12h0m1-68h0m1-6h0m5-149h0m1 75h0m4 126h0m3-247h0m6 59h0m5 159h0m1-74h0m1 6h0m4-30h0m8 52h0m6 100h0m1-20h0m0 14h0" stroke="#4f6f73" opacity="0.42"/><path d="M80 371h0m3-68h0m0 74h0m4-166h0m6 66h0m1 87h0m1 12h0m1-262h0m1 261h0m4-17h0m1-155h0m1 71h0m6-68h0m0 24h0m8 2h0m1 148h0m8-29h0m1-223h0m0 53h0m3 105h0m0 30h0m0 13h0m0 46h0m3-170h0m2 124h0m11 41h0m5-144h0m5 100h0m3-67h0m3 45h0m1-68h0m2 135h0m1-152h0m4 92h0m11-37h0m0 47h0m6 51h0m4 7h0m3-187h0m1 100h0m3-89h0m1-44h0m2 211h0m1-5h0m3 0h0m1-207h0m1-66h0m0 194h0m1 15h0m1-118h0m0 91h0m6 103h0m2-97h0m4 90h0m13-99h0m5 19h0m3 56h0m2-30h0m3-34h0m1-149h0m0 37h0m0 90h0m1 46h0m1-85h0m1 76h0m7 75h0m3 5h0m8-3h0m2-57h0m22 63h0m3-268h0m2 141h0m7 47h0m0 80h0m2-192h0m4-14h0m2 184h0" stroke="#4f6f73" opacity="0.42"/><path d="M71 374h0m1-12h0m1-241h0m6 240h0m0 11h0m1-142h0m0 145h0m1-92h0m1 41h0m0 25h0m7 30h0m8-225h0m1 224h0m3-204h0m2 127h0m3 47h0m11-104h0m0 135h0m1-162h0m1-115h0m6 116h0m9-106h0m3 147h0m8-14h0m12 49h0m3 86h0m5-271h0m4 267h0m3 3h0m1-267h0m0 76h0m7-15h0m7 177h0m11 6h0m8-22h0m0 9h0m2-120h0m2-10h0m1-22h0m0 114h0m3-206h0m1 275h0m2-39h0m11-114h0m5 135h0m2-241h0m5 151h0m0 110h0m3-98h0m1-110h0m0 210h0m5-104h0m6 99h0m4-12h0m4-55h0m3-181h0m0 142h0m0 112h0m2-149h0m1 143h0m1-184h0m2 191h0m2-253h0m8 154h0m2-83h0m0 17h0m1 162h0m4-160h0m1 60h0m0 65h0m10-24h0m2-118h0m1 84h0m3-22h0m2-104h0m2 198h0m2-53h0" stroke="#4f6f73" opacity="0.42"/><path d="M71 351h0m1-218h0m4 12h0m1 177h0m2-184h0m1 240h0m1-7h0m1-14h0m1-245h0m2 261h0m3-43h0m5-15h0m2-111h0m1 47h0m4 113h0m0 16h0m2-24h0m0 21h0m5-100h0m0 68h0m8-231h0m0 226h0m0 16h0m0 21h0m2-115h0m4-24h0m3 130h0m1 2h0m8-11h0m2-23h0m15 33h0m1-117h0m3 119h0m7-230h0m2-7h0m2 89h0m1 74h0m2 0h0m6 71h0m3-125h0m2 85h0m0 45h0m6-5h0m4-256h0m3 118h0m2 119h0m1-110h0m1 116h0m2 17h0m7-213h0m0 185h0m1 22h0m3-137h0m13 151h0m1-202h0m1-32h0m1 78h0m2 25h0m10 16h0m8 105h0m9-237h0m0 242h0m11-231h0m1 235h0m4-175h0m5-1h0m0 34h0m6-5h0m10-114h0m1 230h0m5-47h0m0 41h0m1-92h0m9-153h0m5 93h0m0 170h0" stroke="#4f6f73" opacity="0.42"/><path d="M310 391h0m0 33h0m4-30h0m3 23h0m4-25h0m0 7h0m0 10h0m1-51h0m2 60h0m2-32h0m1 9h0m3-29h0m0 27h0m8 0h0m1 0h0m2-9h0m13-5h0m6 33h0m7-31h0m2 2h0m1-44h0m1 52h0m3 17h0m9-58h0m2 27h0m9-7h0m0 6h0m2-3h0m9 23h0m1-21h0m6-15h0m8-19h0m8 29h0m2 30h0m5-70h0m0 45h0m2-22h0m0 39h0m1-66h0m15 63h0m5-56h0m2 20h0m11-3h0m2-2h0m5-14h0m9 31h0m6-2h0m2 31h0m4-30h0m5-33h0m1 45h0m6-58h0m0 34h0m6 6h0m14-35h0m2-5h0m3 34h0m0 15h0m4-33h0m18-45h0m0 60h0m5-27h0m0 9h0m2-1h0m8 13h0m5 25h0m6-37h0m1 43h0m4-40h0m4 41h0m2-12h0m11-18h0m2-8h0m1-2h0m1 34h0" stroke="#3c3c3c" opacity="0.42"/><path d="M302 398h0m4-20h0m3 3h0m3 29h0m1-36h0m0 23h0m1 32h0m1-28h0m3 11h0m1-20h0m1-9h0m3-6h0m0 25h0m1-6h0m0 2h0m2-32h0m4 40h0m1-52h0m1 78h0m2-65h0m6 56h0m1-29h0m3-2h0m1-14h0m4-13h0m7 5h0m1 28h0m16-6h0m3-23h0m2 3h0m2-12h0m0 22h0m1 3h0m1-14h0m6 17h0m1-37h0m4 12h0m2 16h0m0 16h0m7-38h0m5 12h0m0 29h0m15-10h0m19-65h0m3 33h0m12-3h0m0 13h0m1 16h0m6-27h0m2-32h0m3 59h0m4-9h0m9 2h0m2-3h0m10 2h0m18-17h0m7-36h0m6-20h0m2 44h0m4 2h0m15-30h0m4 37h0m1 5h0m2-25h0m19 28h0m3-59h0m10 42h0m2-45h0m2 23h0m23 15h0m2 23h0m2-18h0m1-12h0m1 73h0m2-27h0m9-52h0" stroke="#3c3c3c" opacity="0.42"/><path d="M299 367h0m0 44h0m3-16h0m1 0h0m2-27h0m5 27h0m3-40h0m0 31h0m2-27h0m0 51h0m4-28h0m2 13h0m0 13h0m3-27h0m6 14h0m2-4h0m1-33h0m1 38h0m2-14h0m0 18h0m1-35h0m5-16h0m5 31h0m14 17h0m0 19h0m1-61h0m2 37h0m6-24h0m6 1h0m5 58h0m3-88h0m3 57h0m3-16h0m8 29h0m2-37h0m9-13h0m14 19h0m5 3h0m4 7h0m2-23h0m12 15h0m3-61h0m5 39h0m7-18h0m5 23h0m8-1h0m1 8h0m12-22h0m0 40h0m25 22h0m1-81h0m0 17h0m7-36h0m3 39h0m2-8h0m5-2h0m1-13h0m8 6h0m6-4h0m0 40h0m1 4h0m6 22h0m1-20h0m19-28h0m4-30h0m1-10h0m0 62h0m1-41h0m3-1h0m1 12h0m6 28h0m4-2h0m12 21h0m1-121h0m0 41h0m23 20h0" stroke="#3c3c3c" opacity="0.42"/><path d="M301 367h0m2 28h0m3-33h0m1 29h0m4 11h0m6 16h0m1-24h0m2-29h0m2 24h0m2 6h0m1-8h0m1 22h0m1-14h0m3-11h0m0 34h0m6-50h0m9-23h0m3 67h0m1-30h0m2-17h0m3 23h0m2-3h0m2 20h0m3-21h0m2 7h0m3-23h0m0 8h0m0 27h0m1-19h0m7 4h0m8 7h0m6-12h0m3-36h0m6 43h0m11 24h0m4-85h0m11 67h0m6-39h0m2 21h0m5 34h0m5-58h0m13 6h0m1-15h0m8-5h0m0 26h0m2-30h0m1 58h0m1-34h0m7 40h0m6-66h0m0 8h0m6-18h0m2 50h0m4 6h0m4-68h0m1 58h0m3-47h0m3 48h0m1-25h0m8 22h0m1-24h0m9-6h0m3 7h0m3 12h0m2-78h0m7 66h0m20 7h0m19 2h0m11-34h0m0 26h0m7-25h0m10 17h0m2-23h0m10 24h0m5-5h0m1 14h0" stroke="#3c3c3c" opacity="0.42"/><path d="M308 393h0m3 43h0m1-71h0m1 36h0m2-24h0m0 36h0m2-19h0m1 12h0m1 7h0m2-41h0m1 65h0m4-43h0m0 6h0m1-14h0m3 22h0m1-15h0m6 3h0m5-14h0m5-6h0m5-5h0m2 35h0m1-31h0m2 25h0m6-27h0m1-21h0m1 23h0m1-14h0m1 34h0m8-37h0m1 6h0m0 2h0m10 4h0m5 20h0m4-15h0m1-11h0m1-9h0m9-6h0m7 49h0m8-68h0m4 33h0m2 4h0m0 8h0m4-15h0m1 37h0m9-22h0m2-14h0m9-2h0m1-19h0m17 25h0m3-9h0m0 7h0m1-9h0m5 14h0m1-6h0m1-4h0m1-33h0m1 4h0m12 16h0m22 3h0m4-15h0m7 5h0m5 21h0m6-22h0m0 16h0m10-7h0m11-37h0m14 9h0m0 14h0m2 18h0m8-44h0m19 20h0m3 21h0m3 5h0m5-36h0m8 50h0" stroke="#3c3c3c" opacity="0.42"/><path d="M309 396h0m1 7h0m1-12h0m3 11h0m1 32h0m3-71h0m3 27h0m1 2h0m3 4h0m3-2h0m3-25h0m0 32h0m1-32h0m13 24h0m5 20h0m8-56h0m1-14h0m0 30h0m4 8h0m25-7h0m4-4h0m2 9h0m4-12h0m1-7h0m3 6h0m2 12h0m0 4h0m8-22h0m8 15h0m6-31h0m0 9h0m7-12h0m4 48h0m2-7h0m2-13h0m4-13h0m0 29h0m2 1h0m5-41h0m4 4h0m5 5h0m3 6h0m4-37h0m2 78h0m3-19h0m6-33h0m10-29h0m0 47h0m7 5h0m4-12h0m1 6h0m0 17h0m5-66h0m0 12h0m1 29h0m7-22h0m1 26h0m7-3h0m5 33h0m4-35h0m0 62h0m6-103h0m1 18h0m9 30h0m3-11h0m8 15h0m14 0h0m2-18h0m6 18h0m1-58h0m5 12h0m3 48h0m28-86h0m10 29h0m1 10h0" stroke="#3c3c3c" opacity="0.42"/><path d="M320 390h0m3 60h0m2-20h0m3-121h0m8 72h0m1-60h0m5 129h0m1-86h0m4-106h0m8 90h0m11 13h0m3-229h0m6 197h0m8-226h0m12 347h0m20-2h0m1 2h0m15-3h0m1-80h0m12-142h0m2 169h0m4 50h0m1-301h0m0 283h0m4 22h0m11-197h0m27 155h0m1-268h0m0 150h0m0 9h0m8-82h0m2 225h0m1-186h0m53 187h0m1-370h0m4 377h0m3-329h0m5-27h0m4 143h0m13 214h0m1-168h0m12-52h0m5 30h0m20 167h0m1-169h0m0 156h0m0 32h0m1-126h0m0 100h0" stroke="#555" opacity="0.42"/><path d="M321 220h0m5 98h0m6-198h0m13 210h0m4-152h0m8 135h0m6 135h0m1-396h0m4 82h0m31 181h0m7 132h0m11 3h0m4-231h0m4 40h0m0 129h0m3-133h0m5-156h0m0 16h0m0 34h0m2 225h0m9-166h0m1 237h0m9-126h0m5-44h0m5-144h0m22 145h0m10-72h0m6-26h0m2-42h0m0 311h0m8-48h0m14-32h0m4 71h0m9 7h0m6-216h0m31 30h0m10-6h0m12 70h0m2 66h0m14-138h0m8 61h0m4 108h0m1-36h0m0 9h0m0 13h0m0 33h0m1-41h0m0 12h0m0 19h0" stroke="#555" opacity="0.42"/></g><rect x="54.8" y="391.5" width="50.4" height="72.2" fill="none" stroke="#6e9aa0" stroke-width="0.9"/><rect x="54.8" y="464.8" width="24.3" height="20.5" fill="none" stroke="#bfe4e4" stroke-width="0.7"/><rect x="79.6" y="464.8" width="25.6" height="20.5" fill="none" stroke="#6cc2c2" stroke-width="0.8"/><rect x="43.1" y="391.5" width="10.1" height="95" fill="none" stroke="#666" stroke-width="1.1"/><path d="M42.3 388.2V514.5M42.3 514.5H169.3M42.3 398.8h-3.8M42.3 429.9h-3.8M42.3 463.9h-3.8M42.3 484.9h-3.8M42.3 506.2h-3.8" fill="none" stroke="#333" stroke-width="0.85"/><path d="M42.3 420.5h-1.9M42.3 415.1h-1.9M42.3 411.2h-1.9M42.3 408.2h-1.9M42.3 405.7h-1.9M42.3 403.6h-1.9M42.3 401.8h-1.9M42.3 400.2h-1.9M42.3 453.7h-1.9M42.3 447.7h-1.9M42.3 443.4h-1.9M42.3 440.1h-1.9M42.3 437.4h-1.9M42.3 435.2h-1.9M42.3 433.2h-1.9M42.3 431.5h-1.9M42.3 389.4h-1.9M42.3 467.2h-1.4M42.3 470.7h-1.4M42.3 474.2h-1.4M42.3 477.7h-1.4M42.3 481.2h-1.4M42.3 488.7h-1.4M42.3 492.2h-1.4M42.3 495.7h-1.4M42.3 499.2h-1.4M42.3 502.7h-1.4M42.3 509.7h-1.4M42.9 514.5v3.4M47.7 514.5v1.8M52.5 514.5v1.8M57.3 514.5v1.8M62.2 514.5v1.8M67 514.5v3.4M71.8 514.5v1.8M76.6 514.5v1.8M81.4 514.5v1.8M86.2 514.5v1.8M91.1 514.5v3.4M95.9 514.5v1.8M100.7 514.5v1.8M105.5 514.5v1.8M110.3 514.5v1.8M115.1 514.5v3.4M119.9 514.5v1.8M124.8 514.5v1.8M129.6 514.5v1.8M134.4 514.5v1.8M139.2 514.5v3.4M144 514.5v1.8M148.8 514.5v1.8M153.6 514.5v1.8M158.5 514.5v1.8M163.3 514.5v3.4M168.1 514.5v1.8" fill="none" stroke="#333" stroke-width="0.8"/><g font-size="3.9" fill="#a2a2a2" font-weight="400"><text x="36.9" y="400.1" text-anchor="end">10⁵</text><text x="36.9" y="431.2" text-anchor="end">10⁴</text><text x="36.9" y="465.2" text-anchor="end">10³</text><text x="36.9" y="486.2" text-anchor="end">0</text><text x="36.9" y="507.5" text-anchor="end">-10³</text><text x="43.4" y="523.1" text-anchor="middle">0</text><text x="67.5" y="523.1" text-anchor="middle">50K</text><text x="91.5" y="523.1" text-anchor="middle">100K</text><text x="115.6" y="523.1" text-anchor="middle">150K</text><text x="139.7" y="523.1" text-anchor="middle">200K</text><text x="163.8" y="523.1" text-anchor="middle">250K</text></g><path d="M60 492L62.9 485.9" stroke="#151515" stroke-width="0.8" fill="none"/><path d="M64.4 482.6L64.6 486.7L61.2 485.1Z" fill="#151515"/><path d="M94.8 492L92.3 486.4" stroke="#151515" stroke-width="0.8" fill="none"/><path d="M90.8 483.1L94 485.6L90.5 487.2Z" fill="#151515"/><g font-size="7.2" fill="#161616" stroke="#161616" stroke-width="0.3"><text x="58.1" y="399.5" fill="#183238" stroke="#183238">S: 2.42%</text><text x="115.6" y="400.2">&gt;4n: 3.81%</text><text x="59.2" y="499.5" text-anchor="middle">G1:</text><text x="58.6" y="510" text-anchor="middle">58.75%</text><text x="100.8" y="499.5" text-anchor="middle">G2/M:</text><text x="100.6" y="510" text-anchor="middle">24.39%</text><text transform="translate(50.2 419.2) rotate(-90)" text-anchor="middle">SubG1: 10.63%</text></g><text x="104.7" y="532.4" text-anchor="middle" font-size="9.8" stroke="#111" stroke-width="0.3">7AAD</text><text transform="translate(27.7 454.9) rotate(-90)" text-anchor="middle" font-size="9.6" stroke="#111" stroke-width="0.3">APC - BrdU</text><text x="104.7" y="378.7" text-anchor="middle" font-size="16.7" stroke="#111" stroke-width="0.3">I+T 144 h</text></g>
<g><path d="M225.3 386.7H352.3V514.5" fill="none" stroke="#d6d6d6" stroke-width="0.8"/><rect x="294.5" y="391.4" width="54" height="94.1" fill="#f7f7f7" stroke="#ececec" stroke-width="0.7"/><rect x="238.3" y="391.5" width="50.4" height="72.2" fill="#dbbdc1" stroke="none" stroke-width="0"/><rect x="238.3" y="464.8" width="24.3" height="20.5" fill="#f8e6e9" stroke="none" stroke-width="0"/><rect x="263.1" y="464.8" width="25.6" height="20.5" fill="#e38c96" stroke="none" stroke-width="0"/><rect x="226.6" y="391.5" width="10.1" height="95" fill="#cbcbcb" stroke="none" stroke-width="0"/><g class="d" fill="none" stroke-linecap="round" stroke-width="5" transform="translate(226.1 391.2) scale(0.2)"><path d="M-1 464h0m0 6h0m0 4h0m1-14h0m0 1h0m0 4h0m0 2h0m0 3h0m0 7h0m1-7h0m0 4h0m1-11h0m0 4h0m0 5h0m1-9h0m0 3h0m0 1h0m0 6h0m0 1h0m0 1h0m0 2h0m0 4h0m1-21h0m0 3h0m0 5h0m0 1h0m0 3h0m0 2h0m1-13h0m0 2h0m0 2h0m0 3h0m0 1h0m0 1h0m0 7h0m1-18h0m0 8h0m0 7h0m1 0h0m2-13h0m0 2h0m0 11h0m1-12h0m0 3h0m0 1h0m0 7h0m1-7h0m0 5h0m0 1h0m0 2h0m1 4h0m1-6h0m1-8h0m1 13h0m2-5h0m2-2h0" stroke="#111" opacity="0.5"/><path d="M-1 469h0m0 4h0m0 1h0m0 5h0m1-18h0m0 12h0m0 1h0m1-4h0m0 1h0m1-10h0m0 2h0m0 2h0m0 1h0m0 4h0m0 1h0m0 1h0m0 5h0m0 2h0m2-10h0m0 3h0m1-2h0m0 2h0m0 1h0m1-14h0m0 5h0m0 3h0m0 3h0m0 4h0m0 1h0m1-5h0m0 3h0m1-6h0m0 3h0m0 8h0m1-12h0m0 2h0m0 2h0m0 2h0m0 2h0m1-2h0m1-11h0m0 3h0m0 2h0m0 5h0m2-4h0m1-3h0m0 10h0m1-9h0m0 1h0m1 4h0m1-3h0m0 2h0m1-3h0" stroke="#111" opacity="0.5"/><path d="M-1 465h0m0 3h0m0 1h0m0 4h0m0 3h0m1-9h0m0 5h0m0 6h0m1-14h0m0 6h0m0 1h0m1-4h0m0 4h0m0 2h0m1-6h0m0 3h0m0 5h0m0 6h0m1-17h0m0 4h0m0 2h0m0 2h0m0 3h0m1-12h0m0 6h0m0 3h0m1 1h0m0 1h0m0 1h0m0 1h0m1-6h0m1-3h0m0 2h0m0 2h0m0 2h0m1-8h0m0 2h0m0 1h0m0 2h0m0 6h0m1-8h0m0 5h0m1-11h0m0 7h0m1-6h0m1 0h0m2 1h0m0 4h0m0 7h0m1-8h0m1 2h0m1 0h0m0 2h0m1-5h0m1 3h0" stroke="#111" opacity="0.5"/><path d="M0 479h0m3-12h0m1 7h0m3-6h0m0 4h0m0 4h0m1-15h0m0 11h0m1-6h0m0 2h0m2 3h0m1-4h0m0 6h0m2-14h0m0 2h0m1-4h0m3-2h0m0 1h0m0 2h0m0 3h0m2-16h0m0 8h0m0 11h0m3-11h0m1-1h0m0 2h0m0 2h0m1-9h0m1 3h0m0 1h0m1-2h0m1-6h0m0 4h0m0 4h0m2-5h0m0 5h0m1-3h0m2-6h0m2 6h0m1-3h0m0 1h0m1-15h0m1 21h0m1-8h0m0 2h0m1-7h0m1 5h0m1-2h0m5-11h0m1-1h0m9 4h0" stroke="#222" opacity="0.5"/><path d="M1 469h0m1-1h0m0 4h0m1-3h0m0 6h0m0 1h0m1-9h0m1 4h0m0 1h0m0 7h0m1-13h0m1 3h0m1-3h0m1-3h0m1 5h0m2-6h0m0 2h0m0 3h0m2-12h0m1 4h0m1-8h0m6 6h0m1-10h0m0 13h0m5-21h0m0 9h0m0 3h0m1-7h0m2 0h0m1-5h0m1-1h0m0 1h0m0 1h0m0 9h0m2-7h0m0 2h0m1 0h0m2-6h0m0 6h0m0 2h0m3-5h0m1 1h0m1-8h0m1-1h0m0 9h0m1-2h0m1-13h0m0 12h0" stroke="#222" opacity="0.5"/><path d="M0 473h0m1-5h0m1 5h0m2-1h0m1-4h0m0 4h0m1-4h0m0 2h0m0 3h0m1-2h0m0 4h0m1-6h0m1-9h0m0 4h0m1-2h0m1 5h0m1-5h0m4-7h0m2 1h0m0 3h0m0 2h0m2-6h0m0 6h0m0 1h0m2-16h0m0 4h0m1-2h0m1 9h0m0 4h0m1-6h0m1-1h0m0 8h0m1-20h0m2 2h0m1 0h0m0 6h0m2 2h0m2-23h0m2 28h0m2-27h0m0 16h0m1-2h0m1-8h0m2 4h0m2-7h0m3-12h0m0 15h0m0 6h0m3-14h0m5-2h0" stroke="#222" opacity="0.5"/><path d="M-1 471h0m2 5h0m1-5h0m1-6h0m0 3h0m0 4h0m1-7h0m0 1h0m0 6h0m3-4h0m0 3h0m1-6h0m1 4h0m1 0h0m2 0h0m0 1h0m1-5h0m1 4h0m1-12h0m1 9h0m1-5h0m1-2h0m2-5h0m0 3h0m2-3h0m1-12h0m2 8h0m1 2h0m0 6h0m5-12h0m2-5h0m2 1h0m3 4h0m1-1h0m1-6h0m2-1h0m1 3h0m0 2h0m2-13h0m0 11h0m2-14h0m0 6h0m1-5h0m3-5h0m0 18h0m1-1h0" stroke="#222" opacity="0.5"/><path d="M-1 471h0m1 5h0m2-4h0m0 1h0m0 1h0m1-8h0m0 4h0m0 1h0m1 0h0m0 4h0m0 1h0m2-14h0m0 4h0m0 3h0m1-4h0m2-1h0m2-5h0m0 1h0m0 8h0m2-7h0m0 3h0m0 7h0m1-18h0m0 3h0m0 8h0m1-6h0m1 0h0m2 2h0m1-6h0m0 13h0m1-16h0m0 7h0m1-9h0m1-1h0m3 5h0m1-3h0m5-1h0m2-7h0m0 9h0m1 3h0m1-10h0m1-12h0m0 8h0m2-1h0m8 2h0m0 10h0m8-14h0" stroke="#222" opacity="0.5"/><path d="M0 475h0m2-5h0m1 1h0m0 5h0m1-11h0m0 5h0m0 2h0m1 0h0m0 2h0m1-12h0m0 15h0m2-12h0m0 9h0m1-10h0m0 2h0m1 1h0m0 5h0m1-16h0m1 4h0m0 1h0m2 2h0m1 1h0m0 3h0m0 1h0m1-11h0m0 1h0m1-4h0m1 6h0m0 2h0m3-8h0m0 6h0m1-11h0m0 3h0m5-1h0m1-1h0m9-5h0m0 1h0m1-7h0m2-5h0m0 5h0m0 6h0m2-8h0m1-1h0m1 2h0m0 15h0m6-15h0m1-4h0m1 1h0m5 1h0" stroke="#222" opacity="0.5"/><path d="M82 433h0m3-5h0m1-7h0m0 20h0m6-2h0m1-23h0m0 7h0m1-6h0m0 2h0m1 26h0m1-10h0m0 5h0m1-16h0m1 9h0m1-3h0m1-11h0m0 35h0m1-27h0m1-14h0m0 10h0m1-3h0m0 1h0m0 10h0m4-11h0m0 9h0m0 2h0m0 1h0m0 5h0m2-21h0m0 5h0m0 11h0m0 7h0m1-19h0m0 10h0m0 10h0m1-20h0m0 16h0m0 2h0m1-24h0m0 13h0m0 13h0m1-7h0m1-8h0m0 5h0m1-7h0m0 10h0m0 3h0m1-16h0m1 6h0m0 11h0m1-13h0m0 1h0m1-19h0m0 15h0m2-12h0m0 18h0m0 3h0m0 7h0m1-2h0m1-12h0m1-8h0m0 2h0m2-2h0m2 2h0m1-5h0m0 12h0m0 2h0m0 10h0m1-12h0m0 9h0m1-29h0m0 12h0m1-1h0m0 9h0m1-13h0m1 1h0m0 14h0m1-8h0m1-14h0m0 4h0m0 22h0m1-22h0m0 17h0m0 9h0m2-21h0m0 5h0m0 6h0m0 15h0m1-34h0m0 12h0m0 8h0m1-2h0m1-5h0m0 6h0m3-13h0m1 9h0m0 4h0m0 2h0m0 13h0m1-34h0m0 5h0m1 6h0m1 3h0m1-2h0m0 7h0m2-11h0m1 17h0m4-24h0m3-10h0m0 30h0m3-3h0m1-2h0m1-11h0m0 7h0m2-13h0" stroke="#5a4146" opacity="0.5"/><path d="M66 442h0m5 4h0m3-16h0m6 18h0m1 2h0m1-3h0m7-12h0m1 2h0m1-2h0m1 15h0m1-27h0m0 19h0m1-3h0m0 9h0m2-22h0m2-6h0m1-7h0m1 3h0m0 10h0m0 19h0m1-21h0m1 7h0m4-21h0m0 28h0m1-18h0m0 25h0m1-21h0m0 16h0m0 2h0m1-14h0m0 2h0m1 6h0m1-21h0m0 8h0m0 17h0m0 2h0m1-23h0m0 2h0m0 5h0m1-4h0m0 5h0m0 10h0m0 4h0m1-21h0m0 3h0m0 1h0m0 1h0m2-16h0m1 1h0m1-4h0m0 11h0m0 23h0m1-33h0m0 3h0m1-6h0m1 16h0m0 7h0m0 2h0m1 4h0m1-18h0m0 8h0m0 4h0m1-8h0m0 7h0m0 5h0m0 4h0m1-4h0m1-22h0m0 10h0m0 21h0m1-20h0m0 6h0m0 15h0m1-6h0m1-5h0m1-14h0m0 6h0m0 3h0m0 9h0m2-30h0m0 15h0m0 10h0m3 2h0m1-26h0m0 3h0m0 17h0m1-7h0m0 4h0m0 7h0m0 3h0m1-21h0m0 1h0m1 1h0m1-7h0m0 33h0m2-21h0m0 2h0m1 8h0m1-12h0m0 10h0m1-3h0m0 11h0m4-19h0m1-8h0m0 21h0m3-19h0m0 12h0m0 2h0m0 3h0m2-4h0m2-6h0m0 2h0m4-2h0m2-7h0m1-1h0" stroke="#5a4146" opacity="0.5"/><path d="M79 443h0m6 2h0m1-3h0m1-15h0m5 15h0m2-25h0m0 12h0m1 5h0m1-7h0m0 8h0m1-5h0m1-9h0m1-1h0m2 15h0m1-17h0m0 16h0m1-10h0m0 2h0m0 7h0m1-14h0m0 12h0m0 5h0m0 2h0m0 3h0m0 11h0m1-25h0m0 6h0m1-8h0m0 2h0m1 4h0m0 12h0m1-33h0m0 6h0m0 10h0m0 8h0m2-23h0m0 21h0m0 2h0m2-14h0m0 17h0m1-8h0m0 1h0m0 2h0m1-17h0m2 19h0m1-5h0m0 1h0m2-3h0m0 5h0m1-28h0m0 27h0m0 2h0m1-26h0m0 9h0m0 22h0m1-22h0m0 5h0m1-9h0m0 2h0m0 4h0m0 2h0m0 1h0m0 8h0m0 9h0m1-33h0m0 6h0m0 10h0m0 14h0m1-9h0m0 7h0m0 3h0m1-23h0m0 11h0m0 2h0m1-4h0m0 6h0m1-8h0m1 0h0m0 1h0m1-10h0m0 7h0m0 10h0m0 1h0m0 15h0m1-29h0m1 7h0m0 11h0m1-12h0m2 1h0m1-15h0m0 22h0m1-17h0m2-8h0m3 7h0m0 4h0m1 6h0m2-9h0m2 2h0m0 10h0m1-1h0m0 15h0m1-34h0m0 12h0m1 1h0m2-10h0m0 29h0m2-27h0m2 25h0m1-24h0m2-8h0m1 8h0m1 20h0m1-12h0m2-5h0" stroke="#5a4146" opacity="0.5"/><path d="M79 446h0m1-10h0m2-5h0m1-1h0m0 16h0m1-14h0m1-14h0m2 13h0m0 1h0m1-18h0m0 23h0m1-18h0m1 0h0m0 10h0m0 3h0m1-2h0m1-2h0m4 21h0m3-9h0m1-13h0m1 23h0m4-32h0m0 4h0m0 6h0m1-11h0m0 1h0m0 8h0m1-4h0m0 13h0m1-18h0m1-11h0m1 26h0m0 2h0m1-27h0m0 26h0m0 5h0m0 1h0m1-20h0m0 1h0m0 7h0m0 15h0m1-17h0m1-8h0m0 10h0m0 2h0m1-8h0m1-1h0m0 5h0m0 5h0m0 3h0m0 8h0m1-2h0m0 4h0m0 1h0m1-5h0m1-13h0m0 5h0m0 8h0m1-21h0m1 1h0m1-12h0m0 21h0m0 12h0m1-33h0m0 22h0m0 1h0m0 5h0m0 3h0m1-30h0m0 31h0m1 6h0m2-24h0m0 7h0m1-14h0m0 14h0m0 10h0m1-29h0m0 6h0m0 16h0m1-6h0m1-14h0m2 2h0m0 2h0m0 4h0m2-4h0m0 6h0m0 9h0m1-4h0m1-3h0m0 3h0m1-16h0m0 16h0m1-11h0m0 12h0m1-10h0m1 4h0m0 15h0m1-25h0m0 7h0m0 8h0m1-16h0m0 15h0m0 3h0m2-15h0m0 1h0m1-6h0m1 12h0m0 12h0m1-28h0m1 29h0m1-7h0m1-8h0m1-10h0m1 23h0m2-25h0m7-3h0m1 6h0" stroke="#5a4146" opacity="0.5"/><path d="M74 452h0m7-20h0m2-2h0m1 5h0m1 1h0m1-5h0m1-3h0m1-4h0m1 8h0m2 8h0m1-14h0m1 6h0m3 2h0m3 1h0m1-18h0m0 5h0m0 1h0m0 10h0m1-26h0m0 17h0m0 9h0m2 3h0m1-1h0m1-16h0m0 9h0m1 5h0m0 2h0m0 1h0m0 12h0m1-26h0m0 5h0m1 3h0m0 9h0m1-10h0m0 2h0m1-7h0m0 3h0m1 6h0m1-20h0m0 6h0m0 5h0m0 2h0m0 1h0m1-7h0m0 9h0m0 3h0m0 4h0m0 4h0m2-9h0m0 4h0m1-21h0m0 12h0m1-10h0m1 10h0m0 3h0m1 3h0m1 0h0m0 2h0m0 2h0m1-17h0m0 10h0m0 4h0m1-16h0m0 10h0m0 4h0m1-15h0m1-5h0m0 18h0m1-15h0m0 4h0m0 20h0m1-18h0m0 5h0m1-7h0m0 5h0m1-8h0m0 9h0m1 3h0m1-13h0m0 1h0m0 14h0m1-20h0m0 14h0m1-3h0m1-9h0m0 3h0m0 2h0m0 27h0m1-30h0m1 11h0m0 14h0m2-21h0m1-1h0m0 17h0m1-25h0m0 3h0m1 14h0m1-10h0m1 0h0m0 10h0m1 15h0m5-26h0m0 13h0m1-7h0m5-22h0m0 15h0m1 17h0m1-18h0m1-10h0m1 1h0m0 26h0m1 3h0m1-22h0m1 3h0m1-12h0m13 16h0" stroke="#5a4146" opacity="0.5"/><path d="M72 442h0m5 0h0m2-1h0m4-7h0m0 11h0m4-18h0m0 2h0m0 23h0m2-13h0m1-22h0m2 13h0m3 5h0m2 9h0m2-20h0m0 2h0m0 4h0m3-13h0m2-2h0m0 16h0m0 11h0m1-21h0m0 16h0m1-19h0m0 2h0m0 16h0m1 4h0m1-24h0m1 18h0m0 1h0m0 8h0m1-17h0m0 6h0m1-8h0m0 7h0m0 8h0m1-25h0m0 3h0m2 11h0m1-6h0m0 14h0m1-26h0m0 30h0m2-29h0m0 6h0m0 6h0m0 1h0m0 18h0m1-30h0m0 4h0m0 3h0m0 8h0m1-12h0m0 19h0m0 5h0m0 1h0m1-18h0m0 19h0m1-5h0m1-13h0m0 3h0m1-21h0m0 2h0m0 7h0m0 12h0m1-12h0m0 7h0m0 3h0m0 5h0m1 9h0m0 1h0m0 4h0m1-11h0m1-10h0m0 10h0m1-12h0m2-19h0m0 15h0m0 10h0m0 15h0m2-19h0m0 6h0m0 2h0m0 5h0m1-1h0m1-23h0m0 10h0m1-14h0m0 14h0m0 2h0m1-17h0m2 25h0m1-1h0m0 7h0m2-31h0m0 2h0m0 11h0m1-2h0m0 2h0m0 7h0m1 1h0m1-10h0m0 5h0m1-21h0m0 5h0m1 20h0m4 1h0m8-11h0m0 1h0m1-7h0m0 2h0m5 9h0m4-15h0m0 6h0m6-10h0" stroke="#5a4146" opacity="0.5"/><path d="M161 421h0m11-4h0m6 9h0m2-36h0m2 13h0m0 20h0m2-27h0m3 12h0m2 1h0m1 6h0m2-7h0m0 9h0m3-38h0m2 22h0m1 10h0m1 16h0m2-36h0m2 34h0m1-40h0m0 4h0m3 10h0m1 39h0m2-19h0m1-12h0m0 9h0m0 1h0m1-14h0m0 7h0m1-3h0m1-30h0m1 38h0m0 10h0m1-30h0m0 4h0m1 4h0m0 2h0m0 13h0m0 15h0m1-60h0m0 22h0m0 15h0m0 20h0m1-15h0m0 11h0m1-37h0m0 5h0m0 3h0m0 21h0m1 4h0m1-15h0m0 5h0m0 23h0m2-42h0m0 4h0m0 16h0m0 5h0m1-43h0m0 35h0m0 28h0m1-20h0m0 15h0m1-67h0m0 22h0m0 5h0m1-19h0m0 22h0m1-8h0m0 22h0m1-26h0m1-17h0m1 46h0m0 7h0m1-39h0m0 20h0m0 5h0m0 11h0m0 1h0m1-42h0m0 7h0m0 11h0m0 10h0m1-13h0m0 11h0m0 1h0m0 25h0m1-48h0m0 12h0m0 4h0m0 4h0m0 10h0m0 4h0m1-38h0m0 18h0m0 3h0m0 13h0m1-30h0m0 2h0m0 14h0m0 4h0m0 1h0m0 9h0m1-18h0m0 8h0m0 6h0m0 10h0m1-29h0m0 25h0m1-18h0m0 8h0m1 2h0m0 22h0m1-29h0m0 6h0m0 21h0m1-32h0m0 3h0m0 22h0m1-35h0m0 3h0m0 8h0m0 14h0m0 3h0m0 1h0m1-35h0m0 27h0m0 5h0m0 6h0m0 5h0m0 1h0m0 2h0m0 5h0m1-23h0m0 2h0m0 3h0m0 17h0m1-20h0m1-14h0m0 25h0m0 16h0m1-40h0m0 9h0m0 6h0m0 1h0m1-16h0m0 10h0m0 16h0m2-28h0m0 10h0m0 4h0m1-11h0m0 8h0m0 8h0m1-8h0m0 13h0m1-47h0m0 25h0m0 15h0m1-19h0m0 10h0m0 2h0m0 13h0m1-27h0m0 3h0m0 3h0m0 3h0m0 10h0m0 10h0m1-16h0m1-28h0m0 12h0m0 5h0m0 10h0m0 8h0m1-23h0m0 26h0m1-33h0m0 1h0m0 26h0m1-24h0m0 11h0m0 6h0m1 14h0m1-14h0m0 10h0m0 8h0m0 5h0m1-32h0m1-17h0m0 19h0m0 3h0m0 5h0m0 8h0m1-5h0m0 5h0m0 3h0m1-44h0m0 39h0m0 1h0m1-38h0m1 31h0m1 19h0m1-31h0m0 15h0m1-18h0m0 1h0m0 23h0m1-14h0m1 9h0m1-37h0m0 25h0m0 15h0m0 11h0m1-36h0m0 27h0m0 21h0m1-50h0m0 5h0m2 2h0m0 11h0m0 15h0m1-31h0m0 2h0m0 32h0m1-17h0m2-12h0m0 10h0m1-16h0m1-8h0m0 18h0m1 2h0m1 1h0m1 28h0m1-22h0m1-26h0m1-1h0m1-6h0m2 34h0m15-5h0m0 9h0m1-36h0m1 28h0m9 7h0" stroke="#5a0d17" opacity="0.5"/><path d="M163 404h0m2 15h0m0 9h0m1-9h0m9-5h0m2-19h0m1 19h0m8-6h0m4 5h0m0 12h0m0 11h0m1-20h0m1 21h0m1-37h0m0 5h0m1-5h0m0 26h0m1-43h0m0 17h0m0 5h0m0 16h0m1-21h0m0 18h0m1 4h0m1-34h0m0 51h0m1-25h0m1-6h0m0 8h0m1-35h0m0 22h0m1-14h0m0 12h0m1-6h0m2 13h0m1 3h0m0 1h0m0 5h0m0 16h0m1-49h0m0 48h0m1-24h0m0 8h0m0 6h0m1-34h0m1-6h0m0 51h0m2-15h0m1-27h0m1 15h0m2-11h0m0 1h0m0 18h0m0 1h0m1-9h0m1-34h0m0 12h0m0 6h0m0 32h0m1-24h0m0 7h0m0 7h0m0 29h0m1-30h0m1-33h0m0 3h0m0 30h0m1-40h0m0 28h0m0 10h0m1-15h0m0 11h0m1-5h0m0 16h0m1-24h0m1 1h0m0 2h0m1 0h0m0 2h0m0 4h0m0 9h0m1 6h0m1-22h0m0 25h0m0 1h0m1-30h0m0 20h0m0 2h0m0 2h0m0 8h0m1-31h0m0 33h0m0 3h0m2-36h0m0 3h0m0 6h0m1-8h0m0 3h0m0 1h0m2-3h0m0 38h0m1-62h0m0 7h0m0 6h0m0 8h0m0 6h0m0 9h0m0 2h0m0 3h0m0 6h0m0 2h0m0 4h0m1-32h0m0 37h0m1-27h0m0 4h0m0 9h0m0 2h0m1 9h0m1-42h0m0 19h0m0 1h0m0 4h0m1-20h0m0 22h0m0 5h0m1-20h0m0 9h0m0 20h0m1-44h0m1 11h0m0 20h0m1-27h0m0 26h0m0 10h0m1-29h0m0 4h0m0 20h0m0 27h0m2-36h0m0 3h0m1-29h0m0 30h0m0 14h0m1-25h0m0 5h0m1-27h0m0 18h0m0 3h0m0 1h0m0 10h0m1-15h0m0 2h0m0 16h0m1 1h0m1-25h0m0 30h0m0 6h0m1-24h0m0 2h0m0 5h0m0 4h0m3-10h0m0 12h0m0 25h0m1-55h0m0 8h0m0 1h0m1-15h0m0 2h0m0 2h0m0 3h0m0 35h0m1-33h0m0 12h0m0 29h0m1-29h0m1 7h0m2-26h0m0 2h0m0 13h0m0 16h0m0 6h0m2-28h0m0 22h0m1-44h0m0 29h0m1-4h0m0 6h0m0 6h0m0 28h0m4-70h0m0 37h0m0 6h0m1-6h0m1-30h0m0 6h0m0 21h0m0 8h0m0 5h0m0 7h0m0 4h0m0 5h0m1-39h0m0 12h0m0 4h0m1-7h0m0 17h0m0 6h0m1-13h0m1 8h0m1-14h0m1-5h0m1 4h0m0 9h0m1-30h0m1 29h0m0 3h0m2-25h0m0 30h0m1-18h0m0 16h0m0 8h0m1-25h0m1 1h0m0 9h0m2-27h0m1 20h0m0 3h0m1-14h0m0 26h0m1-43h0m1 38h0m1 2h0m0 6h0m2-28h0m1 11h0m2-15h0m5-13h0m1 33h0m0 9h0m9-15h0m1-25h0m5 29h0" stroke="#5a0d17" opacity="0.5"/><path d="M161 413h0m3 0h0m4-2h0m2-8h0m1 18h0m3 10h0m3-13h0m1-1h0m1-10h0m3-3h0m2-6h0m4 20h0m1-20h0m2 22h0m3 14h0m1-30h0m1 19h0m1 2h0m1-25h0m0 7h0m0 19h0m1-38h0m0 30h0m2-5h0m1-20h0m0 29h0m0 18h0m2-42h0m1-8h0m0 33h0m1-35h0m0 13h0m0 31h0m1-25h0m0 14h0m1-12h0m1-13h0m0 21h0m1-5h0m0 9h0m1 3h0m0 4h0m0 3h0m1-2h0m1-32h0m1 7h0m0 5h0m1-18h0m0 13h0m1 1h0m1-28h0m0 33h0m0 4h0m1-24h0m0 14h0m0 10h0m0 9h0m1-29h0m0 14h0m0 4h0m1 14h0m1-12h0m0 15h0m1-39h0m0 15h0m0 26h0m1-58h0m0 41h0m2-24h0m1-14h0m0 3h0m0 10h0m0 17h0m1-32h0m0 10h0m0 11h0m0 23h0m1-34h0m0 28h0m0 10h0m1-23h0m1-8h0m0 15h0m1 37h0m1-53h0m0 11h0m0 4h0m0 16h0m0 4h0m1-27h0m0 11h0m0 11h0m2-4h0m0 10h0m1-22h0m0 11h0m1-33h0m0 11h0m0 8h0m1-25h0m0 9h0m0 16h0m0 4h0m1-16h0m0 27h0m0 2h0m0 5h0m1-33h0m0 1h0m0 17h0m1-11h0m0 1h0m0 39h0m1-34h0m1 5h0m0 8h0m1-19h0m0 9h0m0 18h0m0 11h0m1-37h0m0 5h0m0 10h0m0 10h0m0 2h0m1-7h0m1-53h0m0 40h0m0 5h0m0 1h0m0 14h0m0 11h0m1-6h0m1-11h0m0 13h0m1-28h0m0 1h0m0 4h0m0 19h0m1-38h0m0 3h0m0 2h0m0 8h0m0 2h0m0 33h0m1-50h0m0 17h0m0 1h0m1-35h0m0 25h0m0 4h0m0 4h0m0 4h0m1-28h0m1 21h0m0 1h0m0 3h0m0 13h0m0 10h0m1-32h0m0 5h0m0 16h0m1-30h0m0 1h0m0 4h0m0 19h0m1-9h0m0 10h0m0 16h0m1-58h0m0 13h0m0 19h0m1-9h0m0 4h0m0 11h0m1-16h0m0 13h0m1-2h0m1-7h0m2 22h0m1-30h0m0 21h0m0 3h0m0 7h0m0 9h0m1-17h0m0 17h0m1-27h0m0 9h0m0 17h0m1-49h0m0 7h0m0 40h0m1-33h0m1-12h0m1 37h0m1-37h0m0 26h0m1-24h0m1 9h0m0 6h0m0 21h0m0 2h0m1-32h0m0 17h0m0 7h0m1 0h0m0 6h0m1-23h0m1-11h0m0 4h0m0 20h0m1 9h0m2-31h0m0 23h0m1-14h0m1 1h0m0 1h0m0 1h0m1 5h0m3-6h0m0 3h0m1 23h0m3-43h0m0 3h0m0 4h0m0 14h0m2-13h0m0 1h0m6-10h0m0 3h0m1-18h0m1 11h0m2 22h0m1 11h0m1-3h0m1-16h0m2 6h0m5 18h0m2-29h0m4 2h0m4-13h0m2 12h0" stroke="#5a0d17" opacity="0.5"/><path d="M163 422h0m1-15h0m15-10h0m0 12h0m0 10h0m1 12h0m3-25h0m1-12h0m0 6h0m2 19h0m2-14h0m0 12h0m2 3h0m1 8h0m1-28h0m0 7h0m0 9h0m0 3h0m0 7h0m2-18h0m0 17h0m1 5h0m2-34h0m0 33h0m2-24h0m1-1h0m0 5h0m0 4h0m0 27h0m1-34h0m1 9h0m1-12h0m2 3h0m0 5h0m1-3h0m0 10h0m2-8h0m2 13h0m2-48h0m0 18h0m1 30h0m2-22h0m0 27h0m0 6h0m1-45h0m0 19h0m1-24h0m0 40h0m2-21h0m0 14h0m1-17h0m0 14h0m0 14h0m0 6h0m1-46h0m0 1h0m0 15h0m1-1h0m1-22h0m0 1h0m0 37h0m1 8h0m0 10h0m2-29h0m0 24h0m1-33h0m1-2h0m0 4h0m0 8h0m0 19h0m1-29h0m0 36h0m1-45h0m1 11h0m0 8h0m1-28h0m0 9h0m0 1h0m0 16h0m0 7h0m0 8h0m1-27h0m0 10h0m0 20h0m1-25h0m0 14h0m1-15h0m0 3h0m0 34h0m1-31h0m0 16h0m0 10h0m1-43h0m0 6h0m0 2h0m1-14h0m0 21h0m0 11h0m0 14h0m1-38h0m0 21h0m0 4h0m1-41h0m0 7h0m0 28h0m0 20h0m1-48h0m0 11h0m0 9h0m0 1h0m0 1h0m0 27h0m1-53h0m0 5h0m0 10h0m0 10h0m0 1h0m0 28h0m1-50h0m0 9h0m1-9h0m0 19h0m0 6h0m0 3h0m0 10h0m0 3h0m1-8h0m0 2h0m1-13h0m0 5h0m0 5h0m0 19h0m1-32h0m0 19h0m0 2h0m1-21h0m0 22h0m0 3h0m1-16h0m0 1h0m1-24h0m0 18h0m0 2h0m0 6h0m0 10h0m1-19h0m1-19h0m0 14h0m0 28h0m1-39h0m1-24h0m0 19h0m0 15h0m0 9h0m0 6h0m1 0h0m1-9h0m0 9h0m1-31h0m0 3h0m0 30h0m1-38h0m0 15h0m0 19h0m0 7h0m0 5h0m1 3h0m1-45h0m0 9h0m0 13h0m2-18h0m1 0h0m0 3h0m0 8h0m1 14h0m1-27h0m0 15h0m0 32h0m1-59h0m0 13h0m0 4h0m0 6h0m0 12h0m1-16h0m0 1h0m0 12h0m0 11h0m1-25h0m0 32h0m1-32h0m0 5h0m0 32h0m1-17h0m1-23h0m0 1h0m0 13h0m0 3h0m0 8h0m1-27h0m0 8h0m0 9h0m0 30h0m1-45h0m0 24h0m0 3h0m1-50h0m1 27h0m0 9h0m1 8h0m1-13h0m0 2h0m1 1h0m0 11h0m1 5h0m1-14h0m1-25h0m0 9h0m0 8h0m1-16h0m0 22h0m0 6h0m1-17h0m0 36h0m2-27h0m5 0h0m0 2h0m3 12h0m1-25h0m0 8h0m0 18h0m1 6h0m1-6h0m0 3h0m1-17h0m0 1h0m1 0h0m2-28h0m2 34h0m2-16h0m1 25h0m0 4h0m1-13h0m14-4h0" stroke="#5a0d17" opacity="0.5"/><path d="M166 422h0m6-25h0m3 0h0m3 20h0m1-15h0m0 16h0m0 3h0m2-13h0m4-7h0m2 21h0m1-30h0m2-12h0m0 54h0m1-13h0m2-16h0m0 5h0m1-31h0m0 11h0m0 26h0m3-26h0m1 16h0m1 0h0m0 1h0m0 9h0m1-25h0m0 23h0m1-11h0m0 3h0m0 14h0m1-37h0m0 2h0m0 40h0m1-4h0m1-5h0m1 1h0m1-31h0m0 10h0m1 6h0m1-5h0m0 8h0m0 8h0m0 14h0m1-46h0m0 29h0m0 14h0m1-9h0m0 2h0m2-44h0m0 42h0m1-2h0m1-18h0m1-22h0m0 33h0m0 10h0m2-17h0m1-3h0m1-4h0m0 37h0m1-37h0m0 15h0m1-1h0m0 13h0m1-37h0m0 10h0m0 14h0m0 16h0m1-25h0m0 19h0m1-26h0m0 4h0m0 18h0m1-35h0m0 21h0m0 8h0m0 2h0m1-22h0m0 6h0m0 40h0m1-17h0m0 4h0m1-36h0m0 39h0m1-29h0m0 11h0m1-27h0m0 22h0m1 4h0m0 4h0m0 14h0m2-31h0m0 3h0m0 21h0m0 13h0m0 13h0m1-65h0m1 10h0m0 33h0m0 2h0m0 1h0m1-11h0m0 8h0m1-26h0m0 12h0m0 22h0m1-29h0m1 10h0m0 3h0m1-16h0m0 8h0m0 2h0m0 16h0m0 4h0m1-25h0m0 1h0m0 23h0m0 1h0m1-41h0m0 17h0m0 18h0m1-22h0m1 1h0m0 5h0m0 2h0m0 2h0m0 9h0m1-40h0m0 16h0m0 15h0m0 11h0m1-47h0m1 24h0m0 19h0m0 5h0m1-42h0m0 1h0m0 23h0m1-25h0m0 13h0m0 12h0m1-6h0m0 1h0m0 3h0m0 1h0m0 2h0m0 11h0m0 2h0m1-9h0m0 4h0m1-29h0m1 33h0m1-24h0m0 5h0m1 6h0m0 11h0m0 2h0m0 17h0m0 6h0m1-50h0m0 3h0m0 6h0m0 15h0m2-11h0m0 4h0m0 17h0m0 2h0m1-43h0m0 5h0m1 11h0m1-17h0m1-13h0m0 31h0m0 14h0m1-8h0m0 12h0m0 14h0m1-33h0m0 9h0m0 3h0m1-13h0m0 7h0m0 6h0m0 10h0m1-10h0m0 15h0m1-33h0m0 1h0m1-1h0m0 13h0m0 19h0m1-29h0m0 4h0m1 1h0m0 1h0m0 20h0m0 5h0m1-23h0m0 2h0m0 6h0m0 13h0m1-10h0m1 0h0m1-33h0m0 48h0m1-46h0m1-5h0m0 27h0m0 13h0m1-31h0m0 8h0m0 2h0m0 6h0m0 18h0m1-31h0m0 26h0m1-13h0m1-12h0m1-29h0m0 24h0m0 10h0m0 8h0m1-16h0m1-6h0m0 12h0m0 19h0m1-32h0m0 22h0m1-13h0m0 16h0m0 5h0m1-33h0m1 31h0m1-15h0m1 5h0m1-18h0m1 19h0m1 7h0m0 9h0m4-25h0m1 0h0m2-20h0m4 23h0m2 10h0m2-19h0m3 11h0m1 8h0m0 13h0m9-28h0m4-13h0" stroke="#5a0d17" opacity="0.5"/><path d="M159 421h0m7-8h0m3-8h0m2-4h0m6 9h0m6 28h0m2-28h0m3 6h0m4-23h0m0 12h0m1 4h0m1-2h0m0 20h0m1-34h0m1 7h0m0 8h0m1-17h0m2 29h0m2-35h0m0 9h0m0 19h0m0 8h0m0 3h0m2-2h0m1 3h0m1-42h0m0 33h0m1-12h0m3 10h0m1-43h0m2 40h0m1-13h0m1 21h0m1-10h0m0 7h0m1 3h0m1-23h0m1 6h0m0 6h0m0 3h0m1-16h0m0 1h0m0 2h0m0 6h0m1-10h0m0 26h0m2-31h0m0 24h0m0 8h0m1-39h0m0 37h0m1-9h0m0 3h0m0 6h0m0 11h0m2-35h0m0 16h0m0 7h0m1-18h0m0 17h0m1-12h0m0 1h0m0 37h0m1-62h0m0 14h0m0 6h0m0 2h0m0 4h0m0 11h0m0 7h0m1-7h0m1-45h0m0 32h0m0 14h0m0 3h0m2-23h0m0 7h0m1-11h0m0 28h0m1-35h0m0 41h0m1-32h0m0 10h0m0 6h0m0 12h0m0 4h0m1-59h0m0 40h0m0 13h0m0 7h0m2-40h0m0 9h0m1-8h0m0 35h0m1-31h0m1-9h0m0 16h0m1-33h0m0 9h0m0 16h0m1-1h0m0 7h0m0 7h0m1-21h0m1 3h0m1 2h0m0 12h0m0 9h0m1-19h0m0 6h0m0 15h0m0 21h0m1-62h0m0 13h0m0 7h0m0 13h0m1-43h0m0 32h0m0 4h0m0 3h0m0 10h0m0 20h0m1-50h0m1 5h0m0 19h0m1-38h0m0 37h0m0 9h0m1-29h0m0 7h0m0 16h0m0 2h0m1-17h0m0 14h0m0 18h0m1-40h0m0 12h0m0 11h0m1-16h0m1-25h0m0 22h0m0 2h0m0 24h0m0 8h0m1-32h0m0 18h0m1-20h0m0 4h0m0 12h0m1-33h0m0 28h0m0 3h0m0 1h0m1-25h0m0 14h0m0 6h0m1-17h0m0 27h0m0 14h0m0 4h0m0 8h0m1-25h0m1-12h0m1-31h0m0 11h0m0 18h0m1-17h0m0 24h0m1-14h0m0 1h0m0 9h0m1-30h0m0 44h0m1-43h0m0 28h0m0 1h0m0 4h0m0 2h0m1-29h0m0 4h0m0 1h0m0 8h0m0 27h0m1-19h0m0 12h0m0 4h0m1-36h0m0 31h0m1-47h0m0 24h0m0 1h0m0 12h0m0 2h0m0 1h0m1-24h0m0 6h0m0 28h0m1-40h0m0 37h0m0 10h0m1-12h0m1-41h0m0 49h0m1-9h0m1-12h0m0 9h0m0 4h0m1-27h0m0 9h0m1-15h0m0 12h0m0 6h0m1-4h0m0 22h0m0 12h0m1-39h0m0 12h0m0 19h0m2-33h0m0 8h0m0 34h0m2-37h0m0 14h0m0 4h0m1-20h0m1-7h0m1 31h0m1-41h0m0 28h0m0 1h0m0 29h0m1-22h0m1-13h0m1-10h0m1-6h0m1-3h0m0 27h0m1-1h0m1-6h0m0 20h0m0 14h0m1-25h0m1-9h0m6-21h0m0 37h0m1-13h0m6 7h0m1-15h0m4 9h0" stroke="#5a0d17" opacity="0.5"/><path d="M76 315h0m1-129h0m16 130h0m0 41h0m4-188h0m4 98h0m1-207h0m0 300h0m3-253h0m2 56h0m27 20h0m0 44h0m0 133h0m6-106h0m1 14h0m2-193h0m7 203h0m0 68h0m5-256h0m9 182h0m2-83h0m1 54h0m5-180h0m8 149h0m18 75h0m3 72h0m1-326h0m2 306h0m1-136h0m2 97h0m8-171h0m0 27h0m8-85h0m4 245h0m2-188h0m8 182h0m2-97h0m1 30h0m4 17h0m2 99h0m1-28h0m4 12h0m9-33h0m13 46h0m26-265h0m6 202h0" stroke="#8a5d63" opacity="0.42"/><path d="M70 244h0m13 49h0m15-87h0m13-165h0m3 10h0m2 20h0m0 206h0m11 81h0m3-157h0m5 65h0m1-27h0m4-99h0m12-10h0m1 201h0m1-33h0m2-70h0m8-101h0m3 100h0m2-184h0m2 93h0m0 134h0m9 64h0m3-165h0m8 138h0m15-2h0m1-140h0m1 87h0m1-90h0m2-43h0m0 106h0m2 113h0m17-188h0m3 3h0m4 205h0m13-21h0m1-119h0m5 38h0m2-22h0m18-175h0m8 172h0m4-148h0m7 244h0m3-177h0m1 37h0m1-76h0m8 52h0" stroke="#8a5d63" opacity="0.42"/><path d="M75 205h0m6-112h0m2 205h0m3-135h0m9 111h0m1-194h0m2 233h0m5-250h0m1-30h0m4 105h0m5 4h0m5 189h0m3-229h0m3 233h0m3 23h0m11-170h0m2 17h0m15-31h0m3-70h0m3-52h0m3 300h0m1-106h0m6 113h0m3 0h0m2-1h0m13-320h0m27 302h0m1 16h0m16-203h0m0 202h0m12-279h0m2 212h0m1-59h0m10 126h0m8-37h0m1-2h0m10-43h0m8 59h0m1-163h0m3 77h0m3 4h0m4-203h0m0 303h0m7 6h0m6-91h0" stroke="#8a5d63" opacity="0.42"/><path d="M73 245h0m3-196h0m0 216h0m3-55h0m0 146h0m16-77h0m19-133h0m0 208h0m8-292h0m2 229h0m4 66h0m4-202h0m7 178h0m18-26h0m0 6h0m5-236h0m1 211h0m4 72h0m2-313h0m0 208h0m4-118h0m11 203h0m3-108h0m1-91h0m3 159h0m1-162h0m1 86h0m3-34h0m9 73h0m3 91h0m1-235h0m2 193h0m14-26h0m2-16h0m1-94h0m6 117h0m4-2h0m12-35h0m9 84h0m1 14h0m3-3h0m16-77h0m9-120h0m3 164h0m5 40h0" stroke="#8a5d63" opacity="0.42"/><path d="M295 386h0m3-17h0m2 27h0m6-10h0m1-12h0m1-1h0m1 11h0m0 10h0m3-13h0m1 21h0m3-10h0m1-8h0m2 9h0m1-11h0m1-8h0m1 19h0m2-9h0m0 8h0m3-23h0m3 22h0m7 10h0m1-8h0m1-12h0m1 16h0m1-2h0m3 27h0m5-26h0m1-30h0m0 11h0m0 22h0m1-12h0m0 1h0m4-4h0m1-1h0m2-23h0m1 34h0m4-27h0m0 11h0m3-2h0m1-5h0m0 8h0m3-9h0m2-10h0m1 6h0m0 11h0m0 25h0m3-29h0m0 7h0m1-10h0m1 10h0m0 19h0m4-31h0m1-12h0m3 42h0m5-24h0m2-23h0m1 44h0m1-30h0m1 22h0m1-2h0m1-16h0m0 9h0m0 9h0m1-29h0m0 23h0m0 17h0m1-29h0m0 5h0m1-27h0m0 16h0m2 2h0m0 14h0m1-6h0m0 20h0m1-44h0m0 3h0m0 24h0m0 10h0m1-16h0m1-3h0m0 7h0m0 4h0m1-18h0m0 2h0m0 4h0m0 18h0m1-6h0m1-22h0m0 8h0m0 7h0m1-21h0m1 21h0m0 13h0m1-21h0m1 4h0m1-6h0m2 6h0m0 10h0m1-10h0m1-24h0m0 25h0m2-16h0m0 17h0m0 1h0m0 4h0m1-33h0m1 13h0m1-10h0m0 26h0m0 12h0m0 9h0m1-35h0m2-5h0m0 5h0m0 13h0m1-10h0m0 2h0m0 14h0m2-16h0m1 16h0m1-30h0m0 17h0m0 22h0m1-31h0m0 10h0m1-3h0m0 14h0m1-36h0m0 41h0m1-2h0m2-9h0m1-21h0m1 10h0m0 22h0m1-33h0m1 18h0m0 14h0m1-1h0m1-29h0m2 10h0m0 19h0m1-12h0m0 12h0m1-32h0m1 39h0m2-37h0m1 3h0m1-9h0m0 9h0m1-7h0m0 12h0m1 23h0m1-25h0m0 19h0m0 4h0m1-29h0m0 2h0m1-11h0m2 8h0m0 5h0m0 5h0m0 2h0m0 5h0m0 11h0m1-31h0m0 13h0m0 27h0m1-5h0m3-38h0m0 22h0m2-4h0m1 5h0m1-7h0m0 2h0m1-4h0m1-8h0m2 43h0m1-47h0m0 5h0m0 14h0m0 5h0m1-14h0m1-9h0m1-7h0m0 31h0m1-19h0m0 6h0m1-16h0m1 18h0m1-18h0m0 14h0m0 17h0m1-35h0m0 8h0m1-2h0m2 8h0m1-34h0m0 44h0m0 3h0m1-22h0m0 2h0m0 6h0m1 30h0m1-21h0m1-5h0m0 6h0m0 10h0m1-29h0m0 13h0m0 25h0m1-44h0m0 18h0m0 11h0m1-19h0m0 9h0m1-8h0m0 8h0m1 6h0m1-4h0m0 4h0m0 1h0m0 8h0m1-32h0m1 4h0m0 10h0m0 15h0m1-22h0m2-14h0m2 8h0m0 21h0m0 2h0m2-17h0m1 6h0m1-8h0m0 21h0m1-16h0m1-3h0m0 4h0m0 15h0m1-11h0m2-21h0m1 31h0m0 4h0m1-10h0m1 16h0m1-29h0m0 26h0m1 1h0m1-12h0m1-14h0m0 21h0m0 2h0m1-18h0m0 3h0m1 15h0m4-27h0m0 19h0m1 5h0m1 3h0m1-7h0m4-32h0m0 27h0m0 2h0m1-7h0m1-11h0m2 17h0m1-3h0m1-17h0m1 0h0m0 2h0m4 17h0m0 18h0m3-66h0m0 24h0m0 28h0m4-15h0m0 5h0m0 17h0m1-31h0m0 16h0m1-12h0m2 10h0m3-8h0m0 17h0m7 2h0m2-45h0m0 26h0m5-15h0m1 32h0m3-33h0m2 15h0m0 44h0m3-62h0m1 32h0m1-14h0m0 11h0m2-19h0m2-8h0m0 27h0m0 17h0m1-41h0m2 10h0m3 3h0m1 0h0m1-1h0m6-8h0m6-5h0m8 3h0m1 3h0m1 23h0m2-36h0m3 11h0m3 6h0" stroke="#4a4545" opacity="0.5"/><path d="M290 397h0m5-8h0m4-14h0m2-6h0m4 31h0m1 11h0m3-13h0m1 1h0m0 4h0m2-12h0m0 14h0m1-16h0m8-22h0m0 9h0m3 13h0m1-19h0m3 31h0m1-2h0m9-13h0m1 0h0m1-16h0m1 33h0m2-6h0m1-57h0m0 38h0m1 9h0m1-10h0m4 7h0m0 1h0m1-18h0m0 10h0m2 14h0m1-15h0m1 15h0m2-26h0m2 13h0m1 9h0m0 13h0m2-33h0m1 25h0m1-13h0m2 1h0m1-31h0m1 46h0m1-26h0m3 0h0m1-18h0m0 16h0m1-5h0m0 35h0m1-27h0m0 25h0m1-3h0m0 10h0m2-43h0m0 18h0m1 5h0m2-17h0m2-7h0m1 26h0m1-27h0m1 12h0m0 3h0m0 16h0m2-21h0m1 22h0m1-27h0m0 30h0m0 8h0m2-14h0m2-19h0m1-21h0m0 26h0m0 6h0m0 7h0m2-10h0m1 7h0m2-8h0m1-2h0m1 5h0m2-12h0m1-9h0m0 2h0m0 17h0m1-20h0m0 7h0m0 17h0m1-13h0m1-5h0m0 33h0m1-22h0m1-22h0m0 25h0m1-9h0m0 12h0m0 16h0m1-29h0m0 5h0m0 8h0m0 17h0m0 5h0m1-27h0m1-5h0m1 4h0m1-18h0m0 4h0m0 14h0m1 9h0m1-18h0m2 7h0m4-8h0m0 1h0m1-17h0m1 20h0m1-16h0m0 27h0m0 20h0m2-19h0m1-35h0m0 38h0m1-35h0m0 2h0m0 7h0m1-5h0m0 21h0m1 1h0m1-22h0m0 18h0m1-10h0m0 1h0m0 3h0m0 1h0m1-17h0m2 14h0m3 2h0m0 1h0m1-30h0m0 45h0m1-46h0m0 18h0m0 3h0m1 16h0m0 1h0m0 3h0m1-11h0m0 2h0m0 24h0m4-50h0m0 9h0m0 13h0m0 11h0m2-18h0m0 6h0m0 1h0m0 7h0m0 5h0m0 6h0m1-47h0m0 31h0m0 11h0m2-22h0m0 8h0m0 3h0m0 2h0m0 12h0m1-24h0m0 23h0m1-19h0m0 14h0m0 16h0m1-11h0m1-38h0m0 21h0m1-12h0m0 3h0m0 35h0m2-47h0m0 28h0m1-24h0m0 17h0m1 25h0m1-19h0m2 33h0m1-74h0m1 8h0m1 10h0m0 18h0m1 10h0m0 20h0m1-29h0m2-26h0m0 18h0m0 9h0m0 16h0m1-29h0m2-8h0m0 11h0m0 9h0m0 5h0m1-29h0m0 10h0m0 8h0m1-13h0m0 34h0m1-41h0m0 32h0m0 6h0m1-17h0m2-22h0m0 13h0m0 14h0m1-27h0m1 42h0m1-45h0m1 46h0m2-19h0m1 8h0m1-21h0m0 35h0m1-26h0m2 9h0m2-7h0m0 7h0m3-32h0m0 6h0m0 23h0m1-3h0m1 2h0m1-43h0m0 38h0m0 9h0m1-7h0m1-24h0m0 24h0m0 11h0m1-8h0m1-20h0m0 10h0m0 1h0m1-4h0m0 22h0m1-37h0m0 34h0m1-33h0m1 6h0m0 11h0m0 18h0m3-11h0m1-21h0m1 15h0m1-17h0m0 27h0m1 2h0m1-3h0m1-6h0m0 2h0m1-23h0m0 19h0m2 15h0m2-11h0m1-15h0m1-36h0m0 49h0m1-23h0m0 21h0m1 8h0m3-28h0m0 25h0m0 13h0m2-42h0m0 8h0m3 13h0m1 16h0m2-19h0m0 4h0m2-24h0m1 1h0m3 12h0m0 7h0m1-12h0m0 16h0m2-14h0m4-5h0m2 16h0m1 15h0m1-21h0m0 21h0m3-3h0m3-18h0m1 1h0m0 5h0m2-13h0m4-1h0m11-13h0m0 51h0m2-37h0m0 2h0m2 9h0m3-25h0m3 9h0m0 2h0m4 10h0m2-5h0m1 2h0m0 36h0m1-65h0m0 34h0m2 2h0m3 6h0m2-19h0m5-8h0m10-26h0m1 43h0" stroke="#4a4545" opacity="0.5"/><path d="M301 374h0m1-10h0m8 19h0m7 10h0m1-6h0m2 25h0m6-14h0m1-8h0m2-17h0m0 32h0m1-14h0m2-16h0m0 6h0m3 17h0m2-38h0m2 9h0m2 16h0m0 14h0m1-17h0m0 10h0m0 5h0m2-20h0m2-9h0m5 2h0m1 10h0m6-13h0m1-18h0m0 6h0m1 8h0m1 8h0m3-4h0m1 4h0m0 26h0m1-17h0m2 8h0m0 3h0m1-40h0m0 29h0m1-13h0m0 12h0m3 0h0m0 13h0m1-26h0m1-8h0m0 14h0m0 14h0m2-3h0m1-14h0m1 9h0m2-18h0m3-14h0m0 12h0m1 13h0m0 11h0m1-17h0m0 4h0m1-26h0m0 22h0m0 6h0m1 19h0m1-22h0m1 11h0m1-11h0m0 4h0m0 4h0m0 8h0m2 1h0m0 12h0m1-31h0m0 2h0m0 8h0m1 9h0m1-11h0m1-13h0m1-12h0m0 31h0m1-19h0m0 10h0m0 8h0m0 7h0m1-1h0m0 11h0m1-10h0m1-33h0m0 25h0m1-6h0m0 1h0m0 5h0m0 9h0m1-18h0m1-40h0m0 35h0m1-21h0m0 16h0m1 10h0m1 24h0m1-26h0m0 5h0m0 14h0m0 6h0m2-36h0m0 17h0m1-4h0m0 2h0m1-1h0m1 1h0m0 2h0m0 6h0m1-36h0m0 14h0m1 25h0m1-33h0m0 22h0m1-15h0m0 19h0m0 2h0m1-24h0m0 17h0m1 14h0m1-9h0m0 6h0m2 5h0m2-9h0m0 3h0m0 9h0m1-29h0m0 20h0m2-10h0m2-17h0m1 2h0m0 18h0m1-10h0m1-15h0m0 12h0m1 1h0m2 6h0m0 2h0m0 14h0m1-37h0m1-8h0m0 13h0m0 19h0m1 0h0m1-16h0m1-15h0m0 21h0m0 4h0m1-4h0m0 25h0m1-39h0m0 8h0m0 10h0m1 22h0m1-40h0m1-5h0m1 19h0m4 4h0m1-6h0m0 4h0m0 10h0m1-26h0m1 1h0m0 3h0m2-19h0m0 35h0m0 19h0m1-33h0m0 4h0m1-9h0m0 17h0m0 12h0m5-32h0m0 14h0m0 18h0m2-21h0m0 11h0m1-26h0m0 14h0m0 4h0m0 12h0m0 9h0m1-45h0m1 10h0m2 13h0m0 2h0m1 16h0m2-8h0m1-19h0m0 6h0m1 21h0m1-31h0m0 31h0m1-32h0m0 3h0m0 1h0m0 4h0m0 24h0m1-32h0m0 7h0m1 3h0m0 35h0m1-55h0m0 28h0m0 6h0m1 15h0m1-21h0m0 10h0m1-15h0m1-14h0m1 4h0m0 3h0m0 8h0m2-7h0m0 5h0m0 21h0m1-57h0m0 23h0m2 17h0m1-37h0m0 16h0m0 5h0m0 9h0m0 33h0m1-18h0m2-32h0m3 29h0m0 3h0m0 8h0m2-30h0m1 13h0m1-12h0m0 5h0m1-10h0m0 19h0m2-33h0m1 2h0m0 20h0m1 11h0m2-10h0m1-8h0m0 21h0m0 2h0m1 7h0m1-34h0m0 20h0m1-9h0m1 7h0m1 7h0m1-15h0m1-36h0m3 37h0m4-6h0m3-25h0m1 17h0m1-4h0m0 11h0m2 9h0m0 22h0m2-51h0m0 7h0m2 33h0m1 6h0m2-38h0m1-9h0m0 39h0m1-29h0m1 9h0m2-6h0m0 14h0m1-28h0m2 18h0m0 10h0m1-8h0m1 16h0m1-19h0m2-11h0m2 8h0m0 22h0m0 4h0m5-23h0m0 1h0m1 5h0m5-10h0m1-6h0m0 20h0m1 9h0m1-32h0m0 20h0m0 2h0m1-2h0m1-9h0m1-11h0m2 18h0m4-23h0m0 17h0m4 19h0m1-13h0m5-4h0m2 17h0m4-34h0m1-18h0m3 29h0m1-1h0m10-9h0m5 23h0m1-9h0m5-14h0m3-14h0m3 50h0m1-41h0m3 34h0" stroke="#4a4545" opacity="0.5"/><path d="M291 410h0m10-30h0m3 19h0m1-9h0m3 5h0m1 22h0m1-34h0m1 5h0m1 34h0m1-33h0m7-20h0m0 6h0m0 6h0m0 1h0m1-14h0m1 8h0m5 6h0m1 9h0m1-9h0m1-15h0m4 37h0m1-25h0m0 15h0m1-7h0m0 3h0m0 20h0m1-41h0m6 21h0m3 4h0m2-6h0m3-16h0m1 22h0m2-22h0m1 1h0m5-18h0m2 41h0m1-4h0m4-4h0m1-11h0m0 8h0m0 11h0m1-28h0m1 20h0m1-27h0m0 20h0m1-12h0m0 10h0m1-6h0m5 4h0m3-2h0m1 19h0m1-31h0m1-4h0m1 25h0m1 6h0m0 5h0m2-31h0m0 32h0m1-20h0m3-25h0m0 28h0m1-32h0m0 11h0m0 15h0m1 4h0m1-9h0m1-14h0m0 13h0m0 5h0m2 5h0m1-1h0m0 12h0m1-16h0m0 34h0m2-42h0m0 13h0m1-18h0m0 14h0m1-25h0m1 43h0m1-11h0m1 3h0m1-16h0m0 9h0m1 15h0m1-26h0m1 0h0m0 2h0m1 1h0m1-18h0m2 16h0m0 7h0m0 7h0m1-23h0m2-7h0m0 22h0m1-1h0m0 9h0m0 1h0m0 1h0m1-16h0m1 1h0m1 9h0m2-22h0m0 18h0m0 8h0m3-33h0m0 18h0m4 8h0m2 18h0m1-48h0m0 16h0m1 2h0m1 19h0m1-19h0m0 2h0m1 0h0m0 22h0m1-37h0m1 8h0m1 17h0m1-41h0m0 35h0m1-16h0m0 29h0m1-34h0m0 25h0m1-13h0m0 13h0m1-23h0m0 32h0m1-8h0m2-31h0m0 33h0m1-6h0m0 21h0m1-7h0m1-11h0m1-23h0m0 27h0m1-5h0m0 8h0m0 2h0m1-23h0m3 14h0m1-29h0m0 5h0m1 23h0m1-16h0m0 7h0m0 5h0m0 7h0m1-14h0m0 1h0m0 19h0m1-22h0m0 5h0m1 1h0m0 2h0m0 22h0m1-33h0m0 3h0m0 6h0m0 2h0m1-21h0m0 17h0m1-20h0m0 21h0m0 3h0m0 2h0m1-3h0m3 2h0m1-10h0m0 6h0m0 11h0m2-9h0m0 7h0m1-19h0m2-9h0m0 3h0m0 23h0m1-33h0m1 11h0m0 2h0m0 4h0m0 5h0m0 5h0m0 7h0m1-16h0m0 2h0m1-14h0m0 16h0m0 1h0m1 2h0m2-12h0m1-4h0m0 11h0m1-17h0m0 16h0m1-3h0m0 16h0m1-10h0m1-9h0m0 12h0m0 15h0m1-37h0m1-1h0m0 21h0m1-2h0m0 17h0m2-41h0m0 13h0m1-3h0m0 4h0m2-25h0m0 24h0m0 2h0m1 21h0m2-27h0m0 11h0m0 1h0m3 9h0m1-22h0m1-1h0m1 20h0m1-7h0m3-23h0m1 7h0m3-12h0m0 27h0m0 14h0m0 8h0m2-12h0m2-14h0m0 4h0m2-4h0m0 1h0m3-23h0m0 15h0m0 19h0m0 2h0m1-20h0m1 24h0m0 10h0m1-16h0m1-27h0m0 10h0m1 4h0m3 13h0m1-6h0m1-33h0m0 14h0m0 6h0m0 5h0m1 25h0m1-18h0m0 9h0m2-35h0m0 22h0m1-22h0m0 25h0m0 22h0m5-23h0m1-31h0m2 33h0m2-10h0m3 41h0m1-31h0m1-16h0m1 28h0m1-41h0m0 18h0m5 4h0m1 6h0m1-7h0m2-23h0m0 18h0m1-2h0m2-1h0m2-14h0m3 16h0m5 12h0m2 18h0m2-48h0m3 1h0m0 36h0m1 0h0m1-37h0m3 17h0m4-37h0m0 12h0m0 21h0m2-21h0m1-9h0m0 20h0m5 19h0m3-23h0m5 30h0m4-3h0m0 11h0m1-22h0m5-22h0m3 9h0m1 21h0m3 7h0" stroke="#4a4545" opacity="0.5"/><path d="M293 404h0m7-21h0m0 3h0m11-19h0m0 19h0m3-8h0m9 4h0m1-4h0m2 27h0m1-2h0m2-18h0m6-13h0m0 6h0m1-22h0m0 12h0m0 5h0m0 2h0m0 15h0m1-22h0m0 37h0m1-19h0m4-11h0m0 11h0m3-11h0m5-4h0m0 8h0m0 3h0m2 1h0m2 2h0m1-4h0m1 8h0m0 11h0m1-18h0m1-11h0m1 25h0m2 6h0m1-27h0m0 6h0m2 2h0m4-16h0m0 9h0m1 17h0m2-21h0m1-3h0m0 2h0m0 15h0m1-24h0m0 2h0m3 5h0m0 26h0m1-19h0m1-18h0m0 1h0m0 29h0m1-11h0m2 4h0m1-27h0m0 1h0m0 3h0m0 8h0m0 5h0m1-3h0m0 3h0m0 14h0m2-24h0m0 1h0m3 28h0m1-12h0m1 7h0m1-26h0m0 15h0m2-6h0m2-18h0m0 42h0m1-20h0m2 11h0m3-32h0m0 19h0m1 2h0m0 1h0m0 1h0m1 14h0m1-47h0m1 27h0m2-6h0m0 18h0m1-28h0m0 12h0m0 12h0m2 6h0m2-23h0m0 34h0m1-39h0m0 4h0m0 3h0m0 13h0m0 14h0m1-26h0m0 2h0m2 9h0m2-8h0m1-4h0m0 5h0m2 2h0m0 9h0m1 8h0m1-40h0m1 39h0m1-41h0m0 15h0m0 8h0m1 17h0m1-21h0m0 7h0m0 1h0m1-2h0m0 10h0m1-29h0m0 35h0m1-29h0m0 6h0m1 5h0m2-13h0m0 6h0m2-17h0m0 15h0m0 16h0m1-15h0m0 16h0m1-19h0m0 3h0m0 18h0m0 2h0m1-5h0m1-7h0m0 3h0m1-23h0m0 6h0m0 39h0m1-38h0m1 14h0m1-9h0m1 3h0m0 5h0m0 8h0m0 2h0m1-24h0m1 8h0m2-1h0m0 5h0m1-11h0m0 33h0m2-40h0m0 16h0m1-11h0m0 3h0m0 7h0m0 17h0m1-30h0m0 21h0m1-16h0m1-6h0m0 14h0m0 6h0m0 8h0m2-9h0m1-17h0m0 21h0m1-20h0m0 14h0m1-18h0m0 6h0m0 2h0m0 25h0m0 9h0m1-29h0m1 2h0m0 3h0m0 14h0m1-32h0m0 12h0m1-13h0m0 18h0m1 3h0m0 5h0m1-10h0m1-14h0m0 8h0m0 3h0m3-3h0m0 8h0m0 5h0m1-17h0m1-12h0m0 25h0m1-8h0m0 27h0m1-36h0m0 23h0m1-14h0m0 3h0m1-17h0m0 22h0m1-11h0m0 19h0m1-7h0m1 2h0m1-38h0m0 14h0m0 9h0m0 6h0m2-11h0m1-7h0m0 8h0m1 2h0m0 11h0m1-30h0m1 12h0m0 10h0m0 10h0m0 1h0m1-10h0m0 1h0m2-18h0m0 5h0m1 0h0m0 18h0m2-17h0m0 14h0m0 21h0m1-40h0m0 7h0m1 19h0m0 11h0m2-15h0m3-13h0m1 7h0m1-3h0m2 11h0m0 7h0m1-34h0m2 29h0m2-20h0m0 13h0m2-38h0m0 42h0m0 1h0m1-15h0m1 16h0m2-6h0m2 7h0m2-30h0m1 21h0m0 3h0m0 13h0m3-19h0m1-24h0m0 27h0m1-11h0m1-10h0m1 12h0m0 19h0m1-27h0m0 19h0m1-23h0m0 5h0m2 15h0m2-18h0m1 19h0m3-42h0m0 14h0m1 21h0m2-12h0m0 27h0m0 1h0m3-27h0m0 7h0m0 7h0m1-11h0m1-7h0m0 21h0m2-34h0m0 23h0m0 8h0m1-32h0m1 20h0m1 27h0m1-24h0m0 23h0m6-49h0m1 4h0m0 23h0m1-35h0m0 32h0m2-20h0m1 36h0m1-44h0m6 34h0m1 11h0m3-1h0m1-7h0m5-18h0m2 26h0m1-38h0m1 17h0m9-29h0m0 28h0m13-13h0m11 4h0m4 21h0m0 8h0m3-34h0m1-8h0" stroke="#4a4545" opacity="0.5"/><path d="M293 369h0m1 33h0m4-6h0m6 4h0m4-21h0m3 4h0m0 10h0m1 0h0m3 25h0m2-11h0m3-42h0m6 19h0m1-20h0m6 3h0m3 1h0m8 8h0m1 35h0m3-28h0m1-15h0m1 11h0m2 27h0m1-24h0m0 9h0m2-22h0m3 9h0m1-4h0m2 11h0m1-10h0m2 17h0m1 0h0m1-27h0m1 28h0m1-20h0m1-3h0m3-20h0m1 49h0m1-21h0m0 2h0m1-11h0m0 14h0m0 8h0m2-21h0m0 18h0m2-11h0m1-20h0m1 12h0m0 23h0m1-15h0m2-27h0m0 10h0m1 0h0m3 20h0m0 7h0m2-10h0m1-30h0m0 34h0m1-15h0m0 19h0m0 2h0m1-41h0m0 25h0m0 3h0m0 5h0m1-16h0m1 16h0m1-39h0m0 24h0m0 10h0m1 0h0m1 5h0m4-2h0m0 7h0m1-42h0m0 3h0m0 36h0m1-38h0m1 33h0m0 9h0m1-18h0m0 9h0m1-7h0m0 17h0m1-18h0m0 18h0m2-8h0m1-37h0m0 36h0m1-22h0m0 1h0m0 5h0m0 6h0m0 3h0m2-11h0m0 22h0m1 9h0m1-37h0m0 13h0m0 11h0m2-29h0m0 25h0m1-10h0m0 1h0m1 9h0m1-16h0m1 24h0m1-13h0m1 1h0m0 9h0m0 13h0m1-33h0m2-7h0m0 7h0m1-11h0m1 14h0m1 31h0m1-26h0m1-29h0m0 29h0m0 8h0m0 1h0m0 16h0m2-44h0m0 20h0m1-20h0m1 10h0m0 8h0m0 23h0m2-47h0m1 14h0m2 4h0m1 13h0m1-5h0m0 7h0m1-23h0m0 11h0m0 3h0m0 8h0m1-14h0m0 4h0m0 3h0m1-20h0m0 6h0m0 3h0m2 13h0m1-30h0m0 17h0m1-6h0m0 10h0m0 9h0m0 1h0m2-7h0m1-20h0m0 9h0m0 26h0m1-24h0m0 1h0m1-4h0m0 24h0m1-3h0m1-14h0m1 30h0m1-55h0m1 13h0m1 6h0m0 6h0m0 11h0m0 4h0m1-23h0m0 11h0m2 4h0m1-5h0m0 6h0m0 8h0m1-20h0m1-10h0m0 30h0m1-16h0m2-2h0m0 20h0m1-13h0m0 12h0m2-24h0m0 18h0m1 17h0m1-15h0m0 5h0m2-21h0m0 10h0m0 13h0m1-35h0m0 4h0m1-13h0m0 24h0m0 13h0m1-45h0m0 38h0m0 5h0m2 11h0m1-31h0m0 7h0m0 14h0m1-11h0m0 27h0m1-30h0m1 1h0m1-17h0m0 34h0m1-31h0m1 2h0m1 6h0m0 6h0m0 15h0m1-33h0m1 14h0m0 8h0m0 8h0m2-24h0m0 23h0m1-30h0m0 1h0m0 10h0m1-3h0m0 16h0m1-36h0m0 16h0m0 32h0m1-39h0m1 33h0m1-38h0m0 23h0m2-18h0m0 16h0m1 5h0m0 2h0m2-11h0m2 4h0m2-7h0m1 20h0m5-20h0m0 15h0m1-26h0m2-1h0m0 10h0m1 3h0m1 6h0m0 4h0m1 11h0m3-22h0m1-4h0m3 12h0m0 13h0m3-28h0m0 19h0m2-13h0m1 2h0m1-15h0m2 32h0m1-18h0m3-5h0m0 2h0m0 28h0m2-34h0m2 12h0m2 3h0m0 2h0m1-21h0m0 21h0m1-12h0m1-26h0m0 34h0m4 10h0m1-19h0m1-38h0m0 33h0m0 4h0m1 28h0m2-41h0m1 31h0m0 7h0m1-33h0m4 9h0m3-17h0m0 30h0m2-3h0m1-36h0m2 17h0m2 4h0m0 7h0m0 5h0m3-30h0m2 25h0m1-45h0m4 68h0m2-32h0m2 6h0m6-4h0m7 3h0m1-8h0m10-48h0m1 42h0m3 18h0m1 25h0m3-39h0m0 19h0m2 17h0m0 4h0m1-46h0" stroke="#4a4545" opacity="0.5"/><path d="M326 429h0m3-13h0m1-319h0m4 53h0m1 289h0m6-351h0m17 179h0m1 52h0m8 80h0m5-97h0m3-237h0m4 134h0m7 224h0m8-102h0m0 75h0m5-184h0m12 43h0m9 109h0m6 51h0m0 10h0m2-210h0m5 57h0m2-172h0m5 137h0m4 160h0m1 35h0m3-162h0m7 170h0m23-262h0m6-125h0m4 383h0m1-51h0m11-239h0m1 131h0m11-77h0m1-41h0m6-56h0m0 163h0m4 28h0m0 130h0m10-179h0m1 192h0m2-223h0m1-117h0m6 153h0m9-93h0m8 264h0m13-247h0m1 274h0m3-111h0m14-275h0m8 371h0m1-236h0m6 201h0m8-89h0m6-58h0" stroke="#555" opacity="0.42"/><path d="M324 177h0m1-114h0m16 270h0m2 92h0m13-18h0m6-97h0m2 55h0m2-276h0m6 174h0m0 177h0m8-307h0m14 272h0m3-162h0m9-144h0m3 275h0m8 4h0m4-190h0m1 167h0m5-249h0m4 81h0m4 254h0m10-342h0m2 257h0m6-49h0m0 143h0m4-104h0m4 81h0m3-327h0m6 191h0m8 100h0m4-174h0m6 205h0m11-78h0m4-27h0m5 123h0m1-12h0m10-327h0m1 91h0m11 205h0m0 26h0m10-58h0m1-318h0m2 41h0m5 256h0m3-250h0m10 337h0m9-12h0m7-274h0m1 255h0m0 43h0m11-3h0m4 10h0m7-292h0m5 111h0m8 125h0m10-37h0" stroke="#555" opacity="0.42"/><path d="M322 434h0m2-180h0m0 94h0m1 98h0m18 0h0m2-3h0m7 4h0m4-46h0m1 43h0m12-54h0m1 21h0m4-307h0m4 66h0m1 211h0m5-160h0m0 10h0m5-185h0m0 331h0m9-310h0m0 364h0m8-199h0m15 187h0m1-215h0m3-148h0m3 112h0m18 233h0m13 46h0m10-90h0m10-6h0m8-38h0m15-151h0m6 126h0m1 90h0m6-46h0m1 7h0m0 2h0m19 38h0m5-124h0m1-69h0m3 165h0m5-180h0m3-62h0m15 341h0m8-353h0m1 290h0m2 15h0m1-29h0m3 73h0m3-70h0m1-324h0m10 195h0m1 201h0m2-53h0m14 3h0m11-61h0m3 65h0" stroke="#555" opacity="0.42"/><path d="M626 244h0m0 21h0m0 14h0m0 11h0m0 23h0m0 14h0m0 8h0m0 2h0m0 17h0m0 2h0m0 13h0m0 11h0m0 20h0m1-157h0m0 3h0m0 20h0m0 43h0m0 12h0m0 13h0m0 9h0m0 12h0m0 1h0m0 8h0m0 3h0m0 6h0m0 7h0m0 14h0m0 5h0m1-193h0m0 32h0m0 45h0m0 7h0m0 2h0m0 30h0m0 10h0m0 6h0m0 32h0m0 8h0m0 17h0" stroke="#444" opacity="0.42"/></g><rect x="238.3" y="391.5" width="50.4" height="72.2" fill="none" stroke="#b9566a" stroke-width="0.9"/><rect x="238.3" y="464.8" width="24.3" height="20.5" fill="none" stroke="#d98a9a" stroke-width="0.7"/><rect x="263.1" y="464.8" width="25.6" height="20.5" fill="none" stroke="#b82c40" stroke-width="0.8"/><rect x="226.6" y="391.5" width="10.1" height="95" fill="none" stroke="#666" stroke-width="1.1"/><path d="M225.4 388.2V514.5M225.4 514.5H352.4M225.4 398.8h-3.8M225.4 429.9h-3.8M225.4 463.9h-3.8M225.4 484.9h-3.8M225.4 506.2h-3.8" fill="none" stroke="#333" stroke-width="0.85"/><path d="M225.4 420.5h-1.9M225.4 415.1h-1.9M225.4 411.2h-1.9M225.4 408.2h-1.9M225.4 405.7h-1.9M225.4 403.6h-1.9M225.4 401.8h-1.9M225.4 400.2h-1.9M225.4 453.7h-1.9M225.4 447.7h-1.9M225.4 443.4h-1.9M225.4 440.1h-1.9M225.4 437.4h-1.9M225.4 435.2h-1.9M225.4 433.2h-1.9M225.4 431.5h-1.9M225.4 389.4h-1.9M225.4 467.2h-1.4M225.4 470.7h-1.4M225.4 474.2h-1.4M225.4 477.7h-1.4M225.4 481.2h-1.4M225.4 488.7h-1.4M225.4 492.2h-1.4M225.4 495.7h-1.4M225.4 499.2h-1.4M225.4 502.7h-1.4M225.4 509.7h-1.4M226 514.5v3.4M230.8 514.5v1.8M235.6 514.5v1.8M240.4 514.5v1.8M245.3 514.5v1.8M250.1 514.5v3.4M254.9 514.5v1.8M259.7 514.5v1.8M264.5 514.5v1.8M269.3 514.5v1.8M274.2 514.5v3.4M279 514.5v1.8M283.8 514.5v1.8M288.6 514.5v1.8M293.4 514.5v1.8M298.2 514.5v3.4M303 514.5v1.8M307.9 514.5v1.8M312.7 514.5v1.8M317.5 514.5v1.8M322.3 514.5v3.4M327.1 514.5v1.8M331.9 514.5v1.8M336.7 514.5v1.8M341.6 514.5v1.8M346.4 514.5v3.4M351.2 514.5v1.8" fill="none" stroke="#333" stroke-width="0.8"/><g font-size="3.9" fill="#a2a2a2" font-weight="400"><text x="220" y="400.1" text-anchor="end">10⁵</text><text x="220" y="431.2" text-anchor="end">10⁴</text><text x="220" y="465.2" text-anchor="end">10³</text><text x="220" y="486.2" text-anchor="end">0</text><text x="220" y="507.5" text-anchor="end">-10³</text><text x="226.5" y="523.1" text-anchor="middle">0</text><text x="250.6" y="523.1" text-anchor="middle">50K</text><text x="274.6" y="523.1" text-anchor="middle">100K</text><text x="298.7" y="523.1" text-anchor="middle">150K</text><text x="322.8" y="523.1" text-anchor="middle">200K</text><text x="346.9" y="523.1" text-anchor="middle">250K</text></g><path d="M243.5 492L246.4 485.9" stroke="#151515" stroke-width="0.8" fill="none"/><path d="M247.9 482.6L248.1 486.7L244.7 485.1Z" fill="#151515"/><path d="M278.3 492L275.8 486.4" stroke="#151515" stroke-width="0.8" fill="none"/><path d="M274.3 483.1L277.5 485.6L274 487.2Z" fill="#151515"/><g font-size="7.2" fill="#161616" stroke="#161616" stroke-width="0.3"><text x="241.6" y="399.5" fill="#3f1720" stroke="#3f1720">S: 1.41%</text><text x="299.1" y="400.2">&gt;4n: 18.65%</text><text x="242.7" y="499.5" text-anchor="middle">G1:</text><text x="242.1" y="510" text-anchor="middle">30.29%</text><text x="284.3" y="499.5" text-anchor="middle">G2/M:</text><text x="284.1" y="510" text-anchor="middle">31.13%</text><text transform="translate(233.7 419.2) rotate(-90)" text-anchor="middle">SubG1: 18.52%</text></g><text x="288.4" y="532.4" text-anchor="middle" font-size="9.8" stroke="#111" stroke-width="0.3">7AAD</text><text transform="translate(210.8 454.9) rotate(-90)" text-anchor="middle" font-size="9.6" stroke="#111" stroke-width="0.3">APC - BrdU</text><text x="288.3" y="378.7" text-anchor="middle" font-size="16.7" stroke="#111" stroke-width="0.3">Doxo 144 h</text></g>
<g><path d="M408.6 386.7H535.6V514.5" fill="none" stroke="#d6d6d6" stroke-width="0.8"/><rect x="478.3" y="391.4" width="54" height="94.1" fill="#f7f7f7" stroke="#ececec" stroke-width="0.7"/><rect x="422.1" y="391.5" width="50.4" height="67.1" fill="#bcd0b4" stroke="none" stroke-width="0"/><rect x="422.1" y="460.2" width="24.3" height="25.1" fill="#ebf7e4" stroke="none" stroke-width="0"/><rect x="446.9" y="460.2" width="25.6" height="25.1" fill="#b8e39f" stroke="none" stroke-width="0"/><rect x="410.4" y="391.5" width="10.1" height="95" fill="#cbcbcb" stroke="none" stroke-width="0"/><g class="d" fill="none" stroke-linecap="round" stroke-width="5" transform="translate(409.9 391.2) scale(0.2)"><path d="M-1 470h0m0 3h0m0 5h0m1-2h0m1-10h0m0 5h0m1-4h0m0 8h0m1-11h0m0 5h0m0 4h0m0 7h0m1-10h0m0 9h0m1-11h0m0 1h0m0 3h0m0 2h0m0 8h0m1-19h0m0 2h0m0 1h0m1 4h0m0 1h0m1-4h0m0 7h0m1-6h0m1-2h0m0 10h0m1-11h0m1 0h0m0 1h0m0 4h0m1-6h0m0 2h0m0 10h0m5-6h0" stroke="#111" opacity="0.5"/><path d="M-1 473h0m0 5h0m1-12h0m0 2h0m0 1h0m0 2h0m0 10h0m1-13h0m0 2h0m0 4h0m1-7h0m1-3h0m0 3h0m0 1h0m0 4h0m0 1h0m0 2h0m1-4h0m1-10h0m0 13h0m0 2h0m1-12h0m0 12h0m1-4h0m1-4h0m1 5h0m0 1h0m1-4h0m0 5h0m0 2h0m1-14h0m2 1h0m1 6h0m0 2h0m1 1h0" stroke="#111" opacity="0.5"/><path d="M2 474h0m1-1h0m2-7h0m1 6h0m0 3h0m1-6h0m0 2h0m1-3h0m1-1h0m0 2h0m1 4h0m4-11h0m0 13h0m1-13h0m1 0h0m3-10h0m0 18h0m2-7h0m3 6h0m3-2h0m1-4h0m2-5h0m0 6h0m1-7h0m2-4h0m1 1h0m1 6h0m1 3h0m7-4h0m1-10h0m3 5h0m0 5h0m1 0h0m8-3h0" stroke="#222" opacity="0.5"/><path d="M1 472h0m0 2h0m1-6h0m0 6h0m2-9h0m0 7h0m1-1h0m0 1h0m0 1h0m1-5h0m1 9h0m5-7h0m1 3h0m1-11h0m0 5h0m2-5h0m2-1h0m2 4h0m2-3h0m0 3h0m1-3h0m0 7h0m1-6h0m1-2h0m3 8h0m1-8h0m2-2h0m10 0h0m1-8h0m1 5h0m3-3h0m0 6h0m1 3h0m4-10h0m2-5h0" stroke="#222" opacity="0.5"/><path d="M74 431h0m1-5h0m0 6h0m5-9h0m2 11h0m2-3h0m2 3h0m0 4h0m2-14h0m1 6h0m0 13h0m1-25h0m0 20h0m2-18h0m1-6h0m0 9h0m0 3h0m0 6h0m0 2h0m0 4h0m1-9h0m1-14h0m0 1h0m0 27h0m1-28h0m2-8h0m0 9h0m0 2h0m0 5h0m0 3h0m1 1h0m0 16h0m1-41h0m0 2h0m0 23h0m1-23h0m0 8h0m0 11h0m1 0h0m1 3h0m1-15h0m0 12h0m1-25h0m0 3h0m0 3h0m0 1h0m0 7h0m0 4h0m0 1h0m0 1h0m0 3h0m0 8h0m0 8h0m1-36h0m0 8h0m0 4h0m1-5h0m0 5h0m1-20h0m0 13h0m0 5h0m0 7h0m1-18h0m0 8h0m0 9h0m0 18h0m0 1h0m1-25h0m0 20h0m1-15h0m1-9h0m0 4h0m0 3h0m1-7h0m0 13h0m0 5h0m0 5h0m1-30h0m1 4h0m0 5h0m1-7h0m0 10h0m0 2h0m1-20h0m0 6h0m0 22h0m0 15h0m0 3h0m1-43h0m0 11h0m0 19h0m0 2h0m1-36h0m0 7h0m0 1h0m0 3h0m0 4h0m1 9h0m0 1h0m1-7h0m0 7h0m0 2h0m0 12h0m1-24h0m0 11h0m0 6h0m0 5h0m0 6h0m1-39h0m0 6h0m0 1h0m0 1h0m0 8h0m0 13h0m1-34h0m0 5h0m0 27h0m0 5h0m1-21h0m0 3h0m0 9h0m1-21h0m1 1h0m0 4h0m0 5h0m0 10h0m0 4h0m1-20h0m0 14h0m0 17h0m1-36h0m0 7h0m0 19h0m1-27h0m0 3h0m0 6h0m0 6h0m0 10h0m0 11h0m1-46h0m0 13h0m0 20h0m0 12h0m1-30h0m0 4h0m0 5h0m0 9h0m1-29h0m0 14h0m0 11h0m0 10h0m1-34h0m0 2h0m0 12h0m0 6h0m0 1h0m0 15h0m0 6h0m1-48h0m0 24h0m0 11h0m0 5h0m1-30h0m0 2h0m0 16h0m0 16h0m0 5h0m1-46h0m0 10h0m0 6h0m0 5h0m0 9h0m0 6h0m1-36h0m0 4h0m0 10h0m0 6h0m0 4h0m0 5h0m1-22h0m0 6h0m0 1h0m0 19h0m0 1h0m1-26h0m0 6h0m0 2h0m0 10h0m0 4h0m1-16h0m0 2h0m0 13h0m1-6h0m0 2h0m1-27h0m0 3h0m0 12h0m0 3h0m0 1h0m1-6h0m0 2h0m0 11h0m0 3h0m1-26h0m0 12h0m0 13h0m0 3h0m1-13h0m0 5h0m1-30h0m0 24h0m0 5h0m0 6h0m1-9h0m0 2h0m0 12h0m1-32h0m0 2h0m1-5h0m0 4h0m0 13h0m0 6h0m0 4h0m1-26h0m0 4h0m0 9h0m0 1h0m0 2h0m0 1h0m0 18h0m1-39h0m0 17h0m0 5h0m0 22h0m1-32h0m0 3h0m0 2h0m0 7h0m0 5h0m1-19h0m0 6h0m0 2h0m0 11h0m0 1h0m0 10h0m1-21h0m0 6h0m0 4h0m0 13h0m1-27h0m0 1h0m0 12h0m0 10h0m1-30h0m1-7h0m0 30h0m1-25h0m0 18h0m0 4h0m1-11h0m1-12h0m0 8h0m0 3h0m0 14h0m1-34h0m0 10h0m0 22h0m0 9h0m1-11h0m1 7h0m1-17h0m0 1h0m1 7h0m1-21h0m2 10h0m1 19h0m2-15h0m2-14h0m3 14h0m4-13h0" stroke="#47603f" opacity="0.5"/><path d="M75 429h0m0 5h0m4-8h0m4-13h0m2 15h0m0 8h0m1-7h0m0 7h0m1-25h0m0 18h0m1-12h0m0 4h0m1-3h0m0 9h0m1-15h0m0 16h0m1-12h0m4-1h0m0 1h0m0 16h0m1-6h0m0 18h0m1-36h0m1 14h0m1-10h0m1-3h0m0 10h0m2 2h0m0 5h0m1-7h0m0 3h0m1-16h0m0 7h0m0 7h0m0 4h0m0 2h0m0 1h0m0 5h0m0 11h0m1-41h0m0 7h0m0 16h0m1-14h0m1 0h0m0 4h0m0 15h0m1-29h0m0 18h0m0 3h0m1-16h0m0 1h0m0 16h0m0 4h0m2-23h0m0 4h0m0 4h0m0 4h0m0 5h0m0 4h0m1-29h0m0 33h0m1-26h0m0 8h0m0 3h0m0 9h0m0 8h0m0 10h0m0 1h0m1-42h0m0 7h0m0 9h0m0 16h0m0 4h0m1-41h0m0 9h0m0 17h0m1-11h0m0 4h0m0 12h0m0 9h0m0 1h0m1-31h0m0 6h0m0 1h0m0 2h0m0 6h0m0 6h0m1-19h0m0 2h0m0 4h0m0 7h0m0 1h0m0 12h0m1-32h0m0 27h0m1-22h0m0 10h0m0 7h0m1-22h0m0 3h0m0 20h0m0 15h0m1-45h0m0 18h0m0 3h0m0 4h0m1-30h0m0 12h0m0 2h0m0 3h0m0 12h0m0 11h0m0 9h0m1-41h0m0 6h0m0 17h0m1-21h0m0 12h0m0 4h0m0 5h0m0 2h0m1-29h0m0 14h0m0 2h0m0 1h0m0 6h0m0 6h0m1-25h0m0 6h0m1 7h0m0 3h0m0 2h0m0 10h0m0 3h0m1-28h0m0 10h0m0 5h0m0 4h0m0 9h0m0 10h0m1-45h0m0 12h0m1-17h0m0 9h0m0 1h0m0 11h0m1-18h0m0 5h0m0 4h0m0 11h0m0 10h0m0 5h0m0 5h0m1-28h0m0 30h0m1-33h0m0 6h0m0 1h0m0 3h0m0 6h0m1-22h0m0 4h0m0 6h0m0 4h0m1-14h0m0 1h0m0 17h0m1-18h0m0 12h0m0 4h0m0 1h0m0 14h0m1-43h0m0 6h0m0 11h0m0 6h0m0 1h0m0 3h0m1-18h0m0 10h0m0 2h0m0 6h0m0 6h0m1-24h0m0 5h0m0 17h0m0 12h0m1-17h0m0 1h0m0 16h0m1-30h0m0 8h0m0 17h0m1-22h0m0 6h0m0 2h0m1-19h0m0 13h0m0 8h0m0 2h0m0 5h0m0 7h0m0 2h0m1-16h0m1-19h0m0 15h0m0 3h0m0 2h0m1 0h0m1-27h0m0 11h0m0 12h0m0 19h0m1-22h0m0 17h0m1-31h0m0 29h0m1-26h0m0 3h0m0 3h0m0 26h0m1-14h0m0 10h0m1-28h0m0 8h0m0 15h0m0 2h0m1-36h0m0 5h0m0 22h0m0 7h0m1-36h0m0 23h0m0 1h0m0 1h0m0 2h0m0 3h0m1-21h0m0 17h0m0 2h0m0 9h0m1-4h0m0 10h0m1-29h0m1-9h0m0 37h0m1-42h0m0 29h0m1-20h0m0 12h0m0 7h0m1-6h0m0 1h0m1-16h0m0 2h0m0 24h0m0 7h0m2-17h0m0 3h0m2-9h0m0 5h0m0 4h0m1 1h0m2 5h0m1-28h0m0 19h0m0 7h0m1-9h0m0 10h0m1-27h0m0 21h0m0 4h0m1-20h0m0 7h0m1 2h0m1 0h0m2 6h0m1-15h0" stroke="#47603f" opacity="0.5"/><path d="M75 432h0m2 7h0m7-29h0m0 2h0m3 5h0m1 2h0m0 15h0m1-17h0m0 22h0m1-17h0m1-11h0m0 12h0m2-12h0m0 8h0m1 24h0m1-27h0m0 3h0m0 4h0m0 11h0m0 4h0m1-16h0m0 2h0m1-7h0m0 12h0m1-12h0m1 0h0m0 11h0m1-25h0m0 11h0m0 1h0m0 1h0m2 14h0m1-35h0m0 31h0m2-20h0m0 12h0m0 1h0m0 3h0m0 16h0m1-27h0m0 2h0m0 3h0m0 25h0m1-37h0m0 5h0m0 19h0m0 6h0m1-26h0m0 1h0m0 16h0m1-12h0m0 1h0m0 8h0m0 1h0m1-18h0m0 3h0m0 4h0m0 5h0m0 12h0m1-28h0m0 2h0m0 2h0m0 19h0m0 1h0m0 2h0m0 3h0m0 1h0m0 8h0m1-30h0m0 8h0m1-19h0m0 12h0m1 3h0m0 11h0m0 8h0m0 3h0m1-26h0m0 3h0m0 25h0m1-15h0m0 1h0m0 2h0m1-25h0m0 3h0m0 5h0m0 1h0m0 4h0m0 2h0m1-10h0m0 3h0m0 7h0m0 19h0m1-36h0m0 4h0m0 3h0m0 5h0m0 1h0m0 1h0m1-4h0m0 2h0m0 3h0m0 5h0m1-17h0m0 6h0m0 5h0m0 9h0m0 1h0m1-9h0m1-23h0m0 21h0m0 11h0m0 1h0m0 1h0m0 7h0m1-36h0m0 9h0m0 9h0m0 2h0m1-1h0m0 1h0m0 4h0m0 3h0m0 5h0m0 1h0m0 5h0m0 3h0m1-41h0m0 4h0m0 2h0m0 5h0m1 8h0m0 2h0m0 1h0m1-24h0m0 11h0m0 4h0m0 11h0m0 1h0m0 3h0m1-13h0m0 5h0m0 5h0m1-26h0m0 7h0m0 22h0m1-29h0m0 3h0m0 12h0m0 9h0m0 6h0m1-26h0m0 12h0m0 4h0m0 2h0m0 12h0m1-22h0m1-20h0m0 4h0m0 1h0m0 16h0m0 2h0m0 3h0m1-23h0m0 5h0m0 11h0m0 3h0m1-11h0m0 8h0m0 5h0m0 1h0m1-22h0m0 26h0m0 5h0m1-28h0m0 7h0m1-16h0m0 9h0m0 13h0m0 7h0m0 12h0m1-30h0m0 3h0m0 3h0m0 4h0m0 7h0m1-14h0m0 1h0m0 2h0m0 26h0m0 5h0m1-29h0m0 9h0m0 5h0m0 6h0m1-27h0m0 4h0m0 11h0m1-9h0m0 8h0m0 7h0m1-14h0m0 3h0m0 2h0m0 9h0m1-22h0m0 1h0m0 6h0m1-9h0m0 8h0m0 2h0m0 16h0m1-22h0m0 2h0m0 4h0m0 6h0m0 2h0m0 2h0m0 18h0m1-39h0m0 7h0m0 6h0m0 6h0m1-7h0m0 1h0m0 9h0m0 14h0m1-45h0m0 1h0m0 5h0m0 2h0m0 16h0m1-11h0m0 28h0m1-12h0m1-20h0m0 1h0m0 14h0m0 7h0m2-21h0m0 4h0m0 19h0m1-30h0m0 3h0m0 14h0m1-17h0m0 19h0m0 2h0m0 11h0m1-27h0m0 5h0m0 9h0m0 14h0m0 3h0m1-35h0m0 6h0m0 1h0m0 7h0m0 3h0m0 10h0m0 1h0m1-13h0m1 11h0m1-29h0m0 14h0m0 13h0m1-32h0m1 30h0m0 3h0m1-2h0m0 6h0m1-30h0m0 11h0m1-4h0m0 9h0m3-19h0m0 10h0m0 13h0m3-9h0m1 1h0m0 3h0m2-14h0m0 14h0" stroke="#47603f" opacity="0.5"/><path d="M78 424h0m0 1h0m2-3h0m0 7h0m0 5h0m1-19h0m1 26h0m7-14h0m0 1h0m0 2h0m1-19h0m1 16h0m0 15h0m1-30h0m0 26h0m2-30h0m0 17h0m0 4h0m1-6h0m0 2h0m0 3h0m1-27h0m1 38h0m1-18h0m0 14h0m1-28h0m0 9h0m1-12h0m0 16h0m0 4h0m0 3h0m0 5h0m1-14h0m1-2h0m0 22h0m1-31h0m0 2h0m1-3h0m0 22h0m0 11h0m0 4h0m1-47h0m0 1h0m0 10h0m0 3h0m0 3h0m0 3h0m0 1h0m0 5h0m1 1h0m1 0h0m0 3h0m0 4h0m1-30h0m0 10h0m0 6h0m0 15h0m1-29h0m0 10h0m0 19h0m1-31h0m0 24h0m0 17h0m1-35h0m0 4h0m0 1h0m1-20h0m0 2h0m0 27h0m0 4h0m1-29h0m0 9h0m0 1h0m0 7h0m0 14h0m1-27h0m0 4h0m0 3h0m0 4h0m0 11h0m1-16h0m0 4h0m0 9h0m0 1h0m0 14h0m0 3h0m1-30h0m0 9h0m0 22h0m1-40h0m0 6h0m0 2h0m0 12h0m0 17h0m1-21h0m0 6h0m0 3h0m0 7h0m1-26h0m0 6h0m0 3h0m0 4h0m0 1h0m0 3h0m1-14h0m0 8h0m0 8h0m0 9h0m1-24h0m0 10h0m0 20h0m0 4h0m1-25h0m1-28h0m0 10h0m0 1h0m0 15h0m0 7h0m0 6h0m1-25h0m0 7h0m0 5h0m0 10h0m1-28h0m0 3h0m1-6h0m0 12h0m0 1h0m0 3h0m0 2h0m0 4h0m0 7h0m0 11h0m1-48h0m0 2h0m0 11h0m0 18h0m0 5h0m1-25h0m0 5h0m0 6h0m0 2h0m0 1h0m0 5h0m0 3h0m1 1h0m0 6h0m1-12h0m0 5h0m1-24h0m0 10h0m0 6h0m0 1h0m0 1h0m0 3h0m0 4h0m1-27h0m0 2h0m0 16h0m0 10h0m0 3h0m0 2h0m0 3h0m1-25h0m0 12h0m0 8h0m1-25h0m0 2h0m0 10h0m0 18h0m1-2h0m0 1h0m1-27h0m0 4h0m0 3h0m0 1h0m0 2h0m1-24h0m0 11h0m0 6h0m0 4h0m0 17h0m1-31h0m0 21h0m1-21h0m0 7h0m0 3h0m0 8h0m1-14h0m0 2h0m0 8h0m0 6h0m1-6h0m0 7h0m0 1h0m0 11h0m0 2h0m1-9h0m1-28h0m0 10h0m0 2h0m0 1h0m0 6h0m0 7h0m0 3h0m1-39h0m0 8h0m0 17h0m0 1h0m0 1h0m1-20h0m0 7h0m0 6h0m0 4h0m1-6h0m0 6h0m0 7h0m0 2h0m0 8h0m0 2h0m1-8h0m1-21h0m0 7h0m0 3h0m1-21h0m0 13h0m0 2h0m0 10h0m1-12h0m0 3h0m0 4h0m0 11h0m0 3h0m1-15h0m0 1h0m0 2h0m0 5h0m0 4h0m1-33h0m0 26h0m0 15h0m1-40h0m0 23h0m0 1h0m0 7h0m1-25h0m0 1h0m0 13h0m0 7h0m1-10h0m0 4h0m1-7h0m0 11h0m0 3h0m1-14h0m0 3h0m1-9h0m0 20h0m1-27h0m0 3h0m0 35h0m1-18h0m1-23h0m1 19h0m0 10h0m1 5h0m1-26h0m0 16h0m0 4h0m1-16h0m0 1h0m1-2h0m1-7h0m3 2h0m3 7h0m0 18h0m2-16h0m1 10h0m3-22h0" stroke="#47603f" opacity="0.5"/><path d="M80 423h0m0 12h0m1-18h0m2 9h0m1-8h0m0 10h0m1-14h0m1 24h0m1-8h0m0 4h0m1-3h0m1-11h0m0 3h0m0 10h0m1-6h0m2-3h0m0 15h0m1-12h0m1-2h0m0 13h0m0 1h0m1-21h0m1-1h0m0 10h0m1-15h0m0 2h0m0 1h0m0 12h0m1-19h0m0 27h0m1-12h0m0 4h0m0 7h0m1-24h0m0 6h0m0 4h0m1-7h0m0 2h0m1-6h0m0 5h0m0 25h0m1-42h0m0 14h0m0 16h0m1-16h0m0 8h0m0 6h0m0 2h0m1-13h0m0 4h0m0 14h0m1-35h0m0 20h0m0 2h0m0 25h0m1-38h0m0 2h0m0 25h0m1-23h0m0 9h0m0 1h0m1-14h0m0 2h0m0 5h0m0 5h0m0 20h0m1-43h0m0 21h0m0 3h0m0 5h0m0 8h0m1-11h0m1-19h0m0 21h0m0 3h0m1-28h0m0 6h0m0 8h0m1-7h0m0 6h0m0 1h0m0 22h0m0 5h0m1-28h0m0 11h0m1-24h0m0 5h0m0 8h0m0 8h0m1-27h0m0 27h0m0 19h0m1-36h0m0 15h0m0 12h0m0 4h0m1-40h0m0 11h0m0 2h0m0 15h0m0 5h0m0 1h0m0 2h0m0 1h0m1-19h0m0 2h0m0 3h0m0 4h0m0 6h0m1-19h0m0 7h0m0 3h0m0 17h0m1-49h0m0 10h0m0 20h0m0 5h0m0 12h0m1-43h0m0 15h0m0 3h0m0 1h0m0 4h0m0 1h0m0 20h0m1-27h0m0 15h0m0 1h0m0 14h0m1-17h0m0 20h0m1-53h0m0 1h0m0 12h0m0 2h0m0 5h0m0 9h0m0 3h0m0 7h0m1-26h0m0 8h0m0 9h0m0 5h0m1-36h0m0 9h0m0 15h0m1-16h0m0 10h0m0 1h0m0 11h0m0 11h0m1-36h0m0 3h0m0 3h0m0 3h0m0 18h0m0 1h0m0 4h0m0 2h0m0 3h0m1-26h0m0 8h0m0 6h0m0 6h0m1-17h0m0 3h0m0 23h0m1-47h0m0 27h0m0 8h0m1-22h0m0 18h0m1-29h0m0 19h0m0 16h0m0 8h0m1-31h0m0 18h0m0 6h0m0 3h0m1-35h0m0 21h0m0 3h0m0 4h0m1-30h0m0 12h0m0 3h0m0 18h0m0 11h0m1-32h0m0 2h0m0 3h0m0 3h0m0 12h0m1-21h0m0 3h0m0 11h0m0 4h0m0 8h0m0 5h0m1-36h0m0 13h0m0 5h0m0 2h0m0 16h0m1-25h0m0 6h0m1-31h0m0 31h0m0 7h0m1-20h0m0 2h0m0 4h0m0 5h0m1-1h0m1-9h0m0 3h0m0 1h0m0 26h0m1-12h0m0 6h0m1-31h0m0 2h0m0 9h0m0 12h0m0 8h0m1-11h0m0 6h0m0 9h0m1-20h0m0 3h0m1 13h0m2-28h0m0 8h0m0 2h0m0 3h0m0 3h0m0 5h0m1-30h0m0 19h0m1-2h0m1-19h0m0 10h0m0 1h0m0 12h0m0 4h0m1-14h0m0 23h0m1-30h0m0 11h0m0 8h0m0 12h0m1-35h0m0 6h0m0 2h0m0 29h0m2-20h0m0 6h0m1-10h0m0 23h0m1-26h0m0 16h0m1-19h0m0 19h0m1-28h0m0 18h0m1-15h0m0 21h0m1-24h0m0 21h0m1-6h0m0 1h0m0 14h0m2-16h0m1 8h0m1-22h0m0 3h0m1 9h0m6-3h0" stroke="#47603f" opacity="0.5"/><path d="M76 433h0m5-5h0m1-3h0m0 10h0m2-4h0m1-12h0m0 8h0m0 11h0m1-9h0m0 2h0m1 3h0m1-28h0m0 1h0m1 2h0m0 17h0m0 8h0m1-6h0m1-13h0m1 3h0m1 22h0m1-34h0m0 7h0m0 19h0m0 1h0m1-18h0m2-6h0m0 5h0m0 13h0m1 5h0m0 9h0m1-23h0m1-15h0m0 3h0m0 8h0m0 8h0m0 4h0m1-22h0m0 17h0m0 3h0m1 14h0m1-43h0m0 21h0m1-10h0m0 7h0m0 14h0m1 12h0m1-29h0m0 4h0m0 8h0m1-8h0m1-9h0m0 5h0m0 8h0m1-15h0m0 5h0m0 15h0m0 6h0m0 1h0m0 8h0m1-18h0m0 14h0m1-42h0m1 19h0m0 9h0m0 1h0m0 5h0m0 8h0m1-31h0m0 16h0m0 8h0m0 7h0m2-17h0m0 7h0m0 1h0m0 13h0m1-38h0m0 8h0m0 2h0m0 1h0m0 4h0m1 16h0m1-16h0m0 3h0m2-20h0m0 14h0m0 1h0m0 8h0m1-18h0m0 1h0m0 4h0m0 5h0m0 3h0m1-26h0m0 20h0m0 2h0m0 22h0m1-47h0m0 36h0m1 11h0m1-44h0m0 7h0m0 12h0m0 1h0m1-10h0m0 4h0m0 1h0m0 7h0m0 3h0m0 4h0m1-17h0m0 6h0m0 2h0m0 1h0m0 6h0m0 11h0m1-27h0m0 2h0m0 2h0m0 7h0m0 1h0m0 8h0m0 13h0m1-50h0m0 7h0m0 12h0m0 2h0m0 5h0m0 2h0m0 6h0m0 10h0m0 8h0m1-36h0m0 8h0m0 1h0m0 21h0m1-44h0m0 4h0m0 11h0m0 3h0m0 8h0m0 1h0m0 2h0m0 13h0m0 5h0m1-19h0m0 1h0m0 21h0m1-35h0m0 7h0m0 21h0m0 7h0m1-46h0m0 11h0m0 7h0m0 2h0m0 2h0m0 5h0m0 4h0m1-22h0m0 4h0m0 9h0m0 10h0m0 5h0m1-33h0m0 9h0m0 1h0m0 1h0m0 7h0m0 1h0m0 6h0m1-26h0m0 11h0m0 7h0m0 1h0m0 1h0m0 4h0m0 8h0m0 7h0m1-35h0m0 4h0m0 3h0m0 22h0m0 7h0m1-36h0m0 17h0m1-27h0m0 25h0m1-32h0m0 8h0m0 1h0m0 9h0m0 3h0m0 8h0m0 9h0m0 12h0m1-41h0m0 8h0m0 3h0m0 2h0m0 8h0m0 1h0m1-22h0m0 1h0m0 5h0m0 5h0m0 1h0m0 8h0m0 10h0m2-34h0m0 11h0m0 5h0m0 14h0m0 6h0m1-39h0m0 33h0m0 10h0m1-30h0m0 2h0m0 10h0m0 1h0m0 4h0m0 15h0m1-21h0m0 3h0m1-22h0m0 4h0m0 2h0m1-7h0m0 19h0m0 19h0m1-12h0m1-10h0m0 2h0m0 2h0m0 3h0m0 5h0m1-17h0m0 6h0m0 11h0m0 4h0m1-38h0m0 18h0m0 7h0m1-15h0m0 1h0m0 6h0m0 2h0m0 2h0m0 11h0m0 5h0m1-39h0m0 37h0m0 2h0m1-35h0m0 12h0m0 17h0m1-23h0m0 10h0m0 3h0m1-14h0m0 7h0m0 22h0m3-25h0m1 17h0m1-20h0m0 8h0m0 4h0m1-20h0m1 14h0m1-4h0m0 17h0m1-13h0m1-13h0m0 12h0m0 17h0m1-4h0m1 3h0m3-8h0m0 1h0m1-17h0m5 2h0m0 11h0" stroke="#47603f" opacity="0.5"/><path d="M162 420h0m10-3h0m9 2h0m2-15h0m7 21h0m2-27h0m3-11h0m3-13h0m0 50h0m1-23h0m5 2h0m0 18h0m1-1h0m1-36h0m0 4h0m0 15h0m3-34h0m0 26h0m0 4h0m1-5h0m1-17h0m0 7h0m0 7h0m0 3h0m2-19h0m0 18h0m0 13h0m2 11h0m1-35h0m1 22h0m0 3h0m1-12h0m0 15h0m2-33h0m0 9h0m0 3h0m1 6h0m1-2h0m1-7h0m2-4h0m0 6h0m0 53h0m1-42h0m1-4h0m0 10h0m2-17h0m0 21h0m2-23h0m1-12h0m0 14h0m0 12h0m1-25h0m0 2h0m0 18h0m1-14h0m2 50h0m1-45h0m0 25h0m3-41h0m0 31h0m1 0h0m0 14h0m0 6h0m1-48h0m0 20h0m0 4h0m2 13h0m1-34h0m0 34h0m1-33h0m0 42h0m1-51h0m0 24h0m1-8h0m2-17h0m0 14h0m1 18h0m1-17h0m1-6h0m0 18h0m1-15h0m2-11h0m0 33h0m1-22h0m0 6h0m0 20h0m1-19h0m0 5h0m1-25h0m0 8h0m1-9h0m1 2h0m0 56h0m1-43h0m1-16h0m0 19h0m1-7h0m2-22h0m1 31h0m2-28h0m0 23h0m1-8h0m2 52h0m2-49h0m1-3h0m1-12h0m2 16h0m0 23h0m2-22h0m0 5h0m1-8h0m2-19h0m0 27h0m1-18h0m0 48h0m1-48h0m2-10h0m0 15h0m1-13h0m0 27h0m1-22h0m1 17h0m1-16h0m2-13h0m0 13h0m0 11h0m2-18h0m0 44h0m0 12h0m2-67h0m2 5h0m2 6h0m1-3h0m0 3h0m0 10h0m0 17h0m4 5h0m3-38h0m5 65h0m22-19h0" stroke="#3a5c28" opacity="0.5"/><path d="M165 406h0m8-7h0m4 11h0m2 18h0m1-16h0m2-12h0m0 31h0m6-11h0m1-33h0m1 15h0m1 5h0m4-5h0m1 21h0m3-37h0m3 7h0m0 10h0m0 3h0m1-34h0m0 32h0m2-41h0m1 48h0m3-9h0m1-11h0m2 9h0m0 5h0m3-10h0m1-19h0m0 1h0m1 8h0m1-31h0m0 48h0m1-22h0m0 16h0m3 5h0m0 13h0m3-45h0m2 15h0m0 1h0m5 0h0m0 2h0m0 24h0m1-19h0m2-35h0m0 55h0m0 12h0m1-7h0m1-48h0m0 5h0m0 4h0m0 67h0m1-66h0m1 8h0m1-9h0m0 22h0m1-10h0m0 5h0m0 21h0m1-30h0m0 7h0m1 5h0m1-32h0m3 14h0m0 6h0m0 10h0m2-13h0m0 7h0m1-28h0m0 25h0m1 20h0m1-38h0m0 18h0m3-25h0m1-9h0m0 26h0m0 15h0m0 1h0m1-9h0m0 14h0m1-36h0m0 14h0m0 12h0m1-24h0m0 14h0m0 32h0m1-15h0m1-39h0m0 22h0m0 3h0m2-14h0m1-14h0m0 20h0m1 30h0m1-48h0m0 18h0m1 53h0m1-58h0m0 2h0m0 10h0m1-8h0m0 1h0m1-10h0m1 12h0m1 50h0m1-70h0m0 22h0m1-34h0m1 18h0m0 10h0m1-19h0m0 21h0m0 1h0m0 11h0m1-35h0m0 11h0m0 4h0m1 23h0m1-4h0m2-13h0m1-13h0m0 9h0m1-13h0m0 9h0m1-21h0m2 50h0m1-32h0m1-11h0m1 8h0m2 2h0m0 4h0m1 5h0m3-5h0m5 17h0m2 12h0m4-24h0m1-1h0m7 25h0m7-41h0m3-7h0m2 2h0" stroke="#3a5c28" opacity="0.5"/><path d="M170 400h0m0 16h0m10-14h0m6 26h0m11-30h0m2 22h0m5-30h0m1 15h0m0 6h0m1-8h0m2-5h0m2-3h0m0 6h0m0 10h0m1-16h0m0 10h0m1-21h0m1 11h0m3 2h0m2-22h0m0 22h0m0 4h0m1-22h0m0 7h0m1-14h0m0 17h0m0 6h0m0 10h0m1-23h0m0 28h0m0 13h0m1-16h0m2-14h0m2-10h0m1-11h0m0 11h0m1 2h0m1-6h0m1 13h0m2-23h0m0 1h0m0 29h0m1-20h0m1-5h0m0 22h0m0 6h0m0 20h0m1-48h0m0 8h0m0 1h0m1-2h0m0 34h0m1-20h0m1-1h0m1-36h0m0 22h0m0 22h0m1-24h0m0 22h0m1-2h0m1-23h0m0 4h0m0 12h0m1 1h0m0 25h0m1-26h0m0 17h0m1-27h0m1-16h0m0 12h0m0 25h0m1-17h0m0 16h0m1-29h0m1-7h0m0 23h0m1-21h0m1 25h0m2-11h0m1-11h0m0 5h0m0 22h0m1-22h0m1-3h0m2-4h0m0 13h0m0 2h0m0 22h0m1-27h0m1-1h0m2 14h0m2-31h0m1 7h0m0 4h0m2-17h0m0 66h0m3-57h0m2-20h0m0 33h0m1-1h0m1 16h0m3-17h0m0 5h0m1-24h0m0 19h0m0 13h0m0 6h0m1-38h0m0 4h0m0 72h0m1-77h0m2 29h0m1-13h0m1-17h0m1 35h0m3-32h0m0 18h0m1-8h0m3-31h0m0 6h0m0 47h0m1-7h0m1-28h0m0 7h0m0 7h0m2-20h0m1 2h0m0 37h0m3-14h0m1 1h0m2 5h0m2-37h0m0 23h0m1 46h0m2-41h0m1 47h0m10-63h0m6 37h0m4-33h0" stroke="#3a5c28" opacity="0.5"/><path d="M169 414h0m7-17h0m5 23h0m4-24h0m5-11h0m2 30h0m0 1h0m1-19h0m0 5h0m4-6h0m2-4h0m1 8h0m1 16h0m1-27h0m0 18h0m0 7h0m1-36h0m4 44h0m3-15h0m2-22h0m2-15h0m1 17h0m2 13h0m1 19h0m2-32h0m0 4h0m0 10h0m2-31h0m0 13h0m0 1h0m0 1h0m1 9h0m1 5h0m0 28h0m4-11h0m1-26h0m1 10h0m3-30h0m2 0h0m0 5h0m0 19h0m1-19h0m0 13h0m0 43h0m1-34h0m1-17h0m0 7h0m0 9h0m1-33h0m0 7h0m0 16h0m1-7h0m1-5h0m1 9h0m0 51h0m1 13h0m2-44h0m0 1h0m1-45h0m1 23h0m0 3h0m2-12h0m0 4h0m0 3h0m3-11h0m1 16h0m0 3h0m1-26h0m0 8h0m0 1h0m0 18h0m1-20h0m0 15h0m0 5h0m1-10h0m1-17h0m0 4h0m0 19h0m0 6h0m0 1h0m0 4h0m0 3h0m1-27h0m1 11h0m0 4h0m0 5h0m1-22h0m0 15h0m1-19h0m0 9h0m0 29h0m2-25h0m1 37h0m2-43h0m0 3h0m2-4h0m1 9h0m1-27h0m1 2h0m1 3h0m0 7h0m2-11h0m0 6h0m1 28h0m1-16h0m0 41h0m1-39h0m1-10h0m0 9h0m1 21h0m1-16h0m1 1h0m1-18h0m0 56h0m1-67h0m0 7h0m0 19h0m0 6h0m1-17h0m0 11h0m1-20h0m0 15h0m1-16h0m1 22h0m1-8h0m1 1h0m1-2h0m1 22h0m1-32h0m1 17h0m5-6h0m2 15h0m4-30h0m1 18h0m1 0h0m1 20h0m6-46h0m3 15h0m3-25h0" stroke="#3a5c28" opacity="0.5"/><path d="M172 406h0m10-4h0m5 21h0m2-24h0m1-4h0m4 2h0m0 2h0m2 17h0m1-32h0m0 5h0m0 10h0m1-3h0m6-2h0m0 14h0m1-4h0m4 9h0m1-10h0m1-11h0m0 17h0m2-9h0m1-11h0m0 12h0m3 3h0m1-19h0m1-19h0m4 14h0m0 6h0m0 13h0m2-19h0m0 18h0m1-8h0m1 18h0m1-44h0m0 5h0m2 23h0m0 18h0m1-31h0m0 7h0m0 7h0m1-6h0m0 5h0m1-12h0m0 4h0m0 12h0m2-14h0m0 4h0m0 1h0m0 12h0m1-20h0m3 24h0m1-35h0m0 19h0m1 10h0m2-13h0m1-4h0m0 6h0m1 3h0m1-16h0m1 3h0m1 6h0m0 8h0m1 26h0m1-36h0m1 12h0m1-27h0m0 7h0m0 11h0m0 6h0m1-37h0m0 10h0m1 35h0m1-18h0m2-17h0m0 37h0m0 4h0m1-33h0m1 5h0m1-2h0m0 12h0m1-10h0m0 17h0m0 9h0m1-36h0m0 28h0m0 9h0m2-26h0m0 6h0m1 10h0m1-35h0m0 13h0m0 18h0m2 1h0m1-7h0m0 11h0m1-30h0m0 14h0m0 3h0m1 0h0m1 10h0m1-28h0m1 12h0m2 3h0m0 14h0m1-33h0m0 6h0m0 1h0m0 9h0m1-17h0m0 7h0m0 2h0m0 19h0m1-15h0m1 3h0m1-18h0m0 18h0m2-8h0m1-21h0m1 22h0m0 20h0m0 9h0m1-23h0m1-1h0m3-26h0m3-9h0m0 10h0m1 3h0m0 6h0m4 25h0m1-10h0m2-37h0m1 26h0m3-4h0m4 10h0m2-25h0m1 10h0m7 13h0m0 25h0m4-37h0" stroke="#3a5c28" opacity="0.5"/><path d="M163 406h0m8-23h0m10 13h0m2 2h0m0 5h0m3-3h0m2-5h0m0 13h0m5 14h0m5-16h0m0 10h0m1-16h0m0 7h0m2-3h0m0 16h0m1-13h0m4-20h0m0 16h0m3-5h0m1-14h0m0 12h0m0 3h0m1 7h0m1-15h0m0 2h0m1-20h0m0 36h0m3-25h0m2-10h0m0 11h0m1 31h0m1-41h0m0 16h0m1 4h0m0 1h0m3-29h0m1-2h0m1 15h0m1 15h0m1-9h0m0 16h0m0 5h0m1-14h0m0 23h0m2-37h0m3 20h0m0 5h0m1-28h0m0 8h0m0 7h0m1 34h0m2-48h0m0 36h0m0 13h0m2-44h0m0 17h0m1-8h0m0 12h0m1-4h0m1-39h0m0 33h0m1-27h0m0 17h0m1 12h0m2-25h0m1 11h0m0 1h0m1 1h0m1 24h0m1-26h0m0 3h0m0 1h0m1 0h0m3 3h0m1 0h0m2-17h0m1 5h0m0 3h0m0 1h0m0 4h0m0 10h0m4-36h0m0 12h0m0 31h0m1-47h0m0 6h0m0 12h0m0 63h0m4-68h0m0 36h0m2-48h0m0 41h0m1 0h0m1-21h0m1-14h0m0 22h0m0 2h0m0 16h0m1-47h0m0 5h0m0 22h0m0 1h0m0 4h0m1-25h0m0 12h0m2-8h0m0 3h0m1-10h0m1 15h0m0 6h0m1-24h0m0 9h0m1 0h0m0 1h0m0 6h0m1 6h0m1-22h0m0 38h0m2-25h0m1 8h0m1-16h0m0 19h0m1-2h0m1-16h0m0 4h0m0 16h0m1-14h0m2-22h0m1 5h0m1 29h0m1-30h0m2 12h0m1 1h0m1 13h0m5 46h0m1 0h0m2-70h0m10 59h0m1-49h0m2-15h0" stroke="#3a5c28" opacity="0.5"/><path d="M93 154h0m1 46h0m13 87h0m5-115h0m13 46h0m22 6h0m13 87h0m21-187h0m1 186h0m1-119h0m0 102h0m7 16h0m2 13h0m2-103h0m9 9h0m6 46h0m1-94h0m0 116h0m1-34h0m6 32h0m0 5h0m3-78h0m2 69h0m3-47h0m3 78h0m1-39h0m3 32h0m7-58h0m3 34h0m4 39h0m1-129h0m1 62h0m6 67h0m3-36h0m2 1h0m1-89h0m2 28h0m1 75h0m0 14h0m6-179h0m3 176h0m3-2h0m1-44h0m0 17h0m2-3h0m21 43h0m6-7h0m4-17h0m3 23h0" stroke="#5d7a52" opacity="0.42"/><path d="M99 206h0m0 120h0m2 3h0m5-38h0m8-44h0m11 57h0m3 20h0m21-9h0m26-22h0m2-57h0m1 21h0m0 67h0m2-36h0m1 41h0m2-95h0m1 90h0m1-107h0m7 45h0m3-59h0m6-37h0m3 10h0m3 97h0m5-83h0m0 38h0m9 95h0m1-198h0m0 204h0m13-27h0m7-43h0m4-53h0m0 67h0m3 40h0m5-45h0m7 4h0m2 58h0m7-139h0m1 117h0m1 22h0m1-134h0m8 85h0m4 47h0m4 2h0m3-162h0m7 138h0m5 15h0m4-77h0m0 2h0m1 76h0m2-127h0" stroke="#5d7a52" opacity="0.42"/><path d="M70 320h0m27-34h0m5-21h0m7 50h0m0 15h0m8-17h0m23-91h0m9 52h0m0 39h0m9-152h0m6 105h0m4 43h0m2-64h0m6-84h0m10 95h0m1 74h0m6-55h0m12 29h0m4-31h0m1-125h0m0 72h0m1 107h0m5-157h0m1 160h0m1-22h0m4-14h0m6-44h0m5 5h0m6 11h0m13-95h0m3 97h0m10-165h0m0 197h0m3-112h0m0 32h0m4 108h0m2-46h0m1-17h0m2 47h0m0 11h0m1-41h0m10-65h0m1-41h0m0 145h0m2 3h0m7 2h0m5 2h0m6-3h0m2-7h0" stroke="#5d7a52" opacity="0.42"/><path d="M71 226h0m5 102h0m6-215h0m1 187h0m12 20h0m13 1h0m10-173h0m13 182h0m46-21h0m5-75h0m4-28h0m6 119h0m1-4h0m4-127h0m2 99h0m1-165h0m5 201h0m4-104h0m4 103h0m2-66h0m1 27h0m11 39h0m2-130h0m0 130h0m2-111h0m4-83h0m2 196h0m4-211h0m2 74h0m0 120h0m10-23h0m6 22h0m13-43h0m4 57h0m4-80h0m0 2h0m1 80h0m3-26h0m8-11h0m8-84h0m4-11h0m1-25h0m2 121h0m0 28h0m1-82h0m0 22h0m1-48h0m4-6h0m2 25h0" stroke="#5d7a52" opacity="0.42"/><path d="M296 359h0m2-20h0m0 21h0m1-17h0m3-21h0m0 29h0m2-15h0m0 5h0m1-1h0m4 23h0m1 4h0m2-15h0m6-29h0m1 14h0m0 19h0m0 7h0m2-28h0m0 4h0m4 14h0m2-29h0m1 11h0m13-8h0m1 32h0m2-31h0m3 29h0m0 5h0m6-19h0m12-9h0m8 32h0m2-37h0m21 22h0m9-47h0m3 18h0m13-8h0m6 60h0m8-55h0m10 4h0m1 10h0m3 11h0m3-11h0m2 24h0m6-65h0m3 15h0m16-17h0m3 9h0m2 7h0m2 41h0m7-70h0m18 42h0m2-32h0m7 0h0m12 8h0m11 23h0m1 17h0m5-7h0m16-66h0m3-5h0m22 29h0m3-7h0" stroke="#3c3c3c" opacity="0.42"/><path d="M276 356h0m10 19h0m2-17h0m9-14h0m1 16h0m4-19h0m0 20h0m3-26h0m0 12h0m2 14h0m4-30h0m0 20h0m0 5h0m13-9h0m1 5h0m3 4h0m2-38h0m1 36h0m3 26h0m8-14h0m1-31h0m0 10h0m2-10h0m2 22h0m2-35h0m3 43h0m4-47h0m0 38h0m3-8h0m0 6h0m3-13h0m1 0h0m1 10h0m12 3h0m4 3h0m1-22h0m11-4h0m8 8h0m9-17h0m1 19h0m16 9h0m39-75h0m1 89h0m3-73h0m24 24h0m9-13h0m5-9h0m4 22h0m3-3h0m3 25h0m6-25h0m1 30h0m17-10h0m14-15h0m35-67h0m8 48h0m2 14h0m19-85h0m7 76h0" stroke="#3c3c3c" opacity="0.42"/><path d="M285 375h0m11-13h0m4-33h0m1 20h0m1 9h0m2-17h0m3 12h0m3-9h0m2-3h0m0 29h0m2-18h0m2-10h0m5 0h0m0 3h0m2 1h0m1-8h0m3 15h0m8 8h0m2-15h0m2 17h0m7-27h0m5 13h0m9-5h0m1-14h0m3 3h0m15 28h0m1-21h0m1-13h0m4 5h0m0 2h0m6-24h0m7 21h0m6 14h0m4-20h0m12-8h0m1-8h0m5 41h0m16-31h0m4 20h0m8-17h0m1-5h0m18 18h0m7 33h0m7-56h0m11-32h0m15 42h0m0 15h0m3-26h0m16-32h0m2 29h0m3 15h0m40-8h0m1-14h0m35-44h0m0 23h0m7 32h0m1-34h0m3-19h0" stroke="#3c3c3c" opacity="0.42"/><path d="M284 359h0m10-2h0m5 2h0m0 18h0m2-16h0m2-14h0m3 4h0m3 12h0m2-28h0m1-2h0m0 6h0m3 20h0m1-12h0m0 29h0m3-18h0m4 10h0m4-14h0m6-20h0m2 15h0m2-12h0m0 19h0m0 25h0m1-32h0m1-12h0m1-5h0m1 18h0m19 14h0m3-12h0m4 1h0m3-15h0m1 19h0m3-49h0m19 50h0m7-4h0m2-14h0m14 12h0m2 6h0m1-25h0m5-8h0m1-5h0m6-22h0m17 28h0m3-16h0m24 47h0m14-84h0m24 67h0m0 8h0m5-18h0m9 11h0m5-78h0m0 90h0m1-109h0m10 63h0m8-19h0m1 29h0m6 0h0m38 8h0m29-17h0" stroke="#3c3c3c" opacity="0.42"/><path d="M289 359h0m1-22h0m6 4h0m7 23h0m2-15h0m2 16h0m1-1h0m1-13h0m1-15h0m0 22h0m1-12h0m0 23h0m2-39h0m1 19h0m1-6h0m2 19h0m2-32h0m1 15h0m0 14h0m2 20h0m4-31h0m2-29h0m0 44h0m4-51h0m9 62h0m1-20h0m10 8h0m5-25h0m3 12h0m3-12h0m7 13h0m2-24h0m4 29h0m1-15h0m6-4h0m2-3h0m5-42h0m20 51h0m2-48h0m6 79h0m7-47h0m18-20h0m7 6h0m10 23h0m2-32h0m4 18h0m11-70h0m1 32h0m3 49h0m6 15h0m6-41h0m6-5h0m16-17h0m6 17h0m53-19h0m1 20h0m1-11h0m8-105h0" stroke="#3c3c3c" opacity="0.42"/><path d="M329 302h0m7-157h0m25 54h0m62-81h0m13-21h0m4 186h0m2 3h0m9 60h0m7-164h0m3 69h0m10-109h0m1 189h0m2 64h0m26-45h0m1-181h0m24-111h0m16 129h0m5 225h0m1-294h0m0 248h0m23-39h0m11-179h0m2 48h0m7-83h0m3 106h0m9 58h0m10-25h0m7 98h0m3-187h0m1 76h0" stroke="#555" opacity="0.42"/></g><rect x="422.1" y="391.5" width="50.4" height="67.1" fill="none" stroke="#72a062" stroke-width="0.9"/><rect x="422.1" y="460.2" width="24.3" height="25.1" fill="none" stroke="#cbe6bc" stroke-width="0.7"/><rect x="446.9" y="460.2" width="25.6" height="25.1" fill="none" stroke="#78c452" stroke-width="0.8"/><rect x="410.4" y="391.5" width="10.1" height="95" fill="none" stroke="#666" stroke-width="1.1"/><path d="M408.7 388.2V514.5M408.7 514.5H535.7M408.7 398.8h-3.8M408.7 429.9h-3.8M408.7 463.9h-3.8M408.7 484.9h-3.8M408.7 506.2h-3.8" fill="none" stroke="#333" stroke-width="0.85"/><path d="M408.7 420.5h-1.9M408.7 415.1h-1.9M408.7 411.2h-1.9M408.7 408.2h-1.9M408.7 405.7h-1.9M408.7 403.6h-1.9M408.7 401.8h-1.9M408.7 400.2h-1.9M408.7 453.7h-1.9M408.7 447.7h-1.9M408.7 443.4h-1.9M408.7 440.1h-1.9M408.7 437.4h-1.9M408.7 435.2h-1.9M408.7 433.2h-1.9M408.7 431.5h-1.9M408.7 389.4h-1.9M408.7 467.2h-1.4M408.7 470.7h-1.4M408.7 474.2h-1.4M408.7 477.7h-1.4M408.7 481.2h-1.4M408.7 488.7h-1.4M408.7 492.2h-1.4M408.7 495.7h-1.4M408.7 499.2h-1.4M408.7 502.7h-1.4M408.7 509.7h-1.4M409.3 514.5v3.4M414.1 514.5v1.8M418.9 514.5v1.8M423.7 514.5v1.8M428.6 514.5v1.8M433.4 514.5v3.4M438.2 514.5v1.8M443 514.5v1.8M447.8 514.5v1.8M452.6 514.5v1.8M457.4 514.5v3.4M462.3 514.5v1.8M467.1 514.5v1.8M471.9 514.5v1.8M476.7 514.5v1.8M481.5 514.5v3.4M486.3 514.5v1.8M491.2 514.5v1.8M496 514.5v1.8M500.8 514.5v1.8M505.6 514.5v3.4M510.4 514.5v1.8M515.2 514.5v1.8M520 514.5v1.8M524.9 514.5v1.8M529.7 514.5v3.4M534.5 514.5v1.8" fill="none" stroke="#333" stroke-width="0.8"/><g font-size="3.9" fill="#a2a2a2" font-weight="400"><text x="403.3" y="400.1" text-anchor="end">10⁵</text><text x="403.3" y="431.2" text-anchor="end">10⁴</text><text x="403.3" y="465.2" text-anchor="end">10³</text><text x="403.3" y="486.2" text-anchor="end">0</text><text x="403.3" y="507.5" text-anchor="end">-10³</text><text x="409.8" y="523.1" text-anchor="middle">0</text><text x="433.9" y="523.1" text-anchor="middle">50K</text><text x="457.9" y="523.1" text-anchor="middle">100K</text><text x="482" y="523.1" text-anchor="middle">150K</text><text x="506.1" y="523.1" text-anchor="middle">200K</text><text x="530.1" y="523.1" text-anchor="middle">250K</text></g><path d="M427.3 492L430.2 485.9" stroke="#151515" stroke-width="0.8" fill="none"/><path d="M431.7 482.6L431.9 486.7L428.5 485.1Z" fill="#151515"/><path d="M462.1 492L459.6 486.4" stroke="#151515" stroke-width="0.8" fill="none"/><path d="M458.1 483.1L461.3 485.6L457.8 487.2Z" fill="#151515"/><g font-size="7.2" fill="#161616" stroke="#161616" stroke-width="0.3"><text x="425.4" y="399.5" fill="#213a1f" stroke="#213a1f">S: 0.41%</text><text x="482.9" y="400.2">&gt;4n: 1.65%</text><text x="426.5" y="499.5" text-anchor="middle">G1:</text><text x="425.9" y="510" text-anchor="middle">79.72%</text><text x="468.1" y="499.5" text-anchor="middle">G2/M:</text><text x="467.9" y="510" text-anchor="middle">16.99%</text><text transform="translate(417.5 419.2) rotate(-90)" text-anchor="middle">SubG1: 1.23%</text></g><text x="472.6" y="532.4" text-anchor="middle" font-size="9.8" stroke="#111" stroke-width="0.3">7AAD</text><text transform="translate(394.1 454.9) rotate(-90)" text-anchor="middle" font-size="9.6" stroke="#111" stroke-width="0.3">APC - BrdU</text><text x="469.2" y="378.7" text-anchor="middle" font-size="16.7" stroke="#111" stroke-width="0.3">Palbo 144 h</text></g>
<text x="15.6" y="20.7" font-size="13.2" stroke="#111" stroke-width="0.25">a</text><text x="15.6" y="198.3" font-size="13.2" stroke="#111" stroke-width="0.25">b</text><text x="15.6" y="379.8" font-size="13.2" stroke="#111" stroke-width="0.25">c</text>
</svg></body></html>
